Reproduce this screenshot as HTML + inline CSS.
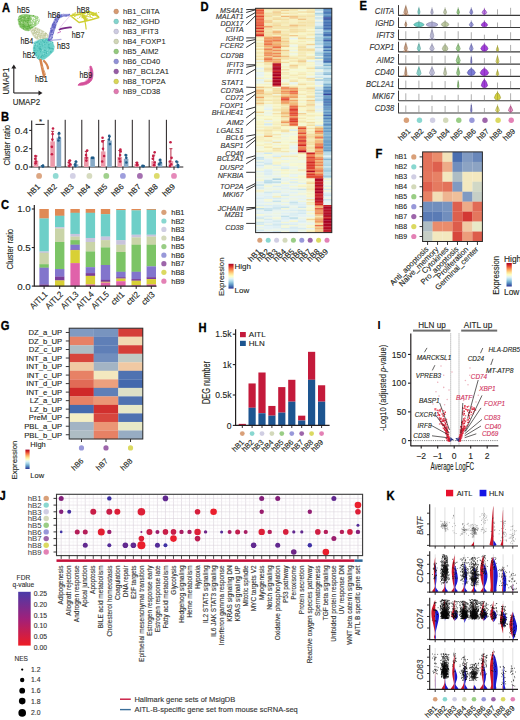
<!DOCTYPE html>
<html><head><meta charset="utf-8"><style>
html,body{margin:0;padding:0;background:#fff;}
body{width:520px;height:720px;overflow:hidden;}
svg{display:block;font-family:"Liberation Sans", sans-serif;}
</style></head><body>
<svg width="520" height="720" viewBox="0 0 520 720">
<rect width="520" height="720" fill="#fff"/>
<defs>
<linearGradient id="gexpr" x1="0" y1="0" x2="0" y2="1"><stop offset="0" stop-color="#a50026"/><stop offset="0.1" stop-color="#d73027"/><stop offset="0.2" stop-color="#f46d43"/><stop offset="0.3" stop-color="#fdae61"/><stop offset="0.4" stop-color="#fee090"/><stop offset="0.5" stop-color="#ffffbf"/><stop offset="0.6" stop-color="#e0f3f8"/><stop offset="0.7" stop-color="#abd9e9"/><stop offset="0.8" stop-color="#74add1"/><stop offset="0.9" stop-color="#4575b4"/><stop offset="1" stop-color="#313695"/></linearGradient>
<linearGradient id="gq" x1="0" y1="0" x2="0" y2="1"><stop offset="0" stop-color="#4a3aa8"/><stop offset="0.5" stop-color="#a0207a"/><stop offset="1" stop-color="#ee1c24"/></linearGradient>
</defs>
<text x="2" y="12" font-size="13" text-anchor="start" fill="#000" font-weight="bold" textLength="8.07" lengthAdjust="spacingAndGlyphs" stroke="#000" stroke-width="0.35">A</text>
<path d="M29.6,28.5 L36.5,27.5 L43.4,31 L48.5,35 L47.5,40 L41,40.5 L36,39 L32.5,35 Z" fill="#c9cfa6" stroke="#c9cfa6" stroke-width="0.6" fill-opacity="0.75" stroke-opacity="0.5" stroke-linejoin="round"/>
<path d="M34.1 34.6h0M36.6 35.4h0M34.5 30.5h0M45.4 33.7h0M41.6 38.8h0M39.5 37.1h0M43.9 35.2h0M35.3 27.9h0M46 33.6h0M43.2 38.9h0M43.1 39.5h0M37.1 37.9h0M32.2 30.3h0M41.4 31.4h0M39.2 32.5h0M36.2 35.1h0M40.6 39.3h0M42.5 39.6h0M45.9 40h0M46.7 34.9h0M45.3 35h0M35 28.3h0M37.4 29.5h0M35.2 37.5h0M43.2 31.8h0M35.5 28.5h0M33.3 32.8h0M38.3 34.3h0M41.8 35.2h0M40.2 35.6h0M37.7 36.9h0M34.1 31.4h0M37.4 35h0M41.5 33.6h0M42.4 32.1h0M43 37.1h0M42.4 40h0M34.3 33.4h0M40.8 31.7h0M36.5 31.6h0M36.6 35.2h0M35.3 32.4h0M40.4 37.1h0M35.5 30.4h0M33.1 33.2h0M35.7 31.8h0M45.4 33.2h0M36 36h0M46.3 33.4h0M33.9 29.1h0M39.6 30h0M44.8 38.4h0M33.1 31.1h0M44.9 35.8h0M32.1 31.3h0M36.1 32.9h0M37.5 32.8h0M43.7 38.4h0M42.1 34.2h0M35.1 31.9h0" stroke="#bcc596" stroke-width="1.2" stroke-linecap="round"/>
<path d="M33.9 28.4h0M40.7 31.2h0M46.7 36.5h0M47.1 39.2h0M46.6 35h0M32.8 31.4h0M42.1 34.3h0M41.2 31.9h0M38.6 37.7h0M36.2 30.1h0M39.7 38.1h0M47 38h0M41.5 38.7h0M34.7 34.4h0M37.6 33.6h0M30.6 29.1h0M32 28.4h0M35.6 31.6h0M36.2 35.9h0M40.7 32.2h0M33.2 31.8h0M43.1 32.4h0M31.1 29.8h0M36.7 35.4h0M44.4 32.4h0" stroke="#ffffff" stroke-width="0.96" stroke-linecap="round"/>
<path d="M18.7,16.5 L21.5,14.8 L26.1,14.2 L33.1,15.4 L37.7,16.5 L39.4,20 L38.3,23.5 L35.4,25.8 L31.9,28.1 L29,31 L25,30.4 L21,28.1 L18.7,24.6 L18.1,20 Z" fill="#7cc05e" stroke="#7cc05e" stroke-width="0.6" fill-opacity="0.95" stroke-opacity="0.5" stroke-linejoin="round"/>
<path d="M35.2 24.7h0M27.3 20.5h0M28.7 26h0M27.1 25.9h0M27.9 18.3h0M29.5 25.9h0M19.6 21.3h0M27.2 29h0M38 20.5h0M23.7 22h0M35 25.4h0M33.7 23.7h0M20.3 24.1h0M20.1 15.9h0M36.9 17.2h0M34.4 22.8h0M33.3 16h0M19.4 19.6h0M30.1 28.1h0M23.3 17.2h0M23.4 24.5h0M34.2 20.8h0M25.9 20.9h0M25.6 21.2h0M19.9 22.6h0M38.8 21.1h0M34 16.9h0M32.8 26.9h0M32.5 22.9h0M28.4 25h0M37.2 16.7h0M20.1 26.8h0M37.6 22.9h0M27.5 26.3h0M22.1 18.7h0M22.3 24h0M24.8 18.1h0M24.4 26h0M26.9 28.5h0M30.6 18.7h0M28.3 20.6h0M21.8 20.3h0M25 27.2h0M28.3 24.3h0M28.1 28.2h0M35.6 23.6h0M28.4 26.3h0M36.3 20.9h0M28.1 18.1h0M23.1 26.3h0M36.3 18.3h0M22.1 18.5h0M22.1 26h0M23.5 28.7h0M24.8 21.3h0M33.6 15.6h0M24.3 20.2h0M30.5 25.5h0M18.2 19.8h0M27.4 22.4h0M22.6 24h0M38.4 20.8h0M29.7 16.2h0M24 25.4h0M38.1 20.5h0M24.4 25.6h0M32 27.7h0M23.8 26.9h0M29.5 16.1h0M28.6 20.1h0M33.4 25.6h0M30.2 17.3h0M31.9 24.8h0M32.1 16.3h0M25.2 26.3h0M30.8 23.5h0M31.9 21.9h0M24.8 17.2h0M34.2 23.3h0M33.9 20.2h0M23.8 20.6h0M28.9 18.4h0M34.5 20.1h0M25.2 21h0M29.6 27.2h0M25.6 28.4h0M20.5 18.7h0M20.2 16.1h0M22 17.4h0M27 26.7h0" stroke="#5fb040" stroke-width="1.2" stroke-linecap="round"/>
<path d="M30.7 16.7h0M26.6 17.5h0M29.3 23.7h0M22.4 18.4h0M38.3 20.6h0M29.9 24h0M32.7 19.2h0M36.4 22.3h0M30.9 26.4h0M32.2 22.5h0M29.3 21.9h0M22.2 23.1h0M18.9 22.6h0M31.9 21.7h0M37.1 16.5h0M35 24.7h0M19.2 20.2h0M23.1 15.5h0M29.6 29.8h0M25 28.8h0M32.9 16.5h0M36.4 24.3h0M33.9 20h0M36.4 21.5h0M34.2 22.3h0M19.8 17.6h0M21.5 22.6h0M33 23.2h0M27.1 25.1h0M24.6 22h0M34.2 20.9h0M33.4 20.4h0M26 23.1h0M30.8 18h0M34.8 16.6h0" stroke="#c8e6b4" stroke-width="0.96" stroke-linecap="round"/>
<path d="M31,17 L37.7,16.5 L39.4,20 L38.3,23.5 L35.4,25.8 L32,27 L30.5,22 Z" fill="#a8d890" stroke="#a8d890" stroke-width="0.6" fill-opacity="0.7" stroke-opacity="0.5" stroke-linejoin="round"/>
<path d="M34.6 18.6h0M32.4 18.3h0M34.1 18.3h0M32 21.6h0M34.5 20.8h0M36.8 17h0M34.1 20.7h0M32.4 17.5h0M34.7 18.2h0M36 20.1h0M31.6 17h0M37 19.4h0M37.5 21.4h0M38.8 19.7h0M32.7 19.3h0M37.8 23.1h0M33.6 17.5h0M31 23.4h0M38.5 18.6h0M33.2 22.9h0M33.1 25.4h0M31.5 20.6h0M33.5 23.6h0M37.1 24.2h0M37.9 22.3h0M38.7 20.3h0M34.2 18.9h0M37.4 21.5h0M32.9 18.3h0M36.9 22.9h0" stroke="#ffffff" stroke-width="1" stroke-linecap="round"/>
<path d="M34.2,41.9 L40,39.6 L48,38.4 L52.7,41.9 L54.4,46.5 L53.8,51.1 L49.2,55.7 L44.6,59.2 L40,60.4 L37.1,58 L33.6,53.4 L33.1,48.8 Z" fill="#62cdc6" stroke="#62cdc6" stroke-width="0.6" fill-opacity="0.95" stroke-opacity="0.5" stroke-linejoin="round"/>
<path d="M48.2 46.9h0M43.5 41.8h0M48.2 38.9h0M43 55.1h0M47.5 40.5h0M38.2 57h0M51.7 48.3h0M40.2 46.5h0M34.6 47.2h0M45.2 40.8h0M34.8 52.7h0M36.4 52.6h0M37.8 50.8h0M42 55.6h0M46 55.8h0M44.5 42.5h0M50.7 40.9h0M37.3 58.1h0M34.9 48.6h0M37.8 56.6h0M46.2 52.5h0M40.5 51.7h0M42.6 40.8h0M50.9 51.5h0M50.5 42.9h0M44.6 48.6h0M48.6 40.1h0M40.5 49.1h0M34.6 50.6h0M48.8 47.7h0M46.9 51.7h0M37.7 46.1h0M42.3 40.3h0M37.7 42h0M44.5 47.6h0M53.3 49.1h0M49.6 47.4h0M39.3 59h0M48.5 44.9h0M44.2 52.5h0M39 47.9h0M40.4 54.7h0M49 44.7h0M35.3 45h0M41.9 40.1h0M36.4 55.2h0M41 41.9h0M39.7 48.6h0M44.3 50.3h0M40.8 57.2h0M39.2 48.6h0M39.4 43.7h0M35.9 50.1h0M44.5 42h0M34.2 42.9h0M49.5 48.6h0M42.3 45.8h0M34.2 50.4h0M35.1 45.3h0M38.4 56h0M42 44.1h0M34 47.9h0M46.5 53.3h0M38.4 41.4h0M43.9 56.7h0M44.9 44.6h0M52.4 48.7h0M50.4 51.7h0M41.9 49.8h0M36.7 42.4h0M44.8 47.4h0M40.6 48.4h0M50.2 48.4h0M39.8 49.9h0M41.9 57.1h0M46.1 39.1h0M45.3 50.5h0M43.5 44.6h0M35.3 53.1h0M41 49.7h0M46.8 42.7h0M52.7 42.4h0M41.3 56.6h0M39.8 44.4h0M39.9 47h0M39.1 41.3h0M34.8 43.5h0M44.3 54.7h0M51 52.3h0M39.1 59.5h0" stroke="#45b8b2" stroke-width="1.2" stroke-linecap="round"/>
<path d="M34.6 44.3h0M43.4 44.3h0M44.7 39.4h0M47.5 52.6h0M49.3 42.3h0M37.1 56.5h0M53.6 50.2h0M41.2 40.8h0M39.1 41.3h0M36.2 41.2h0M40.6 58.5h0M34.7 42.6h0M40.6 59.3h0M43.4 53.9h0M40.5 54.9h0M49.8 50.9h0M43 50.2h0M42.5 50.2h0M50.8 42.8h0M51.2 42.3h0M36.7 44.2h0M53.9 47.4h0M47.7 50h0M49.4 40.4h0M44.6 48.1h0" stroke="#a8e6e2" stroke-width="0.96" stroke-linecap="round"/>
<path d="M40.5,60 C41.5,64 42.5,70 44.2,76.5" fill="none" stroke="#d58650" stroke-width="2.6" stroke-linecap="round"/>
<path d="M44,61 C46,63 48,66 48,68.5" fill="none" stroke="#d58650" stroke-width="2.2" stroke-linecap="round"/>
<path d="M41.8,66 C43.5,69 45,72 45.5,75" fill="none" stroke="#e0a070" stroke-width="1"/>
<path d="M48,41 L49.5,33 L52,25 L55.5,17.5 L58,14.5 L64,14.2 L70,14.2 L70,16 L63,16.5 L59,18.5 L57,23 L55,29 L53,35 L51.5,41 Z" fill="#7070cc" stroke="#7070cc" stroke-width="0.6" fill-opacity="0.85" stroke-opacity="0.5" stroke-linejoin="round"/>
<path d="M51.2 30.3h0M55.1 27.8h0M56.2 22.7h0M49.3 37.1h0M56.1 20h0M54.6 27.7h0M52.8 24.1h0M54 24.6h0M57.6 16.8h0M55.3 25.4h0M52.4 24.7h0M48.6 39.3h0M50.9 28.4h0M52.3 37.6h0M66.3 15.7h0M52.8 26.1h0M51.9 34.3h0M57.7 15.7h0M58.6 19h0M53.5 32.9h0M52.3 25.1h0M60.7 17.1h0M52.4 27.7h0M54.1 22.6h0M57.5 21.2h0M50.2 33.1h0M51.6 32.1h0M53.9 27.8h0M51.7 31.4h0M52.6 34.5h0M51.5 40.5h0M51 30.9h0M63.4 14.3h0M52.9 26.3h0M53.1 25.3h0M55.5 19.5h0M50.2 39h0M57.7 17.6h0M54.7 26.9h0M54.6 22.4h0M50.9 31h0M49.9 40h0M49 40h0M61.9 16.4h0M69.2 14.4h0M61.2 15h0M53.7 26.9h0M53.6 23.8h0M55.5 25.8h0M52.3 30.4h0M50.3 34.7h0M52.4 24.8h0M51 35h0M54.9 26.1h0M48.4 39.6h0M55 24.5h0M49.9 38h0M54.7 20h0M66 16.1h0M51.4 40.2h0" stroke="#5e5ec0" stroke-width="1.1" stroke-linecap="round"/>
<path d="M60.3 17.3h0M57.4 15.7h0M50.3 38.3h0M56.8 23.4h0M60.7 14.9h0M55.4 22h0M58.6 17.4h0M51.7 36.9h0M56.3 23.9h0M50.5 37.4h0M51.9 35.5h0M69.6 15.6h0M56.3 17.1h0M49.8 38.1h0M62.6 15h0M52.6 33.4h0M63.4 14.6h0M52.2 28.6h0M51 33.7h0M54.2 20.5h0" stroke="#c8c8f0" stroke-width="0.88" stroke-linecap="round"/>
<path d="M59.5,29.5 C62,28.5 66,28 71,27.3" fill="none" stroke="#7a2a88" stroke-width="1.8" stroke-linecap="round"/>
<path d="M57.5,33 C59,32.5 60,32 61,31.5" fill="none" stroke="#c050b0" stroke-width="0.9"/>
<path d="M70,16 C66,20 62,25 59,29" fill="none" stroke="#d8a8e0" stroke-width="0.6"/>
<path d="M51,40.5 C54,40 57.5,39.8 61,39.3" fill="none" stroke="#b0aee0" stroke-width="1.3" stroke-linecap="round"/>
<path d="M70.5,15.6 L76,14.8 L83.5,13.5 L88,11.5 L93,13 L98.8,17.5 L92,19.5 L86,21 L79,22.5 Z" fill="none" stroke="#cfd032" stroke-width="1.4" stroke-linejoin="round"/>
<path d="M82.5,14 C84,17 85.5,22 86.2,29.5" fill="none" stroke="#cfd032" stroke-width="1.2"/>
<path d="M81,16 C85,15.5 89,16.5 93,18" fill="none" stroke="#cfd032" stroke-width="0.8"/>
<path d="M82,16.5 C84.5,16 85.5,18.5 86,21" fill="none" stroke="#cfd032" stroke-width="3"/>
<path d="M88,11.5 C92,12 96,14 99,17" fill="none" stroke="#cfd032" stroke-width="1.2"/>
<path d="M77.1 15.1h0M89.8 13.5h0M91.8 12.7h0M91.2 13.7h0M82.6 15.5h0M82.4 17.2h0M87.9 14h0M85.4 13.1h0M80.5 14.4h0M89.9 15.4h0M86 17.2h0M84 13.4h0M93.5 13.8h0M73.7 13.9h0M87.2 15.1h0M80.1 16.3h0M80 13h0M94.3 13.2h0M87.6 18.9h0M75.3 13.2h0M93.4 14.8h0M74.3 15h0M90.4 16.6h0M74.6 16.3h0M83.1 14.8h0M93.1 14.3h0M90.2 14.7h0M89.8 14h0M92.9 13.6h0M78.7 12.5h0M84 18.5h0M95.2 15.1h0M76.9 15h0M91.5 13.1h0M78 14.2h0M80.9 15.2h0M82 13.8h0M85 15.4h0M91.3 13.1h0M93.7 13.1h0M85.4 17.2h0M92.5 12.8h0M96.9 14.2h0M73.4 14.4h0M80.3 12.9h0M79.6 17.5h0M82.1 13h0M92.4 12.7h0M72.4 14.1h0M95.3 13.4h0M82 17.7h0M73.4 15.5h0M94.5 13.5h0M93.6 15.4h0M98.7 12.5h0M92 13h0M77.3 13.9h0M92.7 15.4h0M73.6 14.8h0M77 15.3h0M84.3 13.2h0M80 12.7h0M88.8 14.3h0M87.3 12.8h0M95.5 15h0M95.2 14.2h0M73.8 15.3h0M87.5 19.1h0M96.4 12.9h0M95.7 13.7h0M74.4 13.8h0M75.2 12.6h0M78.8 15h0M84.6 13.4h0M75.6 15.9h0M79.4 14.4h0M91.4 14.4h0M93.8 14.1h0M85.6 17.3h0M86.5 16h0M77.9 18.3h0M88.9 14.1h0M89.1 14.1h0M84.4 15.2h0M92.4 14.6h0M95.4 13h0M82.1 16.1h0M87.6 14.1h0M80.3 14.3h0M94 15.4h0" stroke="#cfd032" stroke-width="1.2" stroke-linecap="round"/>
<path d="M91,66 C93.5,70 93.5,77 91.5,80.5 C88.5,84.5 83,85.8 78,85.2 C79,83.3 80,83 83,82.6 C86.5,82 88.5,79.5 89.5,76.5 C90.3,73 90.3,69.5 89.8,66.5 Z" fill="#d4509a" stroke="#d4509a" stroke-width="0.8"/>
<path d="M88.5,69 C89,73 88.5,78 85,81" fill="none" stroke="#f0a8cc" stroke-width="0.5"/>
<text x="17" y="13.2" font-size="8.2" text-anchor="start" fill="#231f20" stroke="#231f20" stroke-width="0.12" textLength="12.8" lengthAdjust="spacingAndGlyphs">hB5</text>
<text x="47.8" y="17.5" font-size="8.2" text-anchor="start" fill="#231f20" stroke="#231f20" stroke-width="0.12" textLength="12.8" lengthAdjust="spacingAndGlyphs">hB6</text>
<text x="76.8" y="12.5" font-size="8.2" text-anchor="start" fill="#231f20" stroke="#231f20" stroke-width="0.12" textLength="12.8" lengthAdjust="spacingAndGlyphs">hB8</text>
<text x="71.8" y="38" font-size="8.2" text-anchor="start" fill="#231f20" stroke="#231f20" stroke-width="0.12" textLength="12.8" lengthAdjust="spacingAndGlyphs">hB7</text>
<text x="20.4" y="44" font-size="8.2" text-anchor="start" fill="#231f20" stroke="#231f20" stroke-width="0.12" textLength="12.8" lengthAdjust="spacingAndGlyphs">hB4</text>
<text x="56.9" y="49.4" font-size="8.2" text-anchor="start" fill="#231f20" stroke="#231f20" stroke-width="0.12" textLength="12.8" lengthAdjust="spacingAndGlyphs">hB3</text>
<text x="22.7" y="57.9" font-size="8.2" text-anchor="start" fill="#231f20" stroke="#231f20" stroke-width="0.12" textLength="12.8" lengthAdjust="spacingAndGlyphs">hB2</text>
<text x="35" y="82.3" font-size="8.2" text-anchor="start" fill="#231f20" stroke="#231f20" stroke-width="0.12" textLength="12.8" lengthAdjust="spacingAndGlyphs">hB1</text>
<text x="79.4" y="77.5" font-size="8.2" text-anchor="start" fill="#231f20" stroke="#231f20" stroke-width="0.12" textLength="12.8" lengthAdjust="spacingAndGlyphs">hB9</text>
<path d="M13.8,93 L13.8,67" fill="none" stroke="#231f20" stroke-width="1.1"/>
<path d="M11.3,68.5 L13.8,64.5 L16.3,68.5 Z" fill="#231f20" stroke="none" stroke-width="1"/>
<path d="M13.8,93 L39.5,93" fill="none" stroke="#231f20" stroke-width="1.1"/>
<path d="M38.5,90.5 L42.5,93 L38.5,95.5 Z" fill="#231f20" stroke="none" stroke-width="1"/>
<text x="9.2" y="94.6" font-size="8.6" text-anchor="start" fill="#231f20" stroke="#231f20" stroke-width="0.12" transform="rotate(-90 9.2 94.6)" textLength="27" lengthAdjust="spacingAndGlyphs">UMAP1</text>
<text x="12.7" y="104.6" font-size="8.2" text-anchor="start" fill="#231f20" stroke="#231f20" stroke-width="0.12" textLength="27.5" lengthAdjust="spacingAndGlyphs">UMAP2</text>
<circle cx="116.2" cy="11.5" r="2.4" fill="#d08858" fill-opacity="0.85" stroke="#915f3d" stroke-width="0.5" stroke-opacity="0.6"/>
<text x="123" y="14.3" font-size="7.6" text-anchor="start" fill="#231f20" stroke="#231f20" stroke-width="0.06">hB1_CIITA</text>
<circle cx="116.2" cy="21.5" r="2.4" fill="#6ccdc4" fill-opacity="0.85" stroke="#4b8f89" stroke-width="0.5" stroke-opacity="0.6"/>
<text x="123" y="24.3" font-size="7.6" text-anchor="start" fill="#231f20" stroke="#231f20" stroke-width="0.06">hB2_IGHD</text>
<circle cx="116.2" cy="31.5" r="2.4" fill="#c4c2dc" fill-opacity="0.85" stroke="#89879a" stroke-width="0.5" stroke-opacity="0.6"/>
<text x="123" y="34.3" font-size="7.6" text-anchor="start" fill="#231f20" stroke="#231f20" stroke-width="0.06">hB3_IFIT3</text>
<circle cx="116.2" cy="41.5" r="2.4" fill="#c8cfa9" fill-opacity="0.85" stroke="#8c9076" stroke-width="0.5" stroke-opacity="0.6"/>
<text x="123" y="44.3" font-size="7.6" text-anchor="start" fill="#231f20" stroke="#231f20" stroke-width="0.06">hB4_FOXP1</text>
<circle cx="116.2" cy="51.5" r="2.4" fill="#80c066" fill-opacity="0.85" stroke="#598647" stroke-width="0.5" stroke-opacity="0.6"/>
<text x="123" y="54.3" font-size="7.6" text-anchor="start" fill="#231f20" stroke="#231f20" stroke-width="0.06">hB5_AIM2</text>
<circle cx="116.2" cy="61.5" r="2.4" fill="#7e7ed0" fill-opacity="0.85" stroke="#585891" stroke-width="0.5" stroke-opacity="0.6"/>
<text x="123" y="64.3" font-size="7.6" text-anchor="start" fill="#231f20" stroke="#231f20" stroke-width="0.06">hB6_CD40</text>
<circle cx="116.2" cy="71.5" r="2.4" fill="#853f95" fill-opacity="0.85" stroke="#5d2c68" stroke-width="0.5" stroke-opacity="0.6"/>
<text x="123" y="74.3" font-size="7.6" text-anchor="start" fill="#231f20" stroke="#231f20" stroke-width="0.06">hB7_BCL2A1</text>
<circle cx="116.2" cy="81.5" r="2.4" fill="#d2cf3a" fill-opacity="0.85" stroke="#939028" stroke-width="0.5" stroke-opacity="0.6"/>
<text x="123" y="84.3" font-size="7.6" text-anchor="start" fill="#231f20" stroke="#231f20" stroke-width="0.06">hB8_TOP2A</text>
<circle cx="116.2" cy="91.5" r="2.4" fill="#dc62a2" fill-opacity="0.85" stroke="#9a4471" stroke-width="0.5" stroke-opacity="0.6"/>
<text x="123" y="94.3" font-size="7.6" text-anchor="start" fill="#231f20" stroke="#231f20" stroke-width="0.06">hB9_CD38</text>
<text x="1" y="120.5" font-size="13" text-anchor="start" fill="#000" font-weight="bold" textLength="8.07" lengthAdjust="spacingAndGlyphs" stroke="#000" stroke-width="0.35">B</text>
<line x1="31.7" y1="120.5" x2="31.7" y2="167.5" stroke="#231f20" stroke-width="1.1"/>
<line x1="29.2" y1="167" x2="31.7" y2="167" stroke="#231f20" stroke-width="1.1"/>
<text x="28.3" y="170.4" font-size="9.5" text-anchor="end" fill="#231f20" stroke="#231f20" stroke-width="0.12" textLength="13.6" lengthAdjust="spacingAndGlyphs">0.0</text>
<line x1="29.2" y1="148.7" x2="31.7" y2="148.7" stroke="#231f20" stroke-width="1.1"/>
<text x="28.3" y="152.1" font-size="9.5" text-anchor="end" fill="#231f20" stroke="#231f20" stroke-width="0.12" textLength="13.6" lengthAdjust="spacingAndGlyphs">0.2</text>
<line x1="29.2" y1="130.4" x2="31.7" y2="130.4" stroke="#231f20" stroke-width="1.1"/>
<text x="28.3" y="133.8" font-size="9.5" text-anchor="end" fill="#231f20" stroke="#231f20" stroke-width="0.12" textLength="13.6" lengthAdjust="spacingAndGlyphs">0.4</text>
<text x="9.5" y="165.5" font-size="9.5" text-anchor="start" fill="#231f20" stroke="#231f20" stroke-width="0.12" transform="rotate(-90 9.5 165.5)" textLength="40.5" lengthAdjust="spacingAndGlyphs">Cluster ratio</text>
<line x1="31.7" y1="167" x2="183.3" y2="167" stroke="#231f20" stroke-width="1.1"/>
<line x1="48.1" y1="119.8" x2="48.1" y2="167" stroke="#231f20" stroke-width="1"/>
<line x1="65.2" y1="119.8" x2="65.2" y2="167" stroke="#231f20" stroke-width="1"/>
<line x1="81.8" y1="119.8" x2="81.8" y2="167" stroke="#231f20" stroke-width="1"/>
<line x1="98.7" y1="119.8" x2="98.7" y2="167" stroke="#231f20" stroke-width="1"/>
<line x1="115.3" y1="119.8" x2="115.3" y2="167" stroke="#231f20" stroke-width="1"/>
<line x1="132.3" y1="119.8" x2="132.3" y2="167" stroke="#231f20" stroke-width="1"/>
<line x1="149.2" y1="119.8" x2="149.2" y2="167" stroke="#231f20" stroke-width="1"/>
<line x1="166.4" y1="119.8" x2="166.4" y2="167" stroke="#231f20" stroke-width="1"/>
<rect x="33.7" y="160.59" width="4.6" height="6.41" fill="#ec9aaa"/>
<line x1="36" y1="156.02" x2="36" y2="160.59" stroke="#b01838" stroke-width="0.9"/>
<line x1="34.5" y1="156.02" x2="37.5" y2="156.02" stroke="#b01838" stroke-width="0.9"/>
<circle cx="35.52" cy="163.34" r="1.3" fill="#c41e45"/>
<circle cx="35.93" cy="161.51" r="1.3" fill="#c41e45"/>
<circle cx="35.19" cy="158.76" r="1.3" fill="#c41e45"/>
<circle cx="35.46" cy="156.02" r="1.3" fill="#c41e45"/>
<rect x="40" y="166.09" width="4.6" height="0.92" fill="#86a9c6"/>
<line x1="42.3" y1="165.63" x2="42.3" y2="166.09" stroke="#1b4f7a" stroke-width="0.9"/>
<line x1="40.8" y1="165.63" x2="43.8" y2="165.63" stroke="#1b4f7a" stroke-width="0.9"/>
<circle cx="42.98" cy="166.54" r="1.3" fill="#1f5b88"/>
<circle cx="42.72" cy="166.09" r="1.3" fill="#1f5b88"/>
<circle cx="43.03" cy="165.63" r="1.3" fill="#1f5b88"/>
<line x1="39.1" y1="167" x2="39.1" y2="169.8" stroke="#231f20" stroke-width="1"/>
<circle cx="39.1" cy="175.9" r="2.9" fill="#d08858" fill-opacity="0.75"/>
<text x="40.7" y="187" font-size="8" text-anchor="end" fill="#231f20" stroke="#231f20" stroke-width="0.12" transform="rotate(-45 40.7 187)">hB1</text>
<rect x="50.3" y="141.38" width="4.6" height="25.62" fill="#ec9aaa"/>
<line x1="52.6" y1="131.31" x2="52.6" y2="141.38" stroke="#b01838" stroke-width="0.9"/>
<line x1="51.1" y1="131.31" x2="54.1" y2="131.31" stroke="#b01838" stroke-width="0.9"/>
<circle cx="51.92" cy="154.19" r="1.3" fill="#c41e45"/>
<circle cx="51.82" cy="146.87" r="1.3" fill="#c41e45"/>
<circle cx="52.36" cy="139.55" r="1.3" fill="#c41e45"/>
<circle cx="52.59" cy="134.06" r="1.3" fill="#c41e45"/>
<circle cx="53.02" cy="128.57" r="1.3" fill="#c41e45"/>
<rect x="56.6" y="137.72" width="4.6" height="29.28" fill="#86a9c6"/>
<line x1="58.9" y1="134.06" x2="58.9" y2="137.72" stroke="#1b4f7a" stroke-width="0.9"/>
<line x1="57.4" y1="134.06" x2="60.4" y2="134.06" stroke="#1b4f7a" stroke-width="0.9"/>
<circle cx="58.5" cy="140.47" r="1.3" fill="#1f5b88"/>
<circle cx="59.37" cy="137.72" r="1.3" fill="#1f5b88"/>
<circle cx="59.07" cy="133.15" r="1.3" fill="#1f5b88"/>
<line x1="55.7" y1="167" x2="55.7" y2="169.8" stroke="#231f20" stroke-width="1"/>
<circle cx="55.7" cy="175.9" r="2.9" fill="#6ccdc4" fill-opacity="0.75"/>
<text x="57.3" y="187" font-size="8" text-anchor="end" fill="#231f20" stroke="#231f20" stroke-width="0.12" transform="rotate(-45 57.3 187)">hB2</text>
<rect x="67.4" y="164.25" width="4.6" height="2.75" fill="#ec9aaa"/>
<line x1="69.7" y1="160.59" x2="69.7" y2="164.25" stroke="#b01838" stroke-width="0.9"/>
<line x1="68.2" y1="160.59" x2="71.2" y2="160.59" stroke="#b01838" stroke-width="0.9"/>
<circle cx="69.28" cy="166.09" r="1.3" fill="#c41e45"/>
<circle cx="70.28" cy="164.25" r="1.3" fill="#c41e45"/>
<circle cx="68.85" cy="162.43" r="1.3" fill="#c41e45"/>
<circle cx="69.88" cy="160.59" r="1.3" fill="#c41e45"/>
<rect x="73.7" y="164.25" width="4.6" height="2.75" fill="#86a9c6"/>
<line x1="76" y1="161.97" x2="76" y2="164.25" stroke="#1b4f7a" stroke-width="0.9"/>
<line x1="74.5" y1="161.97" x2="77.5" y2="161.97" stroke="#1b4f7a" stroke-width="0.9"/>
<circle cx="75.38" cy="166.09" r="1.3" fill="#1f5b88"/>
<circle cx="75.09" cy="164.25" r="1.3" fill="#1f5b88"/>
<circle cx="75.96" cy="161.51" r="1.3" fill="#1f5b88"/>
<line x1="72.8" y1="167" x2="72.8" y2="169.8" stroke="#231f20" stroke-width="1"/>
<circle cx="72.8" cy="175.9" r="2.9" fill="#c4c2dc" fill-opacity="0.75"/>
<text x="74.4" y="187" font-size="8" text-anchor="end" fill="#231f20" stroke="#231f20" stroke-width="0.12" transform="rotate(-45 74.4 187)">hB3</text>
<rect x="84" y="156.94" width="4.6" height="10.06" fill="#ec9aaa"/>
<line x1="86.3" y1="151.44" x2="86.3" y2="156.94" stroke="#b01838" stroke-width="0.9"/>
<line x1="84.8" y1="151.44" x2="87.8" y2="151.44" stroke="#b01838" stroke-width="0.9"/>
<circle cx="86.34" cy="160.59" r="1.3" fill="#c41e45"/>
<circle cx="86.53" cy="157.85" r="1.3" fill="#c41e45"/>
<circle cx="86.05" cy="155.1" r="1.3" fill="#c41e45"/>
<circle cx="87.16" cy="150.53" r="1.3" fill="#c41e45"/>
<rect x="90.3" y="157.85" width="4.6" height="9.15" fill="#86a9c6"/>
<line x1="92.6" y1="157.39" x2="92.6" y2="157.85" stroke="#1b4f7a" stroke-width="0.9"/>
<line x1="91.1" y1="157.39" x2="94.1" y2="157.39" stroke="#1b4f7a" stroke-width="0.9"/>
<circle cx="93.17" cy="157.85" r="1.3" fill="#1f5b88"/>
<circle cx="91.91" cy="157.85" r="1.3" fill="#1f5b88"/>
<line x1="89.4" y1="167" x2="89.4" y2="169.8" stroke="#231f20" stroke-width="1"/>
<circle cx="89.4" cy="175.9" r="2.9" fill="#c8cfa9" fill-opacity="0.75"/>
<text x="91" y="187" font-size="8" text-anchor="end" fill="#231f20" stroke="#231f20" stroke-width="0.12" transform="rotate(-45 91 187)">hB4</text>
<rect x="100.9" y="151.44" width="4.6" height="15.56" fill="#ec9aaa"/>
<line x1="103.2" y1="140.47" x2="103.2" y2="151.44" stroke="#b01838" stroke-width="0.9"/>
<line x1="101.7" y1="140.47" x2="104.7" y2="140.47" stroke="#b01838" stroke-width="0.9"/>
<circle cx="102.21" cy="161.51" r="1.3" fill="#c41e45"/>
<circle cx="104.12" cy="156.02" r="1.3" fill="#c41e45"/>
<circle cx="103.02" cy="148.7" r="1.3" fill="#c41e45"/>
<circle cx="102.41" cy="141.38" r="1.3" fill="#c41e45"/>
<circle cx="102.56" cy="137.72" r="1.3" fill="#c41e45"/>
<rect x="107.2" y="140.47" width="4.6" height="26.53" fill="#86a9c6"/>
<line x1="109.5" y1="136.81" x2="109.5" y2="140.47" stroke="#1b4f7a" stroke-width="0.9"/>
<line x1="108" y1="136.81" x2="111" y2="136.81" stroke="#1b4f7a" stroke-width="0.9"/>
<circle cx="109.9" cy="144.12" r="1.3" fill="#1f5b88"/>
<circle cx="108.85" cy="139.55" r="1.3" fill="#1f5b88"/>
<circle cx="109.25" cy="135.89" r="1.3" fill="#1f5b88"/>
<line x1="106.3" y1="167" x2="106.3" y2="169.8" stroke="#231f20" stroke-width="1"/>
<circle cx="106.3" cy="175.9" r="2.9" fill="#80c066" fill-opacity="0.75"/>
<text x="107.9" y="187" font-size="8" text-anchor="end" fill="#231f20" stroke="#231f20" stroke-width="0.12" transform="rotate(-45 107.9 187)">hB5</text>
<rect x="117.5" y="156.94" width="4.6" height="10.06" fill="#ec9aaa"/>
<line x1="119.8" y1="150.53" x2="119.8" y2="156.94" stroke="#b01838" stroke-width="0.9"/>
<line x1="118.3" y1="150.53" x2="121.3" y2="150.53" stroke="#b01838" stroke-width="0.9"/>
<circle cx="120.15" cy="161.51" r="1.3" fill="#c41e45"/>
<circle cx="119.5" cy="158.76" r="1.3" fill="#c41e45"/>
<circle cx="120.11" cy="155.1" r="1.3" fill="#c41e45"/>
<circle cx="120.7" cy="151.44" r="1.3" fill="#c41e45"/>
<circle cx="120.39" cy="149.62" r="1.3" fill="#c41e45"/>
<rect x="123.8" y="158.76" width="4.6" height="8.23" fill="#86a9c6"/>
<line x1="126.1" y1="155.1" x2="126.1" y2="158.76" stroke="#1b4f7a" stroke-width="0.9"/>
<line x1="124.6" y1="155.1" x2="127.6" y2="155.1" stroke="#1b4f7a" stroke-width="0.9"/>
<circle cx="126.36" cy="162.43" r="1.3" fill="#1f5b88"/>
<circle cx="126.35" cy="157.85" r="1.3" fill="#1f5b88"/>
<circle cx="125.72" cy="155.1" r="1.3" fill="#1f5b88"/>
<line x1="122.9" y1="167" x2="122.9" y2="169.8" stroke="#231f20" stroke-width="1"/>
<circle cx="122.9" cy="175.9" r="2.9" fill="#7e7ed0" fill-opacity="0.75"/>
<text x="124.5" y="187" font-size="8" text-anchor="end" fill="#231f20" stroke="#231f20" stroke-width="0.12" transform="rotate(-45 124.5 187)">hB6</text>
<rect x="134.5" y="163.8" width="4.6" height="3.2" fill="#ec9aaa"/>
<line x1="136.8" y1="162.43" x2="136.8" y2="163.8" stroke="#b01838" stroke-width="0.9"/>
<line x1="135.3" y1="162.43" x2="138.3" y2="162.43" stroke="#b01838" stroke-width="0.9"/>
<circle cx="137.08" cy="165.17" r="1.3" fill="#c41e45"/>
<circle cx="137.1" cy="164.25" r="1.3" fill="#c41e45"/>
<circle cx="136.97" cy="162.88" r="1.3" fill="#c41e45"/>
<rect x="140.8" y="166.09" width="4.6" height="0.92" fill="#86a9c6"/>
<line x1="143.1" y1="165.9" x2="143.1" y2="166.09" stroke="#1b4f7a" stroke-width="0.9"/>
<line x1="141.6" y1="165.9" x2="144.6" y2="165.9" stroke="#1b4f7a" stroke-width="0.9"/>
<circle cx="143.08" cy="166.27" r="1.3" fill="#1f5b88"/>
<circle cx="143.6" cy="166.09" r="1.3" fill="#1f5b88"/>
<circle cx="142.51" cy="165.9" r="1.3" fill="#1f5b88"/>
<line x1="139.9" y1="167" x2="139.9" y2="169.8" stroke="#231f20" stroke-width="1"/>
<circle cx="139.9" cy="175.9" r="2.9" fill="#853f95" fill-opacity="0.75"/>
<text x="141.5" y="187" font-size="8" text-anchor="end" fill="#231f20" stroke="#231f20" stroke-width="0.12" transform="rotate(-45 141.5 187)">hB7</text>
<rect x="151.4" y="161.05" width="4.6" height="5.95" fill="#ec9aaa"/>
<line x1="153.7" y1="155.1" x2="153.7" y2="161.05" stroke="#b01838" stroke-width="0.9"/>
<line x1="152.2" y1="155.1" x2="155.2" y2="155.1" stroke="#b01838" stroke-width="0.9"/>
<circle cx="154.13" cy="165.17" r="1.3" fill="#c41e45"/>
<circle cx="154.66" cy="162.43" r="1.3" fill="#c41e45"/>
<circle cx="152.77" cy="158.76" r="1.3" fill="#c41e45"/>
<circle cx="153.2" cy="156.02" r="1.3" fill="#c41e45"/>
<circle cx="154.67" cy="152.36" r="1.3" fill="#c41e45"/>
<rect x="157.7" y="162.43" width="4.6" height="4.58" fill="#86a9c6"/>
<line x1="160" y1="160.14" x2="160" y2="162.43" stroke="#1b4f7a" stroke-width="0.9"/>
<line x1="158.5" y1="160.14" x2="161.5" y2="160.14" stroke="#1b4f7a" stroke-width="0.9"/>
<circle cx="159.16" cy="164.25" r="1.3" fill="#1f5b88"/>
<circle cx="160.64" cy="162.43" r="1.3" fill="#1f5b88"/>
<circle cx="160.16" cy="159.68" r="1.3" fill="#1f5b88"/>
<line x1="156.8" y1="167" x2="156.8" y2="169.8" stroke="#231f20" stroke-width="1"/>
<circle cx="156.8" cy="175.9" r="2.9" fill="#d2cf3a" fill-opacity="0.75"/>
<text x="158.4" y="187" font-size="8" text-anchor="end" fill="#231f20" stroke="#231f20" stroke-width="0.12" transform="rotate(-45 158.4 187)">hB8</text>
<rect x="168.6" y="161.05" width="4.6" height="5.95" fill="#ec9aaa"/>
<line x1="170.9" y1="148.7" x2="170.9" y2="161.05" stroke="#b01838" stroke-width="0.9"/>
<line x1="169.4" y1="148.7" x2="172.4" y2="148.7" stroke="#b01838" stroke-width="0.9"/>
<circle cx="170.04" cy="166.09" r="1.3" fill="#c41e45"/>
<circle cx="171.16" cy="164.25" r="1.3" fill="#c41e45"/>
<circle cx="169.92" cy="161.51" r="1.3" fill="#c41e45"/>
<circle cx="171.6" cy="157.85" r="1.3" fill="#c41e45"/>
<circle cx="170.5" cy="142.29" r="1.3" fill="#c41e45"/>
<rect x="174.9" y="165.17" width="4.6" height="1.83" fill="#86a9c6"/>
<line x1="177.2" y1="161.97" x2="177.2" y2="165.17" stroke="#1b4f7a" stroke-width="0.9"/>
<line x1="175.7" y1="161.97" x2="178.7" y2="161.97" stroke="#1b4f7a" stroke-width="0.9"/>
<circle cx="178.05" cy="167" r="1.3" fill="#1f5b88"/>
<circle cx="178" cy="165.17" r="1.3" fill="#1f5b88"/>
<circle cx="176.47" cy="161.51" r="1.3" fill="#1f5b88"/>
<line x1="174" y1="167" x2="174" y2="169.8" stroke="#231f20" stroke-width="1"/>
<circle cx="174" cy="175.9" r="2.9" fill="#dc62a2" fill-opacity="0.75"/>
<text x="175.6" y="187" font-size="8" text-anchor="end" fill="#231f20" stroke="#231f20" stroke-width="0.12" transform="rotate(-45 175.6 187)">hB9</text>
<line x1="35.5" y1="124.4" x2="44.6" y2="124.4" stroke="#231f20" stroke-width="1"/>
<text x="40.5" y="123.5" font-size="8" text-anchor="middle" fill="#231f20" stroke="#231f20" stroke-width="0.12">*</text>
<text x="1" y="209" font-size="13" text-anchor="start" fill="#000" font-weight="bold" textLength="8.07" lengthAdjust="spacingAndGlyphs" stroke="#000" stroke-width="0.35">C</text>
<rect x="39.4" y="209" width="9.4" height="9.62" fill="#e08a55"/>
<rect x="39.4" y="218.47" width="9.4" height="33.15" fill="#6ecfc8"/>
<rect x="39.4" y="251.47" width="9.4" height="1.5" fill="#c8c4dc"/>
<rect x="39.4" y="252.83" width="9.4" height="11.51" fill="#c9d4a8"/>
<rect x="39.4" y="264.19" width="9.4" height="3.67" fill="#7cc466"/>
<rect x="39.4" y="267.7" width="9.4" height="16.92" fill="#8275cc"/>
<rect x="39.4" y="284.48" width="9.4" height="1.77" fill="#7a3c98"/>
<rect x="55" y="209" width="9.4" height="6.91" fill="#e08a55"/>
<rect x="55" y="215.76" width="9.4" height="11.51" fill="#6ecfc8"/>
<rect x="55" y="227.13" width="9.4" height="1.5" fill="#c8c4dc"/>
<rect x="55" y="228.48" width="9.4" height="13.68" fill="#c9d4a8"/>
<rect x="55" y="242" width="9.4" height="27.2" fill="#7cc466"/>
<rect x="55" y="269.06" width="9.4" height="7.72" fill="#8275cc"/>
<rect x="55" y="276.63" width="9.4" height="3.94" fill="#7a3c98"/>
<rect x="55" y="280.42" width="9.4" height="5.83" fill="#d8d035"/>
<rect x="70.4" y="209" width="9.4" height="3.94" fill="#e08a55"/>
<rect x="70.4" y="212.79" width="9.4" height="21.25" fill="#6ecfc8"/>
<rect x="70.4" y="233.89" width="9.4" height="2.86" fill="#c8c4dc"/>
<rect x="70.4" y="236.59" width="9.4" height="3.67" fill="#c9d4a8"/>
<rect x="70.4" y="240.11" width="9.4" height="4.75" fill="#7cc466"/>
<rect x="70.4" y="244.71" width="9.4" height="5.02" fill="#8275cc"/>
<rect x="70.4" y="249.58" width="9.4" height="0.69" fill="#7a3c98"/>
<rect x="70.4" y="250.12" width="9.4" height="13.14" fill="#d8d035"/>
<rect x="70.4" y="263.11" width="9.4" height="23.14" fill="#e062aa"/>
<rect x="85.7" y="209" width="9.4" height="3.94" fill="#e08a55"/>
<rect x="85.7" y="212.79" width="9.4" height="25.31" fill="#6ecfc8"/>
<rect x="85.7" y="237.95" width="9.4" height="4.21" fill="#c8c4dc"/>
<rect x="85.7" y="242" width="9.4" height="9.62" fill="#c9d4a8"/>
<rect x="85.7" y="251.47" width="9.4" height="15.84" fill="#7cc466"/>
<rect x="85.7" y="267.16" width="9.4" height="6.1" fill="#8275cc"/>
<rect x="85.7" y="273.11" width="9.4" height="2.86" fill="#7a3c98"/>
<rect x="85.7" y="275.82" width="9.4" height="8.81" fill="#d8d035"/>
<rect x="85.7" y="284.48" width="9.4" height="1.77" fill="#e062aa"/>
<rect x="100.8" y="209" width="9.4" height="5.29" fill="#e08a55"/>
<rect x="100.8" y="214.14" width="9.4" height="22.6" fill="#6ecfc8"/>
<rect x="100.8" y="236.59" width="9.4" height="3.67" fill="#c8c4dc"/>
<rect x="100.8" y="240.11" width="9.4" height="7.45" fill="#c9d4a8"/>
<rect x="100.8" y="247.41" width="9.4" height="17.73" fill="#7cc466"/>
<rect x="100.8" y="265" width="9.4" height="15.03" fill="#8275cc"/>
<rect x="100.8" y="279.88" width="9.4" height="2.04" fill="#7a3c98"/>
<rect x="100.8" y="281.77" width="9.4" height="0.96" fill="#d8d035"/>
<rect x="100.8" y="282.58" width="9.4" height="3.67" fill="#e062aa"/>
<rect x="116.2" y="209" width="9.4" height="1.23" fill="#e08a55"/>
<rect x="116.2" y="210.08" width="9.4" height="30.18" fill="#6ecfc8"/>
<rect x="116.2" y="240.11" width="9.4" height="4.75" fill="#c8c4dc"/>
<rect x="116.2" y="244.71" width="9.4" height="7.45" fill="#c9d4a8"/>
<rect x="116.2" y="252.01" width="9.4" height="19.9" fill="#7cc466"/>
<rect x="116.2" y="271.76" width="9.4" height="5.56" fill="#8275cc"/>
<rect x="116.2" y="277.17" width="9.4" height="1.5" fill="#7a3c98"/>
<rect x="116.2" y="278.53" width="9.4" height="2.86" fill="#d8d035"/>
<rect x="116.2" y="281.23" width="9.4" height="5.02" fill="#e062aa"/>
<rect x="131.5" y="209" width="9.4" height="1.5" fill="#e08a55"/>
<rect x="131.5" y="210.35" width="9.4" height="24.5" fill="#6ecfc8"/>
<rect x="131.5" y="234.7" width="9.4" height="2.86" fill="#c8c4dc"/>
<rect x="131.5" y="237.41" width="9.4" height="7.45" fill="#c9d4a8"/>
<rect x="131.5" y="244.71" width="9.4" height="27.2" fill="#7cc466"/>
<rect x="131.5" y="271.76" width="9.4" height="7.45" fill="#8275cc"/>
<rect x="131.5" y="279.07" width="9.4" height="1.77" fill="#7a3c98"/>
<rect x="131.5" y="280.69" width="9.4" height="4.75" fill="#d8d035"/>
<rect x="131.5" y="285.29" width="9.4" height="0.96" fill="#e062aa"/>
<rect x="146.6" y="209" width="9.4" height="0.96" fill="#e08a55"/>
<rect x="146.6" y="209.81" width="9.4" height="25.04" fill="#6ecfc8"/>
<rect x="146.6" y="234.7" width="9.4" height="2.04" fill="#c8c4dc"/>
<rect x="146.6" y="236.59" width="9.4" height="8.27" fill="#c9d4a8"/>
<rect x="146.6" y="244.71" width="9.4" height="21.79" fill="#7cc466"/>
<rect x="146.6" y="266.35" width="9.4" height="10.97" fill="#8275cc"/>
<rect x="146.6" y="277.17" width="9.4" height="2.04" fill="#7a3c98"/>
<rect x="146.6" y="279.07" width="9.4" height="5.56" fill="#d8d035"/>
<rect x="146.6" y="284.48" width="9.4" height="1.77" fill="#e062aa"/>
<line x1="34.3" y1="205" x2="34.3" y2="286.6" stroke="#231f20" stroke-width="1.2"/>
<line x1="34.3" y1="286.1" x2="156.5" y2="286.1" stroke="#231f20" stroke-width="1.2"/>
<line x1="31.8" y1="286.1" x2="34.3" y2="286.1" stroke="#231f20" stroke-width="1.1"/>
<text x="30.8" y="289.5" font-size="9.5" text-anchor="end" fill="#231f20" stroke="#231f20" stroke-width="0.12" textLength="13.6" lengthAdjust="spacingAndGlyphs">0.0</text>
<line x1="31.8" y1="247.55" x2="34.3" y2="247.55" stroke="#231f20" stroke-width="1.1"/>
<text x="30.8" y="250.95" font-size="9.5" text-anchor="end" fill="#231f20" stroke="#231f20" stroke-width="0.12" textLength="13.6" lengthAdjust="spacingAndGlyphs">0.5</text>
<line x1="31.8" y1="209" x2="34.3" y2="209" stroke="#231f20" stroke-width="1.1"/>
<text x="30.8" y="212.4" font-size="9.5" text-anchor="end" fill="#231f20" stroke="#231f20" stroke-width="0.12" textLength="13.6" lengthAdjust="spacingAndGlyphs">1.0</text>
<text x="12.8" y="269.5" font-size="9.5" text-anchor="start" fill="#231f20" stroke="#231f20" stroke-width="0.12" transform="rotate(-90 12.8 269.5)" textLength="40.5" lengthAdjust="spacingAndGlyphs">Cluster ratio</text>
<line x1="44.1" y1="286.1" x2="44.1" y2="288.9" stroke="#231f20" stroke-width="1"/>
<text x="48.1" y="295" font-size="8.6" text-anchor="end" fill="#231f20" stroke="#231f20" stroke-width="0.12" transform="rotate(-45 48.1 295)" textLength="21" lengthAdjust="spacingAndGlyphs">AITL1</text>
<line x1="59.7" y1="286.1" x2="59.7" y2="288.9" stroke="#231f20" stroke-width="1"/>
<text x="63.7" y="295" font-size="8.6" text-anchor="end" fill="#231f20" stroke="#231f20" stroke-width="0.12" transform="rotate(-45 63.7 295)" textLength="21" lengthAdjust="spacingAndGlyphs">AITL2</text>
<line x1="75.1" y1="286.1" x2="75.1" y2="288.9" stroke="#231f20" stroke-width="1"/>
<text x="79.1" y="295" font-size="8.6" text-anchor="end" fill="#231f20" stroke="#231f20" stroke-width="0.12" transform="rotate(-45 79.1 295)" textLength="21" lengthAdjust="spacingAndGlyphs">AITL3</text>
<line x1="90.4" y1="286.1" x2="90.4" y2="288.9" stroke="#231f20" stroke-width="1"/>
<text x="94.4" y="295" font-size="8.6" text-anchor="end" fill="#231f20" stroke="#231f20" stroke-width="0.12" transform="rotate(-45 94.4 295)" textLength="21" lengthAdjust="spacingAndGlyphs">AITL4</text>
<line x1="105.5" y1="286.1" x2="105.5" y2="288.9" stroke="#231f20" stroke-width="1"/>
<text x="109.5" y="295" font-size="8.6" text-anchor="end" fill="#231f20" stroke="#231f20" stroke-width="0.12" transform="rotate(-45 109.5 295)" textLength="21" lengthAdjust="spacingAndGlyphs">AITL5</text>
<line x1="120.9" y1="286.1" x2="120.9" y2="288.9" stroke="#231f20" stroke-width="1"/>
<text x="124.9" y="295" font-size="8.6" text-anchor="end" fill="#231f20" stroke="#231f20" stroke-width="0.12" transform="rotate(-45 124.9 295)" textLength="15" lengthAdjust="spacingAndGlyphs">ctrl1</text>
<line x1="136.2" y1="286.1" x2="136.2" y2="288.9" stroke="#231f20" stroke-width="1"/>
<text x="140.2" y="295" font-size="8.6" text-anchor="end" fill="#231f20" stroke="#231f20" stroke-width="0.12" transform="rotate(-45 140.2 295)" textLength="15" lengthAdjust="spacingAndGlyphs">ctrl2</text>
<line x1="151.3" y1="286.1" x2="151.3" y2="288.9" stroke="#231f20" stroke-width="1"/>
<text x="155.3" y="295" font-size="8.6" text-anchor="end" fill="#231f20" stroke="#231f20" stroke-width="0.12" transform="rotate(-45 155.3 295)" textLength="15" lengthAdjust="spacingAndGlyphs">ctrl3</text>
<circle cx="163.9" cy="212.3" r="2.6" fill="#d08858" fill-opacity="0.8"/>
<text x="171.3" y="215" font-size="7.4" text-anchor="start" fill="#231f20" stroke="#231f20" stroke-width="0.12">hB1</text>
<circle cx="163.9" cy="221" r="2.6" fill="#6ccdc4" fill-opacity="0.8"/>
<text x="171.3" y="223.7" font-size="7.4" text-anchor="start" fill="#231f20" stroke="#231f20" stroke-width="0.12">hB2</text>
<circle cx="163.9" cy="229.4" r="2.6" fill="#c4c2dc" fill-opacity="0.8"/>
<text x="171.3" y="232.1" font-size="7.4" text-anchor="start" fill="#231f20" stroke="#231f20" stroke-width="0.12">hB3</text>
<circle cx="163.9" cy="238" r="2.6" fill="#c8cfa9" fill-opacity="0.8"/>
<text x="171.3" y="240.7" font-size="7.4" text-anchor="start" fill="#231f20" stroke="#231f20" stroke-width="0.12">hB4</text>
<circle cx="163.9" cy="246.6" r="2.6" fill="#80c066" fill-opacity="0.8"/>
<text x="171.3" y="249.3" font-size="7.4" text-anchor="start" fill="#231f20" stroke="#231f20" stroke-width="0.12">hB5</text>
<circle cx="163.9" cy="255.2" r="2.6" fill="#7e7ed0" fill-opacity="0.8"/>
<text x="171.3" y="257.9" font-size="7.4" text-anchor="start" fill="#231f20" stroke="#231f20" stroke-width="0.12">hB6</text>
<circle cx="163.9" cy="263.7" r="2.6" fill="#853f95" fill-opacity="0.8"/>
<text x="171.3" y="266.4" font-size="7.4" text-anchor="start" fill="#231f20" stroke="#231f20" stroke-width="0.12">hB7</text>
<circle cx="163.9" cy="272.3" r="2.6" fill="#d2cf3a" fill-opacity="0.8"/>
<text x="171.3" y="275" font-size="7.4" text-anchor="start" fill="#231f20" stroke="#231f20" stroke-width="0.12">hB8</text>
<circle cx="163.9" cy="281.2" r="2.6" fill="#dc62a2" fill-opacity="0.8"/>
<text x="171.3" y="283.9" font-size="7.4" text-anchor="start" fill="#231f20" stroke="#231f20" stroke-width="0.12">hB9</text>
<text x="200.5" y="10.5" font-size="13" text-anchor="start" fill="#000" font-weight="bold" textLength="8.07" lengthAdjust="spacingAndGlyphs" stroke="#000" stroke-width="0.35">D</text>
<rect x="255.6" y="8.3" width="8.67" height="1.68" fill="#ee8856"/>
<rect x="264.07" y="8.3" width="8.67" height="1.68" fill="#f3e0a6"/>
<rect x="272.53" y="8.3" width="8.67" height="1.68" fill="#f4e4ad"/>
<rect x="281" y="8.3" width="8.67" height="1.68" fill="#f5e7b2"/>
<rect x="289.47" y="8.3" width="8.67" height="1.68" fill="#f3dfa4"/>
<rect x="297.93" y="8.3" width="8.67" height="1.68" fill="#f4e5ad"/>
<rect x="306.4" y="8.3" width="8.67" height="1.68" fill="#f4e7b1"/>
<rect x="314.87" y="8.3" width="8.67" height="1.68" fill="#b8dbe7"/>
<rect x="323.33" y="8.3" width="8.67" height="1.68" fill="#497ab6"/>
<rect x="255.6" y="9.78" width="8.67" height="1.68" fill="#e35137"/>
<rect x="264.07" y="9.78" width="8.67" height="1.68" fill="#f6f1c1"/>
<rect x="272.53" y="9.78" width="8.67" height="1.68" fill="#f5e9b4"/>
<rect x="281" y="9.78" width="8.67" height="1.68" fill="#f2d496"/>
<rect x="289.47" y="9.78" width="8.67" height="1.68" fill="#f5e8b3"/>
<rect x="297.93" y="9.78" width="8.67" height="1.68" fill="#f3f7d7"/>
<rect x="306.4" y="9.78" width="8.67" height="1.68" fill="#f5e9b5"/>
<rect x="314.87" y="9.78" width="8.67" height="1.68" fill="#c6e2ec"/>
<rect x="323.33" y="9.78" width="8.67" height="1.68" fill="#6295c3"/>
<rect x="255.6" y="11.27" width="8.67" height="1.68" fill="#e96542"/>
<rect x="264.07" y="11.27" width="8.67" height="1.68" fill="#f6eebc"/>
<rect x="272.53" y="11.27" width="8.67" height="1.68" fill="#f2cc8e"/>
<rect x="281" y="11.27" width="8.67" height="1.68" fill="#f6f1c0"/>
<rect x="289.47" y="11.27" width="8.67" height="1.68" fill="#f5edba"/>
<rect x="297.93" y="11.27" width="8.67" height="1.68" fill="#f3dfa4"/>
<rect x="306.4" y="11.27" width="8.67" height="1.68" fill="#f2d698"/>
<rect x="314.87" y="11.27" width="8.67" height="1.68" fill="#e1f0f5"/>
<rect x="323.33" y="11.27" width="8.67" height="1.68" fill="#4370b1"/>
<rect x="255.6" y="12.75" width="8.67" height="1.68" fill="#eb6945"/>
<rect x="264.07" y="12.75" width="8.67" height="1.68" fill="#f3e1a6"/>
<rect x="272.53" y="12.75" width="8.67" height="1.68" fill="#f3dca0"/>
<rect x="281" y="12.75" width="8.67" height="1.68" fill="#f3dda1"/>
<rect x="289.47" y="12.75" width="8.67" height="1.68" fill="#f5e9b5"/>
<rect x="297.93" y="12.75" width="8.67" height="1.68" fill="#f8f8cc"/>
<rect x="306.4" y="12.75" width="8.67" height="1.68" fill="#f7f3c4"/>
<rect x="314.87" y="12.75" width="8.67" height="1.68" fill="#a9d2e2"/>
<rect x="323.33" y="12.75" width="8.67" height="1.68" fill="#5082ba"/>
<rect x="255.6" y="14.24" width="8.67" height="1.68" fill="#ee8a57"/>
<rect x="264.07" y="14.24" width="8.67" height="1.68" fill="#f3e0a5"/>
<rect x="272.53" y="14.24" width="8.67" height="1.68" fill="#f2d799"/>
<rect x="281" y="14.24" width="8.67" height="1.68" fill="#f7f8cf"/>
<rect x="289.47" y="14.24" width="8.67" height="1.68" fill="#f6edbb"/>
<rect x="297.93" y="14.24" width="8.67" height="1.68" fill="#f5ebb8"/>
<rect x="306.4" y="14.24" width="8.67" height="1.68" fill="#f4e6af"/>
<rect x="314.87" y="14.24" width="8.67" height="1.68" fill="#bddee9"/>
<rect x="323.33" y="14.24" width="8.67" height="1.68" fill="#6397c4"/>
<rect x="255.6" y="15.72" width="8.67" height="1.68" fill="#e04732"/>
<rect x="264.07" y="15.72" width="8.67" height="1.68" fill="#f3dca0"/>
<rect x="272.53" y="15.72" width="8.67" height="1.68" fill="#f7f3c4"/>
<rect x="281" y="15.72" width="8.67" height="1.68" fill="#f1b979"/>
<rect x="289.47" y="15.72" width="8.67" height="1.68" fill="#f1c686"/>
<rect x="297.93" y="15.72" width="8.67" height="1.68" fill="#f4e1a7"/>
<rect x="306.4" y="15.72" width="8.67" height="1.68" fill="#f4e3ab"/>
<rect x="314.87" y="15.72" width="8.67" height="1.68" fill="#e8f3ed"/>
<rect x="323.33" y="15.72" width="8.67" height="1.68" fill="#5183bb"/>
<rect x="255.6" y="17.21" width="8.67" height="1.68" fill="#ed754b"/>
<rect x="264.07" y="17.21" width="8.67" height="1.68" fill="#f5eab5"/>
<rect x="272.53" y="17.21" width="8.67" height="1.68" fill="#f3dda0"/>
<rect x="281" y="17.21" width="8.67" height="1.68" fill="#f5ecb9"/>
<rect x="289.47" y="17.21" width="8.67" height="1.68" fill="#f1c687"/>
<rect x="297.93" y="17.21" width="8.67" height="1.68" fill="#f4e6af"/>
<rect x="306.4" y="17.21" width="8.67" height="1.68" fill="#f5e9b5"/>
<rect x="314.87" y="17.21" width="8.67" height="1.68" fill="#c2e0ea"/>
<rect x="323.33" y="17.21" width="8.67" height="1.68" fill="#384da1"/>
<rect x="255.6" y="18.69" width="8.67" height="1.68" fill="#e75e3f"/>
<rect x="264.07" y="18.69" width="8.67" height="1.68" fill="#f5eab6"/>
<rect x="272.53" y="18.69" width="8.67" height="1.68" fill="#f3db9d"/>
<rect x="281" y="18.69" width="8.67" height="1.68" fill="#f3dfa4"/>
<rect x="289.47" y="18.69" width="8.67" height="1.68" fill="#f7f2c3"/>
<rect x="297.93" y="18.69" width="8.67" height="1.68" fill="#f1c687"/>
<rect x="306.4" y="18.69" width="8.67" height="1.68" fill="#f6edbb"/>
<rect x="314.87" y="18.69" width="8.67" height="1.68" fill="#dceef3"/>
<rect x="323.33" y="18.69" width="8.67" height="1.68" fill="#4065ac"/>
<rect x="255.6" y="20.17" width="8.67" height="1.68" fill="#e86241"/>
<rect x="264.07" y="20.17" width="8.67" height="1.68" fill="#f2cd8e"/>
<rect x="272.53" y="20.17" width="8.67" height="1.68" fill="#f7f1c2"/>
<rect x="281" y="20.17" width="8.67" height="1.68" fill="#f5e9b4"/>
<rect x="289.47" y="20.17" width="8.67" height="1.68" fill="#f6eebd"/>
<rect x="297.93" y="20.17" width="8.67" height="1.68" fill="#f5ecb9"/>
<rect x="306.4" y="20.17" width="8.67" height="1.68" fill="#f4e4ac"/>
<rect x="314.87" y="20.17" width="8.67" height="1.68" fill="#ebf4e7"/>
<rect x="323.33" y="20.17" width="8.67" height="1.68" fill="#4c7eb9"/>
<rect x="255.6" y="21.66" width="8.67" height="1.68" fill="#ea6844"/>
<rect x="264.07" y="21.66" width="8.67" height="1.68" fill="#f2d294"/>
<rect x="272.53" y="21.66" width="8.67" height="1.68" fill="#f4e7b1"/>
<rect x="281" y="21.66" width="8.67" height="1.68" fill="#f4e7b1"/>
<rect x="289.47" y="21.66" width="8.67" height="1.68" fill="#f6efbe"/>
<rect x="297.93" y="21.66" width="8.67" height="1.68" fill="#f4e1a7"/>
<rect x="306.4" y="21.66" width="8.67" height="1.68" fill="#f4e4ac"/>
<rect x="314.87" y="21.66" width="8.67" height="1.68" fill="#cee7ee"/>
<rect x="323.33" y="21.66" width="8.67" height="1.68" fill="#4574b4"/>
<rect x="255.6" y="23.14" width="8.67" height="1.68" fill="#e65a3d"/>
<rect x="264.07" y="23.14" width="8.67" height="1.68" fill="#f5eab6"/>
<rect x="272.53" y="23.14" width="8.67" height="1.68" fill="#f3dea3"/>
<rect x="281" y="23.14" width="8.67" height="1.68" fill="#f4e7b0"/>
<rect x="289.47" y="23.14" width="8.67" height="1.68" fill="#f5ebb7"/>
<rect x="297.93" y="23.14" width="8.67" height="1.68" fill="#f4e5ae"/>
<rect x="306.4" y="23.14" width="8.67" height="1.68" fill="#f4e4ac"/>
<rect x="314.87" y="23.14" width="8.67" height="1.68" fill="#dbeef3"/>
<rect x="323.33" y="23.14" width="8.67" height="1.68" fill="#4471b2"/>
<rect x="255.6" y="24.63" width="8.67" height="1.68" fill="#e35238"/>
<rect x="264.07" y="24.63" width="8.67" height="1.68" fill="#f4e2a9"/>
<rect x="272.53" y="24.63" width="8.67" height="1.68" fill="#f3d99b"/>
<rect x="281" y="24.63" width="8.67" height="1.68" fill="#f6eebc"/>
<rect x="289.47" y="24.63" width="8.67" height="1.68" fill="#f1c283"/>
<rect x="297.93" y="24.63" width="8.67" height="1.68" fill="#f3dc9f"/>
<rect x="306.4" y="24.63" width="8.67" height="1.68" fill="#f4e7b0"/>
<rect x="314.87" y="24.63" width="8.67" height="1.68" fill="#d7ebf1"/>
<rect x="323.33" y="24.63" width="8.67" height="1.68" fill="#426baf"/>
<rect x="255.6" y="26.11" width="8.67" height="1.68" fill="#ed7a4e"/>
<rect x="264.07" y="26.11" width="8.67" height="1.68" fill="#f09f64"/>
<rect x="272.53" y="26.11" width="8.67" height="1.68" fill="#f3dfa4"/>
<rect x="281" y="26.11" width="8.67" height="1.68" fill="#f3dda1"/>
<rect x="289.47" y="26.11" width="8.67" height="1.68" fill="#f2d496"/>
<rect x="297.93" y="26.11" width="8.67" height="1.68" fill="#f4e6af"/>
<rect x="306.4" y="26.11" width="8.67" height="1.68" fill="#f4e7b0"/>
<rect x="314.87" y="26.11" width="8.67" height="1.68" fill="#b7dae7"/>
<rect x="323.33" y="26.11" width="8.67" height="1.68" fill="#4b7cb8"/>
<rect x="255.6" y="27.59" width="8.67" height="1.68" fill="#d93328"/>
<rect x="264.07" y="27.59" width="8.67" height="1.68" fill="#f4e2aa"/>
<rect x="272.53" y="27.59" width="8.67" height="1.68" fill="#f4e3ab"/>
<rect x="281" y="27.59" width="8.67" height="1.68" fill="#f4e5ad"/>
<rect x="289.47" y="27.59" width="8.67" height="1.68" fill="#f5e9b5"/>
<rect x="297.93" y="27.59" width="8.67" height="1.68" fill="#f6eebd"/>
<rect x="306.4" y="27.59" width="8.67" height="1.68" fill="#f6eebd"/>
<rect x="314.87" y="27.59" width="8.67" height="1.68" fill="#9fcade"/>
<rect x="323.33" y="27.59" width="8.67" height="1.68" fill="#4167ad"/>
<rect x="255.6" y="29.08" width="8.67" height="1.68" fill="#ef935d"/>
<rect x="264.07" y="29.08" width="8.67" height="1.68" fill="#f4e2a8"/>
<rect x="272.53" y="29.08" width="8.67" height="1.68" fill="#f7f3c4"/>
<rect x="281" y="29.08" width="8.67" height="1.68" fill="#f6f0bf"/>
<rect x="289.47" y="29.08" width="8.67" height="1.68" fill="#f3dc9e"/>
<rect x="297.93" y="29.08" width="8.67" height="1.68" fill="#f4e4ac"/>
<rect x="306.4" y="29.08" width="8.67" height="1.68" fill="#f8f8cc"/>
<rect x="314.87" y="29.08" width="8.67" height="1.68" fill="#d8ecf2"/>
<rect x="323.33" y="29.08" width="8.67" height="1.68" fill="#4f80ba"/>
<rect x="255.6" y="30.56" width="8.67" height="1.68" fill="#dd3e2e"/>
<rect x="264.07" y="30.56" width="8.67" height="1.68" fill="#f4e6af"/>
<rect x="272.53" y="30.56" width="8.67" height="1.68" fill="#f1bd7d"/>
<rect x="281" y="30.56" width="8.67" height="1.68" fill="#f4e7b1"/>
<rect x="289.47" y="30.56" width="8.67" height="1.68" fill="#f3dda1"/>
<rect x="297.93" y="30.56" width="8.67" height="1.68" fill="#f4e2a8"/>
<rect x="306.4" y="30.56" width="8.67" height="1.68" fill="#f5eab6"/>
<rect x="314.87" y="30.56" width="8.67" height="1.68" fill="#cfe7ef"/>
<rect x="323.33" y="30.56" width="8.67" height="1.68" fill="#84b6d3"/>
<rect x="255.6" y="32.05" width="8.67" height="1.68" fill="#ef9960"/>
<rect x="264.07" y="32.05" width="8.67" height="1.68" fill="#f3dea2"/>
<rect x="272.53" y="32.05" width="8.67" height="1.68" fill="#f1b675"/>
<rect x="281" y="32.05" width="8.67" height="1.68" fill="#f5eab6"/>
<rect x="289.47" y="32.05" width="8.67" height="1.68" fill="#f4e4ac"/>
<rect x="297.93" y="32.05" width="8.67" height="1.68" fill="#f6f1c1"/>
<rect x="306.4" y="32.05" width="8.67" height="1.68" fill="#f7f4c6"/>
<rect x="314.87" y="32.05" width="8.67" height="1.68" fill="#ddeef3"/>
<rect x="323.33" y="32.05" width="8.67" height="1.68" fill="#5385bc"/>
<rect x="255.6" y="33.53" width="8.67" height="1.68" fill="#e35339"/>
<rect x="264.07" y="33.53" width="8.67" height="1.68" fill="#f4e2a9"/>
<rect x="272.53" y="33.53" width="8.67" height="1.68" fill="#f3db9e"/>
<rect x="281" y="33.53" width="8.67" height="1.68" fill="#f4e2a8"/>
<rect x="289.47" y="33.53" width="8.67" height="1.68" fill="#f8f6c9"/>
<rect x="297.93" y="33.53" width="8.67" height="1.68" fill="#f7f5c7"/>
<rect x="306.4" y="33.53" width="8.67" height="1.68" fill="#f5e8b3"/>
<rect x="314.87" y="33.53" width="8.67" height="1.68" fill="#aad2e2"/>
<rect x="323.33" y="33.53" width="8.67" height="1.68" fill="#426caf"/>
<rect x="255.6" y="35.02" width="8.67" height="1.68" fill="#d52e27"/>
<rect x="264.07" y="35.02" width="8.67" height="1.68" fill="#f4e1a7"/>
<rect x="272.53" y="35.02" width="8.67" height="1.68" fill="#f6f0bf"/>
<rect x="281" y="35.02" width="8.67" height="1.68" fill="#f3dfa4"/>
<rect x="289.47" y="35.02" width="8.67" height="1.68" fill="#f1c98a"/>
<rect x="297.93" y="35.02" width="8.67" height="1.68" fill="#f6edbb"/>
<rect x="306.4" y="35.02" width="8.67" height="1.68" fill="#f6efbd"/>
<rect x="314.87" y="35.02" width="8.67" height="1.68" fill="#c9e4ed"/>
<rect x="323.33" y="35.02" width="8.67" height="1.68" fill="#426caf"/>
<rect x="255.6" y="36.5" width="8.67" height="1.69" fill="#f5ebb7"/>
<rect x="264.07" y="36.5" width="8.67" height="1.69" fill="#f1ab6b"/>
<rect x="272.53" y="36.5" width="8.67" height="1.69" fill="#ef935d"/>
<rect x="281" y="36.5" width="8.67" height="1.69" fill="#f5e8b2"/>
<rect x="289.47" y="36.5" width="8.67" height="1.69" fill="#f5f7d3"/>
<rect x="297.93" y="36.5" width="8.67" height="1.69" fill="#f4e6b0"/>
<rect x="306.4" y="36.5" width="8.67" height="1.69" fill="#f2f6da"/>
<rect x="314.87" y="36.5" width="8.67" height="1.69" fill="#b5d9e6"/>
<rect x="323.33" y="36.5" width="8.67" height="1.69" fill="#84b6d3"/>
<rect x="255.6" y="37.99" width="8.67" height="1.69" fill="#f7f5c7"/>
<rect x="264.07" y="37.99" width="8.67" height="1.69" fill="#ef9a61"/>
<rect x="272.53" y="37.99" width="8.67" height="1.69" fill="#f0a165"/>
<rect x="281" y="37.99" width="8.67" height="1.69" fill="#f3da9d"/>
<rect x="289.47" y="37.99" width="8.67" height="1.69" fill="#e6f3f1"/>
<rect x="297.93" y="37.99" width="8.67" height="1.69" fill="#f3db9e"/>
<rect x="306.4" y="37.99" width="8.67" height="1.69" fill="#f4e1a8"/>
<rect x="314.87" y="37.99" width="8.67" height="1.69" fill="#b4d9e6"/>
<rect x="323.33" y="37.99" width="8.67" height="1.69" fill="#6396c3"/>
<rect x="255.6" y="39.48" width="8.67" height="1.69" fill="#f5e8b3"/>
<rect x="264.07" y="39.48" width="8.67" height="1.69" fill="#ef945d"/>
<rect x="272.53" y="39.48" width="8.67" height="1.69" fill="#ed7c4f"/>
<rect x="281" y="39.48" width="8.67" height="1.69" fill="#f4e1a7"/>
<rect x="289.47" y="39.48" width="8.67" height="1.69" fill="#f7f8cf"/>
<rect x="297.93" y="39.48" width="8.67" height="1.69" fill="#f7f5c7"/>
<rect x="306.4" y="39.48" width="8.67" height="1.69" fill="#f7f2c2"/>
<rect x="314.87" y="39.48" width="8.67" height="1.69" fill="#a8d1e1"/>
<rect x="323.33" y="39.48" width="8.67" height="1.69" fill="#3f61aa"/>
<rect x="255.6" y="40.97" width="8.67" height="1.69" fill="#f5f7d4"/>
<rect x="264.07" y="40.97" width="8.67" height="1.69" fill="#ed8052"/>
<rect x="272.53" y="40.97" width="8.67" height="1.69" fill="#f0a467"/>
<rect x="281" y="40.97" width="8.67" height="1.69" fill="#f2ca8c"/>
<rect x="289.47" y="40.97" width="8.67" height="1.69" fill="#f6f8d0"/>
<rect x="297.93" y="40.97" width="8.67" height="1.69" fill="#f5ebb7"/>
<rect x="306.4" y="40.97" width="8.67" height="1.69" fill="#f2f6d9"/>
<rect x="314.87" y="40.97" width="8.67" height="1.69" fill="#bedee9"/>
<rect x="323.33" y="40.97" width="8.67" height="1.69" fill="#6093c2"/>
<rect x="255.6" y="42.46" width="8.67" height="1.69" fill="#f4e7b1"/>
<rect x="264.07" y="42.46" width="8.67" height="1.69" fill="#ee8f5a"/>
<rect x="272.53" y="42.46" width="8.67" height="1.69" fill="#f1ba7a"/>
<rect x="281" y="42.46" width="8.67" height="1.69" fill="#f3db9e"/>
<rect x="289.47" y="42.46" width="8.67" height="1.69" fill="#f6efbd"/>
<rect x="297.93" y="42.46" width="8.67" height="1.69" fill="#f7f4c6"/>
<rect x="306.4" y="42.46" width="8.67" height="1.69" fill="#f7f4c6"/>
<rect x="314.87" y="42.46" width="8.67" height="1.69" fill="#b4d9e6"/>
<rect x="323.33" y="42.46" width="8.67" height="1.69" fill="#699dc7"/>
<rect x="255.6" y="43.94" width="8.67" height="1.69" fill="#f6edba"/>
<rect x="264.07" y="43.94" width="8.67" height="1.69" fill="#ed734a"/>
<rect x="272.53" y="43.94" width="8.67" height="1.69" fill="#f1ac6b"/>
<rect x="281" y="43.94" width="8.67" height="1.69" fill="#f4e2a9"/>
<rect x="289.47" y="43.94" width="8.67" height="1.69" fill="#f2f6d9"/>
<rect x="297.93" y="43.94" width="8.67" height="1.69" fill="#f6edbb"/>
<rect x="306.4" y="43.94" width="8.67" height="1.69" fill="#f2d193"/>
<rect x="314.87" y="43.94" width="8.67" height="1.69" fill="#b9dce7"/>
<rect x="323.33" y="43.94" width="8.67" height="1.69" fill="#71a5cb"/>
<rect x="255.6" y="45.43" width="8.67" height="1.69" fill="#f4e1a8"/>
<rect x="264.07" y="45.43" width="8.67" height="1.69" fill="#f0a96a"/>
<rect x="272.53" y="45.43" width="8.67" height="1.69" fill="#ee905b"/>
<rect x="281" y="45.43" width="8.67" height="1.69" fill="#f1c181"/>
<rect x="289.47" y="45.43" width="8.67" height="1.69" fill="#eaf4e8"/>
<rect x="297.93" y="45.43" width="8.67" height="1.69" fill="#f4e3ab"/>
<rect x="306.4" y="45.43" width="8.67" height="1.69" fill="#f0f6dd"/>
<rect x="314.87" y="45.43" width="8.67" height="1.69" fill="#ddeef3"/>
<rect x="323.33" y="45.43" width="8.67" height="1.69" fill="#5587bd"/>
<rect x="255.6" y="46.92" width="8.67" height="1.69" fill="#f8f8cc"/>
<rect x="264.07" y="46.92" width="8.67" height="1.69" fill="#f1c788"/>
<rect x="272.53" y="46.92" width="8.67" height="1.69" fill="#ed6f48"/>
<rect x="281" y="46.92" width="8.67" height="1.69" fill="#f7f2c3"/>
<rect x="289.47" y="46.92" width="8.67" height="1.69" fill="#f6f8d0"/>
<rect x="297.93" y="46.92" width="8.67" height="1.69" fill="#f3dfa4"/>
<rect x="306.4" y="46.92" width="8.67" height="1.69" fill="#f1f6db"/>
<rect x="314.87" y="46.92" width="8.67" height="1.69" fill="#b7dbe7"/>
<rect x="323.33" y="46.92" width="8.67" height="1.69" fill="#426cb0"/>
<rect x="255.6" y="48.41" width="8.67" height="1.69" fill="#f3dc9e"/>
<rect x="264.07" y="48.41" width="8.67" height="1.69" fill="#ed7d50"/>
<rect x="272.53" y="48.41" width="8.67" height="1.69" fill="#f1c586"/>
<rect x="281" y="48.41" width="8.67" height="1.69" fill="#f7f2c3"/>
<rect x="289.47" y="48.41" width="8.67" height="1.69" fill="#f5f7d2"/>
<rect x="297.93" y="48.41" width="8.67" height="1.69" fill="#f3e0a5"/>
<rect x="306.4" y="48.41" width="8.67" height="1.69" fill="#f3dda0"/>
<rect x="314.87" y="48.41" width="8.67" height="1.69" fill="#e2f1f5"/>
<rect x="323.33" y="48.41" width="8.67" height="1.69" fill="#7db1d0"/>
<rect x="255.6" y="49.9" width="8.67" height="1.69" fill="#f8f7cb"/>
<rect x="264.07" y="49.9" width="8.67" height="1.69" fill="#f1b372"/>
<rect x="272.53" y="49.9" width="8.67" height="1.69" fill="#ee8c59"/>
<rect x="281" y="49.9" width="8.67" height="1.69" fill="#f1c788"/>
<rect x="289.47" y="49.9" width="8.67" height="1.69" fill="#ebf4e8"/>
<rect x="297.93" y="49.9" width="8.67" height="1.69" fill="#f4e3aa"/>
<rect x="306.4" y="49.9" width="8.67" height="1.69" fill="#f3dda1"/>
<rect x="314.87" y="49.9" width="8.67" height="1.69" fill="#dbedf3"/>
<rect x="323.33" y="49.9" width="8.67" height="1.69" fill="#4473b3"/>
<rect x="255.6" y="51.39" width="8.67" height="1.69" fill="#f5eab6"/>
<rect x="264.07" y="51.39" width="8.67" height="1.69" fill="#f0a266"/>
<rect x="272.53" y="51.39" width="8.67" height="1.69" fill="#f1c98a"/>
<rect x="281" y="51.39" width="8.67" height="1.69" fill="#f5e9b4"/>
<rect x="289.47" y="51.39" width="8.67" height="1.69" fill="#f7f5c7"/>
<rect x="297.93" y="51.39" width="8.67" height="1.69" fill="#f5ebb7"/>
<rect x="306.4" y="51.39" width="8.67" height="1.69" fill="#f7f2c3"/>
<rect x="314.87" y="51.39" width="8.67" height="1.69" fill="#bfdee9"/>
<rect x="323.33" y="51.39" width="8.67" height="1.69" fill="#85b7d3"/>
<rect x="255.6" y="52.88" width="8.67" height="1.69" fill="#f5ecb9"/>
<rect x="264.07" y="52.88" width="8.67" height="1.69" fill="#ef945d"/>
<rect x="272.53" y="52.88" width="8.67" height="1.69" fill="#ee8a57"/>
<rect x="281" y="52.88" width="8.67" height="1.69" fill="#f5e9b4"/>
<rect x="289.47" y="52.88" width="8.67" height="1.69" fill="#edf5e4"/>
<rect x="297.93" y="52.88" width="8.67" height="1.69" fill="#f5ebb7"/>
<rect x="306.4" y="52.88" width="8.67" height="1.69" fill="#f7f5c7"/>
<rect x="314.87" y="52.88" width="8.67" height="1.69" fill="#acd4e3"/>
<rect x="323.33" y="52.88" width="8.67" height="1.69" fill="#598cbf"/>
<rect x="255.6" y="54.37" width="8.67" height="1.69" fill="#f6f0c0"/>
<rect x="264.07" y="54.37" width="8.67" height="1.69" fill="#ee8c59"/>
<rect x="272.53" y="54.37" width="8.67" height="1.69" fill="#f1b676"/>
<rect x="281" y="54.37" width="8.67" height="1.69" fill="#f4e7b0"/>
<rect x="289.47" y="54.37" width="8.67" height="1.69" fill="#f3f7d7"/>
<rect x="297.93" y="54.37" width="8.67" height="1.69" fill="#f5e7b2"/>
<rect x="306.4" y="54.37" width="8.67" height="1.69" fill="#f4f7d6"/>
<rect x="314.87" y="54.37" width="8.67" height="1.69" fill="#b0d7e5"/>
<rect x="323.33" y="54.37" width="8.67" height="1.69" fill="#4d7eb9"/>
<rect x="255.6" y="55.86" width="8.67" height="1.69" fill="#f4e5ae"/>
<rect x="264.07" y="55.86" width="8.67" height="1.69" fill="#f2cc8e"/>
<rect x="272.53" y="55.86" width="8.67" height="1.69" fill="#ee8c58"/>
<rect x="281" y="55.86" width="8.67" height="1.69" fill="#f1c080"/>
<rect x="289.47" y="55.86" width="8.67" height="1.69" fill="#f6f0bf"/>
<rect x="297.93" y="55.86" width="8.67" height="1.69" fill="#f5ebb7"/>
<rect x="306.4" y="55.86" width="8.67" height="1.69" fill="#f5e8b3"/>
<rect x="314.87" y="55.86" width="8.67" height="1.69" fill="#eaf4ea"/>
<rect x="323.33" y="55.86" width="8.67" height="1.69" fill="#6598c4"/>
<rect x="255.6" y="57.34" width="8.67" height="1.69" fill="#f7f1c2"/>
<rect x="264.07" y="57.34" width="8.67" height="1.69" fill="#ee915b"/>
<rect x="272.53" y="57.34" width="8.67" height="1.69" fill="#f3dfa4"/>
<rect x="281" y="57.34" width="8.67" height="1.69" fill="#f4e1a7"/>
<rect x="289.47" y="57.34" width="8.67" height="1.69" fill="#f4e2a9"/>
<rect x="297.93" y="57.34" width="8.67" height="1.69" fill="#f6eebc"/>
<rect x="306.4" y="57.34" width="8.67" height="1.69" fill="#f3dda1"/>
<rect x="314.87" y="57.34" width="8.67" height="1.69" fill="#a5cfe0"/>
<rect x="323.33" y="57.34" width="8.67" height="1.69" fill="#578abe"/>
<rect x="255.6" y="58.83" width="8.67" height="1.69" fill="#f4e3aa"/>
<rect x="264.07" y="58.83" width="8.67" height="1.69" fill="#ed784d"/>
<rect x="272.53" y="58.83" width="8.67" height="1.69" fill="#f0a869"/>
<rect x="281" y="58.83" width="8.67" height="1.69" fill="#f5e9b4"/>
<rect x="289.47" y="58.83" width="8.67" height="1.69" fill="#f7f3c4"/>
<rect x="297.93" y="58.83" width="8.67" height="1.69" fill="#f4e6af"/>
<rect x="306.4" y="58.83" width="8.67" height="1.69" fill="#f7f5c8"/>
<rect x="314.87" y="58.83" width="8.67" height="1.69" fill="#f5f7d4"/>
<rect x="323.33" y="58.83" width="8.67" height="1.69" fill="#5789be"/>
<rect x="255.6" y="60.32" width="8.67" height="1.69" fill="#ebf4e7"/>
<rect x="264.07" y="60.32" width="8.67" height="1.69" fill="#ef9f64"/>
<rect x="272.53" y="60.32" width="8.67" height="1.69" fill="#f1b171"/>
<rect x="281" y="60.32" width="8.67" height="1.69" fill="#f8f6ca"/>
<rect x="289.47" y="60.32" width="8.67" height="1.69" fill="#f4e4ac"/>
<rect x="297.93" y="60.32" width="8.67" height="1.69" fill="#f1c98a"/>
<rect x="306.4" y="60.32" width="8.67" height="1.69" fill="#e5f3f2"/>
<rect x="314.87" y="60.32" width="8.67" height="1.69" fill="#d0e7ef"/>
<rect x="323.33" y="60.32" width="8.67" height="1.69" fill="#4066ad"/>
<rect x="255.6" y="61.81" width="8.67" height="1.69" fill="#f6edbc"/>
<rect x="264.07" y="61.81" width="8.67" height="1.69" fill="#f3dea3"/>
<rect x="272.53" y="61.81" width="8.67" height="1.69" fill="#f0a769"/>
<rect x="281" y="61.81" width="8.67" height="1.69" fill="#f3dda1"/>
<rect x="289.47" y="61.81" width="8.67" height="1.69" fill="#f8f8ce"/>
<rect x="297.93" y="61.81" width="8.67" height="1.69" fill="#f4e5af"/>
<rect x="306.4" y="61.81" width="8.67" height="1.69" fill="#f7f5c8"/>
<rect x="314.87" y="61.81" width="8.67" height="1.69" fill="#deeff4"/>
<rect x="323.33" y="61.81" width="8.67" height="1.69" fill="#5688bd"/>
<rect x="255.6" y="63.3" width="8.67" height="1.66" fill="#f3f7d7"/>
<rect x="264.07" y="63.3" width="8.67" height="1.66" fill="#f3e0a6"/>
<rect x="272.53" y="63.3" width="8.67" height="1.66" fill="#b20d26"/>
<rect x="281" y="63.3" width="8.67" height="1.66" fill="#f5f7d4"/>
<rect x="289.47" y="63.3" width="8.67" height="1.66" fill="#f7f2c2"/>
<rect x="297.93" y="63.3" width="8.67" height="1.66" fill="#f5ebb8"/>
<rect x="306.4" y="63.3" width="8.67" height="1.66" fill="#f8f6c9"/>
<rect x="314.87" y="63.3" width="8.67" height="1.66" fill="#d7ebf1"/>
<rect x="323.33" y="63.3" width="8.67" height="1.66" fill="#add4e3"/>
<rect x="255.6" y="64.76" width="8.67" height="1.66" fill="#f8f8ce"/>
<rect x="264.07" y="64.76" width="8.67" height="1.66" fill="#f7f2c2"/>
<rect x="272.53" y="64.76" width="8.67" height="1.66" fill="#c61f27"/>
<rect x="281" y="64.76" width="8.67" height="1.66" fill="#f3f7d8"/>
<rect x="289.47" y="64.76" width="8.67" height="1.66" fill="#f2d092"/>
<rect x="297.93" y="64.76" width="8.67" height="1.66" fill="#f6efbf"/>
<rect x="306.4" y="64.76" width="8.67" height="1.66" fill="#f5f7d3"/>
<rect x="314.87" y="64.76" width="8.67" height="1.66" fill="#eaf4e8"/>
<rect x="323.33" y="64.76" width="8.67" height="1.66" fill="#7fb2d1"/>
<rect x="255.6" y="66.21" width="8.67" height="1.66" fill="#f5f7d3"/>
<rect x="264.07" y="66.21" width="8.67" height="1.66" fill="#f6edbc"/>
<rect x="272.53" y="66.21" width="8.67" height="1.66" fill="#af0a26"/>
<rect x="281" y="66.21" width="8.67" height="1.66" fill="#f6edbb"/>
<rect x="289.47" y="66.21" width="8.67" height="1.66" fill="#f3db9e"/>
<rect x="297.93" y="66.21" width="8.67" height="1.66" fill="#f8f7cb"/>
<rect x="306.4" y="66.21" width="8.67" height="1.66" fill="#f7f2c3"/>
<rect x="314.87" y="66.21" width="8.67" height="1.66" fill="#c5e2eb"/>
<rect x="323.33" y="66.21" width="8.67" height="1.66" fill="#bcdde8"/>
<rect x="255.6" y="67.67" width="8.67" height="1.66" fill="#e2f1f5"/>
<rect x="264.07" y="67.67" width="8.67" height="1.66" fill="#f3dea2"/>
<rect x="272.53" y="67.67" width="8.67" height="1.66" fill="#af0a26"/>
<rect x="281" y="67.67" width="8.67" height="1.66" fill="#f6f7d2"/>
<rect x="289.47" y="67.67" width="8.67" height="1.66" fill="#f5ecba"/>
<rect x="297.93" y="67.67" width="8.67" height="1.66" fill="#f7f8cf"/>
<rect x="306.4" y="67.67" width="8.67" height="1.66" fill="#f3dfa5"/>
<rect x="314.87" y="67.67" width="8.67" height="1.66" fill="#afd6e4"/>
<rect x="323.33" y="67.67" width="8.67" height="1.66" fill="#9dc9dd"/>
<rect x="255.6" y="69.12" width="8.67" height="1.66" fill="#ecf5e5"/>
<rect x="264.07" y="69.12" width="8.67" height="1.66" fill="#f2d598"/>
<rect x="272.53" y="69.12" width="8.67" height="1.66" fill="#ae0926"/>
<rect x="281" y="69.12" width="8.67" height="1.66" fill="#f3dfa4"/>
<rect x="289.47" y="69.12" width="8.67" height="1.66" fill="#f4f7d6"/>
<rect x="297.93" y="69.12" width="8.67" height="1.66" fill="#f3f7d7"/>
<rect x="306.4" y="69.12" width="8.67" height="1.66" fill="#f7f5c7"/>
<rect x="314.87" y="69.12" width="8.67" height="1.66" fill="#e8f3ed"/>
<rect x="323.33" y="69.12" width="8.67" height="1.66" fill="#b9dbe7"/>
<rect x="255.6" y="70.58" width="8.67" height="1.66" fill="#f3f7d8"/>
<rect x="264.07" y="70.58" width="8.67" height="1.66" fill="#f5eab6"/>
<rect x="272.53" y="70.58" width="8.67" height="1.66" fill="#cc2527"/>
<rect x="281" y="70.58" width="8.67" height="1.66" fill="#f5f7d3"/>
<rect x="289.47" y="70.58" width="8.67" height="1.66" fill="#f8f7ca"/>
<rect x="297.93" y="70.58" width="8.67" height="1.66" fill="#f7f8ce"/>
<rect x="306.4" y="70.58" width="8.67" height="1.66" fill="#f7f2c4"/>
<rect x="314.87" y="70.58" width="8.67" height="1.66" fill="#eef5e1"/>
<rect x="323.33" y="70.58" width="8.67" height="1.66" fill="#cee7ee"/>
<rect x="255.6" y="72.04" width="8.67" height="1.66" fill="#e3f2f6"/>
<rect x="264.07" y="72.04" width="8.67" height="1.66" fill="#f6f8d1"/>
<rect x="272.53" y="72.04" width="8.67" height="1.66" fill="#ad0826"/>
<rect x="281" y="72.04" width="8.67" height="1.66" fill="#f5e8b3"/>
<rect x="289.47" y="72.04" width="8.67" height="1.66" fill="#f6f8d1"/>
<rect x="297.93" y="72.04" width="8.67" height="1.66" fill="#f6efbf"/>
<rect x="306.4" y="72.04" width="8.67" height="1.66" fill="#f3f7d8"/>
<rect x="314.87" y="72.04" width="8.67" height="1.66" fill="#d7ebf1"/>
<rect x="323.33" y="72.04" width="8.67" height="1.66" fill="#a3cddf"/>
<rect x="255.6" y="73.49" width="8.67" height="1.66" fill="#eaf4e9"/>
<rect x="264.07" y="73.49" width="8.67" height="1.66" fill="#f4f7d6"/>
<rect x="272.53" y="73.49" width="8.67" height="1.66" fill="#b50f26"/>
<rect x="281" y="73.49" width="8.67" height="1.66" fill="#f5ecb9"/>
<rect x="289.47" y="73.49" width="8.67" height="1.66" fill="#f7f3c5"/>
<rect x="297.93" y="73.49" width="8.67" height="1.66" fill="#f5e8b3"/>
<rect x="306.4" y="73.49" width="8.67" height="1.66" fill="#f7f5c8"/>
<rect x="314.87" y="73.49" width="8.67" height="1.66" fill="#c8e4ec"/>
<rect x="323.33" y="73.49" width="8.67" height="1.66" fill="#87b8d4"/>
<rect x="255.6" y="74.95" width="8.67" height="1.66" fill="#e6f3f1"/>
<rect x="264.07" y="74.95" width="8.67" height="1.66" fill="#f8f8cd"/>
<rect x="272.53" y="74.95" width="8.67" height="1.66" fill="#a50026"/>
<rect x="281" y="74.95" width="8.67" height="1.66" fill="#f6f8d0"/>
<rect x="289.47" y="74.95" width="8.67" height="1.66" fill="#f5eab6"/>
<rect x="297.93" y="74.95" width="8.67" height="1.66" fill="#f8f6ca"/>
<rect x="306.4" y="74.95" width="8.67" height="1.66" fill="#f4f7d6"/>
<rect x="314.87" y="74.95" width="8.67" height="1.66" fill="#e8f3ed"/>
<rect x="323.33" y="74.95" width="8.67" height="1.66" fill="#d8ecf2"/>
<rect x="255.6" y="76.41" width="8.67" height="1.66" fill="#edf5e4"/>
<rect x="264.07" y="76.41" width="8.67" height="1.66" fill="#f7f8cf"/>
<rect x="272.53" y="76.41" width="8.67" height="1.66" fill="#ca2427"/>
<rect x="281" y="76.41" width="8.67" height="1.66" fill="#f5edba"/>
<rect x="289.47" y="76.41" width="8.67" height="1.66" fill="#f6f1c2"/>
<rect x="297.93" y="76.41" width="8.67" height="1.66" fill="#f5ebb8"/>
<rect x="306.4" y="76.41" width="8.67" height="1.66" fill="#e9f4ec"/>
<rect x="314.87" y="76.41" width="8.67" height="1.66" fill="#c9e4ed"/>
<rect x="323.33" y="76.41" width="8.67" height="1.66" fill="#d9ecf2"/>
<rect x="255.6" y="77.86" width="8.67" height="1.66" fill="#f7f4c7"/>
<rect x="264.07" y="77.86" width="8.67" height="1.66" fill="#ecf5e6"/>
<rect x="272.53" y="77.86" width="8.67" height="1.66" fill="#a50026"/>
<rect x="281" y="77.86" width="8.67" height="1.66" fill="#f5ecb9"/>
<rect x="289.47" y="77.86" width="8.67" height="1.66" fill="#f7f8cf"/>
<rect x="297.93" y="77.86" width="8.67" height="1.66" fill="#f5eab5"/>
<rect x="306.4" y="77.86" width="8.67" height="1.66" fill="#f3d99c"/>
<rect x="314.87" y="77.86" width="8.67" height="1.66" fill="#f0f6de"/>
<rect x="323.33" y="77.86" width="8.67" height="1.66" fill="#9dc8dd"/>
<rect x="255.6" y="79.32" width="8.67" height="1.66" fill="#dff0f4"/>
<rect x="264.07" y="79.32" width="8.67" height="1.66" fill="#f7f2c3"/>
<rect x="272.53" y="79.32" width="8.67" height="1.66" fill="#b40f26"/>
<rect x="281" y="79.32" width="8.67" height="1.66" fill="#f0f6dd"/>
<rect x="289.47" y="79.32" width="8.67" height="1.66" fill="#f5ebb7"/>
<rect x="297.93" y="79.32" width="8.67" height="1.66" fill="#f8f8cd"/>
<rect x="306.4" y="79.32" width="8.67" height="1.66" fill="#f4e5ae"/>
<rect x="314.87" y="79.32" width="8.67" height="1.66" fill="#a3cddf"/>
<rect x="323.33" y="79.32" width="8.67" height="1.66" fill="#9fcade"/>
<rect x="255.6" y="80.77" width="8.67" height="1.66" fill="#ecf5e5"/>
<rect x="264.07" y="80.77" width="8.67" height="1.66" fill="#f4e3ab"/>
<rect x="272.53" y="80.77" width="8.67" height="1.66" fill="#a80326"/>
<rect x="281" y="80.77" width="8.67" height="1.66" fill="#eff5e0"/>
<rect x="289.47" y="80.77" width="8.67" height="1.66" fill="#f4e3aa"/>
<rect x="297.93" y="80.77" width="8.67" height="1.66" fill="#f6f7d2"/>
<rect x="306.4" y="80.77" width="8.67" height="1.66" fill="#f1f6dc"/>
<rect x="314.87" y="80.77" width="8.67" height="1.66" fill="#e5f2f3"/>
<rect x="323.33" y="80.77" width="8.67" height="1.66" fill="#bbdde8"/>
<rect x="255.6" y="82.23" width="8.67" height="1.66" fill="#e7f3ef"/>
<rect x="264.07" y="82.23" width="8.67" height="1.66" fill="#eff6df"/>
<rect x="272.53" y="82.23" width="8.67" height="1.66" fill="#b10c26"/>
<rect x="281" y="82.23" width="8.67" height="1.66" fill="#f7f3c4"/>
<rect x="289.47" y="82.23" width="8.67" height="1.66" fill="#e5f2f3"/>
<rect x="297.93" y="82.23" width="8.67" height="1.66" fill="#f6f0c0"/>
<rect x="306.4" y="82.23" width="8.67" height="1.66" fill="#f6f0c0"/>
<rect x="314.87" y="82.23" width="8.67" height="1.66" fill="#dceef3"/>
<rect x="323.33" y="82.23" width="8.67" height="1.66" fill="#b3d9e6"/>
<rect x="255.6" y="83.69" width="8.67" height="1.66" fill="#f8f6ca"/>
<rect x="264.07" y="83.69" width="8.67" height="1.66" fill="#f7f3c5"/>
<rect x="272.53" y="83.69" width="8.67" height="1.66" fill="#a80226"/>
<rect x="281" y="83.69" width="8.67" height="1.66" fill="#f4e2a9"/>
<rect x="289.47" y="83.69" width="8.67" height="1.66" fill="#f0f6dd"/>
<rect x="297.93" y="83.69" width="8.67" height="1.66" fill="#f3dda1"/>
<rect x="306.4" y="83.69" width="8.67" height="1.66" fill="#f6efbe"/>
<rect x="314.87" y="83.69" width="8.67" height="1.66" fill="#e1f1f5"/>
<rect x="323.33" y="83.69" width="8.67" height="1.66" fill="#7cb0d0"/>
<rect x="255.6" y="85.14" width="8.67" height="1.66" fill="#f7f8cf"/>
<rect x="264.07" y="85.14" width="8.67" height="1.66" fill="#f6f8d1"/>
<rect x="272.53" y="85.14" width="8.67" height="1.66" fill="#cc2527"/>
<rect x="281" y="85.14" width="8.67" height="1.66" fill="#f5f7d4"/>
<rect x="289.47" y="85.14" width="8.67" height="1.66" fill="#f8f6c9"/>
<rect x="297.93" y="85.14" width="8.67" height="1.66" fill="#f7f1c2"/>
<rect x="306.4" y="85.14" width="8.67" height="1.66" fill="#f7f8d0"/>
<rect x="314.87" y="85.14" width="8.67" height="1.66" fill="#f4f7d5"/>
<rect x="323.33" y="85.14" width="8.67" height="1.66" fill="#94c2d9"/>
<rect x="255.6" y="86.6" width="8.67" height="1.67" fill="#f1c88a"/>
<rect x="264.07" y="86.6" width="8.67" height="1.67" fill="#f3e0a5"/>
<rect x="272.53" y="86.6" width="8.67" height="1.67" fill="#f7f8d0"/>
<rect x="281" y="86.6" width="8.67" height="1.67" fill="#ef945d"/>
<rect x="289.47" y="86.6" width="8.67" height="1.67" fill="#f2cc8e"/>
<rect x="297.93" y="86.6" width="8.67" height="1.67" fill="#f7f5c7"/>
<rect x="306.4" y="86.6" width="8.67" height="1.67" fill="#f4e5ad"/>
<rect x="314.87" y="86.6" width="8.67" height="1.67" fill="#d6ebf1"/>
<rect x="323.33" y="86.6" width="8.67" height="1.67" fill="#5b8ec0"/>
<rect x="255.6" y="88.07" width="8.67" height="1.67" fill="#f5ebb8"/>
<rect x="264.07" y="88.07" width="8.67" height="1.67" fill="#f6f1c1"/>
<rect x="272.53" y="88.07" width="8.67" height="1.67" fill="#f3dda0"/>
<rect x="281" y="88.07" width="8.67" height="1.67" fill="#ee8756"/>
<rect x="289.47" y="88.07" width="8.67" height="1.67" fill="#ee915b"/>
<rect x="297.93" y="88.07" width="8.67" height="1.67" fill="#f5e8b3"/>
<rect x="306.4" y="88.07" width="8.67" height="1.67" fill="#f2d395"/>
<rect x="314.87" y="88.07" width="8.67" height="1.67" fill="#d6ebf1"/>
<rect x="323.33" y="88.07" width="8.67" height="1.67" fill="#70a5ca"/>
<rect x="255.6" y="89.53" width="8.67" height="1.67" fill="#f1b575"/>
<rect x="264.07" y="89.53" width="8.67" height="1.67" fill="#f5f7d2"/>
<rect x="272.53" y="89.53" width="8.67" height="1.67" fill="#f3da9d"/>
<rect x="281" y="89.53" width="8.67" height="1.67" fill="#f1ba7a"/>
<rect x="289.47" y="89.53" width="8.67" height="1.67" fill="#f0a366"/>
<rect x="297.93" y="89.53" width="8.67" height="1.67" fill="#f5eab7"/>
<rect x="306.4" y="89.53" width="8.67" height="1.67" fill="#f6edbb"/>
<rect x="314.87" y="89.53" width="8.67" height="1.67" fill="#b1d8e5"/>
<rect x="323.33" y="89.53" width="8.67" height="1.67" fill="#4c7db8"/>
<rect x="255.6" y="91" width="8.67" height="1.67" fill="#f1bc7c"/>
<rect x="264.07" y="91" width="8.67" height="1.67" fill="#f6eebc"/>
<rect x="272.53" y="91" width="8.67" height="1.67" fill="#f3e0a5"/>
<rect x="281" y="91" width="8.67" height="1.67" fill="#ee925c"/>
<rect x="289.47" y="91" width="8.67" height="1.67" fill="#ea6744"/>
<rect x="297.93" y="91" width="8.67" height="1.67" fill="#f8f7cb"/>
<rect x="306.4" y="91" width="8.67" height="1.67" fill="#f5e9b4"/>
<rect x="314.87" y="91" width="8.67" height="1.67" fill="#dbedf3"/>
<rect x="323.33" y="91" width="8.67" height="1.67" fill="#4a7bb7"/>
<rect x="255.6" y="92.47" width="8.67" height="1.67" fill="#f1ba7a"/>
<rect x="264.07" y="92.47" width="8.67" height="1.67" fill="#f4e2a8"/>
<rect x="272.53" y="92.47" width="8.67" height="1.67" fill="#f2d092"/>
<rect x="281" y="92.47" width="8.67" height="1.67" fill="#f0a467"/>
<rect x="289.47" y="92.47" width="8.67" height="1.67" fill="#ed754b"/>
<rect x="297.93" y="92.47" width="8.67" height="1.67" fill="#f7f3c5"/>
<rect x="306.4" y="92.47" width="8.67" height="1.67" fill="#f6edbb"/>
<rect x="314.87" y="92.47" width="8.67" height="1.67" fill="#b2d8e5"/>
<rect x="323.33" y="92.47" width="8.67" height="1.67" fill="#4b7cb8"/>
<rect x="255.6" y="93.93" width="8.67" height="1.67" fill="#f3dea2"/>
<rect x="264.07" y="93.93" width="8.67" height="1.67" fill="#f3dda1"/>
<rect x="272.53" y="93.93" width="8.67" height="1.67" fill="#f1f6db"/>
<rect x="281" y="93.93" width="8.67" height="1.67" fill="#f2d597"/>
<rect x="289.47" y="93.93" width="8.67" height="1.67" fill="#f1b271"/>
<rect x="297.93" y="93.93" width="8.67" height="1.67" fill="#f5e8b3"/>
<rect x="306.4" y="93.93" width="8.67" height="1.67" fill="#f8f6c9"/>
<rect x="314.87" y="93.93" width="8.67" height="1.67" fill="#d1e8ef"/>
<rect x="323.33" y="93.93" width="8.67" height="1.67" fill="#35439b"/>
<rect x="255.6" y="95.4" width="8.67" height="1.67" fill="#f3d89b"/>
<rect x="264.07" y="95.4" width="8.67" height="1.67" fill="#f5e9b4"/>
<rect x="272.53" y="95.4" width="8.67" height="1.67" fill="#f3dfa3"/>
<rect x="281" y="95.4" width="8.67" height="1.67" fill="#f1b574"/>
<rect x="289.47" y="95.4" width="8.67" height="1.67" fill="#f1aa6a"/>
<rect x="297.93" y="95.4" width="8.67" height="1.67" fill="#f5f7d3"/>
<rect x="306.4" y="95.4" width="8.67" height="1.67" fill="#f4e1a7"/>
<rect x="314.87" y="95.4" width="8.67" height="1.67" fill="#b6dae7"/>
<rect x="323.33" y="95.4" width="8.67" height="1.67" fill="#6b9fc7"/>
<rect x="255.6" y="96.87" width="8.67" height="1.67" fill="#f0a366"/>
<rect x="264.07" y="96.87" width="8.67" height="1.67" fill="#f6f0bf"/>
<rect x="272.53" y="96.87" width="8.67" height="1.67" fill="#f5ebb7"/>
<rect x="281" y="96.87" width="8.67" height="1.67" fill="#ed7b4f"/>
<rect x="289.47" y="96.87" width="8.67" height="1.67" fill="#f0a064"/>
<rect x="297.93" y="96.87" width="8.67" height="1.67" fill="#f7f1c2"/>
<rect x="306.4" y="96.87" width="8.67" height="1.67" fill="#f4e1a7"/>
<rect x="314.87" y="96.87" width="8.67" height="1.67" fill="#d6ebf1"/>
<rect x="323.33" y="96.87" width="8.67" height="1.67" fill="#699dc7"/>
<rect x="255.6" y="98.33" width="8.67" height="1.67" fill="#f3e0a5"/>
<rect x="264.07" y="98.33" width="8.67" height="1.67" fill="#f7f2c3"/>
<rect x="272.53" y="98.33" width="8.67" height="1.67" fill="#f5ebb7"/>
<rect x="281" y="98.33" width="8.67" height="1.67" fill="#df4532"/>
<rect x="289.47" y="98.33" width="8.67" height="1.67" fill="#f4e3ab"/>
<rect x="297.93" y="98.33" width="8.67" height="1.67" fill="#f7f8d0"/>
<rect x="306.4" y="98.33" width="8.67" height="1.67" fill="#f4f7d5"/>
<rect x="314.87" y="98.33" width="8.67" height="1.67" fill="#c0dfea"/>
<rect x="323.33" y="98.33" width="8.67" height="1.67" fill="#4777b5"/>
<rect x="255.6" y="99.8" width="8.67" height="1.67" fill="#f2d597"/>
<rect x="264.07" y="99.8" width="8.67" height="1.67" fill="#f4e3ab"/>
<rect x="272.53" y="99.8" width="8.67" height="1.67" fill="#f4e6af"/>
<rect x="281" y="99.8" width="8.67" height="1.67" fill="#ed8253"/>
<rect x="289.47" y="99.8" width="8.67" height="1.67" fill="#f0a467"/>
<rect x="297.93" y="99.8" width="8.67" height="1.67" fill="#f6efbe"/>
<rect x="306.4" y="99.8" width="8.67" height="1.67" fill="#f2ca8b"/>
<rect x="314.87" y="99.8" width="8.67" height="1.67" fill="#b7dbe7"/>
<rect x="323.33" y="99.8" width="8.67" height="1.67" fill="#578abe"/>
<rect x="255.6" y="101.27" width="8.67" height="1.67" fill="#f4e7b1"/>
<rect x="264.07" y="101.27" width="8.67" height="1.67" fill="#f6f7d2"/>
<rect x="272.53" y="101.27" width="8.67" height="1.67" fill="#f5e8b3"/>
<rect x="281" y="101.27" width="8.67" height="1.67" fill="#ef975f"/>
<rect x="289.47" y="101.27" width="8.67" height="1.67" fill="#f1c586"/>
<rect x="297.93" y="101.27" width="8.67" height="1.67" fill="#f3f7d7"/>
<rect x="306.4" y="101.27" width="8.67" height="1.67" fill="#f4e6af"/>
<rect x="314.87" y="101.27" width="8.67" height="1.67" fill="#ddeff3"/>
<rect x="323.33" y="101.27" width="8.67" height="1.67" fill="#426baf"/>
<rect x="255.6" y="102.73" width="8.67" height="1.67" fill="#f1c788"/>
<rect x="264.07" y="102.73" width="8.67" height="1.67" fill="#f6edba"/>
<rect x="272.53" y="102.73" width="8.67" height="1.67" fill="#f4e7b1"/>
<rect x="281" y="102.73" width="8.67" height="1.67" fill="#f1ae6d"/>
<rect x="289.47" y="102.73" width="8.67" height="1.67" fill="#f1b978"/>
<rect x="297.93" y="102.73" width="8.67" height="1.67" fill="#f7f5c7"/>
<rect x="306.4" y="102.73" width="8.67" height="1.67" fill="#f4e7b1"/>
<rect x="314.87" y="102.73" width="8.67" height="1.67" fill="#eaf4ea"/>
<rect x="323.33" y="102.73" width="8.67" height="1.67" fill="#6396c3"/>
<rect x="255.6" y="104.2" width="8.67" height="1.67" fill="#f5e9b4"/>
<rect x="264.07" y="104.2" width="8.67" height="1.67" fill="#edf5e3"/>
<rect x="272.53" y="104.2" width="8.67" height="1.67" fill="#f8f6ca"/>
<rect x="281" y="104.2" width="8.67" height="1.67" fill="#f2d698"/>
<rect x="289.47" y="104.2" width="8.67" height="1.67" fill="#f0a96a"/>
<rect x="297.93" y="104.2" width="8.67" height="1.67" fill="#f7f4c6"/>
<rect x="306.4" y="104.2" width="8.67" height="1.67" fill="#f2cc8e"/>
<rect x="314.87" y="104.2" width="8.67" height="1.67" fill="#edf5e3"/>
<rect x="323.33" y="104.2" width="8.67" height="1.67" fill="#436eb1"/>
<rect x="255.6" y="105.67" width="8.67" height="1.67" fill="#f4f7d6"/>
<rect x="264.07" y="105.67" width="8.67" height="1.67" fill="#eef5e1"/>
<rect x="272.53" y="105.67" width="8.67" height="1.67" fill="#f6f1c1"/>
<rect x="281" y="105.67" width="8.67" height="1.67" fill="#f6edba"/>
<rect x="289.47" y="105.67" width="8.67" height="1.67" fill="#ea6743"/>
<rect x="297.93" y="105.67" width="8.67" height="1.67" fill="#f3dea2"/>
<rect x="306.4" y="105.67" width="8.67" height="1.67" fill="#f5ebb7"/>
<rect x="314.87" y="105.67" width="8.67" height="1.67" fill="#dff0f4"/>
<rect x="323.33" y="105.67" width="8.67" height="1.67" fill="#6ea2c9"/>
<rect x="255.6" y="107.15" width="8.67" height="1.67" fill="#f8f8cc"/>
<rect x="264.07" y="107.15" width="8.67" height="1.67" fill="#e9f4eb"/>
<rect x="272.53" y="107.15" width="8.67" height="1.67" fill="#f7f5c8"/>
<rect x="281" y="107.15" width="8.67" height="1.67" fill="#f3e0a5"/>
<rect x="289.47" y="107.15" width="8.67" height="1.67" fill="#ec6e47"/>
<rect x="297.93" y="107.15" width="8.67" height="1.67" fill="#f7f3c4"/>
<rect x="306.4" y="107.15" width="8.67" height="1.67" fill="#f6edbb"/>
<rect x="314.87" y="107.15" width="8.67" height="1.67" fill="#dff0f4"/>
<rect x="323.33" y="107.15" width="8.67" height="1.67" fill="#598bbe"/>
<rect x="255.6" y="108.62" width="8.67" height="1.67" fill="#f7f8ce"/>
<rect x="264.07" y="108.62" width="8.67" height="1.67" fill="#e2f1f5"/>
<rect x="272.53" y="108.62" width="8.67" height="1.67" fill="#f4e7b1"/>
<rect x="281" y="108.62" width="8.67" height="1.67" fill="#f3d99c"/>
<rect x="289.47" y="108.62" width="8.67" height="1.67" fill="#dc3b2c"/>
<rect x="297.93" y="108.62" width="8.67" height="1.67" fill="#f8f7cb"/>
<rect x="306.4" y="108.62" width="8.67" height="1.67" fill="#f5ebb8"/>
<rect x="314.87" y="108.62" width="8.67" height="1.67" fill="#ecf5e4"/>
<rect x="323.33" y="108.62" width="8.67" height="1.67" fill="#699cc6"/>
<rect x="255.6" y="110.09" width="8.67" height="1.67" fill="#f8f8cd"/>
<rect x="264.07" y="110.09" width="8.67" height="1.67" fill="#f3f7d7"/>
<rect x="272.53" y="110.09" width="8.67" height="1.67" fill="#f4e5ae"/>
<rect x="281" y="110.09" width="8.67" height="1.67" fill="#f2d698"/>
<rect x="289.47" y="110.09" width="8.67" height="1.67" fill="#dd402f"/>
<rect x="297.93" y="110.09" width="8.67" height="1.67" fill="#f7f3c5"/>
<rect x="306.4" y="110.09" width="8.67" height="1.67" fill="#f2d698"/>
<rect x="314.87" y="110.09" width="8.67" height="1.67" fill="#dff0f4"/>
<rect x="323.33" y="110.09" width="8.67" height="1.67" fill="#7cb0d0"/>
<rect x="255.6" y="111.57" width="8.67" height="1.67" fill="#f2d395"/>
<rect x="264.07" y="111.57" width="8.67" height="1.67" fill="#ecf5e5"/>
<rect x="272.53" y="111.57" width="8.67" height="1.67" fill="#f5f7d4"/>
<rect x="281" y="111.57" width="8.67" height="1.67" fill="#f1c282"/>
<rect x="289.47" y="111.57" width="8.67" height="1.67" fill="#ea6643"/>
<rect x="297.93" y="111.57" width="8.67" height="1.67" fill="#f0f6dd"/>
<rect x="306.4" y="111.57" width="8.67" height="1.67" fill="#f6eebc"/>
<rect x="314.87" y="111.57" width="8.67" height="1.67" fill="#f0f6dd"/>
<rect x="323.33" y="111.57" width="8.67" height="1.67" fill="#6093c2"/>
<rect x="255.6" y="113.04" width="8.67" height="1.67" fill="#f0f6dc"/>
<rect x="264.07" y="113.04" width="8.67" height="1.67" fill="#ecf5e4"/>
<rect x="272.53" y="113.04" width="8.67" height="1.67" fill="#f4e1a7"/>
<rect x="281" y="113.04" width="8.67" height="1.67" fill="#f1b776"/>
<rect x="289.47" y="113.04" width="8.67" height="1.67" fill="#df4431"/>
<rect x="297.93" y="113.04" width="8.67" height="1.67" fill="#f2d092"/>
<rect x="306.4" y="113.04" width="8.67" height="1.67" fill="#f6f8d1"/>
<rect x="314.87" y="113.04" width="8.67" height="1.67" fill="#f7f8d0"/>
<rect x="323.33" y="113.04" width="8.67" height="1.67" fill="#75aacd"/>
<rect x="255.6" y="114.51" width="8.67" height="1.67" fill="#f6f0bf"/>
<rect x="264.07" y="114.51" width="8.67" height="1.67" fill="#f0f6de"/>
<rect x="272.53" y="114.51" width="8.67" height="1.67" fill="#f8f6c9"/>
<rect x="281" y="114.51" width="8.67" height="1.67" fill="#f3dfa3"/>
<rect x="289.47" y="114.51" width="8.67" height="1.67" fill="#e75e3f"/>
<rect x="297.93" y="114.51" width="8.67" height="1.67" fill="#f6edbb"/>
<rect x="306.4" y="114.51" width="8.67" height="1.67" fill="#f5ecb9"/>
<rect x="314.87" y="114.51" width="8.67" height="1.67" fill="#f6f1c1"/>
<rect x="323.33" y="114.51" width="8.67" height="1.67" fill="#4169ae"/>
<rect x="255.6" y="115.99" width="8.67" height="1.67" fill="#f5f7d3"/>
<rect x="264.07" y="115.99" width="8.67" height="1.67" fill="#f8f7ca"/>
<rect x="272.53" y="115.99" width="8.67" height="1.67" fill="#f6f1c1"/>
<rect x="281" y="115.99" width="8.67" height="1.67" fill="#f1bf7f"/>
<rect x="289.47" y="115.99" width="8.67" height="1.67" fill="#f0a265"/>
<rect x="297.93" y="115.99" width="8.67" height="1.67" fill="#f8f7ca"/>
<rect x="306.4" y="115.99" width="8.67" height="1.67" fill="#f6f1c1"/>
<rect x="314.87" y="115.99" width="8.67" height="1.67" fill="#f1f6db"/>
<rect x="323.33" y="115.99" width="8.67" height="1.67" fill="#74a9cc"/>
<rect x="255.6" y="117.46" width="8.67" height="1.67" fill="#f8f8cc"/>
<rect x="264.07" y="117.46" width="8.67" height="1.67" fill="#f8f7ca"/>
<rect x="272.53" y="117.46" width="8.67" height="1.67" fill="#f8f8cc"/>
<rect x="281" y="117.46" width="8.67" height="1.67" fill="#f5e9b5"/>
<rect x="289.47" y="117.46" width="8.67" height="1.67" fill="#e86140"/>
<rect x="297.93" y="117.46" width="8.67" height="1.67" fill="#f5e8b3"/>
<rect x="306.4" y="117.46" width="8.67" height="1.67" fill="#f6f8d1"/>
<rect x="314.87" y="117.46" width="8.67" height="1.67" fill="#edf5e4"/>
<rect x="323.33" y="117.46" width="8.67" height="1.67" fill="#4d7fb9"/>
<rect x="255.6" y="118.93" width="8.67" height="1.67" fill="#f2f7d8"/>
<rect x="264.07" y="118.93" width="8.67" height="1.67" fill="#f6edbb"/>
<rect x="272.53" y="118.93" width="8.67" height="1.67" fill="#f5f7d3"/>
<rect x="281" y="118.93" width="8.67" height="1.67" fill="#f6edbb"/>
<rect x="289.47" y="118.93" width="8.67" height="1.67" fill="#e04933"/>
<rect x="297.93" y="118.93" width="8.67" height="1.67" fill="#f8f6c9"/>
<rect x="306.4" y="118.93" width="8.67" height="1.67" fill="#f6f1c2"/>
<rect x="314.87" y="118.93" width="8.67" height="1.67" fill="#f1f6db"/>
<rect x="323.33" y="118.93" width="8.67" height="1.67" fill="#71a6cb"/>
<rect x="255.6" y="120.41" width="8.67" height="1.67" fill="#f7f5c8"/>
<rect x="264.07" y="120.41" width="8.67" height="1.67" fill="#e5f2f3"/>
<rect x="272.53" y="120.41" width="8.67" height="1.67" fill="#f7f5c8"/>
<rect x="281" y="120.41" width="8.67" height="1.67" fill="#f1bf80"/>
<rect x="289.47" y="120.41" width="8.67" height="1.67" fill="#d83228"/>
<rect x="297.93" y="120.41" width="8.67" height="1.67" fill="#f5e8b3"/>
<rect x="306.4" y="120.41" width="8.67" height="1.67" fill="#f6f8d1"/>
<rect x="314.87" y="120.41" width="8.67" height="1.67" fill="#f1f6da"/>
<rect x="323.33" y="120.41" width="8.67" height="1.67" fill="#6396c3"/>
<rect x="255.6" y="121.88" width="8.67" height="1.67" fill="#f7f4c7"/>
<rect x="264.07" y="121.88" width="8.67" height="1.67" fill="#f8f6ca"/>
<rect x="272.53" y="121.88" width="8.67" height="1.67" fill="#f7f1c2"/>
<rect x="281" y="121.88" width="8.67" height="1.67" fill="#ef975f"/>
<rect x="289.47" y="121.88" width="8.67" height="1.67" fill="#ed784d"/>
<rect x="297.93" y="121.88" width="8.67" height="1.67" fill="#f6eebc"/>
<rect x="306.4" y="121.88" width="8.67" height="1.67" fill="#f3dda1"/>
<rect x="314.87" y="121.88" width="8.67" height="1.67" fill="#f8f8cc"/>
<rect x="323.33" y="121.88" width="8.67" height="1.67" fill="#88b9d4"/>
<rect x="255.6" y="123.35" width="8.67" height="1.67" fill="#f6f0bf"/>
<rect x="264.07" y="123.35" width="8.67" height="1.67" fill="#d1e8ef"/>
<rect x="272.53" y="123.35" width="8.67" height="1.67" fill="#f5ecb9"/>
<rect x="281" y="123.35" width="8.67" height="1.67" fill="#f4e5ad"/>
<rect x="289.47" y="123.35" width="8.67" height="1.67" fill="#e65a3d"/>
<rect x="297.93" y="123.35" width="8.67" height="1.67" fill="#f6f8d1"/>
<rect x="306.4" y="123.35" width="8.67" height="1.67" fill="#f6eebc"/>
<rect x="314.87" y="123.35" width="8.67" height="1.67" fill="#f5f7d4"/>
<rect x="323.33" y="123.35" width="8.67" height="1.67" fill="#588abe"/>
<rect x="255.6" y="124.83" width="8.67" height="1.67" fill="#f6f8d1"/>
<rect x="264.07" y="124.83" width="8.67" height="1.67" fill="#e9f4ea"/>
<rect x="272.53" y="124.83" width="8.67" height="1.67" fill="#f8f6c9"/>
<rect x="281" y="124.83" width="8.67" height="1.67" fill="#f2d193"/>
<rect x="289.47" y="124.83" width="8.67" height="1.67" fill="#ee8957"/>
<rect x="297.93" y="124.83" width="8.67" height="1.67" fill="#f4f7d4"/>
<rect x="306.4" y="124.83" width="8.67" height="1.67" fill="#f3e0a5"/>
<rect x="314.87" y="124.83" width="8.67" height="1.67" fill="#d4eaf0"/>
<rect x="323.33" y="124.83" width="8.67" height="1.67" fill="#679bc6"/>
<rect x="255.6" y="126.3" width="8.67" height="1.74" fill="#f6efbe"/>
<rect x="264.07" y="126.3" width="8.67" height="1.74" fill="#f6eebc"/>
<rect x="272.53" y="126.3" width="8.67" height="1.74" fill="#f5e9b4"/>
<rect x="281" y="126.3" width="8.67" height="1.74" fill="#f8f8cc"/>
<rect x="289.47" y="126.3" width="8.67" height="1.74" fill="#f6f7d2"/>
<rect x="297.93" y="126.3" width="8.67" height="1.74" fill="#ef935d"/>
<rect x="306.4" y="126.3" width="8.67" height="1.74" fill="#f7f8d0"/>
<rect x="314.87" y="126.3" width="8.67" height="1.74" fill="#f3da9d"/>
<rect x="323.33" y="126.3" width="8.67" height="1.74" fill="#81b4d2"/>
<rect x="255.6" y="127.84" width="8.67" height="1.74" fill="#f4f7d6"/>
<rect x="264.07" y="127.84" width="8.67" height="1.74" fill="#f6f0bf"/>
<rect x="272.53" y="127.84" width="8.67" height="1.74" fill="#f4e6af"/>
<rect x="281" y="127.84" width="8.67" height="1.74" fill="#f8f8cd"/>
<rect x="289.47" y="127.84" width="8.67" height="1.74" fill="#f7f5c8"/>
<rect x="297.93" y="127.84" width="8.67" height="1.74" fill="#e04833"/>
<rect x="306.4" y="127.84" width="8.67" height="1.74" fill="#f4e1a8"/>
<rect x="314.87" y="127.84" width="8.67" height="1.74" fill="#f1ad6c"/>
<rect x="323.33" y="127.84" width="8.67" height="1.74" fill="#669ac5"/>
<rect x="255.6" y="129.38" width="8.67" height="1.74" fill="#f5e9b4"/>
<rect x="264.07" y="129.38" width="8.67" height="1.74" fill="#f4e2a8"/>
<rect x="272.53" y="129.38" width="8.67" height="1.74" fill="#f5ecb9"/>
<rect x="281" y="129.38" width="8.67" height="1.74" fill="#f4e2a8"/>
<rect x="289.47" y="129.38" width="8.67" height="1.74" fill="#d9ecf2"/>
<rect x="297.93" y="129.38" width="8.67" height="1.74" fill="#ef9d63"/>
<rect x="306.4" y="129.38" width="8.67" height="1.74" fill="#f8f6c9"/>
<rect x="314.87" y="129.38" width="8.67" height="1.74" fill="#f1b06f"/>
<rect x="323.33" y="129.38" width="8.67" height="1.74" fill="#77acce"/>
<rect x="255.6" y="130.92" width="8.67" height="1.74" fill="#f6f1c1"/>
<rect x="264.07" y="130.92" width="8.67" height="1.74" fill="#f5eab6"/>
<rect x="272.53" y="130.92" width="8.67" height="1.74" fill="#f8f8cc"/>
<rect x="281" y="130.92" width="8.67" height="1.74" fill="#f4e1a8"/>
<rect x="289.47" y="130.92" width="8.67" height="1.74" fill="#f8f8cc"/>
<rect x="297.93" y="130.92" width="8.67" height="1.74" fill="#ef9a61"/>
<rect x="306.4" y="130.92" width="8.67" height="1.74" fill="#f5ebb8"/>
<rect x="314.87" y="130.92" width="8.67" height="1.74" fill="#ed724a"/>
<rect x="323.33" y="130.92" width="8.67" height="1.74" fill="#6599c5"/>
<rect x="255.6" y="132.46" width="8.67" height="1.74" fill="#f8f6c9"/>
<rect x="264.07" y="132.46" width="8.67" height="1.74" fill="#f5e8b3"/>
<rect x="272.53" y="132.46" width="8.67" height="1.74" fill="#f3f7d7"/>
<rect x="281" y="132.46" width="8.67" height="1.74" fill="#ebf4e7"/>
<rect x="289.47" y="132.46" width="8.67" height="1.74" fill="#f0f6de"/>
<rect x="297.93" y="132.46" width="8.67" height="1.74" fill="#e14d35"/>
<rect x="306.4" y="132.46" width="8.67" height="1.74" fill="#f5ecb9"/>
<rect x="314.87" y="132.46" width="8.67" height="1.74" fill="#f0a96a"/>
<rect x="323.33" y="132.46" width="8.67" height="1.74" fill="#84b6d3"/>
<rect x="255.6" y="134.01" width="8.67" height="1.74" fill="#eef5e1"/>
<rect x="264.07" y="134.01" width="8.67" height="1.74" fill="#f5e9b4"/>
<rect x="272.53" y="134.01" width="8.67" height="1.74" fill="#f5e8b3"/>
<rect x="281" y="134.01" width="8.67" height="1.74" fill="#f3f7d7"/>
<rect x="289.47" y="134.01" width="8.67" height="1.74" fill="#ecf5e5"/>
<rect x="297.93" y="134.01" width="8.67" height="1.74" fill="#f0a668"/>
<rect x="306.4" y="134.01" width="8.67" height="1.74" fill="#f3dea2"/>
<rect x="314.87" y="134.01" width="8.67" height="1.74" fill="#f2d497"/>
<rect x="323.33" y="134.01" width="8.67" height="1.74" fill="#83b5d2"/>
<rect x="255.6" y="135.55" width="8.67" height="1.74" fill="#f6f1c1"/>
<rect x="264.07" y="135.55" width="8.67" height="1.74" fill="#f1b877"/>
<rect x="272.53" y="135.55" width="8.67" height="1.74" fill="#f5f7d3"/>
<rect x="281" y="135.55" width="8.67" height="1.74" fill="#ecf5e4"/>
<rect x="289.47" y="135.55" width="8.67" height="1.74" fill="#f7f8d0"/>
<rect x="297.93" y="135.55" width="8.67" height="1.74" fill="#ea6743"/>
<rect x="306.4" y="135.55" width="8.67" height="1.74" fill="#f3d89b"/>
<rect x="314.87" y="135.55" width="8.67" height="1.74" fill="#f0a869"/>
<rect x="323.33" y="135.55" width="8.67" height="1.74" fill="#80b3d1"/>
<rect x="255.6" y="137.09" width="8.67" height="1.74" fill="#f6edbb"/>
<rect x="264.07" y="137.09" width="8.67" height="1.74" fill="#f7f5c8"/>
<rect x="272.53" y="137.09" width="8.67" height="1.74" fill="#f6efbe"/>
<rect x="281" y="137.09" width="8.67" height="1.74" fill="#f4f7d5"/>
<rect x="289.47" y="137.09" width="8.67" height="1.74" fill="#f8f8cc"/>
<rect x="297.93" y="137.09" width="8.67" height="1.74" fill="#e04933"/>
<rect x="306.4" y="137.09" width="8.67" height="1.74" fill="#f3db9d"/>
<rect x="314.87" y="137.09" width="8.67" height="1.74" fill="#ec6f48"/>
<rect x="323.33" y="137.09" width="8.67" height="1.74" fill="#6ca0c8"/>
<rect x="255.6" y="138.63" width="8.67" height="1.74" fill="#f6f0bf"/>
<rect x="264.07" y="138.63" width="8.67" height="1.74" fill="#f7f4c7"/>
<rect x="272.53" y="138.63" width="8.67" height="1.74" fill="#f7f8d0"/>
<rect x="281" y="138.63" width="8.67" height="1.74" fill="#f1f6db"/>
<rect x="289.47" y="138.63" width="8.67" height="1.74" fill="#f8f8cd"/>
<rect x="297.93" y="138.63" width="8.67" height="1.74" fill="#ed7b4f"/>
<rect x="306.4" y="138.63" width="8.67" height="1.74" fill="#f5ebb8"/>
<rect x="314.87" y="138.63" width="8.67" height="1.74" fill="#f3d99b"/>
<rect x="323.33" y="138.63" width="8.67" height="1.74" fill="#80b3d1"/>
<rect x="255.6" y="140.17" width="8.67" height="1.74" fill="#f6f1c1"/>
<rect x="264.07" y="140.17" width="8.67" height="1.74" fill="#f5eab6"/>
<rect x="272.53" y="140.17" width="8.67" height="1.74" fill="#ebf4e7"/>
<rect x="281" y="140.17" width="8.67" height="1.74" fill="#f5f7d4"/>
<rect x="289.47" y="140.17" width="8.67" height="1.74" fill="#eff6de"/>
<rect x="297.93" y="140.17" width="8.67" height="1.74" fill="#cf2827"/>
<rect x="306.4" y="140.17" width="8.67" height="1.74" fill="#f4e4ac"/>
<rect x="314.87" y="140.17" width="8.67" height="1.74" fill="#f1b372"/>
<rect x="323.33" y="140.17" width="8.67" height="1.74" fill="#6396c3"/>
<rect x="255.6" y="141.71" width="8.67" height="1.74" fill="#f3f7d6"/>
<rect x="264.07" y="141.71" width="8.67" height="1.74" fill="#eef5e2"/>
<rect x="272.53" y="141.71" width="8.67" height="1.74" fill="#f3e0a6"/>
<rect x="281" y="141.71" width="8.67" height="1.74" fill="#f7f8cf"/>
<rect x="289.47" y="141.71" width="8.67" height="1.74" fill="#f6edbb"/>
<rect x="297.93" y="141.71" width="8.67" height="1.74" fill="#ed744b"/>
<rect x="306.4" y="141.71" width="8.67" height="1.74" fill="#f3dda1"/>
<rect x="314.87" y="141.71" width="8.67" height="1.74" fill="#f1be7e"/>
<rect x="323.33" y="141.71" width="8.67" height="1.74" fill="#6fa3c9"/>
<rect x="255.6" y="143.25" width="8.67" height="1.74" fill="#f8f8ce"/>
<rect x="264.07" y="143.25" width="8.67" height="1.74" fill="#f6eebc"/>
<rect x="272.53" y="143.25" width="8.67" height="1.74" fill="#eef5e2"/>
<rect x="281" y="143.25" width="8.67" height="1.74" fill="#f4f7d5"/>
<rect x="289.47" y="143.25" width="8.67" height="1.74" fill="#f0f6dd"/>
<rect x="297.93" y="143.25" width="8.67" height="1.74" fill="#e5583c"/>
<rect x="306.4" y="143.25" width="8.67" height="1.74" fill="#f3dc9e"/>
<rect x="314.87" y="143.25" width="8.67" height="1.74" fill="#ee8353"/>
<rect x="323.33" y="143.25" width="8.67" height="1.74" fill="#6b9fc8"/>
<rect x="255.6" y="144.79" width="8.67" height="1.74" fill="#f6f0c0"/>
<rect x="264.07" y="144.79" width="8.67" height="1.74" fill="#f8f8cd"/>
<rect x="272.53" y="144.79" width="8.67" height="1.74" fill="#f8f6c9"/>
<rect x="281" y="144.79" width="8.67" height="1.74" fill="#f7f2c2"/>
<rect x="289.47" y="144.79" width="8.67" height="1.74" fill="#ebf4e8"/>
<rect x="297.93" y="144.79" width="8.67" height="1.74" fill="#d02927"/>
<rect x="306.4" y="144.79" width="8.67" height="1.74" fill="#f6efbe"/>
<rect x="314.87" y="144.79" width="8.67" height="1.74" fill="#ee905b"/>
<rect x="323.33" y="144.79" width="8.67" height="1.74" fill="#6da1c9"/>
<rect x="255.6" y="146.34" width="8.67" height="1.74" fill="#f2f6da"/>
<rect x="264.07" y="146.34" width="8.67" height="1.74" fill="#f4e5ad"/>
<rect x="272.53" y="146.34" width="8.67" height="1.74" fill="#f1f6db"/>
<rect x="281" y="146.34" width="8.67" height="1.74" fill="#f7f4c7"/>
<rect x="289.47" y="146.34" width="8.67" height="1.74" fill="#e5f3f2"/>
<rect x="297.93" y="146.34" width="8.67" height="1.74" fill="#ee8a57"/>
<rect x="306.4" y="146.34" width="8.67" height="1.74" fill="#f3dfa4"/>
<rect x="314.87" y="146.34" width="8.67" height="1.74" fill="#e24d36"/>
<rect x="323.33" y="146.34" width="8.67" height="1.74" fill="#73a8cc"/>
<rect x="255.6" y="147.88" width="8.67" height="1.74" fill="#f1f6db"/>
<rect x="264.07" y="147.88" width="8.67" height="1.74" fill="#f8f8cd"/>
<rect x="272.53" y="147.88" width="8.67" height="1.74" fill="#f3dfa4"/>
<rect x="281" y="147.88" width="8.67" height="1.74" fill="#f6f0c0"/>
<rect x="289.47" y="147.88" width="8.67" height="1.74" fill="#e7f3ef"/>
<rect x="297.93" y="147.88" width="8.67" height="1.74" fill="#ed8253"/>
<rect x="306.4" y="147.88" width="8.67" height="1.74" fill="#f3e0a6"/>
<rect x="314.87" y="147.88" width="8.67" height="1.74" fill="#ee8354"/>
<rect x="323.33" y="147.88" width="8.67" height="1.74" fill="#73a8cc"/>
<rect x="255.6" y="149.42" width="8.67" height="1.74" fill="#f4f7d6"/>
<rect x="264.07" y="149.42" width="8.67" height="1.74" fill="#f7f4c6"/>
<rect x="272.53" y="149.42" width="8.67" height="1.74" fill="#f4e6b0"/>
<rect x="281" y="149.42" width="8.67" height="1.74" fill="#f5f7d2"/>
<rect x="289.47" y="149.42" width="8.67" height="1.74" fill="#eff5e0"/>
<rect x="297.93" y="149.42" width="8.67" height="1.74" fill="#e04732"/>
<rect x="306.4" y="149.42" width="8.67" height="1.74" fill="#f4e3aa"/>
<rect x="314.87" y="149.42" width="8.67" height="1.74" fill="#f1b06f"/>
<rect x="323.33" y="149.42" width="8.67" height="1.74" fill="#6295c3"/>
<rect x="255.6" y="150.96" width="8.67" height="1.74" fill="#f5ecb9"/>
<rect x="264.07" y="150.96" width="8.67" height="1.74" fill="#f7f2c2"/>
<rect x="272.53" y="150.96" width="8.67" height="1.74" fill="#f6eebd"/>
<rect x="281" y="150.96" width="8.67" height="1.74" fill="#f4e7b1"/>
<rect x="289.47" y="150.96" width="8.67" height="1.74" fill="#f2f6d9"/>
<rect x="297.93" y="150.96" width="8.67" height="1.74" fill="#b00b26"/>
<rect x="306.4" y="150.96" width="8.67" height="1.74" fill="#f5e9b5"/>
<rect x="314.87" y="150.96" width="8.67" height="1.74" fill="#ee915c"/>
<rect x="323.33" y="150.96" width="8.67" height="1.74" fill="#95c3da"/>
<rect x="255.6" y="152.5" width="8.67" height="1.72" fill="#e5f2f3"/>
<rect x="264.07" y="152.5" width="8.67" height="1.72" fill="#d0e8ef"/>
<rect x="272.53" y="152.5" width="8.67" height="1.72" fill="#edf5e3"/>
<rect x="281" y="152.5" width="8.67" height="1.72" fill="#ebf4e7"/>
<rect x="289.47" y="152.5" width="8.67" height="1.72" fill="#e4f2f5"/>
<rect x="297.93" y="152.5" width="8.67" height="1.72" fill="#f3e0a5"/>
<rect x="306.4" y="152.5" width="8.67" height="1.72" fill="#cb2427"/>
<rect x="314.87" y="152.5" width="8.67" height="1.72" fill="#f0a869"/>
<rect x="323.33" y="152.5" width="8.67" height="1.72" fill="#bcdde9"/>
<rect x="255.6" y="154.02" width="8.67" height="1.72" fill="#eaf4e9"/>
<rect x="264.07" y="154.02" width="8.67" height="1.72" fill="#f7f8cf"/>
<rect x="272.53" y="154.02" width="8.67" height="1.72" fill="#eaf4e9"/>
<rect x="281" y="154.02" width="8.67" height="1.72" fill="#eaf4ea"/>
<rect x="289.47" y="154.02" width="8.67" height="1.72" fill="#eef5e0"/>
<rect x="297.93" y="154.02" width="8.67" height="1.72" fill="#f8f8ce"/>
<rect x="306.4" y="154.02" width="8.67" height="1.72" fill="#ec6e48"/>
<rect x="314.87" y="154.02" width="8.67" height="1.72" fill="#f1c283"/>
<rect x="323.33" y="154.02" width="8.67" height="1.72" fill="#b8dbe7"/>
<rect x="255.6" y="155.55" width="8.67" height="1.72" fill="#e9f4ec"/>
<rect x="264.07" y="155.55" width="8.67" height="1.72" fill="#edf5e4"/>
<rect x="272.53" y="155.55" width="8.67" height="1.72" fill="#d9ecf2"/>
<rect x="281" y="155.55" width="8.67" height="1.72" fill="#f5ebb7"/>
<rect x="289.47" y="155.55" width="8.67" height="1.72" fill="#f5eab6"/>
<rect x="297.93" y="155.55" width="8.67" height="1.72" fill="#f4f7d6"/>
<rect x="306.4" y="155.55" width="8.67" height="1.72" fill="#ed784d"/>
<rect x="314.87" y="155.55" width="8.67" height="1.72" fill="#f1c98a"/>
<rect x="323.33" y="155.55" width="8.67" height="1.72" fill="#e1f1f5"/>
<rect x="255.6" y="157.07" width="8.67" height="1.72" fill="#c5e2eb"/>
<rect x="264.07" y="157.07" width="8.67" height="1.72" fill="#f1f6db"/>
<rect x="272.53" y="157.07" width="8.67" height="1.72" fill="#f6eebd"/>
<rect x="281" y="157.07" width="8.67" height="1.72" fill="#eff5e0"/>
<rect x="289.47" y="157.07" width="8.67" height="1.72" fill="#f1f6dc"/>
<rect x="297.93" y="157.07" width="8.67" height="1.72" fill="#f7f5c8"/>
<rect x="306.4" y="157.07" width="8.67" height="1.72" fill="#db382a"/>
<rect x="314.87" y="157.07" width="8.67" height="1.72" fill="#ef965e"/>
<rect x="323.33" y="157.07" width="8.67" height="1.72" fill="#c1e0ea"/>
<rect x="255.6" y="158.59" width="8.67" height="1.72" fill="#d1e8ef"/>
<rect x="264.07" y="158.59" width="8.67" height="1.72" fill="#e2f1f5"/>
<rect x="272.53" y="158.59" width="8.67" height="1.72" fill="#f0f6dd"/>
<rect x="281" y="158.59" width="8.67" height="1.72" fill="#e6f3f0"/>
<rect x="289.47" y="158.59" width="8.67" height="1.72" fill="#eff5e0"/>
<rect x="297.93" y="158.59" width="8.67" height="1.72" fill="#f5f7d3"/>
<rect x="306.4" y="158.59" width="8.67" height="1.72" fill="#e96442"/>
<rect x="314.87" y="158.59" width="8.67" height="1.72" fill="#ed774d"/>
<rect x="323.33" y="158.59" width="8.67" height="1.72" fill="#86b7d4"/>
<rect x="255.6" y="160.12" width="8.67" height="1.72" fill="#eff5e0"/>
<rect x="264.07" y="160.12" width="8.67" height="1.72" fill="#dceef3"/>
<rect x="272.53" y="160.12" width="8.67" height="1.72" fill="#f3f7d7"/>
<rect x="281" y="160.12" width="8.67" height="1.72" fill="#f8f8cc"/>
<rect x="289.47" y="160.12" width="8.67" height="1.72" fill="#f3f7d7"/>
<rect x="297.93" y="160.12" width="8.67" height="1.72" fill="#eff6de"/>
<rect x="306.4" y="160.12" width="8.67" height="1.72" fill="#e45439"/>
<rect x="314.87" y="160.12" width="8.67" height="1.72" fill="#f1b271"/>
<rect x="323.33" y="160.12" width="8.67" height="1.72" fill="#b5dae6"/>
<rect x="255.6" y="161.64" width="8.67" height="1.72" fill="#d1e8ef"/>
<rect x="264.07" y="161.64" width="8.67" height="1.72" fill="#ddeef3"/>
<rect x="272.53" y="161.64" width="8.67" height="1.72" fill="#f7f4c7"/>
<rect x="281" y="161.64" width="8.67" height="1.72" fill="#f1f6da"/>
<rect x="289.47" y="161.64" width="8.67" height="1.72" fill="#eff6df"/>
<rect x="297.93" y="161.64" width="8.67" height="1.72" fill="#eef5e2"/>
<rect x="306.4" y="161.64" width="8.67" height="1.72" fill="#d22b27"/>
<rect x="314.87" y="161.64" width="8.67" height="1.72" fill="#ee8c58"/>
<rect x="323.33" y="161.64" width="8.67" height="1.72" fill="#bbdce8"/>
<rect x="255.6" y="163.16" width="8.67" height="1.72" fill="#e6f3f1"/>
<rect x="264.07" y="163.16" width="8.67" height="1.72" fill="#c9e4ed"/>
<rect x="272.53" y="163.16" width="8.67" height="1.72" fill="#f7f2c3"/>
<rect x="281" y="163.16" width="8.67" height="1.72" fill="#e9f4ec"/>
<rect x="289.47" y="163.16" width="8.67" height="1.72" fill="#f6f8d1"/>
<rect x="297.93" y="163.16" width="8.67" height="1.72" fill="#f8f6c9"/>
<rect x="306.4" y="163.16" width="8.67" height="1.72" fill="#df4531"/>
<rect x="314.87" y="163.16" width="8.67" height="1.72" fill="#f0a568"/>
<rect x="323.33" y="163.16" width="8.67" height="1.72" fill="#afd6e4"/>
<rect x="255.6" y="164.69" width="8.67" height="1.72" fill="#d2e8ef"/>
<rect x="264.07" y="164.69" width="8.67" height="1.72" fill="#eff6df"/>
<rect x="272.53" y="164.69" width="8.67" height="1.72" fill="#dbeef3"/>
<rect x="281" y="164.69" width="8.67" height="1.72" fill="#f0f6de"/>
<rect x="289.47" y="164.69" width="8.67" height="1.72" fill="#f7f8d0"/>
<rect x="297.93" y="164.69" width="8.67" height="1.72" fill="#f1f6db"/>
<rect x="306.4" y="164.69" width="8.67" height="1.72" fill="#d93529"/>
<rect x="314.87" y="164.69" width="8.67" height="1.72" fill="#ed8152"/>
<rect x="323.33" y="164.69" width="8.67" height="1.72" fill="#add5e3"/>
<rect x="255.6" y="166.21" width="8.67" height="1.72" fill="#e5f2f4"/>
<rect x="264.07" y="166.21" width="8.67" height="1.72" fill="#f3f7d6"/>
<rect x="272.53" y="166.21" width="8.67" height="1.72" fill="#f2f6d9"/>
<rect x="281" y="166.21" width="8.67" height="1.72" fill="#ddeff4"/>
<rect x="289.47" y="166.21" width="8.67" height="1.72" fill="#edf5e4"/>
<rect x="297.93" y="166.21" width="8.67" height="1.72" fill="#f7f8ce"/>
<rect x="306.4" y="166.21" width="8.67" height="1.72" fill="#dc3a2c"/>
<rect x="314.87" y="166.21" width="8.67" height="1.72" fill="#f1bf80"/>
<rect x="323.33" y="166.21" width="8.67" height="1.72" fill="#cbe5ed"/>
<rect x="255.6" y="167.74" width="8.67" height="1.72" fill="#edf5e2"/>
<rect x="264.07" y="167.74" width="8.67" height="1.72" fill="#f2f7d9"/>
<rect x="272.53" y="167.74" width="8.67" height="1.72" fill="#eaf4e8"/>
<rect x="281" y="167.74" width="8.67" height="1.72" fill="#d4eaf0"/>
<rect x="289.47" y="167.74" width="8.67" height="1.72" fill="#e9f4eb"/>
<rect x="297.93" y="167.74" width="8.67" height="1.72" fill="#eef5e1"/>
<rect x="306.4" y="167.74" width="8.67" height="1.72" fill="#de412f"/>
<rect x="314.87" y="167.74" width="8.67" height="1.72" fill="#f0a366"/>
<rect x="323.33" y="167.74" width="8.67" height="1.72" fill="#b0d7e5"/>
<rect x="255.6" y="169.26" width="8.67" height="1.72" fill="#f1f6da"/>
<rect x="264.07" y="169.26" width="8.67" height="1.72" fill="#deeff4"/>
<rect x="272.53" y="169.26" width="8.67" height="1.72" fill="#f4f7d5"/>
<rect x="281" y="169.26" width="8.67" height="1.72" fill="#f7f3c4"/>
<rect x="289.47" y="169.26" width="8.67" height="1.72" fill="#f4f7d6"/>
<rect x="297.93" y="169.26" width="8.67" height="1.72" fill="#f5e7b2"/>
<rect x="306.4" y="169.26" width="8.67" height="1.72" fill="#ea6743"/>
<rect x="314.87" y="169.26" width="8.67" height="1.72" fill="#ed7f51"/>
<rect x="323.33" y="169.26" width="8.67" height="1.72" fill="#a1cbde"/>
<rect x="255.6" y="170.78" width="8.67" height="1.72" fill="#e1f1f5"/>
<rect x="264.07" y="170.78" width="8.67" height="1.72" fill="#daedf2"/>
<rect x="272.53" y="170.78" width="8.67" height="1.72" fill="#e9f4ec"/>
<rect x="281" y="170.78" width="8.67" height="1.72" fill="#f3f7d7"/>
<rect x="289.47" y="170.78" width="8.67" height="1.72" fill="#eff6df"/>
<rect x="297.93" y="170.78" width="8.67" height="1.72" fill="#f5f7d4"/>
<rect x="306.4" y="170.78" width="8.67" height="1.72" fill="#b10c26"/>
<rect x="314.87" y="170.78" width="8.67" height="1.72" fill="#ed8051"/>
<rect x="323.33" y="170.78" width="8.67" height="1.72" fill="#a7d0e1"/>
<rect x="255.6" y="172.31" width="8.67" height="1.72" fill="#edf5e2"/>
<rect x="264.07" y="172.31" width="8.67" height="1.72" fill="#dceef3"/>
<rect x="272.53" y="172.31" width="8.67" height="1.72" fill="#edf5e3"/>
<rect x="281" y="172.31" width="8.67" height="1.72" fill="#f8f6c9"/>
<rect x="289.47" y="172.31" width="8.67" height="1.72" fill="#f4f7d5"/>
<rect x="297.93" y="172.31" width="8.67" height="1.72" fill="#eef5e1"/>
<rect x="306.4" y="172.31" width="8.67" height="1.72" fill="#ed7a4e"/>
<rect x="314.87" y="172.31" width="8.67" height="1.72" fill="#f1aa6b"/>
<rect x="323.33" y="172.31" width="8.67" height="1.72" fill="#bbdde8"/>
<rect x="255.6" y="173.83" width="8.67" height="1.72" fill="#ecf5e4"/>
<rect x="264.07" y="173.83" width="8.67" height="1.72" fill="#dbedf3"/>
<rect x="272.53" y="173.83" width="8.67" height="1.72" fill="#edf5e3"/>
<rect x="281" y="173.83" width="8.67" height="1.72" fill="#eef5e1"/>
<rect x="289.47" y="173.83" width="8.67" height="1.72" fill="#e7f3ee"/>
<rect x="297.93" y="173.83" width="8.67" height="1.72" fill="#edf5e4"/>
<rect x="306.4" y="173.83" width="8.67" height="1.72" fill="#da362a"/>
<rect x="314.87" y="173.83" width="8.67" height="1.72" fill="#ed734a"/>
<rect x="323.33" y="173.83" width="8.67" height="1.72" fill="#c4e1eb"/>
<rect x="255.6" y="175.35" width="8.67" height="1.72" fill="#f0f6de"/>
<rect x="264.07" y="175.35" width="8.67" height="1.72" fill="#e9f4ea"/>
<rect x="272.53" y="175.35" width="8.67" height="1.72" fill="#e7f3f0"/>
<rect x="281" y="175.35" width="8.67" height="1.72" fill="#f5f7d3"/>
<rect x="289.47" y="175.35" width="8.67" height="1.72" fill="#e5f3f2"/>
<rect x="297.93" y="175.35" width="8.67" height="1.72" fill="#f8f7cc"/>
<rect x="306.4" y="175.35" width="8.67" height="1.72" fill="#e04933"/>
<rect x="314.87" y="175.35" width="8.67" height="1.72" fill="#e14d35"/>
<rect x="323.33" y="175.35" width="8.67" height="1.72" fill="#9fcade"/>
<rect x="255.6" y="176.88" width="8.67" height="1.72" fill="#e9f4eb"/>
<rect x="264.07" y="176.88" width="8.67" height="1.72" fill="#ecf5e5"/>
<rect x="272.53" y="176.88" width="8.67" height="1.72" fill="#eef5e2"/>
<rect x="281" y="176.88" width="8.67" height="1.72" fill="#e9f4eb"/>
<rect x="289.47" y="176.88" width="8.67" height="1.72" fill="#f7f8ce"/>
<rect x="297.93" y="176.88" width="8.67" height="1.72" fill="#f8f6ca"/>
<rect x="306.4" y="176.88" width="8.67" height="1.72" fill="#e65a3c"/>
<rect x="314.87" y="176.88" width="8.67" height="1.72" fill="#e14a34"/>
<rect x="323.33" y="176.88" width="8.67" height="1.72" fill="#bfdfe9"/>
<rect x="255.6" y="178.4" width="8.67" height="1.68" fill="#f0f6dd"/>
<rect x="264.07" y="178.4" width="8.67" height="1.68" fill="#e7f3f0"/>
<rect x="272.53" y="178.4" width="8.67" height="1.68" fill="#a7d0e1"/>
<rect x="281" y="178.4" width="8.67" height="1.68" fill="#e7f3ef"/>
<rect x="289.47" y="178.4" width="8.67" height="1.68" fill="#e1f0f5"/>
<rect x="297.93" y="178.4" width="8.67" height="1.68" fill="#f2f6da"/>
<rect x="306.4" y="178.4" width="8.67" height="1.68" fill="#f7f5c8"/>
<rect x="314.87" y="178.4" width="8.67" height="1.68" fill="#ad0826"/>
<rect x="323.33" y="178.4" width="8.67" height="1.68" fill="#f6f8d1"/>
<rect x="255.6" y="179.88" width="8.67" height="1.68" fill="#f6f7d2"/>
<rect x="264.07" y="179.88" width="8.67" height="1.68" fill="#c4e1eb"/>
<rect x="272.53" y="179.88" width="8.67" height="1.68" fill="#e5f3f2"/>
<rect x="281" y="179.88" width="8.67" height="1.68" fill="#e7f3ef"/>
<rect x="289.47" y="179.88" width="8.67" height="1.68" fill="#f5f7d4"/>
<rect x="297.93" y="179.88" width="8.67" height="1.68" fill="#f2f6d9"/>
<rect x="306.4" y="179.88" width="8.67" height="1.68" fill="#f8f7cb"/>
<rect x="314.87" y="179.88" width="8.67" height="1.68" fill="#af0a26"/>
<rect x="323.33" y="179.88" width="8.67" height="1.68" fill="#e8f3ed"/>
<rect x="255.6" y="181.36" width="8.67" height="1.68" fill="#deeff4"/>
<rect x="264.07" y="181.36" width="8.67" height="1.68" fill="#b3d9e6"/>
<rect x="272.53" y="181.36" width="8.67" height="1.68" fill="#b8dbe7"/>
<rect x="281" y="181.36" width="8.67" height="1.68" fill="#eef5e1"/>
<rect x="289.47" y="181.36" width="8.67" height="1.68" fill="#d8ecf2"/>
<rect x="297.93" y="181.36" width="8.67" height="1.68" fill="#f2f7d8"/>
<rect x="306.4" y="181.36" width="8.67" height="1.68" fill="#f4e3ab"/>
<rect x="314.87" y="181.36" width="8.67" height="1.68" fill="#c11b27"/>
<rect x="323.33" y="181.36" width="8.67" height="1.68" fill="#eff6de"/>
<rect x="255.6" y="182.83" width="8.67" height="1.68" fill="#e8f3ee"/>
<rect x="264.07" y="182.83" width="8.67" height="1.68" fill="#d5eaf0"/>
<rect x="272.53" y="182.83" width="8.67" height="1.68" fill="#e5f2f3"/>
<rect x="281" y="182.83" width="8.67" height="1.68" fill="#f8f8cc"/>
<rect x="289.47" y="182.83" width="8.67" height="1.68" fill="#edf5e2"/>
<rect x="297.93" y="182.83" width="8.67" height="1.68" fill="#e1f1f5"/>
<rect x="306.4" y="182.83" width="8.67" height="1.68" fill="#f3d99c"/>
<rect x="314.87" y="182.83" width="8.67" height="1.68" fill="#be1827"/>
<rect x="323.33" y="182.83" width="8.67" height="1.68" fill="#eff5e0"/>
<rect x="255.6" y="184.31" width="8.67" height="1.68" fill="#c3e1eb"/>
<rect x="264.07" y="184.31" width="8.67" height="1.68" fill="#eef5e1"/>
<rect x="272.53" y="184.31" width="8.67" height="1.68" fill="#f1f6db"/>
<rect x="281" y="184.31" width="8.67" height="1.68" fill="#e0f0f4"/>
<rect x="289.47" y="184.31" width="8.67" height="1.68" fill="#e7f3ef"/>
<rect x="297.93" y="184.31" width="8.67" height="1.68" fill="#f7f8ce"/>
<rect x="306.4" y="184.31" width="8.67" height="1.68" fill="#f7f4c5"/>
<rect x="314.87" y="184.31" width="8.67" height="1.68" fill="#ad0826"/>
<rect x="323.33" y="184.31" width="8.67" height="1.68" fill="#ecf5e5"/>
<rect x="255.6" y="185.79" width="8.67" height="1.68" fill="#e6f3f1"/>
<rect x="264.07" y="185.79" width="8.67" height="1.68" fill="#f5f7d4"/>
<rect x="272.53" y="185.79" width="8.67" height="1.68" fill="#dbedf3"/>
<rect x="281" y="185.79" width="8.67" height="1.68" fill="#eaf4ea"/>
<rect x="289.47" y="185.79" width="8.67" height="1.68" fill="#f4f7d5"/>
<rect x="297.93" y="185.79" width="8.67" height="1.68" fill="#f7f2c3"/>
<rect x="306.4" y="185.79" width="8.67" height="1.68" fill="#f5edba"/>
<rect x="314.87" y="185.79" width="8.67" height="1.68" fill="#c82227"/>
<rect x="323.33" y="185.79" width="8.67" height="1.68" fill="#dbedf3"/>
<rect x="255.6" y="187.27" width="8.67" height="1.68" fill="#d3e9f0"/>
<rect x="264.07" y="187.27" width="8.67" height="1.68" fill="#eaf4e8"/>
<rect x="272.53" y="187.27" width="8.67" height="1.68" fill="#eaf4e8"/>
<rect x="281" y="187.27" width="8.67" height="1.68" fill="#deeff4"/>
<rect x="289.47" y="187.27" width="8.67" height="1.68" fill="#ebf4e6"/>
<rect x="297.93" y="187.27" width="8.67" height="1.68" fill="#eff5e0"/>
<rect x="306.4" y="187.27" width="8.67" height="1.68" fill="#f5eab6"/>
<rect x="314.87" y="187.27" width="8.67" height="1.68" fill="#be1827"/>
<rect x="323.33" y="187.27" width="8.67" height="1.68" fill="#f5f7d3"/>
<rect x="255.6" y="188.74" width="8.67" height="1.68" fill="#ebf4e7"/>
<rect x="264.07" y="188.74" width="8.67" height="1.68" fill="#edf5e3"/>
<rect x="272.53" y="188.74" width="8.67" height="1.68" fill="#eef5e0"/>
<rect x="281" y="188.74" width="8.67" height="1.68" fill="#eaf4e9"/>
<rect x="289.47" y="188.74" width="8.67" height="1.68" fill="#dbedf3"/>
<rect x="297.93" y="188.74" width="8.67" height="1.68" fill="#c9e4ed"/>
<rect x="306.4" y="188.74" width="8.67" height="1.68" fill="#f4e5ad"/>
<rect x="314.87" y="188.74" width="8.67" height="1.68" fill="#a80326"/>
<rect x="323.33" y="188.74" width="8.67" height="1.68" fill="#d1e8ef"/>
<rect x="255.6" y="190.22" width="8.67" height="1.68" fill="#f6f0c0"/>
<rect x="264.07" y="190.22" width="8.67" height="1.68" fill="#ecf5e5"/>
<rect x="272.53" y="190.22" width="8.67" height="1.68" fill="#dff0f4"/>
<rect x="281" y="190.22" width="8.67" height="1.68" fill="#e7f3ef"/>
<rect x="289.47" y="190.22" width="8.67" height="1.68" fill="#ecf5e5"/>
<rect x="297.93" y="190.22" width="8.67" height="1.68" fill="#ecf5e5"/>
<rect x="306.4" y="190.22" width="8.67" height="1.68" fill="#f6efbf"/>
<rect x="314.87" y="190.22" width="8.67" height="1.68" fill="#b91326"/>
<rect x="323.33" y="190.22" width="8.67" height="1.68" fill="#f4f7d6"/>
<rect x="255.6" y="191.7" width="8.67" height="1.68" fill="#ebf4e7"/>
<rect x="264.07" y="191.7" width="8.67" height="1.68" fill="#d1e8ef"/>
<rect x="272.53" y="191.7" width="8.67" height="1.68" fill="#d8ecf2"/>
<rect x="281" y="191.7" width="8.67" height="1.68" fill="#ebf4e7"/>
<rect x="289.47" y="191.7" width="8.67" height="1.68" fill="#e1f1f5"/>
<rect x="297.93" y="191.7" width="8.67" height="1.68" fill="#ebf4e7"/>
<rect x="306.4" y="191.7" width="8.67" height="1.68" fill="#f5f7d4"/>
<rect x="314.87" y="191.7" width="8.67" height="1.68" fill="#a80326"/>
<rect x="323.33" y="191.7" width="8.67" height="1.68" fill="#e6f3f0"/>
<rect x="255.6" y="193.18" width="8.67" height="1.68" fill="#e4f2f5"/>
<rect x="264.07" y="193.18" width="8.67" height="1.68" fill="#ddeff4"/>
<rect x="272.53" y="193.18" width="8.67" height="1.68" fill="#eef5e1"/>
<rect x="281" y="193.18" width="8.67" height="1.68" fill="#e5f2f3"/>
<rect x="289.47" y="193.18" width="8.67" height="1.68" fill="#eaf4ea"/>
<rect x="297.93" y="193.18" width="8.67" height="1.68" fill="#f6f7d2"/>
<rect x="306.4" y="193.18" width="8.67" height="1.68" fill="#f6f0c0"/>
<rect x="314.87" y="193.18" width="8.67" height="1.68" fill="#c41e27"/>
<rect x="323.33" y="193.18" width="8.67" height="1.68" fill="#d4eaf0"/>
<rect x="255.6" y="194.66" width="8.67" height="1.68" fill="#e8f3ec"/>
<rect x="264.07" y="194.66" width="8.67" height="1.68" fill="#e6f3f1"/>
<rect x="272.53" y="194.66" width="8.67" height="1.68" fill="#ecf5e5"/>
<rect x="281" y="194.66" width="8.67" height="1.68" fill="#d2e9f0"/>
<rect x="289.47" y="194.66" width="8.67" height="1.68" fill="#eff6de"/>
<rect x="297.93" y="194.66" width="8.67" height="1.68" fill="#e9f4ea"/>
<rect x="306.4" y="194.66" width="8.67" height="1.68" fill="#f7f8d0"/>
<rect x="314.87" y="194.66" width="8.67" height="1.68" fill="#c62027"/>
<rect x="323.33" y="194.66" width="8.67" height="1.68" fill="#cfe7ee"/>
<rect x="255.6" y="196.13" width="8.67" height="1.68" fill="#e4f2f5"/>
<rect x="264.07" y="196.13" width="8.67" height="1.68" fill="#dbedf3"/>
<rect x="272.53" y="196.13" width="8.67" height="1.68" fill="#f5edba"/>
<rect x="281" y="196.13" width="8.67" height="1.68" fill="#f0f6dc"/>
<rect x="289.47" y="196.13" width="8.67" height="1.68" fill="#e5f2f3"/>
<rect x="297.93" y="196.13" width="8.67" height="1.68" fill="#e5f2f3"/>
<rect x="306.4" y="196.13" width="8.67" height="1.68" fill="#f7f3c5"/>
<rect x="314.87" y="196.13" width="8.67" height="1.68" fill="#c92327"/>
<rect x="323.33" y="196.13" width="8.67" height="1.68" fill="#e4f2f5"/>
<rect x="255.6" y="197.61" width="8.67" height="1.68" fill="#d9ecf2"/>
<rect x="264.07" y="197.61" width="8.67" height="1.68" fill="#deeff4"/>
<rect x="272.53" y="197.61" width="8.67" height="1.68" fill="#d8ecf2"/>
<rect x="281" y="197.61" width="8.67" height="1.68" fill="#e1f1f5"/>
<rect x="289.47" y="197.61" width="8.67" height="1.68" fill="#edf5e4"/>
<rect x="297.93" y="197.61" width="8.67" height="1.68" fill="#ebf4e7"/>
<rect x="306.4" y="197.61" width="8.67" height="1.68" fill="#eaf4e8"/>
<rect x="314.87" y="197.61" width="8.67" height="1.68" fill="#ba1426"/>
<rect x="323.33" y="197.61" width="8.67" height="1.68" fill="#eef5e1"/>
<rect x="255.6" y="199.09" width="8.67" height="1.68" fill="#e5f3f2"/>
<rect x="264.07" y="199.09" width="8.67" height="1.68" fill="#f6f7d2"/>
<rect x="272.53" y="199.09" width="8.67" height="1.68" fill="#e6f3f1"/>
<rect x="281" y="199.09" width="8.67" height="1.68" fill="#eaf4e8"/>
<rect x="289.47" y="199.09" width="8.67" height="1.68" fill="#edf5e4"/>
<rect x="297.93" y="199.09" width="8.67" height="1.68" fill="#e3f2f6"/>
<rect x="306.4" y="199.09" width="8.67" height="1.68" fill="#f3dfa5"/>
<rect x="314.87" y="199.09" width="8.67" height="1.68" fill="#b00b26"/>
<rect x="323.33" y="199.09" width="8.67" height="1.68" fill="#c7e3ec"/>
<rect x="255.6" y="200.57" width="8.67" height="1.68" fill="#e5f2f3"/>
<rect x="264.07" y="200.57" width="8.67" height="1.68" fill="#eff6df"/>
<rect x="272.53" y="200.57" width="8.67" height="1.68" fill="#c7e3ec"/>
<rect x="281" y="200.57" width="8.67" height="1.68" fill="#f0f6dd"/>
<rect x="289.47" y="200.57" width="8.67" height="1.68" fill="#dceef3"/>
<rect x="297.93" y="200.57" width="8.67" height="1.68" fill="#f0f6dc"/>
<rect x="306.4" y="200.57" width="8.67" height="1.68" fill="#f3f7d8"/>
<rect x="314.87" y="200.57" width="8.67" height="1.68" fill="#be1827"/>
<rect x="323.33" y="200.57" width="8.67" height="1.68" fill="#e4f2f4"/>
<rect x="255.6" y="202.04" width="8.67" height="1.68" fill="#e2f1f5"/>
<rect x="264.07" y="202.04" width="8.67" height="1.68" fill="#e2f1f5"/>
<rect x="272.53" y="202.04" width="8.67" height="1.68" fill="#ebf4e7"/>
<rect x="281" y="202.04" width="8.67" height="1.68" fill="#e4f2f4"/>
<rect x="289.47" y="202.04" width="8.67" height="1.68" fill="#c4e1eb"/>
<rect x="297.93" y="202.04" width="8.67" height="1.68" fill="#e4f2f4"/>
<rect x="306.4" y="202.04" width="8.67" height="1.68" fill="#f4e7b1"/>
<rect x="314.87" y="202.04" width="8.67" height="1.68" fill="#cf2827"/>
<rect x="323.33" y="202.04" width="8.67" height="1.68" fill="#e7f3ef"/>
<rect x="255.6" y="203.52" width="8.67" height="1.68" fill="#e8f3ee"/>
<rect x="264.07" y="203.52" width="8.67" height="1.68" fill="#eef5e1"/>
<rect x="272.53" y="203.52" width="8.67" height="1.68" fill="#e6f3f1"/>
<rect x="281" y="203.52" width="8.67" height="1.68" fill="#f0f6de"/>
<rect x="289.47" y="203.52" width="8.67" height="1.68" fill="#daedf2"/>
<rect x="297.93" y="203.52" width="8.67" height="1.68" fill="#ddeff3"/>
<rect x="306.4" y="203.52" width="8.67" height="1.68" fill="#f6edbb"/>
<rect x="314.87" y="203.52" width="8.67" height="1.68" fill="#ce2727"/>
<rect x="323.33" y="203.52" width="8.67" height="1.68" fill="#e5f2f2"/>
<rect x="255.6" y="205" width="8.67" height="1.73" fill="#d8ecf2"/>
<rect x="264.07" y="205" width="8.67" height="1.73" fill="#dceef3"/>
<rect x="272.53" y="205" width="8.67" height="1.73" fill="#daedf2"/>
<rect x="281" y="205" width="8.67" height="1.73" fill="#e5f2f3"/>
<rect x="289.47" y="205" width="8.67" height="1.73" fill="#e7f3ee"/>
<rect x="297.93" y="205" width="8.67" height="1.73" fill="#e2f1f5"/>
<rect x="306.4" y="205" width="8.67" height="1.73" fill="#edf5e4"/>
<rect x="314.87" y="205" width="8.67" height="1.73" fill="#ee8253"/>
<rect x="323.33" y="205" width="8.67" height="1.73" fill="#c72127"/>
<rect x="255.6" y="206.53" width="8.67" height="1.73" fill="#f4f7d4"/>
<rect x="264.07" y="206.53" width="8.67" height="1.73" fill="#e6f3f1"/>
<rect x="272.53" y="206.53" width="8.67" height="1.73" fill="#d0e7ef"/>
<rect x="281" y="206.53" width="8.67" height="1.73" fill="#c7e3ec"/>
<rect x="289.47" y="206.53" width="8.67" height="1.73" fill="#ebf4e8"/>
<rect x="297.93" y="206.53" width="8.67" height="1.73" fill="#cee6ee"/>
<rect x="306.4" y="206.53" width="8.67" height="1.73" fill="#f4f7d6"/>
<rect x="314.87" y="206.53" width="8.67" height="1.73" fill="#f1bc7c"/>
<rect x="323.33" y="206.53" width="8.67" height="1.73" fill="#ab0626"/>
<rect x="255.6" y="208.07" width="8.67" height="1.73" fill="#bbdce8"/>
<rect x="264.07" y="208.07" width="8.67" height="1.73" fill="#c9e4ed"/>
<rect x="272.53" y="208.07" width="8.67" height="1.73" fill="#cbe5ed"/>
<rect x="281" y="208.07" width="8.67" height="1.73" fill="#f4f7d6"/>
<rect x="289.47" y="208.07" width="8.67" height="1.73" fill="#e5f3f2"/>
<rect x="297.93" y="208.07" width="8.67" height="1.73" fill="#f0f6de"/>
<rect x="306.4" y="208.07" width="8.67" height="1.73" fill="#f7f8d0"/>
<rect x="314.87" y="208.07" width="8.67" height="1.73" fill="#e35238"/>
<rect x="323.33" y="208.07" width="8.67" height="1.73" fill="#b10b26"/>
<rect x="255.6" y="209.6" width="8.67" height="1.73" fill="#e8f3ec"/>
<rect x="264.07" y="209.6" width="8.67" height="1.73" fill="#c0dfea"/>
<rect x="272.53" y="209.6" width="8.67" height="1.73" fill="#e7f3ef"/>
<rect x="281" y="209.6" width="8.67" height="1.73" fill="#e2f1f5"/>
<rect x="289.47" y="209.6" width="8.67" height="1.73" fill="#daedf2"/>
<rect x="297.93" y="209.6" width="8.67" height="1.73" fill="#d2e8ef"/>
<rect x="306.4" y="209.6" width="8.67" height="1.73" fill="#f6f1c1"/>
<rect x="314.87" y="209.6" width="8.67" height="1.73" fill="#ef9c62"/>
<rect x="323.33" y="209.6" width="8.67" height="1.73" fill="#b40e26"/>
<rect x="255.6" y="211.13" width="8.67" height="1.73" fill="#e4f2f5"/>
<rect x="264.07" y="211.13" width="8.67" height="1.73" fill="#e3f2f6"/>
<rect x="272.53" y="211.13" width="8.67" height="1.73" fill="#e9f4ea"/>
<rect x="281" y="211.13" width="8.67" height="1.73" fill="#e9f4eb"/>
<rect x="289.47" y="211.13" width="8.67" height="1.73" fill="#e8f3ec"/>
<rect x="297.93" y="211.13" width="8.67" height="1.73" fill="#dceef3"/>
<rect x="306.4" y="211.13" width="8.67" height="1.73" fill="#eaf4e9"/>
<rect x="314.87" y="211.13" width="8.67" height="1.73" fill="#ef945d"/>
<rect x="323.33" y="211.13" width="8.67" height="1.73" fill="#b61126"/>
<rect x="255.6" y="212.67" width="8.67" height="1.73" fill="#dff0f4"/>
<rect x="264.07" y="212.67" width="8.67" height="1.73" fill="#e7f3ef"/>
<rect x="272.53" y="212.67" width="8.67" height="1.73" fill="#edf5e3"/>
<rect x="281" y="212.67" width="8.67" height="1.73" fill="#e1f1f5"/>
<rect x="289.47" y="212.67" width="8.67" height="1.73" fill="#daedf2"/>
<rect x="297.93" y="212.67" width="8.67" height="1.73" fill="#d3e9f0"/>
<rect x="306.4" y="212.67" width="8.67" height="1.73" fill="#f8f7cb"/>
<rect x="314.87" y="212.67" width="8.67" height="1.73" fill="#ee8957"/>
<rect x="323.33" y="212.67" width="8.67" height="1.73" fill="#b50f26"/>
<rect x="255.6" y="214.2" width="8.67" height="1.73" fill="#f7f8d0"/>
<rect x="264.07" y="214.2" width="8.67" height="1.73" fill="#ecf5e6"/>
<rect x="272.53" y="214.2" width="8.67" height="1.73" fill="#e9f4ea"/>
<rect x="281" y="214.2" width="8.67" height="1.73" fill="#e6f3f0"/>
<rect x="289.47" y="214.2" width="8.67" height="1.73" fill="#d7ebf1"/>
<rect x="297.93" y="214.2" width="8.67" height="1.73" fill="#e3f2f5"/>
<rect x="306.4" y="214.2" width="8.67" height="1.73" fill="#edf5e3"/>
<rect x="314.87" y="214.2" width="8.67" height="1.73" fill="#f1b574"/>
<rect x="323.33" y="214.2" width="8.67" height="1.73" fill="#a90426"/>
<rect x="255.6" y="215.73" width="8.67" height="1.73" fill="#e2f1f5"/>
<rect x="264.07" y="215.73" width="8.67" height="1.73" fill="#dbedf3"/>
<rect x="272.53" y="215.73" width="8.67" height="1.73" fill="#e9f4ec"/>
<rect x="281" y="215.73" width="8.67" height="1.73" fill="#c2e0ea"/>
<rect x="289.47" y="215.73" width="8.67" height="1.73" fill="#e6f3f2"/>
<rect x="297.93" y="215.73" width="8.67" height="1.73" fill="#e5f2f3"/>
<rect x="306.4" y="215.73" width="8.67" height="1.73" fill="#e6f3f1"/>
<rect x="314.87" y="215.73" width="8.67" height="1.73" fill="#f4e4ad"/>
<rect x="323.33" y="215.73" width="8.67" height="1.73" fill="#bc1626"/>
<rect x="255.6" y="217.27" width="8.67" height="1.73" fill="#cde6ee"/>
<rect x="264.07" y="217.27" width="8.67" height="1.73" fill="#ebf4e7"/>
<rect x="272.53" y="217.27" width="8.67" height="1.73" fill="#f4f7d6"/>
<rect x="281" y="217.27" width="8.67" height="1.73" fill="#ddeff4"/>
<rect x="289.47" y="217.27" width="8.67" height="1.73" fill="#bbdde8"/>
<rect x="297.93" y="217.27" width="8.67" height="1.73" fill="#ebf4e7"/>
<rect x="306.4" y="217.27" width="8.67" height="1.73" fill="#f5f7d2"/>
<rect x="314.87" y="217.27" width="8.67" height="1.73" fill="#f1c181"/>
<rect x="323.33" y="217.27" width="8.67" height="1.73" fill="#ca2427"/>
<rect x="255.6" y="218.8" width="8.67" height="1.73" fill="#edf5e2"/>
<rect x="264.07" y="218.8" width="8.67" height="1.73" fill="#d5eaf1"/>
<rect x="272.53" y="218.8" width="8.67" height="1.73" fill="#eaf4e9"/>
<rect x="281" y="218.8" width="8.67" height="1.73" fill="#e0f0f4"/>
<rect x="289.47" y="218.8" width="8.67" height="1.73" fill="#e1f1f5"/>
<rect x="297.93" y="218.8" width="8.67" height="1.73" fill="#e6f3f1"/>
<rect x="306.4" y="218.8" width="8.67" height="1.73" fill="#f2d799"/>
<rect x="314.87" y="218.8" width="8.67" height="1.73" fill="#f0a869"/>
<rect x="323.33" y="218.8" width="8.67" height="1.73" fill="#a50026"/>
<rect x="255.6" y="220.33" width="8.67" height="1.73" fill="#ecf5e5"/>
<rect x="264.07" y="220.33" width="8.67" height="1.73" fill="#e4f2f5"/>
<rect x="272.53" y="220.33" width="8.67" height="1.73" fill="#d0e8ef"/>
<rect x="281" y="220.33" width="8.67" height="1.73" fill="#e5f2f3"/>
<rect x="289.47" y="220.33" width="8.67" height="1.73" fill="#f8f6ca"/>
<rect x="297.93" y="220.33" width="8.67" height="1.73" fill="#daedf2"/>
<rect x="306.4" y="220.33" width="8.67" height="1.73" fill="#f3f7d7"/>
<rect x="314.87" y="220.33" width="8.67" height="1.73" fill="#ef955e"/>
<rect x="323.33" y="220.33" width="8.67" height="1.73" fill="#a50026"/>
<rect x="255.6" y="221.87" width="8.67" height="1.73" fill="#d0e8ef"/>
<rect x="264.07" y="221.87" width="8.67" height="1.73" fill="#dceef3"/>
<rect x="272.53" y="221.87" width="8.67" height="1.73" fill="#e2f1f5"/>
<rect x="281" y="221.87" width="8.67" height="1.73" fill="#f4f7d5"/>
<rect x="289.47" y="221.87" width="8.67" height="1.73" fill="#e4f2f4"/>
<rect x="297.93" y="221.87" width="8.67" height="1.73" fill="#e3f2f6"/>
<rect x="306.4" y="221.87" width="8.67" height="1.73" fill="#ebf4e7"/>
<rect x="314.87" y="221.87" width="8.67" height="1.73" fill="#f1b574"/>
<rect x="323.33" y="221.87" width="8.67" height="1.73" fill="#b00b26"/>
<rect x="255.6" y="223.4" width="8.67" height="1.73" fill="#d3e9f0"/>
<rect x="264.07" y="223.4" width="8.67" height="1.73" fill="#ebf4e7"/>
<rect x="272.53" y="223.4" width="8.67" height="1.73" fill="#d2e8ef"/>
<rect x="281" y="223.4" width="8.67" height="1.73" fill="#d9ecf2"/>
<rect x="289.47" y="223.4" width="8.67" height="1.73" fill="#dbedf3"/>
<rect x="297.93" y="223.4" width="8.67" height="1.73" fill="#eef5e1"/>
<rect x="306.4" y="223.4" width="8.67" height="1.73" fill="#e9f4eb"/>
<rect x="314.87" y="223.4" width="8.67" height="1.73" fill="#f3dfa3"/>
<rect x="323.33" y="223.4" width="8.67" height="1.73" fill="#b00b26"/>
<rect x="255.6" y="224.93" width="8.67" height="1.73" fill="#f3f7d8"/>
<rect x="264.07" y="224.93" width="8.67" height="1.73" fill="#daedf2"/>
<rect x="272.53" y="224.93" width="8.67" height="1.73" fill="#d7ebf1"/>
<rect x="281" y="224.93" width="8.67" height="1.73" fill="#f2f6d9"/>
<rect x="289.47" y="224.93" width="8.67" height="1.73" fill="#f1f6da"/>
<rect x="297.93" y="224.93" width="8.67" height="1.73" fill="#ebf4e7"/>
<rect x="306.4" y="224.93" width="8.67" height="1.73" fill="#f8f8cd"/>
<rect x="314.87" y="224.93" width="8.67" height="1.73" fill="#ec6d47"/>
<rect x="323.33" y="224.93" width="8.67" height="1.73" fill="#ad0726"/>
<rect x="255.6" y="226.47" width="8.67" height="1.73" fill="#e3f1f5"/>
<rect x="264.07" y="226.47" width="8.67" height="1.73" fill="#e4f2f5"/>
<rect x="272.53" y="226.47" width="8.67" height="1.73" fill="#deeff4"/>
<rect x="281" y="226.47" width="8.67" height="1.73" fill="#f1f6db"/>
<rect x="289.47" y="226.47" width="8.67" height="1.73" fill="#d7ebf1"/>
<rect x="297.93" y="226.47" width="8.67" height="1.73" fill="#e9f4eb"/>
<rect x="306.4" y="226.47" width="8.67" height="1.73" fill="#f7f3c4"/>
<rect x="314.87" y="226.47" width="8.67" height="1.73" fill="#f2cc8e"/>
<rect x="323.33" y="226.47" width="8.67" height="1.73" fill="#bb1526"/>
<rect x="255.6" y="228" width="8.67" height="1.73" fill="#ecf5e5"/>
<rect x="264.07" y="228" width="8.67" height="1.73" fill="#e3f2f6"/>
<rect x="272.53" y="228" width="8.67" height="1.73" fill="#e6f3f1"/>
<rect x="281" y="228" width="8.67" height="1.73" fill="#dbedf3"/>
<rect x="289.47" y="228" width="8.67" height="1.73" fill="#d8ecf2"/>
<rect x="297.93" y="228" width="8.67" height="1.73" fill="#d7ebf1"/>
<rect x="306.4" y="228" width="8.67" height="1.73" fill="#e5f2f2"/>
<rect x="314.87" y="228" width="8.67" height="1.73" fill="#f1b373"/>
<rect x="323.33" y="228" width="8.67" height="1.73" fill="#b00a26"/>
<rect x="255.6" y="229.53" width="8.67" height="1.73" fill="#d3e9f0"/>
<rect x="264.07" y="229.53" width="8.67" height="1.73" fill="#ecf5e5"/>
<rect x="272.53" y="229.53" width="8.67" height="1.73" fill="#edf5e3"/>
<rect x="281" y="229.53" width="8.67" height="1.73" fill="#e9f4ec"/>
<rect x="289.47" y="229.53" width="8.67" height="1.73" fill="#dff0f4"/>
<rect x="297.93" y="229.53" width="8.67" height="1.73" fill="#ecf5e4"/>
<rect x="306.4" y="229.53" width="8.67" height="1.73" fill="#f7f4c6"/>
<rect x="314.87" y="229.53" width="8.67" height="1.73" fill="#f2cf90"/>
<rect x="323.33" y="229.53" width="8.67" height="1.73" fill="#be1826"/>
<rect x="255.6" y="231.07" width="8.67" height="1.73" fill="#e4f2f5"/>
<rect x="264.07" y="231.07" width="8.67" height="1.73" fill="#e0f0f5"/>
<rect x="272.53" y="231.07" width="8.67" height="1.73" fill="#cee6ee"/>
<rect x="281" y="231.07" width="8.67" height="1.73" fill="#f0f6dd"/>
<rect x="289.47" y="231.07" width="8.67" height="1.73" fill="#cde6ee"/>
<rect x="297.93" y="231.07" width="8.67" height="1.73" fill="#e9f4eb"/>
<rect x="306.4" y="231.07" width="8.67" height="1.73" fill="#f5e9b4"/>
<rect x="314.87" y="231.07" width="8.67" height="1.73" fill="#f1bf80"/>
<rect x="323.33" y="231.07" width="8.67" height="1.73" fill="#bf1927"/>
<rect x="255.6" y="8.3" width="76.2" height="224.3" fill="none" stroke="#2b2b2b" stroke-width="1"/>
<text x="243.6" y="12.6" font-size="7.84" text-anchor="end" fill="#333" font-style="italic" stroke="#333" stroke-width="0.12" textLength="23.54" lengthAdjust="spacingAndGlyphs">MS4A1</text>
<text x="243.6" y="19.3" font-size="7.84" text-anchor="end" fill="#333" font-style="italic" stroke="#333" stroke-width="0.12" textLength="27.92" lengthAdjust="spacingAndGlyphs">MALAT1</text>
<text x="243.6" y="25.5" font-size="7.84" text-anchor="end" fill="#333" font-style="italic" stroke="#333" stroke-width="0.12" textLength="23.14" lengthAdjust="spacingAndGlyphs">DDX17</text>
<text x="243.6" y="32.1" font-size="7.84" text-anchor="end" fill="#333" font-style="italic" stroke="#333" stroke-width="0.12" textLength="18.34" lengthAdjust="spacingAndGlyphs">CIITA</text>
<text x="243.6" y="40.9" font-size="7.84" text-anchor="end" fill="#333" font-style="italic" stroke="#333" stroke-width="0.12" textLength="17.95" lengthAdjust="spacingAndGlyphs">IGHD</text>
<text x="243.6" y="47.9" font-size="7.84" text-anchor="end" fill="#333" font-style="italic" stroke="#333" stroke-width="0.12" textLength="23.53" lengthAdjust="spacingAndGlyphs">FCER2</text>
<text x="243.6" y="57.6" font-size="7.84" text-anchor="end" fill="#333" font-style="italic" stroke="#333" stroke-width="0.12" textLength="23.14" lengthAdjust="spacingAndGlyphs">CD79B</text>
<text x="243.6" y="67.3" font-size="7.84" text-anchor="end" fill="#333" font-style="italic" stroke="#333" stroke-width="0.12" textLength="16.75" lengthAdjust="spacingAndGlyphs">IFIT3</text>
<text x="243.6" y="74.3" font-size="7.84" text-anchor="end" fill="#333" font-style="italic" stroke="#333" stroke-width="0.12" textLength="16.75" lengthAdjust="spacingAndGlyphs">IFIT1</text>
<text x="243.6" y="85.1" font-size="7.84" text-anchor="end" fill="#333" font-style="italic" stroke="#333" stroke-width="0.12" textLength="22.34" lengthAdjust="spacingAndGlyphs">STAT1</text>
<text x="243.6" y="92.6" font-size="7.84" text-anchor="end" fill="#333" font-style="italic" stroke="#333" stroke-width="0.12" textLength="23.14" lengthAdjust="spacingAndGlyphs">CD79A</text>
<text x="243.6" y="99.6" font-size="7.84" text-anchor="end" fill="#333" font-style="italic" stroke="#333" stroke-width="0.12" textLength="18.35" lengthAdjust="spacingAndGlyphs">CD72</text>
<text x="243.6" y="108.4" font-size="7.84" text-anchor="end" fill="#333" font-style="italic" stroke="#333" stroke-width="0.12" textLength="23.54" lengthAdjust="spacingAndGlyphs">FOXP1</text>
<text x="243.6" y="115.4" font-size="7.84" text-anchor="end" fill="#333" font-style="italic" stroke="#333" stroke-width="0.12" textLength="31.92" lengthAdjust="spacingAndGlyphs">BHLHE41</text>
<text x="243.6" y="124.9" font-size="7.84" text-anchor="end" fill="#333" font-style="italic" stroke="#333" stroke-width="0.12" textLength="16.75" lengthAdjust="spacingAndGlyphs">AIM2</text>
<text x="243.6" y="132.5" font-size="7.84" text-anchor="end" fill="#333" font-style="italic" stroke="#333" stroke-width="0.12" textLength="27.13" lengthAdjust="spacingAndGlyphs">LGALS1</text>
<text x="243.6" y="139.7" font-size="7.84" text-anchor="end" fill="#333" font-style="italic" stroke="#333" stroke-width="0.12" textLength="17.96" lengthAdjust="spacingAndGlyphs">BCL6</text>
<text x="243.6" y="148.3" font-size="7.84" text-anchor="end" fill="#333" font-style="italic" stroke="#333" stroke-width="0.12" textLength="23.14" lengthAdjust="spacingAndGlyphs">BASP1</text>
<text x="243.6" y="155.6" font-size="7.84" text-anchor="end" fill="#333" font-style="italic" stroke="#333" stroke-width="0.12" textLength="18.35" lengthAdjust="spacingAndGlyphs">CD40</text>
<text x="243.6" y="161.3" font-size="7.84" text-anchor="end" fill="#333" font-style="italic" stroke="#333" stroke-width="0.12" textLength="26.74" lengthAdjust="spacingAndGlyphs">BCL2A1</text>
<text x="243.6" y="170" font-size="7.84" text-anchor="end" fill="#333" font-style="italic" stroke="#333" stroke-width="0.12" textLength="23.93" lengthAdjust="spacingAndGlyphs">DUSP2</text>
<text x="243.6" y="177.9" font-size="7.84" text-anchor="end" fill="#333" font-style="italic" stroke="#333" stroke-width="0.12" textLength="25.93" lengthAdjust="spacingAndGlyphs">NFKBIA</text>
<text x="243.6" y="189.3" font-size="7.84" text-anchor="end" fill="#333" font-style="italic" stroke="#333" stroke-width="0.12" textLength="23.54" lengthAdjust="spacingAndGlyphs">TOP2A</text>
<text x="243.6" y="197.1" font-size="7.84" text-anchor="end" fill="#333" font-style="italic" stroke="#333" stroke-width="0.12" textLength="20.75" lengthAdjust="spacingAndGlyphs">MKI67</text>
<text x="243.6" y="210.6" font-size="7.84" text-anchor="end" fill="#333" font-style="italic" stroke="#333" stroke-width="0.12" textLength="25.92" lengthAdjust="spacingAndGlyphs">JCHAIN</text>
<text x="243.6" y="217.3" font-size="7.84" text-anchor="end" fill="#333" font-style="italic" stroke="#333" stroke-width="0.12" textLength="19.14" lengthAdjust="spacingAndGlyphs">MZB1</text>
<text x="243.6" y="229.6" font-size="7.84" text-anchor="end" fill="#333" font-style="italic" stroke="#333" stroke-width="0.12" textLength="18.35" lengthAdjust="spacingAndGlyphs">CD38</text>
<path d="M246.2,9.6 L255.4,9.3" fill="none" stroke="#2b2b2b" stroke-width="0.95"/>
<path d="M246.2,12.5 L255.4,9.8" fill="none" stroke="#2b2b2b" stroke-width="0.95"/>
<path d="M246.2,17.9 L255.4,12.5" fill="none" stroke="#2b2b2b" stroke-width="0.95"/>
<path d="M246.2,25 L255.4,15.8" fill="none" stroke="#2b2b2b" stroke-width="0.95"/>
<path d="M246.2,37.9 L255.4,37.9" fill="none" stroke="#2b2b2b" stroke-width="0.95"/>
<path d="M246.2,41.25 L255.4,39.6" fill="none" stroke="#2b2b2b" stroke-width="0.95"/>
<path d="M246.2,47.5 L255.4,41.7" fill="none" stroke="#2b2b2b" stroke-width="0.95"/>
<path d="M246.2,64.8 L255.4,64.8" fill="none" stroke="#2b2b2b" stroke-width="0.95"/>
<path d="M246.2,67.3 L255.4,65.4" fill="none" stroke="#2b2b2b" stroke-width="0.95"/>
<path d="M246.2,74.6 L255.4,69.2" fill="none" stroke="#2b2b2b" stroke-width="0.95"/>
<path d="M246.2,87.1 L255.4,87.5" fill="none" stroke="#2b2b2b" stroke-width="0.95"/>
<path d="M246.2,95.4 L255.4,91.25" fill="none" stroke="#2b2b2b" stroke-width="0.95"/>
<path d="M246.2,101.7 L255.4,94.2" fill="none" stroke="#2b2b2b" stroke-width="0.95"/>
<path d="M246.2,109.6 L255.4,107.1" fill="none" stroke="#2b2b2b" stroke-width="0.95"/>
<path d="M246.2,117.9 L255.4,111.25" fill="none" stroke="#2b2b2b" stroke-width="0.95"/>
<path d="M246.2,125.4 L255.4,117.5" fill="none" stroke="#2b2b2b" stroke-width="0.95"/>
<path d="M246.2,136.25 L255.4,134.6" fill="none" stroke="#2b2b2b" stroke-width="0.95"/>
<path d="M246.2,142.9 L255.4,137.1" fill="none" stroke="#2b2b2b" stroke-width="0.95"/>
<path d="M246.2,147.9 L255.4,140" fill="none" stroke="#2b2b2b" stroke-width="0.95"/>
<path d="M246.2,158.3 L255.4,155.7" fill="none" stroke="#2b2b2b" stroke-width="0.95"/>
<path d="M246.2,163.75 L255.4,157.9" fill="none" stroke="#2b2b2b" stroke-width="0.95"/>
<path d="M246.2,172.3 L255.4,172.3" fill="none" stroke="#2b2b2b" stroke-width="0.95"/>
<path d="M246.2,187.9 L255.4,183.5" fill="none" stroke="#2b2b2b" stroke-width="0.95"/>
<path d="M246.2,190.5 L255.4,185.4" fill="none" stroke="#2b2b2b" stroke-width="0.95"/>
<path d="M246.2,207.8 L255.4,207.4" fill="none" stroke="#2b2b2b" stroke-width="0.95"/>
<path d="M246.2,210 L255.4,208" fill="none" stroke="#2b2b2b" stroke-width="0.95"/>
<path d="M246.2,223.4 L255.4,223.4" fill="none" stroke="#2b2b2b" stroke-width="0.95"/>
<circle cx="259.8" cy="240.2" r="2.5" fill="#d08858" fill-opacity="0.8"/>
<text x="261.4" y="252.2" font-size="8" text-anchor="end" fill="#231f20" stroke="#231f20" stroke-width="0.12" transform="rotate(-45 261.4 252.2)">hB1</text>
<circle cx="268.2" cy="240.2" r="2.5" fill="#6ccdc4" fill-opacity="0.8"/>
<text x="269.8" y="252.2" font-size="8" text-anchor="end" fill="#231f20" stroke="#231f20" stroke-width="0.12" transform="rotate(-45 269.8 252.2)">hB2</text>
<circle cx="276.6" cy="240.2" r="2.5" fill="#c4c2dc" fill-opacity="0.8"/>
<text x="278.2" y="252.2" font-size="8" text-anchor="end" fill="#231f20" stroke="#231f20" stroke-width="0.12" transform="rotate(-45 278.2 252.2)">hB3</text>
<circle cx="285" cy="240.2" r="2.5" fill="#c8cfa9" fill-opacity="0.8"/>
<text x="286.6" y="252.2" font-size="8" text-anchor="end" fill="#231f20" stroke="#231f20" stroke-width="0.12" transform="rotate(-45 286.6 252.2)">hB4</text>
<circle cx="293.4" cy="240.2" r="2.5" fill="#80c066" fill-opacity="0.8"/>
<text x="295" y="252.2" font-size="8" text-anchor="end" fill="#231f20" stroke="#231f20" stroke-width="0.12" transform="rotate(-45 295 252.2)">hB5</text>
<circle cx="301.8" cy="240.2" r="2.5" fill="#7e7ed0" fill-opacity="0.8"/>
<text x="303.4" y="252.2" font-size="8" text-anchor="end" fill="#231f20" stroke="#231f20" stroke-width="0.12" transform="rotate(-45 303.4 252.2)">hB6</text>
<circle cx="310.2" cy="240.2" r="2.5" fill="#853f95" fill-opacity="0.8"/>
<text x="311.8" y="252.2" font-size="8" text-anchor="end" fill="#231f20" stroke="#231f20" stroke-width="0.12" transform="rotate(-45 311.8 252.2)">hB7</text>
<circle cx="318.6" cy="240.2" r="2.5" fill="#d2cf3a" fill-opacity="0.8"/>
<text x="320.2" y="252.2" font-size="8" text-anchor="end" fill="#231f20" stroke="#231f20" stroke-width="0.12" transform="rotate(-45 320.2 252.2)">hB8</text>
<circle cx="327" cy="240.2" r="2.5" fill="#dc62a2" fill-opacity="0.8"/>
<text x="328.6" y="252.2" font-size="8" text-anchor="end" fill="#231f20" stroke="#231f20" stroke-width="0.12" transform="rotate(-45 328.6 252.2)">hB9</text>
<text x="224.2" y="296" font-size="8" text-anchor="start" fill="#231f20" stroke="#231f20" stroke-width="0.12" transform="rotate(-90 224.2 296)" textLength="38.5" lengthAdjust="spacingAndGlyphs">Expression</text>
<rect x="228.5" y="263.8" width="5.1" height="24.8" fill="url(#gexpr)"/>
<text x="234.5" y="268.6" font-size="8" text-anchor="start" fill="#231f20" stroke="#231f20" stroke-width="0.12">High</text>
<text x="234.5" y="293" font-size="8" text-anchor="start" fill="#231f20" stroke="#231f20" stroke-width="0.12">Low</text>
<text x="359.4" y="9.8" font-size="13" text-anchor="start" fill="#000" font-weight="bold" textLength="7.46" lengthAdjust="spacingAndGlyphs" stroke="#000" stroke-width="0.35">E</text>
<line x1="398.5" y1="5.1" x2="398.5" y2="15.3" stroke="#231f20" stroke-width="0.9"/>
<line x1="398.1" y1="15.3" x2="520" y2="15.3" stroke="#3a3a3a" stroke-width="1.2"/>
<text x="394.2" y="13.7" font-size="8.27" text-anchor="end" fill="#333" font-style="italic" stroke="#333" stroke-width="0.12" textLength="19.34" lengthAdjust="spacingAndGlyphs">CIITA</text>
<ellipse cx="405.8" cy="14.4" rx="3.5" ry="0.9" fill="#c0845c" fill-opacity="0.55"/>
<path d="M405.8,6.3 Q406.85,8.41 407.7,12.32 Q407.04,14.38 405.8,14.6 Q404.56,14.38 403.9,12.32 Q404.75,8.41 405.8,6.3 Z" fill="#c0845c" stroke="#8a5f42" stroke-width="0.55" fill-opacity="0.6" stroke-linejoin="round"/>
<line x1="405.8" y1="4.8" x2="405.8" y2="14.9" stroke="#8a5f42" stroke-width="0.5"/>
<path d="M418.9,8.3 Q419.51,9.57 420,11.93 Q419.62,14.31 418.9,14.6 Q418.19,14.31 417.8,11.93 Q418.3,9.57 418.9,8.3 Z" fill="#5ecbc0" stroke="#43928a" stroke-width="0.55" fill-opacity="0.6" stroke-linejoin="round"/>
<line x1="418.9" y1="6.8" x2="418.9" y2="14.9" stroke="#43928a" stroke-width="0.5"/>
<path d="M432,8.8 Q432.66,9.97 433.2,12.16 Q432.78,14.35 432,14.6 Q431.22,14.35 430.8,12.16 Q431.34,9.97 432,8.8 Z" fill="#a9a8d2" stroke="#797897" stroke-width="0.55" fill-opacity="0.6" stroke-linejoin="round"/>
<line x1="432" y1="7.3" x2="432" y2="14.9" stroke="#797897" stroke-width="0.5"/>
<path d="M445.1,8.8 Q445.93,9.97 446.6,12.16 Q446.08,14.35 445.1,14.6 Q444.12,14.35 443.6,12.16 Q444.28,9.97 445.1,8.8 Z" fill="#b9c59a" stroke="#858d6e" stroke-width="0.55" fill-opacity="0.6" stroke-linejoin="round"/>
<line x1="445.1" y1="7.3" x2="445.1" y2="14.9" stroke="#858d6e" stroke-width="0.5"/>
<path d="M458.2,8.8 Q458.91,9.97 459.5,12.16 Q459.05,14.35 458.2,14.6 Q457.35,14.35 456.9,12.16 Q457.49,9.97 458.2,8.8 Z" fill="#78c060" stroke="#568a45" stroke-width="0.55" fill-opacity="0.6" stroke-linejoin="round"/>
<line x1="458.2" y1="7.3" x2="458.2" y2="14.9" stroke="#568a45" stroke-width="0.5"/>
<path d="M471.3,8.8 Q472.12,9.97 472.8,12.16 Q472.28,14.35 471.3,14.6 Q470.32,14.35 469.8,12.16 Q470.48,9.97 471.3,8.8 Z" fill="#7070d4" stroke="#505098" stroke-width="0.55" fill-opacity="0.6" stroke-linejoin="round"/>
<line x1="471.3" y1="7.3" x2="471.3" y2="14.9" stroke="#505098" stroke-width="0.5"/>
<path d="M484.4,9.3 Q485.66,10.38 486.7,12.38 Q485.89,14.4 484.4,14.6 Q482.9,14.4 482.1,12.38 Q483.13,10.38 484.4,9.3 Z" fill="#9a30d8" stroke="#6e229b" stroke-width="0.55" fill-opacity="0.6" stroke-linejoin="round"/>
<line x1="484.4" y1="7.8" x2="484.4" y2="14.9" stroke="#6e229b" stroke-width="0.5"/>
<line x1="497.5" y1="9.3" x2="497.5" y2="14.9" stroke="#8c8c8c" stroke-width="0.7"/>
<line x1="510.6" y1="7.8" x2="510.6" y2="14.9" stroke="#8c8c8c" stroke-width="0.7"/>
<line x1="398.5" y1="17.31" x2="398.5" y2="27.51" stroke="#231f20" stroke-width="0.9"/>
<line x1="398.1" y1="27.51" x2="520" y2="27.51" stroke="#3a3a3a" stroke-width="1.2"/>
<text x="394.2" y="25.91" font-size="8.27" text-anchor="end" fill="#333" font-style="italic" stroke="#333" stroke-width="0.12" textLength="18.91" lengthAdjust="spacingAndGlyphs">IGHD</text>
<ellipse cx="418.9" cy="26.61" rx="2" ry="0.9" fill="#5ecbc0" fill-opacity="0.55"/>
<path d="M405.8,22.01 Q406.35,22.9 406.8,24.56 Q406.45,26.6 405.8,26.81 Q405.15,26.6 404.8,24.56 Q405.25,22.9 405.8,22.01 Z" fill="#c0845c" stroke="#8a5f42" stroke-width="0.55" fill-opacity="0.6" stroke-linejoin="round"/>
<line x1="405.8" y1="20.51" x2="405.8" y2="27.11" stroke="#8a5f42" stroke-width="0.5"/>
<path d="M418.9,21.91 Q422.84,22.82 424.15,24.51 Q423.63,26.59 418.9,26.81 Q414.18,26.59 413.65,24.51 Q414.96,22.82 418.9,21.91 Z" fill="#5ecbc0" stroke="#43928a" stroke-width="0.55" fill-opacity="0.92" stroke-linejoin="round"/>
<line x1="418.9" y1="20.41" x2="418.9" y2="27.11" stroke="#43928a" stroke-width="0.5"/>
<path d="M432,21.91 Q436.5,22.82 438,24.51 Q437.4,26.59 432,26.81 Q426.6,26.59 426,24.51 Q427.5,22.82 432,21.91 Z" fill="#a9a8d2" stroke="#797897" stroke-width="0.55" fill-opacity="0.92" stroke-linejoin="round"/>
<line x1="432" y1="20.41" x2="432" y2="27.11" stroke="#797897" stroke-width="0.5"/>
<path d="M445.1,21.51 Q447.91,22.49 448.85,24.31 Q448.48,26.55 445.1,26.81 Q441.73,26.55 441.35,24.31 Q442.29,22.49 445.1,21.51 Z" fill="#b9c59a" stroke="#858d6e" stroke-width="0.55" fill-opacity="0.92" stroke-linejoin="round"/>
<line x1="445.1" y1="20.01" x2="445.1" y2="27.11" stroke="#858d6e" stroke-width="0.5"/>
<line x1="458.2" y1="22.51" x2="458.2" y2="27.11" stroke="#8c8c8c" stroke-width="0.7"/>
<path d="M471.3,21.91 Q472.4,22.91 473.3,24.77 Q472.6,26.64 471.3,26.81 Q470,26.64 469.3,24.77 Q470.2,22.91 471.3,21.91 Z" fill="#7070d4" stroke="#505098" stroke-width="0.55" fill-opacity="0.6" stroke-linejoin="round"/>
<line x1="471.3" y1="20.41" x2="471.3" y2="27.11" stroke="#505098" stroke-width="0.5"/>
<path d="M484.4,21.71 Q486.84,22.84 487.65,24.95 Q487.32,26.68 484.4,26.81 Q481.47,26.68 481.15,24.95 Q481.96,22.84 484.4,21.71 Z" fill="#9a30d8" stroke="#6e229b" stroke-width="0.55" fill-opacity="0.92" stroke-linejoin="round"/>
<line x1="484.4" y1="20.21" x2="484.4" y2="27.11" stroke="#6e229b" stroke-width="0.5"/>
<line x1="497.5" y1="22.51" x2="497.5" y2="27.11" stroke="#8c8c8c" stroke-width="0.7"/>
<line x1="510.6" y1="20.01" x2="510.6" y2="27.11" stroke="#8c8c8c" stroke-width="0.7"/>
<line x1="398.5" y1="29.52" x2="398.5" y2="39.72" stroke="#231f20" stroke-width="0.9"/>
<line x1="398.1" y1="39.72" x2="520" y2="39.72" stroke="#3a3a3a" stroke-width="1.2"/>
<text x="394.2" y="38.12" font-size="8.27" text-anchor="end" fill="#333" font-style="italic" stroke="#333" stroke-width="0.12" textLength="17.66" lengthAdjust="spacingAndGlyphs">IFIT3</text>
<ellipse cx="432" cy="38.82" rx="3.5" ry="0.9" fill="#a9a8d2" fill-opacity="0.55"/>
<line x1="405.8" y1="31.22" x2="405.8" y2="39.32" stroke="#8c8c8c" stroke-width="0.7"/>
<line x1="418.9" y1="31.22" x2="418.9" y2="39.32" stroke="#8c8c8c" stroke-width="0.7"/>
<path d="M432,29.72 Q432.99,31.9 433.8,35.96 Q433.17,38.65 432,39.02 Q430.83,38.65 430.2,35.96 Q431.01,31.9 432,29.72 Z" fill="#a9a8d2" stroke="#797897" stroke-width="0.55" fill-opacity="0.6" stroke-linejoin="round"/>
<line x1="432" y1="28.22" x2="432" y2="39.32" stroke="#797897" stroke-width="0.5"/>
<line x1="445.1" y1="31.22" x2="445.1" y2="39.32" stroke="#8c8c8c" stroke-width="0.7"/>
<line x1="458.2" y1="31.22" x2="458.2" y2="39.32" stroke="#8c8c8c" stroke-width="0.7"/>
<line x1="471.3" y1="32.22" x2="471.3" y2="39.32" stroke="#8c8c8c" stroke-width="0.7"/>
<line x1="484.4" y1="34.72" x2="484.4" y2="39.32" stroke="#8c8c8c" stroke-width="0.7"/>
<line x1="497.5" y1="34.72" x2="497.5" y2="39.32" stroke="#8c8c8c" stroke-width="0.7"/>
<line x1="510.6" y1="32.22" x2="510.6" y2="39.32" stroke="#8c8c8c" stroke-width="0.7"/>
<line x1="398.5" y1="41.73" x2="398.5" y2="51.93" stroke="#231f20" stroke-width="0.9"/>
<line x1="398.1" y1="51.93" x2="520" y2="51.93" stroke="#3a3a3a" stroke-width="1.2"/>
<text x="394.2" y="50.33" font-size="8.27" text-anchor="end" fill="#333" font-style="italic" stroke="#333" stroke-width="0.12" textLength="24.81" lengthAdjust="spacingAndGlyphs">FOXP1</text>
<ellipse cx="405.8" cy="51.03" rx="3.25" ry="0.9" fill="#c0845c" fill-opacity="0.55"/>
<path d="M405.8,43.43 Q406.68,45.13 407.4,48.29 Q406.84,50.88 405.8,51.23 Q404.76,50.88 404.2,48.29 Q404.92,45.13 405.8,43.43 Z" fill="#c0845c" stroke="#8a5f42" stroke-width="0.55" fill-opacity="0.6" stroke-linejoin="round"/>
<line x1="405.8" y1="41.93" x2="405.8" y2="51.53" stroke="#8a5f42" stroke-width="0.5"/>
<path d="M418.9,43.93 Q419.78,45.53 420.5,48.49 Q419.94,50.92 418.9,51.23 Q417.86,50.92 417.3,48.49 Q418.02,45.53 418.9,43.93 Z" fill="#5ecbc0" stroke="#43928a" stroke-width="0.55" fill-opacity="0.6" stroke-linejoin="round"/>
<line x1="418.9" y1="42.43" x2="418.9" y2="51.53" stroke="#43928a" stroke-width="0.5"/>
<path d="M432,44.43 Q433.21,45.92 434.2,48.69 Q433.43,50.96 432,51.23 Q430.57,50.96 429.8,48.69 Q430.79,45.92 432,44.43 Z" fill="#a9a8d2" stroke="#797897" stroke-width="0.55" fill-opacity="0.6" stroke-linejoin="round"/>
<line x1="432" y1="42.93" x2="432" y2="51.53" stroke="#797897" stroke-width="0.5"/>
<path d="M445.1,44.43 Q447.2,45.92 447.9,48.69 Q447.62,50.96 445.1,51.23 Q442.58,50.96 442.3,48.69 Q443,45.92 445.1,44.43 Z" fill="#b9c59a" stroke="#858d6e" stroke-width="0.55" fill-opacity="0.92" stroke-linejoin="round"/>
<line x1="445.1" y1="42.93" x2="445.1" y2="51.53" stroke="#858d6e" stroke-width="0.5"/>
<path d="M458.2,44.43 Q459.3,45.92 460.2,48.69 Q459.5,50.96 458.2,51.23 Q456.9,50.96 456.2,48.69 Q457.1,45.92 458.2,44.43 Z" fill="#78c060" stroke="#568a45" stroke-width="0.55" fill-opacity="0.6" stroke-linejoin="round"/>
<line x1="458.2" y1="42.93" x2="458.2" y2="51.53" stroke="#568a45" stroke-width="0.5"/>
<path d="M471.3,44.43 Q472.29,45.92 473.1,48.69 Q472.47,50.96 471.3,51.23 Q470.13,50.96 469.5,48.69 Q470.31,45.92 471.3,44.43 Z" fill="#7070d4" stroke="#505098" stroke-width="0.55" fill-opacity="0.6" stroke-linejoin="round"/>
<line x1="471.3" y1="42.93" x2="471.3" y2="51.53" stroke="#505098" stroke-width="0.5"/>
<path d="M484.4,44.13 Q487.1,45.68 488,48.57 Q487.64,50.94 484.4,51.23 Q481.16,50.94 480.8,48.57 Q481.7,45.68 484.4,44.13 Z" fill="#9a30d8" stroke="#6e229b" stroke-width="0.55" fill-opacity="0.92" stroke-linejoin="round"/>
<line x1="484.4" y1="42.63" x2="484.4" y2="51.53" stroke="#6e229b" stroke-width="0.5"/>
<path d="M497.5,46.43 Q498.19,47.68 498.75,50 Q498.31,51.22 497.5,51.23 Q496.69,51.22 496.25,50 Q496.81,47.68 497.5,46.43 Z" fill="#d0cc30" stroke="#959222" stroke-width="0.55" fill-opacity="0.6" stroke-linejoin="round"/>
<line x1="497.5" y1="44.93" x2="497.5" y2="51.53" stroke="#959222" stroke-width="0.5"/>
<line x1="510.6" y1="44.93" x2="510.6" y2="51.53" stroke="#8c8c8c" stroke-width="0.7"/>
<line x1="398.5" y1="53.94" x2="398.5" y2="64.14" stroke="#231f20" stroke-width="0.9"/>
<line x1="398.1" y1="64.14" x2="520" y2="64.14" stroke="#3a3a3a" stroke-width="1.2"/>
<text x="394.2" y="62.54" font-size="8.27" text-anchor="end" fill="#333" font-style="italic" stroke="#333" stroke-width="0.12" textLength="17.66" lengthAdjust="spacingAndGlyphs">AIM2</text>
<ellipse cx="458.2" cy="63.24" rx="2.5" ry="0.9" fill="#78c060" fill-opacity="0.55"/>
<line x1="405.8" y1="55.14" x2="405.8" y2="63.74" stroke="#8c8c8c" stroke-width="0.7"/>
<line x1="418.9" y1="55.14" x2="418.9" y2="63.74" stroke="#8c8c8c" stroke-width="0.7"/>
<line x1="432" y1="56.14" x2="432" y2="63.74" stroke="#8c8c8c" stroke-width="0.7"/>
<line x1="445.1" y1="55.64" x2="445.1" y2="63.74" stroke="#8c8c8c" stroke-width="0.7"/>
<path d="M458.2,55.64 Q459.3,57.34 460.2,60.5 Q459.5,63.09 458.2,63.44 Q456.9,63.09 456.2,60.5 Q457.1,57.34 458.2,55.64 Z" fill="#78c060" stroke="#568a45" stroke-width="0.55" fill-opacity="0.6" stroke-linejoin="round"/>
<line x1="458.2" y1="54.14" x2="458.2" y2="63.74" stroke="#568a45" stroke-width="0.5"/>
<path d="M471.3,57.14 Q471.63,58.76 471.9,61.76 Q471.69,63.34 471.3,63.44 Q470.91,63.34 470.7,61.76 Q470.97,58.76 471.3,57.14 Z" fill="#7070d4" stroke="#505098" stroke-width="0.55" fill-opacity="0.6" stroke-linejoin="round"/>
<line x1="471.3" y1="55.64" x2="471.3" y2="63.74" stroke="#505098" stroke-width="0.5"/>
<line x1="484.4" y1="58.14" x2="484.4" y2="63.74" stroke="#8c8c8c" stroke-width="0.7"/>
<path d="M497.5,56.14 Q498.32,58 499,61.46 Q498.48,63.28 497.5,63.44 Q496.52,63.28 496,61.46 Q496.68,58 497.5,56.14 Z" fill="#d0cc30" stroke="#959222" stroke-width="0.55" fill-opacity="0.6" stroke-linejoin="round"/>
<line x1="497.5" y1="54.64" x2="497.5" y2="63.74" stroke="#959222" stroke-width="0.5"/>
<line x1="510.6" y1="56.14" x2="510.6" y2="63.74" stroke="#8c8c8c" stroke-width="0.7"/>
<line x1="398.5" y1="66.15" x2="398.5" y2="76.35" stroke="#231f20" stroke-width="0.9"/>
<line x1="398.1" y1="76.35" x2="520" y2="76.35" stroke="#3a3a3a" stroke-width="1.2"/>
<text x="394.2" y="74.75" font-size="8.27" text-anchor="end" fill="#333" font-style="italic" stroke="#333" stroke-width="0.12" textLength="19.34" lengthAdjust="spacingAndGlyphs">CD40</text>
<ellipse cx="405.8" cy="75.45" rx="3.25" ry="0.9" fill="#c0845c" fill-opacity="0.55"/>
<path d="M405.8,67.35 Q406.41,69.46 406.9,73.37 Q406.51,75.43 405.8,75.65 Q405.09,75.43 404.7,73.37 Q405.19,69.46 405.8,67.35 Z" fill="#c0845c" stroke="#8a5f42" stroke-width="0.55" fill-opacity="0.6" stroke-linejoin="round"/>
<line x1="405.8" y1="65.85" x2="405.8" y2="75.95" stroke="#8a5f42" stroke-width="0.5"/>
<path d="M418.9,67.35 Q420.06,69.46 421,73.37 Q420.27,75.43 418.9,75.65 Q417.54,75.43 416.8,73.37 Q417.75,69.46 418.9,67.35 Z" fill="#5ecbc0" stroke="#43928a" stroke-width="0.55" fill-opacity="0.6" stroke-linejoin="round"/>
<line x1="418.9" y1="65.85" x2="418.9" y2="75.95" stroke="#43928a" stroke-width="0.5"/>
<path d="M432,67.35 Q433.38,69.31 434.5,72.94 Q433.62,75.35 432,75.65 Q430.38,75.35 429.5,72.94 Q430.62,69.31 432,67.35 Z" fill="#a9a8d2" stroke="#797897" stroke-width="0.55" fill-opacity="0.6" stroke-linejoin="round"/>
<line x1="432" y1="65.85" x2="432" y2="75.95" stroke="#797897" stroke-width="0.5"/>
<path d="M445.1,67.85 Q445.93,69.83 446.6,73.52 Q446.08,75.46 445.1,75.65 Q444.12,75.46 443.6,73.52 Q444.28,69.83 445.1,67.85 Z" fill="#b9c59a" stroke="#858d6e" stroke-width="0.55" fill-opacity="0.6" stroke-linejoin="round"/>
<line x1="445.1" y1="66.35" x2="445.1" y2="75.95" stroke="#858d6e" stroke-width="0.5"/>
<path d="M458.2,67.85 Q459.08,69.69 459.8,73.12 Q459.24,75.38 458.2,75.65 Q457.16,75.38 456.6,73.12 Q457.32,69.69 458.2,67.85 Z" fill="#78c060" stroke="#568a45" stroke-width="0.55" fill-opacity="0.6" stroke-linejoin="round"/>
<line x1="458.2" y1="66.35" x2="458.2" y2="75.95" stroke="#568a45" stroke-width="0.5"/>
<path d="M471.3,68.35 Q474.3,69.81 475.3,72.53 Q474.9,75.27 471.3,75.65 Q467.7,75.27 467.3,72.53 Q468.3,69.81 471.3,68.35 Z" fill="#7070d4" stroke="#505098" stroke-width="0.55" fill-opacity="0.92" stroke-linejoin="round"/>
<line x1="471.3" y1="66.85" x2="471.3" y2="75.95" stroke="#505098" stroke-width="0.5"/>
<path d="M484.4,68.15 Q487.55,69.73 488.6,72.67 Q488.18,75.29 484.4,75.65 Q480.62,75.29 480.2,72.67 Q481.25,69.73 484.4,68.15 Z" fill="#9a30d8" stroke="#6e229b" stroke-width="0.55" fill-opacity="0.92" stroke-linejoin="round"/>
<line x1="484.4" y1="66.65" x2="484.4" y2="75.95" stroke="#6e229b" stroke-width="0.5"/>
<path d="M497.5,70.35 Q498.21,71.72 498.8,74.27 Q498.35,75.61 497.5,75.65 Q496.65,75.61 496.2,74.27 Q496.79,71.72 497.5,70.35 Z" fill="#d0cc30" stroke="#959222" stroke-width="0.55" fill-opacity="0.6" stroke-linejoin="round"/>
<line x1="497.5" y1="68.85" x2="497.5" y2="75.95" stroke="#959222" stroke-width="0.5"/>
<line x1="510.6" y1="68.85" x2="510.6" y2="75.95" stroke="#8c8c8c" stroke-width="0.7"/>
<line x1="398.5" y1="78.36" x2="398.5" y2="88.56" stroke="#231f20" stroke-width="0.9"/>
<line x1="398.1" y1="88.56" x2="520" y2="88.56" stroke="#3a3a3a" stroke-width="1.2"/>
<text x="394.2" y="86.96" font-size="8.27" text-anchor="end" fill="#333" font-style="italic" stroke="#333" stroke-width="0.12" textLength="28.18" lengthAdjust="spacingAndGlyphs">BCL2A1</text>
<line x1="405.8" y1="80.56" x2="405.8" y2="88.16" stroke="#8c8c8c" stroke-width="0.7"/>
<line x1="418.9" y1="80.56" x2="418.9" y2="88.16" stroke="#8c8c8c" stroke-width="0.7"/>
<line x1="432" y1="81.56" x2="432" y2="88.16" stroke="#8c8c8c" stroke-width="0.7"/>
<line x1="445.1" y1="81.06" x2="445.1" y2="88.16" stroke="#8c8c8c" stroke-width="0.7"/>
<path d="M458.2,81.56 Q458.61,83.18 458.95,86.18 Q458.69,87.76 458.2,87.86 Q457.71,87.76 457.45,86.18 Q457.79,83.18 458.2,81.56 Z" fill="#78c060" stroke="#568a45" stroke-width="0.55" fill-opacity="0.6" stroke-linejoin="round"/>
<line x1="458.2" y1="80.06" x2="458.2" y2="88.16" stroke="#568a45" stroke-width="0.5"/>
<line x1="471.3" y1="81.56" x2="471.3" y2="88.16" stroke="#8c8c8c" stroke-width="0.7"/>
<path d="M484.4,79.26 Q486.72,81.38 487.5,85.31 Q487.19,87.59 484.4,87.86 Q481.61,87.59 481.3,85.31 Q482.07,81.38 484.4,79.26 Z" fill="#9a30d8" stroke="#6e229b" stroke-width="0.55" fill-opacity="0.92" stroke-linejoin="round"/>
<line x1="484.4" y1="77.76" x2="484.4" y2="88.16" stroke="#6e229b" stroke-width="0.5"/>
<line x1="497.5" y1="82.56" x2="497.5" y2="88.16" stroke="#8c8c8c" stroke-width="0.7"/>
<line x1="510.6" y1="81.06" x2="510.6" y2="88.16" stroke="#8c8c8c" stroke-width="0.7"/>
<line x1="398.5" y1="90.57" x2="398.5" y2="100.77" stroke="#231f20" stroke-width="0.9"/>
<line x1="398.1" y1="100.77" x2="520" y2="100.77" stroke="#3a3a3a" stroke-width="1.2"/>
<text x="394.2" y="99.17" font-size="8.27" text-anchor="end" fill="#333" font-style="italic" stroke="#333" stroke-width="0.12" textLength="21.87" lengthAdjust="spacingAndGlyphs">MKI67</text>
<line x1="405.8" y1="93.27" x2="405.8" y2="100.37" stroke="#8c8c8c" stroke-width="0.7"/>
<line x1="418.9" y1="93.77" x2="418.9" y2="100.37" stroke="#8c8c8c" stroke-width="0.7"/>
<line x1="432" y1="95.27" x2="432" y2="100.37" stroke="#8c8c8c" stroke-width="0.7"/>
<line x1="445.1" y1="95.27" x2="445.1" y2="100.37" stroke="#8c8c8c" stroke-width="0.7"/>
<line x1="458.2" y1="94.77" x2="458.2" y2="100.37" stroke="#8c8c8c" stroke-width="0.7"/>
<line x1="471.3" y1="94.27" x2="471.3" y2="100.37" stroke="#8c8c8c" stroke-width="0.7"/>
<line x1="484.4" y1="95.27" x2="484.4" y2="100.37" stroke="#8c8c8c" stroke-width="0.7"/>
<path d="M497.5,92.27 Q499.82,94.2 500.6,97.78 Q500.29,99.85 497.5,100.07 Q494.71,99.85 494.4,97.78 Q495.18,94.2 497.5,92.27 Z" fill="#d0cc30" stroke="#959222" stroke-width="0.55" fill-opacity="0.92" stroke-linejoin="round"/>
<line x1="497.5" y1="90.77" x2="497.5" y2="100.37" stroke="#959222" stroke-width="0.5"/>
<line x1="510.6" y1="93.27" x2="510.6" y2="100.37" stroke="#8c8c8c" stroke-width="0.7"/>
<line x1="398.5" y1="102.78" x2="398.5" y2="112.98" stroke="#231f20" stroke-width="0.9"/>
<line x1="398.1" y1="112.98" x2="520" y2="112.98" stroke="#3a3a3a" stroke-width="1.2"/>
<text x="394.2" y="111.38" font-size="8.27" text-anchor="end" fill="#333" font-style="italic" stroke="#333" stroke-width="0.12" textLength="19.34" lengthAdjust="spacingAndGlyphs">CD38</text>
<line x1="405.8" y1="105.48" x2="405.8" y2="112.58" stroke="#8c8c8c" stroke-width="0.7"/>
<line x1="418.9" y1="105.48" x2="418.9" y2="112.58" stroke="#8c8c8c" stroke-width="0.7"/>
<line x1="432" y1="105.98" x2="432" y2="112.58" stroke="#8c8c8c" stroke-width="0.7"/>
<line x1="445.1" y1="105.98" x2="445.1" y2="112.58" stroke="#8c8c8c" stroke-width="0.7"/>
<line x1="458.2" y1="105.48" x2="458.2" y2="112.58" stroke="#8c8c8c" stroke-width="0.7"/>
<path d="M471.3,104.98 Q471.69,106.84 472,110.3 Q471.75,112.12 471.3,112.28 Q470.85,112.12 470.6,110.3 Q470.92,106.84 471.3,104.98 Z" fill="#7070d4" stroke="#505098" stroke-width="0.55" fill-opacity="0.6" stroke-linejoin="round"/>
<line x1="471.3" y1="103.48" x2="471.3" y2="112.58" stroke="#505098" stroke-width="0.5"/>
<line x1="484.4" y1="107.98" x2="484.4" y2="112.58" stroke="#8c8c8c" stroke-width="0.7"/>
<path d="M497.5,105.98 Q498.49,107.48 499.3,110.27 Q498.67,112.12 497.5,112.28 Q496.33,112.12 495.7,110.27 Q496.51,107.48 497.5,105.98 Z" fill="#d0cc30" stroke="#959222" stroke-width="0.55" fill-opacity="0.6" stroke-linejoin="round"/>
<line x1="497.5" y1="104.48" x2="497.5" y2="112.58" stroke="#959222" stroke-width="0.5"/>
<path d="M510.6,105.98 Q511.75,107.48 512.7,110.27 Q511.97,112.12 510.6,112.28 Q509.24,112.12 508.5,110.27 Q509.45,107.48 510.6,105.98 Z" fill="#d8509c" stroke="#9b3970" stroke-width="0.55" fill-opacity="0.6" stroke-linejoin="round"/>
<line x1="510.6" y1="104.48" x2="510.6" y2="112.58" stroke="#9b3970" stroke-width="0.5"/>
<circle cx="406.4" cy="120.3" r="2.7" fill="#d08858" fill-opacity="0.8"/>
<text x="411" y="131.6" font-size="7.7" text-anchor="end" fill="#231f20" stroke="#231f20" stroke-width="0.12" transform="rotate(-45 411 131.6)">hB1</text>
<circle cx="419.5" cy="120.3" r="2.7" fill="#6ccdc4" fill-opacity="0.8"/>
<text x="424.1" y="131.6" font-size="7.7" text-anchor="end" fill="#231f20" stroke="#231f20" stroke-width="0.12" transform="rotate(-45 424.1 131.6)">hB2</text>
<circle cx="432.6" cy="120.3" r="2.7" fill="#c4c2dc" fill-opacity="0.8"/>
<text x="437.2" y="131.6" font-size="7.7" text-anchor="end" fill="#231f20" stroke="#231f20" stroke-width="0.12" transform="rotate(-45 437.2 131.6)">hB3</text>
<circle cx="445.7" cy="120.3" r="2.7" fill="#c8cfa9" fill-opacity="0.8"/>
<text x="450.3" y="131.6" font-size="7.7" text-anchor="end" fill="#231f20" stroke="#231f20" stroke-width="0.12" transform="rotate(-45 450.3 131.6)">hB4</text>
<circle cx="458.8" cy="120.3" r="2.7" fill="#80c066" fill-opacity="0.8"/>
<text x="463.4" y="131.6" font-size="7.7" text-anchor="end" fill="#231f20" stroke="#231f20" stroke-width="0.12" transform="rotate(-45 463.4 131.6)">hB5</text>
<circle cx="471.9" cy="120.3" r="2.7" fill="#7e7ed0" fill-opacity="0.8"/>
<text x="476.5" y="131.6" font-size="7.7" text-anchor="end" fill="#231f20" stroke="#231f20" stroke-width="0.12" transform="rotate(-45 476.5 131.6)">hB6</text>
<circle cx="485" cy="120.3" r="2.7" fill="#853f95" fill-opacity="0.8"/>
<text x="489.6" y="131.6" font-size="7.7" text-anchor="end" fill="#231f20" stroke="#231f20" stroke-width="0.12" transform="rotate(-45 489.6 131.6)">hB7</text>
<circle cx="498.1" cy="120.3" r="2.7" fill="#d2cf3a" fill-opacity="0.8"/>
<text x="502.7" y="131.6" font-size="7.7" text-anchor="end" fill="#231f20" stroke="#231f20" stroke-width="0.12" transform="rotate(-45 502.7 131.6)">hB8</text>
<circle cx="511.2" cy="120.3" r="2.7" fill="#dc62a2" fill-opacity="0.8"/>
<text x="515.8" y="131.6" font-size="7.7" text-anchor="end" fill="#231f20" stroke="#231f20" stroke-width="0.12" transform="rotate(-45 515.8 131.6)">hB9</text>
<text x="375.5" y="158" font-size="13" text-anchor="start" fill="#000" font-weight="bold" textLength="6.83" lengthAdjust="spacingAndGlyphs" stroke="#000" stroke-width="0.35">F</text>
<rect x="422.6" y="151.9" width="10.12" height="10.11" fill="#e3725a"/>
<rect x="432.57" y="151.9" width="10.12" height="10.11" fill="#ea8c6c"/>
<rect x="442.53" y="151.9" width="10.12" height="10.11" fill="#f2e2b9"/>
<rect x="452.5" y="151.9" width="10.12" height="10.11" fill="#4b6fb0"/>
<rect x="462.47" y="151.9" width="10.12" height="10.11" fill="#809ac2"/>
<rect x="472.43" y="151.9" width="10.12" height="10.11" fill="#6987ba"/>
<text x="407" y="159.18" font-size="8" text-anchor="end" fill="#231f20" stroke="#231f20" stroke-width="0.12" textLength="12.3" lengthAdjust="spacingAndGlyphs">hB1</text>
<circle cx="413.8" cy="156.88" r="2.6" fill="#d08858" fill-opacity="0.8"/>
<line x1="419.6" y1="156.88" x2="422.6" y2="156.88" stroke="#231f20" stroke-width="0.9"/>
<rect x="422.6" y="161.86" width="10.12" height="10.11" fill="#e3725a"/>
<rect x="432.57" y="161.86" width="10.12" height="10.11" fill="#de604e"/>
<rect x="442.53" y="161.86" width="10.12" height="10.11" fill="#edab88"/>
<rect x="452.5" y="161.86" width="10.12" height="10.11" fill="#718ebd"/>
<rect x="462.47" y="161.86" width="10.12" height="10.11" fill="#8ca3c3"/>
<rect x="472.43" y="161.86" width="10.12" height="10.11" fill="#8ca3c3"/>
<text x="407" y="169.13" font-size="8" text-anchor="end" fill="#231f20" stroke="#231f20" stroke-width="0.12" textLength="12.3" lengthAdjust="spacingAndGlyphs">hB2</text>
<circle cx="413.8" cy="166.83" r="2.6" fill="#6ccdc4" fill-opacity="0.8"/>
<line x1="419.6" y1="166.83" x2="422.6" y2="166.83" stroke="#231f20" stroke-width="0.9"/>
<rect x="422.6" y="171.81" width="10.12" height="10.11" fill="#e4765d"/>
<rect x="432.57" y="171.81" width="10.12" height="10.11" fill="#e78165"/>
<rect x="442.53" y="171.81" width="10.12" height="10.11" fill="#f3e8bf"/>
<rect x="452.5" y="171.81" width="10.12" height="10.11" fill="#aebdc4"/>
<rect x="462.47" y="171.81" width="10.12" height="10.11" fill="#f3e8bf"/>
<rect x="472.43" y="171.81" width="10.12" height="10.11" fill="#f3e8bf"/>
<text x="407" y="179.09" font-size="8" text-anchor="end" fill="#231f20" stroke="#231f20" stroke-width="0.12" textLength="12.3" lengthAdjust="spacingAndGlyphs">hB3</text>
<circle cx="413.8" cy="176.79" r="2.6" fill="#c4c2dc" fill-opacity="0.8"/>
<line x1="419.6" y1="176.79" x2="422.6" y2="176.79" stroke="#231f20" stroke-width="0.9"/>
<rect x="422.6" y="181.77" width="10.12" height="10.11" fill="#de604e"/>
<rect x="432.57" y="181.77" width="10.12" height="10.11" fill="#e57a60"/>
<rect x="442.53" y="181.77" width="10.12" height="10.11" fill="#e3725a"/>
<rect x="452.5" y="181.77" width="10.12" height="10.11" fill="#809ac2"/>
<rect x="462.47" y="181.77" width="10.12" height="10.11" fill="#f3e8bf"/>
<rect x="472.43" y="181.77" width="10.12" height="10.11" fill="#d1d8c6"/>
<text x="407" y="189.04" font-size="8" text-anchor="end" fill="#231f20" stroke="#231f20" stroke-width="0.12" textLength="12.3" lengthAdjust="spacingAndGlyphs">hB4</text>
<circle cx="413.8" cy="186.74" r="2.6" fill="#c8cfa9" fill-opacity="0.8"/>
<line x1="419.6" y1="186.74" x2="422.6" y2="186.74" stroke="#231f20" stroke-width="0.9"/>
<rect x="422.6" y="191.72" width="10.12" height="10.11" fill="#e78165"/>
<rect x="432.57" y="191.72" width="10.12" height="10.11" fill="#f2deb6"/>
<rect x="442.53" y="191.72" width="10.12" height="10.11" fill="#eeb591"/>
<rect x="452.5" y="191.72" width="10.12" height="10.11" fill="#efbf9a"/>
<rect x="462.47" y="191.72" width="10.12" height="10.11" fill="#809ac2"/>
<rect x="472.43" y="191.72" width="10.12" height="10.11" fill="#c6cfc6"/>
<text x="407" y="199" font-size="8" text-anchor="end" fill="#231f20" stroke="#231f20" stroke-width="0.12" textLength="12.3" lengthAdjust="spacingAndGlyphs">hB5</text>
<circle cx="413.8" cy="196.7" r="2.6" fill="#80c066" fill-opacity="0.8"/>
<line x1="419.6" y1="196.7" x2="422.6" y2="196.7" stroke="#231f20" stroke-width="0.9"/>
<rect x="422.6" y="201.68" width="10.12" height="10.11" fill="#718ebd"/>
<rect x="432.57" y="201.68" width="10.12" height="10.11" fill="#718ebd"/>
<rect x="442.53" y="201.68" width="10.12" height="10.11" fill="#7894bf"/>
<rect x="452.5" y="201.68" width="10.12" height="10.11" fill="#de604e"/>
<rect x="462.47" y="201.68" width="10.12" height="10.11" fill="#edab88"/>
<rect x="472.43" y="201.68" width="10.12" height="10.11" fill="#e16b56"/>
<text x="407" y="208.96" font-size="8" text-anchor="end" fill="#231f20" stroke="#231f20" stroke-width="0.12" textLength="12.3" lengthAdjust="spacingAndGlyphs">hB6</text>
<circle cx="413.8" cy="206.66" r="2.6" fill="#7e7ed0" fill-opacity="0.8"/>
<line x1="419.6" y1="206.66" x2="422.6" y2="206.66" stroke="#231f20" stroke-width="0.9"/>
<rect x="422.6" y="211.63" width="10.12" height="10.11" fill="#5a7bb5"/>
<rect x="432.57" y="211.63" width="10.12" height="10.11" fill="#5a7bb5"/>
<rect x="442.53" y="211.63" width="10.12" height="10.11" fill="#718ebd"/>
<rect x="452.5" y="211.63" width="10.12" height="10.11" fill="#de604e"/>
<rect x="462.47" y="211.63" width="10.12" height="10.11" fill="#d33834"/>
<rect x="472.43" y="211.63" width="10.12" height="10.11" fill="#e4765d"/>
<text x="407" y="218.91" font-size="8" text-anchor="end" fill="#231f20" stroke="#231f20" stroke-width="0.12" textLength="12.3" lengthAdjust="spacingAndGlyphs">hB7</text>
<circle cx="413.8" cy="216.61" r="2.6" fill="#853f95" fill-opacity="0.8"/>
<line x1="419.6" y1="216.61" x2="422.6" y2="216.61" stroke="#231f20" stroke-width="0.9"/>
<rect x="422.6" y="221.59" width="10.12" height="10.11" fill="#aebdc4"/>
<rect x="432.57" y="221.59" width="10.12" height="10.11" fill="#ea8c6c"/>
<rect x="442.53" y="221.59" width="10.12" height="10.11" fill="#ea8c6c"/>
<rect x="452.5" y="221.59" width="10.12" height="10.11" fill="#dd5c4b"/>
<rect x="462.47" y="221.59" width="10.12" height="10.11" fill="#f0c9a3"/>
<rect x="472.43" y="221.59" width="10.12" height="10.11" fill="#e8e9c7"/>
<text x="407" y="228.87" font-size="8" text-anchor="end" fill="#231f20" stroke="#231f20" stroke-width="0.12" textLength="12.3" lengthAdjust="spacingAndGlyphs">hB8</text>
<circle cx="413.8" cy="226.57" r="2.6" fill="#d2cf3a" fill-opacity="0.8"/>
<line x1="419.6" y1="226.57" x2="422.6" y2="226.57" stroke="#231f20" stroke-width="0.9"/>
<rect x="422.6" y="231.54" width="10.12" height="10.11" fill="#c6cfc6"/>
<rect x="432.57" y="231.54" width="10.12" height="10.11" fill="#f3e8bf"/>
<rect x="442.53" y="231.54" width="10.12" height="10.11" fill="#f3e8bf"/>
<rect x="452.5" y="231.54" width="10.12" height="10.11" fill="#d7463d"/>
<rect x="462.47" y="231.54" width="10.12" height="10.11" fill="#ec9c7b"/>
<rect x="472.43" y="231.54" width="10.12" height="10.11" fill="#dd5c4b"/>
<text x="407" y="238.82" font-size="8" text-anchor="end" fill="#231f20" stroke="#231f20" stroke-width="0.12" textLength="12.3" lengthAdjust="spacingAndGlyphs">hB9</text>
<circle cx="413.8" cy="236.52" r="2.6" fill="#dc62a2" fill-opacity="0.8"/>
<line x1="419.6" y1="236.52" x2="422.6" y2="236.52" stroke="#231f20" stroke-width="0.9"/>
<rect x="422.6" y="151.9" width="59.8" height="89.6" fill="none" stroke="#2b2b2b" stroke-width="1"/>
<line x1="427.58" y1="241.5" x2="427.58" y2="245" stroke="#231f20" stroke-width="0.9"/>
<text x="429.08" y="249.8" font-size="7.8" text-anchor="end" fill="#231f20" stroke="#231f20" stroke-width="0.12" transform="rotate(-45 429.08 249.8)">Anti_apoptosis</text>
<line x1="437.55" y1="241.5" x2="437.55" y2="245" stroke="#231f20" stroke-width="0.9"/>
<text x="439.05" y="249.8" font-size="7.8" text-anchor="end" fill="#231f20" stroke="#231f20" stroke-width="0.12" transform="rotate(-45 439.05 249.8)">Naive_memory</text>
<line x1="447.52" y1="241.5" x2="447.52" y2="245" stroke="#231f20" stroke-width="0.9"/>
<text x="449.02" y="249.8" font-size="7.8" text-anchor="end" fill="#231f20" stroke="#231f20" stroke-width="0.12" transform="rotate(-45 449.02 249.8)">Cytokines</text>
<line x1="457.48" y1="241.5" x2="457.48" y2="245" stroke="#231f20" stroke-width="0.9"/>
<text x="458.98" y="249.8" font-size="7.8" text-anchor="end" fill="#231f20" stroke="#231f20" stroke-width="0.12" transform="rotate(-45 458.98 249.8)">Pro_apoptosis</text>
<line x1="467.45" y1="241.5" x2="467.45" y2="245" stroke="#231f20" stroke-width="0.9"/>
<text x="468.95" y="249.8" font-size="7.8" text-anchor="end" fill="#231f20" stroke="#231f20" stroke-width="0.12" transform="rotate(-45 468.95 249.8)">Proliferation</text>
<line x1="477.42" y1="241.5" x2="477.42" y2="245" stroke="#231f20" stroke-width="0.9"/>
<text x="478.92" y="249.8" font-size="7.8" text-anchor="end" fill="#231f20" stroke="#231f20" stroke-width="0.12" transform="rotate(-45 478.92 249.8)">Germinal_center</text>
<text x="498.6" y="294.8" font-size="8.4" text-anchor="start" fill="#231f20" stroke="#231f20" stroke-width="0.12" transform="rotate(-90 498.6 294.8)" textLength="39" lengthAdjust="spacingAndGlyphs">Expression</text>
<rect x="506.5" y="263" width="5.3" height="23.5" fill="url(#gexpr)"/>
<text x="504" y="261.5" font-size="8.4" text-anchor="start" fill="#231f20" stroke="#231f20" stroke-width="0.12">High</text>
<text x="504" y="295" font-size="8.4" text-anchor="start" fill="#231f20" stroke="#231f20" stroke-width="0.12">Low</text>
<text x="0.8" y="329.8" font-size="13" text-anchor="start" fill="#000" font-weight="bold" textLength="8.7" lengthAdjust="spacingAndGlyphs" stroke="#000" stroke-width="0.35">G</text>
<rect x="69.2" y="328.2" width="24.68" height="8.67" fill="#809ac2"/>
<rect x="93.73" y="328.2" width="24.68" height="8.67" fill="#7894bf"/>
<rect x="118.27" y="328.2" width="24.68" height="8.67" fill="#d53f38"/>
<text x="62.2" y="335.26" font-size="7.7" text-anchor="end" fill="#231f20" stroke="#231f20" stroke-width="0.12">DZ_a_UP</text>
<line x1="65.8" y1="332.46" x2="69.2" y2="332.46" stroke="#231f20" stroke-width="0.9"/>
<rect x="69.2" y="336.72" width="24.68" height="8.67" fill="#e78165"/>
<rect x="93.73" y="336.72" width="24.68" height="8.67" fill="#5f7fb7"/>
<rect x="118.27" y="336.72" width="24.68" height="8.67" fill="#f2dab2"/>
<text x="62.2" y="343.78" font-size="7.7" text-anchor="end" fill="#231f20" stroke="#231f20" stroke-width="0.12">DZ_b_UP</text>
<line x1="65.8" y1="340.98" x2="69.2" y2="340.98" stroke="#231f20" stroke-width="0.9"/>
<rect x="69.2" y="345.25" width="24.68" height="8.67" fill="#aebdc4"/>
<rect x="93.73" y="345.25" width="24.68" height="8.67" fill="#5f7fb7"/>
<rect x="118.27" y="345.25" width="24.68" height="8.67" fill="#d53f38"/>
<text x="62.2" y="352.31" font-size="7.7" text-anchor="end" fill="#231f20" stroke="#231f20" stroke-width="0.12">DZ_c_UP</text>
<line x1="65.8" y1="349.51" x2="69.2" y2="349.51" stroke="#231f20" stroke-width="0.9"/>
<rect x="69.2" y="353.77" width="24.68" height="8.67" fill="#d7463d"/>
<rect x="93.73" y="353.77" width="24.68" height="8.67" fill="#718ebd"/>
<rect x="118.27" y="353.77" width="24.68" height="8.67" fill="#c1cbc5"/>
<text x="62.2" y="360.83" font-size="7.7" text-anchor="end" fill="#231f20" stroke="#231f20" stroke-width="0.12">INT_a_UP</text>
<line x1="65.8" y1="358.03" x2="69.2" y2="358.03" stroke="#231f20" stroke-width="0.9"/>
<rect x="69.2" y="362.29" width="24.68" height="8.67" fill="#f0c9a3"/>
<rect x="93.73" y="362.29" width="24.68" height="8.67" fill="#a3b4c4"/>
<rect x="118.27" y="362.29" width="24.68" height="8.67" fill="#f0c9a3"/>
<text x="62.2" y="369.35" font-size="7.7" text-anchor="end" fill="#231f20" stroke="#231f20" stroke-width="0.12">INT_b_UP</text>
<line x1="65.8" y1="366.55" x2="69.2" y2="366.55" stroke="#231f20" stroke-width="0.9"/>
<rect x="69.2" y="370.82" width="24.68" height="8.67" fill="#e78165"/>
<rect x="93.73" y="370.82" width="24.68" height="8.67" fill="#f3e8bf"/>
<rect x="118.27" y="370.82" width="24.68" height="8.67" fill="#4f72b1"/>
<text x="62.2" y="377.88" font-size="7.7" text-anchor="end" fill="#231f20" stroke="#231f20" stroke-width="0.12">INT_c_UP</text>
<line x1="65.8" y1="375.08" x2="69.2" y2="375.08" stroke="#231f20" stroke-width="0.9"/>
<rect x="69.2" y="379.34" width="24.68" height="8.67" fill="#e16b56"/>
<rect x="93.73" y="379.34" width="24.68" height="8.67" fill="#eca07e"/>
<rect x="118.27" y="379.34" width="24.68" height="8.67" fill="#4368ad"/>
<text x="62.2" y="386.4" font-size="7.7" text-anchor="end" fill="#231f20" stroke="#231f20" stroke-width="0.12">INT_d_UP</text>
<line x1="65.8" y1="383.6" x2="69.2" y2="383.6" stroke="#231f20" stroke-width="0.9"/>
<rect x="69.2" y="387.86" width="24.68" height="8.67" fill="#cf2929"/>
<rect x="93.73" y="387.86" width="24.68" height="8.67" fill="#5f7fb7"/>
<rect x="118.27" y="387.86" width="24.68" height="8.67" fill="#dde0c7"/>
<text x="62.2" y="394.92" font-size="7.7" text-anchor="end" fill="#231f20" stroke="#231f20" stroke-width="0.12">INT_e_UP</text>
<line x1="65.8" y1="392.12" x2="69.2" y2="392.12" stroke="#231f20" stroke-width="0.9"/>
<rect x="69.2" y="396.38" width="24.68" height="8.67" fill="#e78165"/>
<rect x="93.73" y="396.38" width="24.68" height="8.67" fill="#eb9675"/>
<rect x="118.27" y="396.38" width="24.68" height="8.67" fill="#4f72b1"/>
<text x="62.2" y="403.45" font-size="7.7" text-anchor="end" fill="#231f20" stroke="#231f20" stroke-width="0.12">LZ_a_UP</text>
<line x1="65.8" y1="400.65" x2="69.2" y2="400.65" stroke="#231f20" stroke-width="0.9"/>
<rect x="69.2" y="404.91" width="24.68" height="8.67" fill="#466bae"/>
<rect x="93.73" y="404.91" width="24.68" height="8.67" fill="#d1302e"/>
<rect x="118.27" y="404.91" width="24.68" height="8.67" fill="#e8e9c7"/>
<text x="62.2" y="411.97" font-size="7.7" text-anchor="end" fill="#231f20" stroke="#231f20" stroke-width="0.12">LZ_b_UP</text>
<line x1="65.8" y1="409.17" x2="69.2" y2="409.17" stroke="#231f20" stroke-width="0.9"/>
<rect x="69.2" y="413.43" width="24.68" height="8.67" fill="#f4eec4"/>
<rect x="93.73" y="413.43" width="24.68" height="8.67" fill="#d7463d"/>
<rect x="118.27" y="413.43" width="24.68" height="8.67" fill="#4f72b1"/>
<text x="62.2" y="420.49" font-size="7.7" text-anchor="end" fill="#231f20" stroke="#231f20" stroke-width="0.12">PreM_UP</text>
<line x1="65.8" y1="417.69" x2="69.2" y2="417.69" stroke="#231f20" stroke-width="0.9"/>
<rect x="69.2" y="421.95" width="24.68" height="8.67" fill="#a3b4c4"/>
<rect x="93.73" y="421.95" width="24.68" height="8.67" fill="#eb9675"/>
<rect x="118.27" y="421.95" width="24.68" height="8.67" fill="#e8e9c7"/>
<text x="62.2" y="429.02" font-size="7.7" text-anchor="end" fill="#231f20" stroke="#231f20" stroke-width="0.12">PBL_a_UP</text>
<line x1="65.8" y1="426.22" x2="69.2" y2="426.22" stroke="#231f20" stroke-width="0.9"/>
<rect x="69.2" y="430.48" width="24.68" height="8.67" fill="#aebdc4"/>
<rect x="93.73" y="430.48" width="24.68" height="8.67" fill="#e78165"/>
<rect x="118.27" y="430.48" width="24.68" height="8.67" fill="#97acc3"/>
<text x="62.2" y="437.54" font-size="7.7" text-anchor="end" fill="#231f20" stroke="#231f20" stroke-width="0.12">PBL_b_UP</text>
<line x1="65.8" y1="434.74" x2="69.2" y2="434.74" stroke="#231f20" stroke-width="0.9"/>
<rect x="69.2" y="328.2" width="73.6" height="110.8" fill="none" stroke="#2b2b2b" stroke-width="1"/>
<line x1="81.47" y1="439" x2="81.47" y2="442" stroke="#231f20" stroke-width="0.9"/>
<circle cx="81.47" cy="447.9" r="2.6" fill="#7e7ed0" fill-opacity="0.8"/>
<text x="83.97" y="461.5" font-size="7.5" text-anchor="end" fill="#231f20" stroke="#231f20" stroke-width="0.12" transform="rotate(-45 83.97 461.5)">hB6</text>
<line x1="106" y1="439" x2="106" y2="442" stroke="#231f20" stroke-width="0.9"/>
<circle cx="106" cy="447.9" r="2.6" fill="#853f95" fill-opacity="0.8"/>
<text x="108.5" y="461.5" font-size="7.5" text-anchor="end" fill="#231f20" stroke="#231f20" stroke-width="0.12" transform="rotate(-45 108.5 461.5)">hB7</text>
<line x1="130.53" y1="439" x2="130.53" y2="442" stroke="#231f20" stroke-width="0.9"/>
<circle cx="130.53" cy="447.9" r="2.6" fill="#d2cf3a" fill-opacity="0.8"/>
<text x="133.03" y="461.5" font-size="7.5" text-anchor="end" fill="#231f20" stroke="#231f20" stroke-width="0.12" transform="rotate(-45 133.03 461.5)">hB8</text>
<text x="17" y="479.5" font-size="7.5" text-anchor="start" fill="#231f20" stroke="#231f20" stroke-width="0.12" transform="rotate(-90 17 479.5)" textLength="39" lengthAdjust="spacingAndGlyphs">Expression</text>
<rect x="25.4" y="449.6" width="4.2" height="19.4" fill="url(#gexpr)"/>
<text x="30.3" y="446.5" font-size="7.5" text-anchor="start" fill="#231f20" stroke="#231f20" stroke-width="0.12">High</text>
<text x="30.3" y="477.5" font-size="7.5" text-anchor="start" fill="#231f20" stroke="#231f20" stroke-width="0.12">Low</text>
<text x="198.5" y="331.5" font-size="13" text-anchor="start" fill="#000" font-weight="bold" textLength="8.07" lengthAdjust="spacingAndGlyphs" stroke="#000" stroke-width="0.35">H</text>
<rect x="238.7" y="423.88" width="7.2" height="1.52" fill="#c41a3b"/>
<rect x="248.5" y="383.45" width="7.2" height="24.32" fill="#c41a3b"/>
<rect x="248.5" y="407.77" width="7.2" height="17.63" fill="#1d5590"/>
<rect x="258.4" y="372.5" width="7.2" height="40.74" fill="#c41a3b"/>
<rect x="258.4" y="413.24" width="7.2" height="12.16" fill="#1d5590"/>
<rect x="268.3" y="405.94" width="7.2" height="9.73" fill="#c41a3b"/>
<rect x="268.3" y="415.67" width="7.2" height="9.73" fill="#1d5590"/>
<rect x="278.2" y="387.1" width="7.2" height="25.54" fill="#c41a3b"/>
<rect x="278.2" y="412.63" width="7.2" height="12.77" fill="#1d5590"/>
<rect x="288.2" y="379.8" width="7.2" height="21.89" fill="#c41a3b"/>
<rect x="288.2" y="401.69" width="7.2" height="23.71" fill="#1d5590"/>
<rect x="298.1" y="415.67" width="7.2" height="4.86" fill="#c41a3b"/>
<rect x="298.1" y="420.54" width="7.2" height="4.86" fill="#1d5590"/>
<rect x="308" y="351.83" width="7.2" height="27.97" fill="#c41a3b"/>
<rect x="308" y="379.8" width="7.2" height="45.6" fill="#1d5590"/>
<rect x="318" y="385.27" width="7.2" height="16.42" fill="#c41a3b"/>
<rect x="318" y="401.69" width="7.2" height="23.71" fill="#1d5590"/>
<line x1="235.6" y1="329.2" x2="235.6" y2="425.9" stroke="#231f20" stroke-width="1.2"/>
<line x1="235.1" y1="425.4" x2="329.6" y2="425.4" stroke="#231f20" stroke-width="1.2"/>
<line x1="232.8" y1="425.4" x2="235.6" y2="425.4" stroke="#231f20" stroke-width="1.1"/>
<text x="231.6" y="428.6" font-size="8.6" text-anchor="end" fill="#231f20" stroke="#231f20" stroke-width="0.12">0</text>
<line x1="232.8" y1="395" x2="235.6" y2="395" stroke="#231f20" stroke-width="1.1"/>
<text x="231.6" y="398.2" font-size="8.6" text-anchor="end" fill="#231f20" stroke="#231f20" stroke-width="0.12">0.5k</text>
<line x1="232.8" y1="364.6" x2="235.6" y2="364.6" stroke="#231f20" stroke-width="1.1"/>
<text x="231.6" y="367.8" font-size="8.6" text-anchor="end" fill="#231f20" stroke="#231f20" stroke-width="0.12">1k</text>
<line x1="232.8" y1="334.2" x2="235.6" y2="334.2" stroke="#231f20" stroke-width="1.1"/>
<text x="231.6" y="337.4" font-size="8.6" text-anchor="end" fill="#231f20" stroke="#231f20" stroke-width="0.12">1.5k</text>
<text x="210" y="404" font-size="10" text-anchor="start" fill="#231f20" stroke="#231f20" stroke-width="0.12" transform="rotate(-90 210 404)" textLength="43" lengthAdjust="spacingAndGlyphs">DEG number</text>
<rect x="240" y="332" width="5.8" height="5.2" fill="#c41a3b"/>
<rect x="240" y="340.8" width="5.8" height="5.2" fill="#1d5590"/>
<text x="248.8" y="337.3" font-size="8" text-anchor="start" fill="#231f20" stroke="#231f20" stroke-width="0.12">AITL</text>
<text x="248.8" y="346.3" font-size="8" text-anchor="start" fill="#231f20" stroke="#231f20" stroke-width="0.12">HLN</text>
<line x1="242.3" y1="425.4" x2="242.3" y2="428" stroke="#231f20" stroke-width="0.9"/>
<circle cx="242.3" cy="433.6" r="2.4" fill="#d08858" fill-opacity="0.8"/>
<text x="244.5" y="442.8" font-size="7.6" text-anchor="end" fill="#231f20" stroke="#231f20" stroke-width="0.12" transform="rotate(-45 244.5 442.8)">hB1</text>
<line x1="252.1" y1="425.4" x2="252.1" y2="428" stroke="#231f20" stroke-width="0.9"/>
<circle cx="252.1" cy="433.6" r="2.4" fill="#6ccdc4" fill-opacity="0.8"/>
<text x="254.3" y="442.8" font-size="7.6" text-anchor="end" fill="#231f20" stroke="#231f20" stroke-width="0.12" transform="rotate(-45 254.3 442.8)">hB2</text>
<line x1="262" y1="425.4" x2="262" y2="428" stroke="#231f20" stroke-width="0.9"/>
<circle cx="262" cy="433.6" r="2.4" fill="#c4c2dc" fill-opacity="0.8"/>
<text x="264.2" y="442.8" font-size="7.6" text-anchor="end" fill="#231f20" stroke="#231f20" stroke-width="0.12" transform="rotate(-45 264.2 442.8)">hB3</text>
<line x1="271.9" y1="425.4" x2="271.9" y2="428" stroke="#231f20" stroke-width="0.9"/>
<circle cx="271.9" cy="433.6" r="2.4" fill="#c8cfa9" fill-opacity="0.8"/>
<text x="274.1" y="442.8" font-size="7.6" text-anchor="end" fill="#231f20" stroke="#231f20" stroke-width="0.12" transform="rotate(-45 274.1 442.8)">hB4</text>
<line x1="281.8" y1="425.4" x2="281.8" y2="428" stroke="#231f20" stroke-width="0.9"/>
<circle cx="281.8" cy="433.6" r="2.4" fill="#80c066" fill-opacity="0.8"/>
<text x="284" y="442.8" font-size="7.6" text-anchor="end" fill="#231f20" stroke="#231f20" stroke-width="0.12" transform="rotate(-45 284 442.8)">hB5</text>
<line x1="291.8" y1="425.4" x2="291.8" y2="428" stroke="#231f20" stroke-width="0.9"/>
<circle cx="291.8" cy="433.6" r="2.4" fill="#7e7ed0" fill-opacity="0.8"/>
<text x="294" y="442.8" font-size="7.6" text-anchor="end" fill="#231f20" stroke="#231f20" stroke-width="0.12" transform="rotate(-45 294 442.8)">hB6</text>
<line x1="301.7" y1="425.4" x2="301.7" y2="428" stroke="#231f20" stroke-width="0.9"/>
<circle cx="301.7" cy="433.6" r="2.4" fill="#853f95" fill-opacity="0.8"/>
<text x="303.9" y="442.8" font-size="7.6" text-anchor="end" fill="#231f20" stroke="#231f20" stroke-width="0.12" transform="rotate(-45 303.9 442.8)">hB7</text>
<line x1="311.6" y1="425.4" x2="311.6" y2="428" stroke="#231f20" stroke-width="0.9"/>
<circle cx="311.6" cy="433.6" r="2.4" fill="#d2cf3a" fill-opacity="0.8"/>
<text x="313.8" y="442.8" font-size="7.6" text-anchor="end" fill="#231f20" stroke="#231f20" stroke-width="0.12" transform="rotate(-45 313.8 442.8)">hB8</text>
<line x1="321.6" y1="425.4" x2="321.6" y2="428" stroke="#231f20" stroke-width="0.9"/>
<circle cx="321.6" cy="433.6" r="2.4" fill="#dc62a2" fill-opacity="0.8"/>
<text x="323.8" y="442.8" font-size="7.6" text-anchor="end" fill="#231f20" stroke="#231f20" stroke-width="0.12" transform="rotate(-45 323.8 442.8)">hB9</text>
<text x="377.5" y="329" font-size="11" font-weight="bold" fill="#000">I</text>
<text x="432" y="328" font-size="8.5" text-anchor="middle" fill="#231f20" stroke="#231f20" stroke-width="0.12" textLength="27.5" lengthAdjust="spacingAndGlyphs">HLN up</text>
<rect x="413" y="329.6" width="37.4" height="2" fill="#6d6d6d"/>
<text x="478" y="328" font-size="8.5" text-anchor="middle" fill="#231f20" stroke="#231f20" stroke-width="0.12" textLength="28.5" lengthAdjust="spacingAndGlyphs">AITL up</text>
<rect x="461.2" y="329.6" width="36" height="2" fill="#6d6d6d"/>
<line x1="450.7" y1="333.5" x2="450.7" y2="445.8" stroke="#8a8a8a" stroke-width="1" stroke-dasharray="0.9,1.1"/>
<line x1="459" y1="333.5" x2="459" y2="445.8" stroke="#8a8a8a" stroke-width="1" stroke-dasharray="0.9,1.1"/>
<line x1="410.8" y1="440.6" x2="498" y2="440.6" stroke="#6a6a6a" stroke-width="0.8" stroke-dasharray="1.2,1"/>
<path d="M443.7 375.3h0M437.7 382.2h0M436 391.7h0M443.7 387.4h0M447.2 399.5h0M444.6 404.7h0M465.4 380.5h0M469.7 375.3h0M468 384.8h0M473.1 396.9h0M478.3 395.2h0M463.6 400.4h0M441 366h0M446 360h0M452 372h0M439 396h0M470 368h0M476 402h0M449 390h0M433 404h0" stroke="#eeb4bf" stroke-width="1.6" stroke-linecap="round"/>
<path d="M447 434.7h0M449 440.1h0M448.4 439.6h0M435 409.8h0M435 408.9h0M449.1 437.6h0M443.8 418.5h0M449 440.4h0M449.2 440.1h0M449.4 439.8h0M447.7 437.2h0M449.4 440.2h0M448.2 440.1h0M448.6 434.1h0M447.4 437h0M439.6 424h0M440.4 421.4h0M446.7 435.6h0M435.8 408.7h0M448.8 440.2h0M440.3 419.2h0M441.1 408.9h0M449.6 440.2h0M449.6 440h0M444.8 427.9h0M446.8 424.8h0M439.2 415.6h0M442.9 424.7h0M447 439.8h0M448.2 437.4h0M446.5 419.5h0M448.2 437.7h0M441.5 418.3h0M445 428.1h0M439.3 410.1h0M447.1 431.9h0M447.8 435.9h0M446.9 426.5h0M445.2 412.5h0M445.3 427.6h0M442 423.2h0M447.9 437.2h0M449.3 441.3h0M443.7 410.8h0M439.3 417.6h0M447.3 431.8h0M443.1 425.2h0M448.7 438.8h0M439.3 415.1h0M445 430.1h0M448.9 438.6h0M437.5 415.5h0M449.4 440.8h0M448.7 439.2h0M446.9 432.2h0M443.8 425.7h0M449.1 436.5h0M438.6 410.8h0M447.4 429.3h0M448.6 436.8h0M448.1 434.7h0M445.9 432.8h0M447.1 429.4h0M448.4 434.3h0M442 421.2h0M449.6 440.5h0M448.5 437.1h0M447.9 428h0M449.1 439.9h0M449.3 440h0M447.6 435.1h0M443.2 428.1h0M448.8 440.1h0M443.1 424.9h0M445.8 430.9h0M446 432.7h0M447.1 433.6h0M442.3 414.4h0M439.3 418.9h0M447.5 439.7h0M448.3 437.8h0M448.3 439.4h0M448 437.7h0M448.7 441.1h0M440 411.1h0M444.3 420.6h0M445.6 424.9h0M449.6 440.3h0M448.2 435.8h0M440.3 411.8h0M446.3 419.4h0M449.2 439.9h0M442.2 413.8h0M447.6 436.3h0M449.6 440.8h0M441.9 419.2h0M446.4 432.5h0M448.7 437.7h0M435.5 409.7h0M447.8 435.6h0M448.9 439h0M447.4 432.2h0M447.9 428.1h0M447.6 434.3h0M469.3 421.3h0M460.4 435.8h0M467.7 422.6h0M473.6 411.9h0M461.3 435.4h0M460.4 437.6h0M460.4 434h0M464.6 423h0M460.9 438.6h0M461.9 433.5h0M463.2 430.2h0M463.3 432.1h0M464.8 408.1h0M461.8 434.7h0M464.4 429.1h0M459.3 440.6h0M459.7 440.3h0M459.1 439.8h0M462.3 432.1h0M462 433.2h0M460 437.9h0M464.1 414.3h0M467.3 409.9h0M460.8 436.5h0M460.2 434.8h0M459.6 436.9h0M459.4 441.1h0M467.6 425h0M472.9 409.4h0M460.4 434.9h0M460.9 435.8h0M463.3 429.8h0M460.9 437h0M461.8 432.7h0M458.9 440.2h0M464.8 418.1h0M463.7 423.5h0M462.9 430h0M469.4 416h0M459.4 440.3h0M464.8 407h0M459 439.6h0M460.4 437.1h0M465.4 427.5h0M459.5 436.9h0M473.1 413.8h0M463.8 408.5h0M468.5 419.2h0M465.1 405.9h0M462.5 423.1h0M460 436.2h0M460.6 436h0M459.2 439.9h0M461.7 434h0M460.4 438h0M459.4 439.4h0M461.5 427.1h0M463.5 424.1h0M460.5 435.1h0M463.2 427.4h0M466.7 409.6h0M459.5 440.4h0M472.1 409.5h0M461.8 433.3h0M460.5 438.1h0M459.9 439.2h0M459.1 441.1h0M460 440.8h0M460.7 436.6h0M463.5 428.2h0M459.1 440.3h0M460.7 436.3h0M461.9 435.4h0M460.2 438h0M468.5 409.9h0M460 437.5h0M469.4 417.2h0M462.9 426h0M464.2 426h0M468.7 406.3h0M464 427.9h0M473.8 409.1h0M459 439.8h0M459.9 438.5h0M463.6 415.3h0M460.6 440.2h0M466.5 426.1h0M463 431.9h0M460.3 436.1h0M458.7 439.8h0M465 418.4h0M461.7 437.8h0M461.2 437.6h0M459.8 441.2h0M460.8 427.1h0M460.2 430h0M464 410.8h0M461.4 435.2h0M465.6 415.7h0M461.5 436.8h0M471.8 408.1h0M459.4 438.8h0M467.1 420.1h0M462.7 422h0M459.4 437.7h0M471.1 414.7h0M465.6 421.6h0M460.1 438.9h0M459 439.6h0M460.7 429.5h0M471.9 406.7h0M460.6 431.3h0M460.4 432.2h0M460.9 432.9h0M475.6 410.1h0M459.2 440.9h0M463.5 428.6h0M458.8 441.3h0M459.3 440.7h0M459.5 437.8h0M461.9 435.8h0M460.1 436.2h0M460.7 437.3h0" stroke="#ec6a78" stroke-width="1.6" stroke-linecap="round"/>
<path d="M449.4 439.5h0M449.7 441.1h0M445.8 432.1h0M448.3 440h0M446.7 431.3h0M448.4 439.9h0M437.2 410.2h0M440.3 418.3h0M449.4 438.7h0M449 440.6h0M449.3 439.6h0M439.7 415.2h0M449.6 441.1h0M446.1 430.1h0M444.1 413.4h0M444.9 426.4h0M442.7 425.6h0M445.8 433.7h0M445.8 428.8h0M442.9 424.1h0M449.2 440.1h0M444 424.7h0M447.6 437.5h0M439.1 414.7h0M443 416h0M448.7 438.3h0M446.1 429.1h0M444.7 425.5h0M446.6 433.8h0M444.6 429.5h0M444.7 414.4h0M444 428.7h0M448.4 439.7h0M445.4 412.1h0M448.1 438.4h0M449 438.4h0M440 419.8h0M449.3 439.8h0M449 440.3h0M448.6 438.7h0M448.1 432.4h0M446.3 438.4h0M443.9 419h0M449.6 438.9h0M446.6 430.9h0M448.3 440.5h0M445 422.2h0M449.3 438.3h0M445.7 420.6h0M448.8 439.9h0M448.9 437.6h0M449.4 440.6h0M445.4 423.7h0M449.2 439.7h0M445.5 423.6h0M438.2 413.7h0M448.6 440.4h0M447.5 435.8h0M446.7 422h0M449.5 439.9h0M447.1 436.3h0M444.3 420.1h0M437.8 412.5h0M447.8 436.1h0M443.1 421h0M443.6 416h0M446 430.9h0M441.5 424h0M446.5 428h0M446.5 431.8h0M441 422.9h0M448.9 439.1h0M448.2 439.9h0M448.7 440h0M447.4 430.2h0M448 434.4h0M443.7 421.2h0M446.9 427.2h0M447.9 436h0M443.9 428.6h0M449.6 440.4h0M446.9 432.2h0M448.5 438.2h0M448.1 436.7h0M446.3 434.1h0M448 436.2h0M449.5 439.7h0M441.8 421.4h0M444.6 427.4h0M447.5 437.3h0M440.2 410h0M446 428.1h0M445.2 430.4h0M447.9 440.8h0M442.7 420.1h0M447.4 431h0M463.2 430.6h0M463.6 420.9h0M461.1 432.5h0M460.9 430.7h0M460.1 440.4h0M462.7 407.9h0M471.4 412.2h0M462 429h0M474 409.3h0M459.7 438.7h0M462.3 422.4h0M459.6 439.9h0M469.3 412.8h0M470.1 411h0M461.5 428.1h0M464.4 420.9h0M459.3 440h0M460.9 435.3h0M459.4 438.1h0M459.8 439.5h0M459.7 439.1h0M462.4 429.4h0M460.7 438h0M460 434.9h0M458.8 440.2h0M462.2 431.1h0M460.8 436.2h0M460.9 426.5h0M468.4 414.9h0M461.2 435.7h0M459.3 439.5h0M459.2 437.9h0M461.1 435h0M462.8 412.2h0M462.6 423h0M460.8 438h0M464.3 413.5h0M467.5 407.1h0M461.5 426.8h0M460.1 436.6h0M460.8 434.7h0M460.8 437h0M464.3 423.5h0M458.9 440.5h0M462.4 428.8h0M468.6 412.9h0M460.5 439.7h0M464.2 411.4h0M459.9 437.2h0M462.1 424.8h0M474 407.8h0M459.5 438.4h0M460.4 432.1h0M459.2 439.8h0M474.6 410.1h0M460.2 435.9h0M464.2 423.4h0M465.8 409.2h0M459.3 438.6h0M459.2 440h0M462.9 433.4h0M461.1 432.9h0M464.7 426.6h0M459.2 439.9h0M460.7 436h0M465.1 420.9h0M460.2 436.7h0M461.9 435.9h0M460.4 438.1h0M468.9 415.4h0M468.4 422.4h0M464.7 405.9h0M463.4 429.8h0M459.8 440.7h0M469.7 412.8h0M459.5 437.8h0M460.6 436.9h0M460.2 434.7h0M460.1 434.8h0M459.4 440.7h0M459.4 440.3h0M459.7 440.7h0M459.6 439h0M462.4 421.8h0M460.3 440.8h0M458.9 440.3h0M463.4 418.9h0M461.9 434.4h0M459.3 440.6h0M464.9 426.4h0M460.1 440.4h0M460.3 436h0M461.9 434.6h0M461.9 429.9h0M465.1 428.4h0M463.8 428h0M462.6 431.4h0M464.7 420.8h0M461.7 422.5h0M463.9 426.1h0M463.8 429.9h0M464 430.2h0M462.8 432.9h0M459.9 439.5h0M459.7 439.9h0M467.2 406.8h0M461.7 430h0M467.7 411h0M462.4 421.3h0M463.7 429.2h0M472.3 409.1h0M459.4 437.9h0M460.3 441h0M462.4 430.5h0M462.7 414h0M458.9 440.4h0M468.2 420h0M469.7 418.4h0M459.4 440.7h0M461.4 432h0M459.6 439.6h0M464 419.3h0M460.8 438.2h0M459.9 440h0M462.3 433.1h0M459.7 436.5h0M474.3 408.6h0" stroke="#d41e34" stroke-width="1.44" stroke-linecap="round"/>
<path d="M450.3 440.1h0M459 438.6h0M450.2 440h0M458.8 440.2h0M452.8 439.4h0M457.2 438.4h0M450.7 440.8h0M456.2 438.6h0M450.9 438.1h0M457 438.5h0M450.2 439.6h0M457.7 439.7h0M452.2 439.6h0M459 438.2h0M450.5 438.2h0M457 440.3h0M452.8 439.5h0M456.5 439h0M451.6 438.9h0M458.5 440.9h0M451.3 439.8h0M458.7 439.4h0M450.4 440.8h0M459.1 438.1h0" stroke="#2a3484" stroke-width="1.2" stroke-linecap="round"/>
<line x1="410.8" y1="333.5" x2="410.8" y2="446.3" stroke="#231f20" stroke-width="1.2"/>
<line x1="410.8" y1="445.8" x2="498.4" y2="445.8" stroke="#231f20" stroke-width="1.2"/>
<line x1="408" y1="440.6" x2="410.8" y2="440.6" stroke="#231f20" stroke-width="1.1"/>
<text x="406.2" y="443.7" font-size="8.6" text-anchor="end" fill="#231f20" stroke="#231f20" stroke-width="0.12">0</text>
<line x1="408" y1="411.88" x2="410.8" y2="411.88" stroke="#231f20" stroke-width="1.1"/>
<text x="406.2" y="414.98" font-size="8.6" text-anchor="end" fill="#231f20" stroke="#231f20" stroke-width="0.12">50</text>
<line x1="408" y1="383.16" x2="410.8" y2="383.16" stroke="#231f20" stroke-width="1.1"/>
<text x="406.2" y="386.26" font-size="8.6" text-anchor="end" fill="#231f20" stroke="#231f20" stroke-width="0.12">100</text>
<line x1="408" y1="354.44" x2="410.8" y2="354.44" stroke="#231f20" stroke-width="1.1"/>
<text x="406.2" y="357.54" font-size="8.6" text-anchor="end" fill="#231f20" stroke="#231f20" stroke-width="0.12">150</text>
<line x1="421.2" y1="445.8" x2="421.2" y2="448.6" stroke="#231f20" stroke-width="1.1"/>
<text x="421.2" y="459.3" font-size="8.6" text-anchor="middle" fill="#231f20" stroke="#231f20" stroke-width="0.12">−2</text>
<line x1="437.7" y1="445.8" x2="437.7" y2="448.6" stroke="#231f20" stroke-width="1.1"/>
<text x="437.7" y="459.3" font-size="8.6" text-anchor="middle" fill="#231f20" stroke="#231f20" stroke-width="0.12">−1</text>
<line x1="454.2" y1="445.8" x2="454.2" y2="448.6" stroke="#231f20" stroke-width="1.1"/>
<text x="454.2" y="459.3" font-size="8.6" text-anchor="middle" fill="#231f20" stroke="#231f20" stroke-width="0.12">0</text>
<line x1="470.7" y1="445.8" x2="470.7" y2="448.6" stroke="#231f20" stroke-width="1.1"/>
<text x="470.7" y="459.3" font-size="8.6" text-anchor="middle" fill="#231f20" stroke="#231f20" stroke-width="0.12">1</text>
<line x1="487.2" y1="445.8" x2="487.2" y2="448.6" stroke="#231f20" stroke-width="1.1"/>
<text x="487.2" y="459.3" font-size="8.6" text-anchor="middle" fill="#231f20" stroke="#231f20" stroke-width="0.12">2</text>
<text x="452.2" y="469.6" font-size="10.5" text-anchor="middle" fill="#231f20" stroke="#231f20" stroke-width="0.12" textLength="43.5" lengthAdjust="spacingAndGlyphs">Average LogFC</text>
<text transform="translate(386.2 430.8) rotate(-90)" font-size="8.3" fill="#231f20" stroke="#231f20" stroke-width="0.1" textLength="86" lengthAdjust="spacingAndGlyphs">-Log10 (adjusted <tspan font-style="italic">p</tspan>-value)</text>
<text x="416.7" y="359.5" font-size="7" text-anchor="start" fill="#231f20" font-style="italic" stroke="#231f20" stroke-width="0.12" textLength="34.51" lengthAdjust="spacingAndGlyphs">MARCKSL1</text>
<text x="415.8" y="377.6" font-size="7" text-anchor="start" fill="#231f20" font-style="italic" stroke="#231f20" stroke-width="0.12" textLength="25.26" lengthAdjust="spacingAndGlyphs">VPREB3</text>
<text x="419" y="403" font-size="7" text-anchor="start" fill="#231f20" font-style="italic" stroke="#231f20" stroke-width="0.12" textLength="20.64" lengthAdjust="spacingAndGlyphs">BASP1</text>
<text x="414.7" y="416.8" font-size="7" text-anchor="start" fill="#231f20" font-style="italic" stroke="#231f20" stroke-width="0.12" textLength="21.7" lengthAdjust="spacingAndGlyphs">CXCR4</text>
<text x="417.6" y="427.5" font-size="7" text-anchor="start" fill="#231f20" font-style="italic" stroke="#231f20" stroke-width="0.12" textLength="13.87" lengthAdjust="spacingAndGlyphs">IRF8</text>
<text x="413.3" y="437.6" font-size="7" text-anchor="start" fill="#231f20" font-style="italic" stroke="#231f20" stroke-width="0.12" textLength="16.37" lengthAdjust="spacingAndGlyphs">CD38</text>
<text x="488.5" y="351.9" font-size="7" text-anchor="start" fill="#231f20" font-style="italic" stroke="#231f20" stroke-width="0.12" textLength="31.66" lengthAdjust="spacingAndGlyphs">HLA-DRB5</text>
<text x="467.7" y="360.9" font-size="7" text-anchor="start" fill="#231f20" font-style="italic" stroke="#231f20" stroke-width="0.12" textLength="16.37" lengthAdjust="spacingAndGlyphs">CD24</text>
<text x="486" y="372.6" font-size="7" text-anchor="start" fill="#231f20" font-style="italic" stroke="#231f20" stroke-width="0.12" textLength="27.39" lengthAdjust="spacingAndGlyphs">MT-ATP8</text>
<text x="470.8" y="379.2" font-size="7" text-anchor="start" fill="#d0305a" font-style="italic" stroke="#d0305a" stroke-width="0.12" textLength="16.37" lengthAdjust="spacingAndGlyphs">CD74</text>
<text x="479.2" y="391.4" font-size="7" text-anchor="start" fill="#d0305a" font-style="italic" stroke="#d0305a" stroke-width="0.12" textLength="16.37" lengthAdjust="spacingAndGlyphs">XBP1</text>
<text x="456" y="399.9" font-size="7" text-anchor="start" fill="#d0305a" font-style="italic" stroke="#d0305a" stroke-width="0.12" textLength="16.36" lengthAdjust="spacingAndGlyphs">BATF</text>
<text x="484" y="406.4" font-size="7" text-anchor="start" fill="#d0305a" font-style="italic" stroke="#d0305a" stroke-width="0.12" textLength="20.99" lengthAdjust="spacingAndGlyphs">FOXP1</text>
<text x="484" y="420.3" font-size="7" text-anchor="start" fill="#d0305a" font-style="italic" stroke="#d0305a" stroke-width="0.12" textLength="16.37" lengthAdjust="spacingAndGlyphs">CD83</text>
<text x="484.8" y="428.9" font-size="7" text-anchor="start" fill="#d0305a" font-style="italic" stroke="#d0305a" stroke-width="0.12" textLength="16.37" lengthAdjust="spacingAndGlyphs">CD40</text>
<text x="482" y="436.1" font-size="7" text-anchor="start" fill="#d0305a" font-style="italic" stroke="#d0305a" stroke-width="0.12" textLength="16.37" lengthAdjust="spacingAndGlyphs">CD69</text>
<line x1="424.5" y1="352.2" x2="427" y2="347.9" stroke="#231f20" stroke-width="0.7"/>
<line x1="432.3" y1="370.4" x2="434.9" y2="365.2" stroke="#231f20" stroke-width="0.7"/>
<line x1="480.5" y1="353.2" x2="482.8" y2="348" stroke="#231f20" stroke-width="0.7"/>
<line x1="490.8" y1="365" x2="493" y2="358.8" stroke="#231f20" stroke-width="0.7"/>
<line x1="439.7" y1="403" x2="449.5" y2="430" stroke="#231f20" stroke-width="0.7"/>
<line x1="435.9" y1="415.6" x2="449.3" y2="432.9" stroke="#231f20" stroke-width="0.7"/>
<line x1="431" y1="425.2" x2="448.4" y2="434.8" stroke="#231f20" stroke-width="0.7"/>
<line x1="432" y1="435.8" x2="447.4" y2="437.7" stroke="#231f20" stroke-width="0.7"/>
<line x1="462.8" y1="403" x2="460.9" y2="433.8" stroke="#231f20" stroke-width="0.7"/>
<line x1="482" y1="395.4" x2="464.7" y2="432" stroke="#231f20" stroke-width="0.7"/>
<line x1="478.2" y1="380" x2="467.6" y2="418.5" stroke="#231f20" stroke-width="0.7"/>
<line x1="481" y1="407.9" x2="465.7" y2="431" stroke="#231f20" stroke-width="0.7"/>
<line x1="482" y1="419.4" x2="464.7" y2="433.8" stroke="#231f20" stroke-width="0.7"/>
<line x1="481" y1="426" x2="464.7" y2="435.8" stroke="#231f20" stroke-width="0.7"/>
<line x1="476.3" y1="433.8" x2="464.7" y2="437.7" stroke="#231f20" stroke-width="0.7"/>
<text x="-0.6" y="499.8" font-size="13" text-anchor="start" fill="#000" font-weight="bold" textLength="6.22" lengthAdjust="spacingAndGlyphs" stroke="#000" stroke-width="0.35">J</text>
<line x1="61.2" y1="494.3" x2="61.2" y2="555.6" stroke="#d9d0da" stroke-width="0.6"/>
<line x1="65.21" y1="494.3" x2="65.21" y2="555.6" stroke="#f0ecf0" stroke-width="0.5"/>
<line x1="69.22" y1="494.3" x2="69.22" y2="555.6" stroke="#d9d0da" stroke-width="0.6"/>
<line x1="73.23" y1="494.3" x2="73.23" y2="555.6" stroke="#f0ecf0" stroke-width="0.5"/>
<line x1="77.24" y1="494.3" x2="77.24" y2="555.6" stroke="#d9d0da" stroke-width="0.6"/>
<line x1="81.25" y1="494.3" x2="81.25" y2="555.6" stroke="#f0ecf0" stroke-width="0.5"/>
<line x1="85.26" y1="494.3" x2="85.26" y2="555.6" stroke="#d9d0da" stroke-width="0.6"/>
<line x1="89.27" y1="494.3" x2="89.27" y2="555.6" stroke="#f0ecf0" stroke-width="0.5"/>
<line x1="93.28" y1="494.3" x2="93.28" y2="555.6" stroke="#d9d0da" stroke-width="0.6"/>
<line x1="97.29" y1="494.3" x2="97.29" y2="555.6" stroke="#f0ecf0" stroke-width="0.5"/>
<line x1="101.3" y1="494.3" x2="101.3" y2="555.6" stroke="#d9d0da" stroke-width="0.6"/>
<line x1="105.31" y1="494.3" x2="105.31" y2="555.6" stroke="#f0ecf0" stroke-width="0.5"/>
<line x1="109.32" y1="494.3" x2="109.32" y2="555.6" stroke="#d9d0da" stroke-width="0.6"/>
<line x1="113.33" y1="494.3" x2="113.33" y2="555.6" stroke="#f0ecf0" stroke-width="0.5"/>
<line x1="117.34" y1="494.3" x2="117.34" y2="555.6" stroke="#d9d0da" stroke-width="0.6"/>
<line x1="121.35" y1="494.3" x2="121.35" y2="555.6" stroke="#f0ecf0" stroke-width="0.5"/>
<line x1="125.36" y1="494.3" x2="125.36" y2="555.6" stroke="#d9d0da" stroke-width="0.6"/>
<line x1="129.37" y1="494.3" x2="129.37" y2="555.6" stroke="#f0ecf0" stroke-width="0.5"/>
<line x1="133.38" y1="494.3" x2="133.38" y2="555.6" stroke="#d9d0da" stroke-width="0.6"/>
<line x1="137.39" y1="494.3" x2="137.39" y2="555.6" stroke="#f0ecf0" stroke-width="0.5"/>
<line x1="141.4" y1="494.3" x2="141.4" y2="555.6" stroke="#d9d0da" stroke-width="0.6"/>
<line x1="145.41" y1="494.3" x2="145.41" y2="555.6" stroke="#f0ecf0" stroke-width="0.5"/>
<line x1="149.42" y1="494.3" x2="149.42" y2="555.6" stroke="#d9d0da" stroke-width="0.6"/>
<line x1="153.43" y1="494.3" x2="153.43" y2="555.6" stroke="#f0ecf0" stroke-width="0.5"/>
<line x1="157.44" y1="494.3" x2="157.44" y2="555.6" stroke="#d9d0da" stroke-width="0.6"/>
<line x1="161.45" y1="494.3" x2="161.45" y2="555.6" stroke="#f0ecf0" stroke-width="0.5"/>
<line x1="165.46" y1="494.3" x2="165.46" y2="555.6" stroke="#d9d0da" stroke-width="0.6"/>
<line x1="169.47" y1="494.3" x2="169.47" y2="555.6" stroke="#f0ecf0" stroke-width="0.5"/>
<line x1="173.48" y1="494.3" x2="173.48" y2="555.6" stroke="#d9d0da" stroke-width="0.6"/>
<line x1="177.49" y1="494.3" x2="177.49" y2="555.6" stroke="#f0ecf0" stroke-width="0.5"/>
<line x1="181.5" y1="494.3" x2="181.5" y2="555.6" stroke="#d9d0da" stroke-width="0.6"/>
<line x1="185.51" y1="494.3" x2="185.51" y2="555.6" stroke="#f0ecf0" stroke-width="0.5"/>
<line x1="189.52" y1="494.3" x2="189.52" y2="555.6" stroke="#d9d0da" stroke-width="0.6"/>
<line x1="193.53" y1="494.3" x2="193.53" y2="555.6" stroke="#f0ecf0" stroke-width="0.5"/>
<line x1="197.54" y1="494.3" x2="197.54" y2="555.6" stroke="#d9d0da" stroke-width="0.6"/>
<line x1="201.55" y1="494.3" x2="201.55" y2="555.6" stroke="#f0ecf0" stroke-width="0.5"/>
<line x1="205.56" y1="494.3" x2="205.56" y2="555.6" stroke="#d9d0da" stroke-width="0.6"/>
<line x1="209.57" y1="494.3" x2="209.57" y2="555.6" stroke="#f0ecf0" stroke-width="0.5"/>
<line x1="213.58" y1="494.3" x2="213.58" y2="555.6" stroke="#d9d0da" stroke-width="0.6"/>
<line x1="217.59" y1="494.3" x2="217.59" y2="555.6" stroke="#f0ecf0" stroke-width="0.5"/>
<line x1="221.6" y1="494.3" x2="221.6" y2="555.6" stroke="#d9d0da" stroke-width="0.6"/>
<line x1="225.61" y1="494.3" x2="225.61" y2="555.6" stroke="#f0ecf0" stroke-width="0.5"/>
<line x1="229.62" y1="494.3" x2="229.62" y2="555.6" stroke="#d9d0da" stroke-width="0.6"/>
<line x1="233.63" y1="494.3" x2="233.63" y2="555.6" stroke="#f0ecf0" stroke-width="0.5"/>
<line x1="237.64" y1="494.3" x2="237.64" y2="555.6" stroke="#d9d0da" stroke-width="0.6"/>
<line x1="241.65" y1="494.3" x2="241.65" y2="555.6" stroke="#f0ecf0" stroke-width="0.5"/>
<line x1="245.66" y1="494.3" x2="245.66" y2="555.6" stroke="#d9d0da" stroke-width="0.6"/>
<line x1="249.67" y1="494.3" x2="249.67" y2="555.6" stroke="#f0ecf0" stroke-width="0.5"/>
<line x1="253.68" y1="494.3" x2="253.68" y2="555.6" stroke="#d9d0da" stroke-width="0.6"/>
<line x1="257.69" y1="494.3" x2="257.69" y2="555.6" stroke="#f0ecf0" stroke-width="0.5"/>
<line x1="261.7" y1="494.3" x2="261.7" y2="555.6" stroke="#d9d0da" stroke-width="0.6"/>
<line x1="265.71" y1="494.3" x2="265.71" y2="555.6" stroke="#f0ecf0" stroke-width="0.5"/>
<line x1="269.72" y1="494.3" x2="269.72" y2="555.6" stroke="#d9d0da" stroke-width="0.6"/>
<line x1="273.73" y1="494.3" x2="273.73" y2="555.6" stroke="#f0ecf0" stroke-width="0.5"/>
<line x1="277.74" y1="494.3" x2="277.74" y2="555.6" stroke="#d9d0da" stroke-width="0.6"/>
<line x1="281.75" y1="494.3" x2="281.75" y2="555.6" stroke="#f0ecf0" stroke-width="0.5"/>
<line x1="285.76" y1="494.3" x2="285.76" y2="555.6" stroke="#d9d0da" stroke-width="0.6"/>
<line x1="289.77" y1="494.3" x2="289.77" y2="555.6" stroke="#f0ecf0" stroke-width="0.5"/>
<line x1="293.78" y1="494.3" x2="293.78" y2="555.6" stroke="#d9d0da" stroke-width="0.6"/>
<line x1="297.79" y1="494.3" x2="297.79" y2="555.6" stroke="#f0ecf0" stroke-width="0.5"/>
<line x1="301.8" y1="494.3" x2="301.8" y2="555.6" stroke="#d9d0da" stroke-width="0.6"/>
<line x1="305.81" y1="494.3" x2="305.81" y2="555.6" stroke="#f0ecf0" stroke-width="0.5"/>
<line x1="309.82" y1="494.3" x2="309.82" y2="555.6" stroke="#d9d0da" stroke-width="0.6"/>
<line x1="313.83" y1="494.3" x2="313.83" y2="555.6" stroke="#f0ecf0" stroke-width="0.5"/>
<line x1="317.84" y1="494.3" x2="317.84" y2="555.6" stroke="#d9d0da" stroke-width="0.6"/>
<line x1="321.85" y1="494.3" x2="321.85" y2="555.6" stroke="#f0ecf0" stroke-width="0.5"/>
<line x1="325.86" y1="494.3" x2="325.86" y2="555.6" stroke="#d9d0da" stroke-width="0.6"/>
<line x1="329.87" y1="494.3" x2="329.87" y2="555.6" stroke="#f0ecf0" stroke-width="0.5"/>
<line x1="333.88" y1="494.3" x2="333.88" y2="555.6" stroke="#d9d0da" stroke-width="0.6"/>
<line x1="337.89" y1="494.3" x2="337.89" y2="555.6" stroke="#f0ecf0" stroke-width="0.5"/>
<line x1="341.9" y1="494.3" x2="341.9" y2="555.6" stroke="#d9d0da" stroke-width="0.6"/>
<line x1="345.91" y1="494.3" x2="345.91" y2="555.6" stroke="#f0ecf0" stroke-width="0.5"/>
<line x1="349.92" y1="494.3" x2="349.92" y2="555.6" stroke="#d9d0da" stroke-width="0.6"/>
<line x1="353.93" y1="494.3" x2="353.93" y2="555.6" stroke="#f0ecf0" stroke-width="0.5"/>
<line x1="357.94" y1="494.3" x2="357.94" y2="555.6" stroke="#d9d0da" stroke-width="0.6"/>
<line x1="361.95" y1="494.3" x2="361.95" y2="555.6" stroke="#f0ecf0" stroke-width="0.5"/>
<line x1="56.5" y1="498.4" x2="362.6" y2="498.4" stroke="#ddd5de" stroke-width="0.6"/>
<line x1="56.5" y1="501.75" x2="362.6" y2="501.75" stroke="#f0ecf0" stroke-width="0.5"/>
<line x1="56.5" y1="505.1" x2="362.6" y2="505.1" stroke="#ddd5de" stroke-width="0.6"/>
<line x1="56.5" y1="508.45" x2="362.6" y2="508.45" stroke="#f0ecf0" stroke-width="0.5"/>
<line x1="56.5" y1="511.8" x2="362.6" y2="511.8" stroke="#ddd5de" stroke-width="0.6"/>
<line x1="56.5" y1="515.15" x2="362.6" y2="515.15" stroke="#f0ecf0" stroke-width="0.5"/>
<line x1="56.5" y1="518.5" x2="362.6" y2="518.5" stroke="#ddd5de" stroke-width="0.6"/>
<line x1="56.5" y1="521.85" x2="362.6" y2="521.85" stroke="#f0ecf0" stroke-width="0.5"/>
<line x1="56.5" y1="525.2" x2="362.6" y2="525.2" stroke="#ddd5de" stroke-width="0.6"/>
<line x1="56.5" y1="528.55" x2="362.6" y2="528.55" stroke="#f0ecf0" stroke-width="0.5"/>
<line x1="56.5" y1="531.9" x2="362.6" y2="531.9" stroke="#ddd5de" stroke-width="0.6"/>
<line x1="56.5" y1="535.25" x2="362.6" y2="535.25" stroke="#f0ecf0" stroke-width="0.5"/>
<line x1="56.5" y1="538.6" x2="362.6" y2="538.6" stroke="#ddd5de" stroke-width="0.6"/>
<line x1="56.5" y1="541.95" x2="362.6" y2="541.95" stroke="#f0ecf0" stroke-width="0.5"/>
<line x1="56.5" y1="545.3" x2="362.6" y2="545.3" stroke="#ddd5de" stroke-width="0.6"/>
<line x1="56.5" y1="548.65" x2="362.6" y2="548.65" stroke="#f0ecf0" stroke-width="0.5"/>
<line x1="56.5" y1="552" x2="362.6" y2="552" stroke="#ddd5de" stroke-width="0.6"/>
<line x1="56.5" y1="555.35" x2="362.6" y2="555.35" stroke="#f0ecf0" stroke-width="0.5"/>
<rect x="56.5" y="494.3" width="306.1" height="61.3" fill="none" stroke="#3a3a3a" stroke-width="1.1"/>
<circle cx="61.2" cy="498.4" r="2.5" fill="#84207a"/>
<circle cx="109.32" cy="498.4" r="2.2" fill="#3e30a4"/>
<circle cx="165.46" cy="498.4" r="2.8" fill="#61288f"/>
<circle cx="261.7" cy="498.4" r="2.5" fill="#84207a"/>
<circle cx="277.74" cy="498.4" r="2.5" fill="#84207a"/>
<circle cx="333.88" cy="498.4" r="2.5" fill="#61288f"/>
<circle cx="357.94" cy="505.1" r="3.3" fill="#ea1e2c"/>
<circle cx="61.2" cy="511.8" r="2.2" fill="#84207a"/>
<circle cx="69.22" cy="511.8" r="2" fill="#452ea0"/>
<circle cx="93.28" cy="511.8" r="3" fill="#c81d47"/>
<circle cx="109.32" cy="511.8" r="3" fill="#c81d47"/>
<circle cx="117.34" cy="511.8" r="3" fill="#dd1e37"/>
<circle cx="141.4" cy="511.8" r="3.8" fill="#dd1e37"/>
<circle cx="197.54" cy="511.8" r="2.8" fill="#d61e3c"/>
<circle cx="213.58" cy="511.8" r="3.3" fill="#ea1e2c"/>
<circle cx="261.7" cy="511.8" r="2.2" fill="#991c6d"/>
<circle cx="309.82" cy="511.8" r="2.2" fill="#921d72"/>
<circle cx="357.94" cy="511.8" r="2.8" fill="#dd1e37"/>
<circle cx="357.94" cy="525.2" r="1.5" fill="#532b98"/>
<circle cx="61.2" cy="531.9" r="1.3" fill="#3e30a4"/>
<circle cx="77.24" cy="531.9" r="2.5" fill="#b41d58"/>
<circle cx="85.26" cy="531.9" r="2.5" fill="#b41d58"/>
<circle cx="101.3" cy="531.9" r="3.5" fill="#e31e31"/>
<circle cx="109.32" cy="531.9" r="2.2" fill="#991c6d"/>
<circle cx="141.4" cy="531.9" r="1" fill="#84207a"/>
<circle cx="149.42" cy="531.9" r="3" fill="#c81d47"/>
<circle cx="157.44" cy="531.9" r="2" fill="#991c6d"/>
<circle cx="165.46" cy="531.9" r="2.8" fill="#c81d47"/>
<circle cx="173.48" cy="531.9" r="2.8" fill="#c81d47"/>
<circle cx="181.5" cy="531.9" r="2.2" fill="#a71c62"/>
<circle cx="189.52" cy="531.9" r="2.2" fill="#a71c62"/>
<circle cx="197.54" cy="531.9" r="3.2" fill="#dd1e37"/>
<circle cx="205.56" cy="531.9" r="1.7" fill="#6f2587"/>
<circle cx="221.6" cy="531.9" r="1.5" fill="#532b98"/>
<circle cx="229.62" cy="531.9" r="2" fill="#a71c62"/>
<circle cx="237.64" cy="531.9" r="2.5" fill="#c21d4d"/>
<circle cx="245.66" cy="531.9" r="2" fill="#a71c62"/>
<circle cx="261.7" cy="531.9" r="3.2" fill="#dd1e37"/>
<circle cx="269.72" cy="531.9" r="2.2" fill="#b41d58"/>
<circle cx="285.76" cy="531.9" r="2.8" fill="#d61e3c"/>
<circle cx="293.78" cy="531.9" r="1.6" fill="#61288f"/>
<circle cx="301.8" cy="531.9" r="1.6" fill="#61288f"/>
<circle cx="317.84" cy="531.9" r="2.8" fill="#cf1d42"/>
<circle cx="325.86" cy="531.9" r="2.2" fill="#b41d58"/>
<circle cx="341.9" cy="531.9" r="2.2" fill="#b41d58"/>
<circle cx="349.92" cy="531.9" r="2.8" fill="#cf1d42"/>
<circle cx="357.94" cy="531.9" r="2.2" fill="#84207a"/>
<circle cx="141.4" cy="538.6" r="2.8" fill="#dd1e37"/>
<circle cx="173.48" cy="538.6" r="3.3" fill="#ea1e2c"/>
<circle cx="197.54" cy="538.6" r="2.8" fill="#bb1d52"/>
<circle cx="333.88" cy="538.6" r="2.5" fill="#991c6d"/>
<circle cx="85.26" cy="545.3" r="2.5" fill="#61288f"/>
<circle cx="109.32" cy="545.3" r="2" fill="#532b98"/>
<circle cx="125.36" cy="545.3" r="2.8" fill="#61288f"/>
<circle cx="133.38" cy="545.3" r="2.8" fill="#61288f"/>
<circle cx="141.4" cy="545.3" r="4" fill="#ea1e2c"/>
<circle cx="157.44" cy="545.3" r="2.5" fill="#532b98"/>
<circle cx="165.46" cy="545.3" r="2" fill="#3e30a4"/>
<circle cx="253.68" cy="545.3" r="2.8" fill="#61288f"/>
<circle cx="277.74" cy="545.3" r="2.5" fill="#61288f"/>
<circle cx="309.82" cy="545.3" r="2.2" fill="#3e30a4"/>
<circle cx="293.78" cy="552" r="2.8" fill="#6f2587"/>
<circle cx="325.86" cy="552" r="3.3" fill="#ea1e2c"/>
<text x="41.5" y="501.2" font-size="7.8" text-anchor="end" fill="#444" stroke="#444" stroke-width="0.05">hB1</text>
<circle cx="46.2" cy="498.4" r="2.7" fill="#d08858" fill-opacity="0.8"/>
<line x1="53.5" y1="498.4" x2="56.5" y2="498.4" stroke="#231f20" stroke-width="0.9"/>
<text x="41.5" y="507.9" font-size="7.8" text-anchor="end" fill="#444" stroke="#444" stroke-width="0.05">hB2</text>
<circle cx="46.2" cy="505.1" r="2.7" fill="#6ccdc4" fill-opacity="0.8"/>
<line x1="53.5" y1="505.1" x2="56.5" y2="505.1" stroke="#231f20" stroke-width="0.9"/>
<text x="41.5" y="514.6" font-size="7.8" text-anchor="end" fill="#444" stroke="#444" stroke-width="0.05">hB3</text>
<circle cx="46.2" cy="511.8" r="2.7" fill="#c4c2dc" fill-opacity="0.8"/>
<line x1="53.5" y1="511.8" x2="56.5" y2="511.8" stroke="#231f20" stroke-width="0.9"/>
<text x="41.5" y="521.3" font-size="7.8" text-anchor="end" fill="#444" stroke="#444" stroke-width="0.05">hB4</text>
<circle cx="46.2" cy="518.5" r="2.7" fill="#c8cfa9" fill-opacity="0.8"/>
<line x1="53.5" y1="518.5" x2="56.5" y2="518.5" stroke="#231f20" stroke-width="0.9"/>
<text x="41.5" y="528" font-size="7.8" text-anchor="end" fill="#444" stroke="#444" stroke-width="0.05">hB5</text>
<circle cx="46.2" cy="525.2" r="2.7" fill="#80c066" fill-opacity="0.8"/>
<line x1="53.5" y1="525.2" x2="56.5" y2="525.2" stroke="#231f20" stroke-width="0.9"/>
<text x="41.5" y="534.7" font-size="7.8" text-anchor="end" fill="#444" stroke="#444" stroke-width="0.05">hB6</text>
<circle cx="46.2" cy="531.9" r="2.7" fill="#7e7ed0" fill-opacity="0.8"/>
<line x1="53.5" y1="531.9" x2="56.5" y2="531.9" stroke="#231f20" stroke-width="0.9"/>
<text x="41.5" y="541.4" font-size="7.8" text-anchor="end" fill="#444" stroke="#444" stroke-width="0.05">hB7</text>
<circle cx="46.2" cy="538.6" r="2.7" fill="#853f95" fill-opacity="0.8"/>
<line x1="53.5" y1="538.6" x2="56.5" y2="538.6" stroke="#231f20" stroke-width="0.9"/>
<text x="41.5" y="548.1" font-size="7.8" text-anchor="end" fill="#444" stroke="#444" stroke-width="0.05">hB8</text>
<circle cx="46.2" cy="545.3" r="2.7" fill="#d2cf3a" fill-opacity="0.8"/>
<line x1="53.5" y1="545.3" x2="56.5" y2="545.3" stroke="#231f20" stroke-width="0.9"/>
<text x="41.5" y="554.8" font-size="7.8" text-anchor="end" fill="#444" stroke="#444" stroke-width="0.05">hB9</text>
<circle cx="46.2" cy="552" r="2.7" fill="#dc62a2" fill-opacity="0.8"/>
<line x1="53.5" y1="552" x2="56.5" y2="552" stroke="#231f20" stroke-width="0.9"/>
<line x1="61.2" y1="555.6" x2="61.2" y2="558.9" stroke="#231f20" stroke-width="0.8"/>
<line x1="69.22" y1="555.6" x2="69.22" y2="558.9" stroke="#231f20" stroke-width="0.8"/>
<line x1="77.24" y1="555.6" x2="77.24" y2="558.9" stroke="#231f20" stroke-width="0.8"/>
<line x1="85.26" y1="555.6" x2="85.26" y2="558.9" stroke="#231f20" stroke-width="0.8"/>
<line x1="93.28" y1="555.6" x2="93.28" y2="558.9" stroke="#231f20" stroke-width="0.8"/>
<line x1="101.3" y1="555.6" x2="101.3" y2="558.9" stroke="#231f20" stroke-width="0.8"/>
<line x1="109.32" y1="555.6" x2="109.32" y2="558.9" stroke="#231f20" stroke-width="0.8"/>
<line x1="117.34" y1="555.6" x2="117.34" y2="558.9" stroke="#231f20" stroke-width="0.8"/>
<line x1="125.36" y1="555.6" x2="125.36" y2="558.9" stroke="#231f20" stroke-width="0.8"/>
<line x1="133.38" y1="555.6" x2="133.38" y2="558.9" stroke="#231f20" stroke-width="0.8"/>
<line x1="141.4" y1="555.6" x2="141.4" y2="558.9" stroke="#231f20" stroke-width="0.8"/>
<line x1="149.42" y1="555.6" x2="149.42" y2="558.9" stroke="#231f20" stroke-width="0.8"/>
<line x1="157.44" y1="555.6" x2="157.44" y2="558.9" stroke="#231f20" stroke-width="0.8"/>
<line x1="165.46" y1="555.6" x2="165.46" y2="558.9" stroke="#231f20" stroke-width="0.8"/>
<line x1="173.48" y1="555.6" x2="173.48" y2="558.9" stroke="#231f20" stroke-width="0.8"/>
<line x1="181.5" y1="555.6" x2="181.5" y2="558.9" stroke="#231f20" stroke-width="0.8"/>
<line x1="189.52" y1="555.6" x2="189.52" y2="558.9" stroke="#231f20" stroke-width="0.8"/>
<line x1="197.54" y1="555.6" x2="197.54" y2="558.9" stroke="#231f20" stroke-width="0.8"/>
<line x1="205.56" y1="555.6" x2="205.56" y2="558.9" stroke="#231f20" stroke-width="0.8"/>
<line x1="213.58" y1="555.6" x2="213.58" y2="558.9" stroke="#231f20" stroke-width="0.8"/>
<line x1="221.6" y1="555.6" x2="221.6" y2="558.9" stroke="#231f20" stroke-width="0.8"/>
<line x1="229.62" y1="555.6" x2="229.62" y2="558.9" stroke="#231f20" stroke-width="0.8"/>
<line x1="237.64" y1="555.6" x2="237.64" y2="558.9" stroke="#231f20" stroke-width="0.8"/>
<line x1="245.66" y1="555.6" x2="245.66" y2="558.9" stroke="#231f20" stroke-width="0.8"/>
<line x1="253.68" y1="555.6" x2="253.68" y2="558.9" stroke="#231f20" stroke-width="0.8"/>
<line x1="261.7" y1="555.6" x2="261.7" y2="558.9" stroke="#231f20" stroke-width="0.8"/>
<line x1="269.72" y1="555.6" x2="269.72" y2="558.9" stroke="#231f20" stroke-width="0.8"/>
<line x1="277.74" y1="555.6" x2="277.74" y2="558.9" stroke="#231f20" stroke-width="0.8"/>
<line x1="285.76" y1="555.6" x2="285.76" y2="558.9" stroke="#231f20" stroke-width="0.8"/>
<line x1="293.78" y1="555.6" x2="293.78" y2="558.9" stroke="#231f20" stroke-width="0.8"/>
<line x1="301.8" y1="555.6" x2="301.8" y2="558.9" stroke="#231f20" stroke-width="0.8"/>
<line x1="309.82" y1="555.6" x2="309.82" y2="558.9" stroke="#231f20" stroke-width="0.8"/>
<line x1="317.84" y1="555.6" x2="317.84" y2="558.9" stroke="#231f20" stroke-width="0.8"/>
<line x1="325.86" y1="555.6" x2="325.86" y2="558.9" stroke="#231f20" stroke-width="0.8"/>
<line x1="333.88" y1="555.6" x2="333.88" y2="558.9" stroke="#231f20" stroke-width="0.8"/>
<line x1="341.9" y1="555.6" x2="341.9" y2="558.9" stroke="#231f20" stroke-width="0.8"/>
<line x1="349.92" y1="555.6" x2="349.92" y2="558.9" stroke="#231f20" stroke-width="0.8"/>
<line x1="357.94" y1="555.6" x2="357.94" y2="558.9" stroke="#231f20" stroke-width="0.8"/>
<rect x="56.5" y="559.4" width="298.1" height="2.5" fill="#c4103a"/>
<rect x="354.6" y="559.4" width="8" height="2.5" fill="#2f6898"/>
<text x="63.4" y="565.4" font-size="6.5" text-anchor="end" fill="#333" stroke="#333" stroke-width="0.12" transform="rotate(-90 63.4 565.4)">Adipogenesis</text>
<text x="71.42" y="565.4" font-size="6.5" text-anchor="end" fill="#333" stroke="#333" stroke-width="0.12" transform="rotate(-90 71.42 565.4)">Allograft rejection</text>
<text x="79.44" y="565.4" font-size="6.5" text-anchor="end" fill="#333" stroke="#333" stroke-width="0.12" transform="rotate(-90 79.44 565.4)">Androgen response</text>
<text x="87.46" y="565.4" font-size="6.5" text-anchor="end" fill="#333" stroke="#333" stroke-width="0.12" transform="rotate(-90 87.46 565.4)">Apical junction</text>
<text x="95.48" y="565.4" font-size="6.5" text-anchor="end" fill="#333" stroke="#333" stroke-width="0.12" transform="rotate(-90 95.48 565.4)">Apoptosis</text>
<text x="103.5" y="565.4" font-size="6.5" text-anchor="end" fill="#333" stroke="#333" stroke-width="0.12" transform="rotate(-90 103.5 565.4)">BILE acid metabolism</text>
<text x="111.52" y="565.4" font-size="6.5" text-anchor="end" fill="#333" stroke="#333" stroke-width="0.12" transform="rotate(-90 111.52 565.4)">Cholesterol homeostasis</text>
<text x="119.54" y="565.4" font-size="6.5" text-anchor="end" fill="#333" stroke="#333" stroke-width="0.12" transform="rotate(-90 119.54 565.4)">Coagulation</text>
<text x="127.56" y="565.4" font-size="6.5" text-anchor="end" fill="#333" stroke="#333" stroke-width="0.12" transform="rotate(-90 127.56 565.4)">DNA repair</text>
<text x="135.58" y="565.4" font-size="6.5" text-anchor="end" fill="#333" stroke="#333" stroke-width="0.12" transform="rotate(-90 135.58 565.4)">E2F targets</text>
<text x="143.6" y="565.4" font-size="6.5" text-anchor="end" fill="#333" stroke="#333" stroke-width="0.12" transform="rotate(-90 143.6 565.4)">Epithelial mesenchymal transition</text>
<text x="151.62" y="565.4" font-size="6.5" text-anchor="end" fill="#333" stroke="#333" stroke-width="0.12" transform="rotate(-90 151.62 565.4)">Estrogen response early</text>
<text x="159.64" y="565.4" font-size="6.5" text-anchor="end" fill="#333" stroke="#333" stroke-width="0.12" transform="rotate(-90 159.64 565.4)">Estrogen response late</text>
<text x="167.66" y="565.4" font-size="6.5" text-anchor="end" fill="#333" stroke="#333" stroke-width="0.12" transform="rotate(-90 167.66 565.4)">Fatty acid metabolism</text>
<text x="175.68" y="565.4" font-size="6.5" text-anchor="end" fill="#333" stroke="#333" stroke-width="0.12" transform="rotate(-90 175.68 565.4)">Glycolysis</text>
<text x="183.7" y="565.4" font-size="6.5" text-anchor="end" fill="#333" stroke="#333" stroke-width="0.12" transform="rotate(-90 183.7 565.4)">Hedgehog signaling</text>
<text x="191.72" y="565.4" font-size="6.5" text-anchor="end" fill="#333" stroke="#333" stroke-width="0.12" transform="rotate(-90 191.72 565.4)">Heme metabolism</text>
<text x="199.74" y="565.4" font-size="6.5" text-anchor="end" fill="#333" stroke="#333" stroke-width="0.12" transform="rotate(-90 199.74 565.4)">Hypoxia</text>
<text x="207.76" y="565.4" font-size="6.5" text-anchor="end" fill="#333" stroke="#333" stroke-width="0.12" transform="rotate(-90 207.76 565.4)">IL2 STAT5 signaling</text>
<text x="215.78" y="565.4" font-size="6.5" text-anchor="end" fill="#333" stroke="#333" stroke-width="0.12" transform="rotate(-90 215.78 565.4)">IL6 JAK STAT3 signaling</text>
<text x="223.8" y="565.4" font-size="6.5" text-anchor="end" fill="#333" stroke="#333" stroke-width="0.12" transform="rotate(-90 223.8 565.4)">Interferon gamma response</text>
<text x="231.82" y="565.4" font-size="6.5" text-anchor="end" fill="#333" stroke="#333" stroke-width="0.12" transform="rotate(-90 231.82 565.4)">KRAS signaling DN</text>
<text x="239.84" y="565.4" font-size="6.5" text-anchor="end" fill="#333" stroke="#333" stroke-width="0.12" transform="rotate(-90 239.84 565.4)">KRAS signaling UP</text>
<text x="247.86" y="565.4" font-size="6.5" text-anchor="end" fill="#333" stroke="#333" stroke-width="0.12" transform="rotate(-90 247.86 565.4)">Mitotic spindle</text>
<text x="255.88" y="565.4" font-size="6.5" text-anchor="end" fill="#333" stroke="#333" stroke-width="0.12" transform="rotate(-90 255.88 565.4)">MYC targets V2</text>
<text x="263.9" y="565.4" font-size="6.5" text-anchor="end" fill="#333" stroke="#333" stroke-width="0.12" transform="rotate(-90 263.9 565.4)">Myogenesis</text>
<text x="271.92" y="565.4" font-size="6.5" text-anchor="end" fill="#333" stroke="#333" stroke-width="0.12" transform="rotate(-90 271.92 565.4)">Notch signaling</text>
<text x="279.94" y="565.4" font-size="6.5" text-anchor="end" fill="#333" stroke="#333" stroke-width="0.12" transform="rotate(-90 279.94 565.4)">Oxidative phosphorylation</text>
<text x="287.96" y="565.4" font-size="6.5" text-anchor="end" fill="#333" stroke="#333" stroke-width="0.12" transform="rotate(-90 287.96 565.4)">P53 pathway</text>
<text x="295.98" y="565.4" font-size="6.5" text-anchor="end" fill="#333" stroke="#333" stroke-width="0.12" transform="rotate(-90 295.98 565.4)">Peroxisome</text>
<text x="304" y="565.4" font-size="6.5" text-anchor="end" fill="#333" stroke="#333" stroke-width="0.12" transform="rotate(-90 304 565.4)">Protein secretion</text>
<text x="312.02" y="565.4" font-size="6.5" text-anchor="end" fill="#333" stroke="#333" stroke-width="0.12" transform="rotate(-90 312.02 565.4)">Reactive oxygen species pathway</text>
<text x="320.04" y="565.4" font-size="6.5" text-anchor="end" fill="#333" stroke="#333" stroke-width="0.12" transform="rotate(-90 320.04 565.4)">Spermatogenesis</text>
<text x="328.06" y="565.4" font-size="6.5" text-anchor="end" fill="#333" stroke="#333" stroke-width="0.12" transform="rotate(-90 328.06 565.4)">TGF beta signaling</text>
<text x="336.08" y="565.4" font-size="6.5" text-anchor="end" fill="#333" stroke="#333" stroke-width="0.12" transform="rotate(-90 336.08 565.4)">Unfolded protein response</text>
<text x="344.1" y="565.4" font-size="6.5" text-anchor="end" fill="#333" stroke="#333" stroke-width="0.12" transform="rotate(-90 344.1 565.4)">UV response DN</text>
<text x="352.12" y="565.4" font-size="6.5" text-anchor="end" fill="#333" stroke="#333" stroke-width="0.12" transform="rotate(-90 352.12 565.4)">WNT beta catenin signaling</text>
<text x="360.14" y="565.4" font-size="6.5" text-anchor="end" fill="#333" stroke="#333" stroke-width="0.12" transform="rotate(-90 360.14 565.4)">AITL B specific gene set</text>
<text x="23.4" y="579.6" font-size="6.6" text-anchor="middle" fill="#333" stroke="#333" stroke-width="0.12">FDR</text>
<text x="23.3" y="586.6" font-size="6.6" text-anchor="middle" fill="#333" stroke="#333" stroke-width="0.12">q-value</text>
<rect x="18.2" y="591.8" width="12.5" height="53.8" fill="url(#gq)"/>
<text x="33.8" y="596.2" font-size="6.8" text-anchor="start" fill="#333" stroke="#333" stroke-width="0.12">0.25</text>
<text x="33.8" y="606.95" font-size="6.8" text-anchor="start" fill="#333" stroke="#333" stroke-width="0.12">0.20</text>
<text x="33.8" y="617.7" font-size="6.8" text-anchor="start" fill="#333" stroke="#333" stroke-width="0.12">0.15</text>
<text x="33.8" y="628.45" font-size="6.8" text-anchor="start" fill="#333" stroke="#333" stroke-width="0.12">0.10</text>
<text x="33.8" y="639.2" font-size="6.8" text-anchor="start" fill="#333" stroke="#333" stroke-width="0.12">0.05</text>
<text x="33.8" y="649.95" font-size="6.8" text-anchor="start" fill="#333" stroke="#333" stroke-width="0.12">0.00</text>
<text x="14.4" y="661" font-size="6.6" text-anchor="start" fill="#333" stroke="#333" stroke-width="0.12">NES</text>
<circle cx="22.2" cy="669.6" r="1.1" fill="#000"/>
<text x="31" y="672" font-size="6.8" text-anchor="start" fill="#333" stroke="#333" stroke-width="0.12">1.2</text>
<circle cx="22.2" cy="680" r="2.2" fill="#000"/>
<text x="31" y="682.4" font-size="6.8" text-anchor="start" fill="#333" stroke="#333" stroke-width="0.12">1.4</text>
<circle cx="22.2" cy="690.7" r="2.9" fill="#000"/>
<text x="31" y="693.1" font-size="6.8" text-anchor="start" fill="#333" stroke="#333" stroke-width="0.12">1.6</text>
<circle cx="22.2" cy="701.1" r="3.3" fill="#000"/>
<text x="31" y="703.5" font-size="6.8" text-anchor="start" fill="#333" stroke="#333" stroke-width="0.12">1.8</text>
<circle cx="22.2" cy="712.9" r="3.8" fill="#000"/>
<text x="31" y="715.3" font-size="6.8" text-anchor="start" fill="#333" stroke="#333" stroke-width="0.12">2.0</text>
<line x1="120" y1="699.2" x2="130.8" y2="699.2" stroke="#c8143c" stroke-width="1.4"/>
<line x1="120" y1="709.6" x2="130.8" y2="709.6" stroke="#3a6e9a" stroke-width="1.4"/>
<text x="134.4" y="701.8" font-size="7.5" text-anchor="start" fill="#333" stroke="#333" stroke-width="0.12">Hallmark gene sets of MsigDB</text>
<text x="134.4" y="712.2" font-size="7.5" text-anchor="start" fill="#333" stroke="#333" stroke-width="0.12">AITL-B-specific gene set from mouse scRNA-seq</text>
<text x="386.5" y="499.8" font-size="13" text-anchor="start" fill="#000" font-weight="bold" textLength="8.07" lengthAdjust="spacingAndGlyphs" stroke="#000" stroke-width="0.35">K</text>
<rect x="446" y="489.8" width="7.2" height="6.5" fill="#e8112d"/>
<text x="456.7" y="496" font-size="7.4" text-anchor="start" fill="#231f20" stroke="#231f20" stroke-width="0.12">AITL</text>
<rect x="479.6" y="489.8" width="6.8" height="6.5" fill="#1515e6"/>
<text x="489" y="496" font-size="7.4" text-anchor="start" fill="#231f20" stroke="#231f20" stroke-width="0.12">HLN</text>
<line x1="435.2" y1="507.3" x2="435.2" y2="546" stroke="#d2d2d2" stroke-width="0.7"/>
<line x1="444.9" y1="507.3" x2="444.9" y2="546" stroke="#d2d2d2" stroke-width="0.7"/>
<line x1="454.6" y1="507.3" x2="454.6" y2="546" stroke="#d2d2d2" stroke-width="0.7"/>
<line x1="464.3" y1="507.3" x2="464.3" y2="546" stroke="#d2d2d2" stroke-width="0.7"/>
<line x1="474" y1="507.3" x2="474" y2="546" stroke="#d2d2d2" stroke-width="0.7"/>
<line x1="483.7" y1="507.3" x2="483.7" y2="546" stroke="#d2d2d2" stroke-width="0.7"/>
<line x1="493.4" y1="507.3" x2="493.4" y2="546" stroke="#d2d2d2" stroke-width="0.7"/>
<line x1="503.1" y1="507.3" x2="503.1" y2="546" stroke="#d2d2d2" stroke-width="0.7"/>
<line x1="512.8" y1="507.3" x2="512.8" y2="546" stroke="#d2d2d2" stroke-width="0.7"/>
<path d="M474,546Q470.4,545.8 471.4,544.9Q472.5,543.9 473.1,542.9Q473.8,541.8 473.9,541.8L474,541.8Z" fill="#cc1428" stroke="none" stroke-width="1"/>
<path d="M493.4,546Q489.2,545.8 489.6,544.2Q490,542.7 490.6,540.2Q491.2,537.7 491.4,532.4Q491.5,527.2 491.8,522Q492.1,516.8 492.5,513.1Q492.9,509.3 493.1,507.6Q493.3,506 493.3,506L493.4,506Z" fill="#cc1428" stroke="none" stroke-width="1"/>
<path d="M493.4,546Q497,545.8 496.4,544.6Q495.8,543.5 494.7,541.8Q493.6,540.2 493.5,540.2L493.4,540.2Z" fill="#1a1ad0" stroke="none" stroke-width="1"/>
<path d="M503.1,546Q500.1,545.8 500.6,544.6Q501.1,543.5 501.7,541.8Q502.3,540.2 502.2,534.7Q502.2,529.3 502.3,523.1Q502.5,516.8 502.7,513.5Q503,510.1 503,510.1L503.1,510.1Z" fill="#cc1428" stroke="none" stroke-width="1"/>
<path d="" stroke="#3a3a3a" stroke-width="0.84" stroke-linecap="round" stroke-opacity="0.5"/>
<path d="M446.6 523.7h0M445.8 530.1h0M447 522h0M442.7 524.7h0M445.2 526.6h0M446.9 523.4h0M444 525.7h0M446 525.9h0M444.2 525.8h0M443.4 524.2h0M444.2 522.1h0M445.3 524.4h0M444.8 525.5h0M444.8 527.9h0M443.1 525.2h0M445.2 528.7h0M444.8 525.6h0M449.3 522.6h0M444.7 525.6h0M446.7 526.1h0M445 522.1h0M444.4 529h0M441.8 526h0M445.9 531h0M441.9 526.2h0M446.8 528.5h0M444.5 527h0M446.5 525h0M448 529.7h0M444.7 523.8h0M447.2 525.8h0M444.2 526.7h0M445.3 531.1h0M444.1 525.5h0M441.9 521.5h0M444 528.2h0M445.5 528.3h0M444.9 522.6h0M440.9 526.7h0M444.5 525.8h0M441.2 524.3h0M445.5 526.4h0M441.5 525.3h0M442 525.3h0M445 524.5h0M442.5 528.5h0M442.3 525.7h0M444.1 523.6h0M445.1 523.8h0M443.2 526.9h0M445.6 524.7h0M442.7 523.7h0M447.7 527.8h0M440.7 521.2h0M443.4 526h0M444.6 521.6h0M442.3 527h0M445.5 529.6h0M441.7 527h0M442.3 523.3h0M445.9 528.1h0M447.2 529.1h0M447.6 524.8h0M445.8 525.5h0M445.4 525.7h0M443.2 524.9h0M445.4 525.3h0M444.9 525.9h0M446.6 526.3h0M443.4 525.2h0" stroke="#3a3a3a" stroke-width="0.84" stroke-linecap="round" stroke-opacity="0.5"/>
<path d="M454.1 532.8h0M454.2 523.3h0M452.8 518.1h0M455.4 525.6h0M452.6 526.6h0M453 530.8h0M453.5 515.5h0M453.5 515.3h0M453.7 516.7h0M456.1 533.5h0" stroke="#3a3a3a" stroke-width="0.84" stroke-linecap="round" stroke-opacity="0.5"/>
<path d="M466.3 533.8h0M462.4 524.4h0M463.1 527.8h0M468 523.9h0M464 530.4h0M463 523.5h0M465.4 529.4h0M464.4 530.4h0M463.1 530h0M468.5 535.4h0M468.3 530h0M464.1 532.5h0M465.7 531.9h0M462.2 529.6h0M461.6 534.1h0M462.1 531.8h0M462.4 529.7h0M464.2 529.8h0M464.3 532.1h0M467.1 524.5h0M464.6 525.7h0M463.1 532.2h0M466.4 529.5h0M465 530.4h0M464.6 530.4h0M463.5 526.9h0M467.2 530.1h0M461.2 533.8h0M463.8 529h0M464.5 528.3h0M465.6 530h0M460.3 535.3h0M468.2 523.3h0M465 529.4h0M462.8 523.7h0M462.8 533.9h0M462.9 524.8h0M463.9 530.7h0M463.8 529.8h0M461.8 528.8h0M462.4 533.9h0M466.5 530.4h0M463.7 527.4h0M463.4 529.7h0M467 529.2h0" stroke="#3a3a3a" stroke-width="0.84" stroke-linecap="round" stroke-opacity="0.5"/>
<path d="M472.1 533.8h0M477.2 530.7h0M475 529.4h0M472.8 530.7h0M477.5 528.1h0M475.8 528.7h0M475.6 528.3h0M474.1 532.5h0M473.3 536.9h0M473.1 527.1h0M477.4 525.7h0M476.5 525.7h0M474.2 527.9h0M476.5 532.6h0M476.7 527.6h0M469 525.9h0M471.9 528.6h0M472 531.9h0M474.3 529h0M472.6 528.4h0M475.1 531.4h0M474.7 529.4h0M475.3 532.3h0M473.9 535.4h0M473.7 528.6h0M478.3 528.8h0M476.7 529.5h0M472.4 530.8h0M472.9 535.9h0M472 527h0M474.4 530.4h0M474.9 528.4h0M472.8 532.3h0M473.7 528h0M474.2 534.4h0M478.1 528.2h0M474 530.3h0M472.1 530.1h0M472.3 537.6h0M474.7 531.2h0M472.7 528.3h0M474 536.9h0M475.4 529.8h0M473.8 529.9h0M475.2 529.8h0M472.1 530.8h0M473.6 528.8h0M476.3 529.5h0M472.2 534.5h0M473.5 533.3h0M475.9 533h0M472.9 524.3h0M476.8 534.4h0M474.8 531h0M473.4 525.7h0M474 529.4h0M472.7 529.6h0M473.8 531.4h0M473.6 531.3h0M472.5 528.3h0M475.2 529.5h0M474.2 528.1h0M475.1 533.7h0M470.3 527h0M475 533.8h0M475.1 532.8h0M473.3 530h0M474.2 532.4h0M475 533.7h0M477 530.2h0M475.3 532h0M472.2 534.5h0M472.3 536.3h0M473.7 531.1h0M475.8 526.1h0M475.6 530.9h0M475.2 534.4h0M477.7 529.9h0M474.8 531.2h0M474.5 532.9h0M470.1 530.7h0M474.3 530h0M472.3 528.7h0M473 534.1h0M471.9 525.3h0M475.1 532.2h0M474.4 533h0M475.1 524.5h0M472.4 529.9h0M470.4 525.1h0M476.3 533.6h0M474.8 530.4h0M475.6 528.4h0M471 530.2h0M477.5 530h0M473.4 527.5h0M474.8 529.8h0M473 532.8h0M474.7 533.2h0M471.2 530.1h0M471.7 533.2h0M473.8 533.7h0M473 527.9h0M472 524.6h0M469.1 528.7h0M473.6 535.7h0M473.6 527.6h0M474 528.2h0M470.6 533.6h0M473 528.7h0" stroke="#3a3a3a" stroke-width="0.84" stroke-linecap="round" stroke-opacity="0.5"/>
<path d="M484.3 519.1h0M483.3 522h0M481.8 515h0M483.2 529.1h0M485.2 520.5h0M485.1 514.8h0M486.2 517.5h0M486.1 528.8h0M484.7 516.2h0M483.4 515.2h0M481.6 524.6h0M485.1 522.5h0M482.7 527.6h0M485 520.9h0M483.4 532.9h0M481.2 531.1h0M482.7 529.7h0M481.3 529.5h0M482.1 519.1h0M485.8 518.3h0M484.6 516.1h0M482.1 513.5h0M487.2 520h0M484.1 514.2h0M486.8 516h0M484.8 523.6h0M484.5 530.2h0M485.3 531.6h0M486 531.3h0M483.4 517.7h0M480 516.7h0M481.4 520.5h0M484.4 513.4h0M484.3 532.1h0M482.1 529.2h0" stroke="#3a3a3a" stroke-width="0.84" stroke-linecap="round" stroke-opacity="0.5"/>
<path d="M494.6 523.5h0M494.7 522.2h0M494.2 526.3h0M494.9 529.8h0M494.8 529.9h0M493.5 518h0M493.5 536.2h0M491 531.5h0M492 535.2h0M493.6 522.3h0M492.5 518.5h0M494.2 527.3h0M493.9 523.1h0M491.5 531.5h0M494.4 530.6h0" stroke="#3a3a3a" stroke-width="0.84" stroke-linecap="round" stroke-opacity="0.5"/>
<path d="M501.1 540.8h0M503.3 533.1h0M506.1 540.3h0M505 536.2h0M504.4 521.3h0M499.6 530.5h0M506.2 539.9h0M503.2 534.4h0M502.9 525.9h0M504.6 534.3h0M503.3 532.3h0M502.4 533.8h0M503 537.3h0M501 521.5h0M503.9 540.1h0M506 536h0M502.2 531.2h0M500.4 540.7h0M505.3 532.8h0M505.5 529.5h0M501.4 528.6h0M506.5 541.1h0M503.6 533.2h0M505.1 523.6h0M499.1 533.9h0M503.3 521h0M505.6 521.1h0M501.7 537.3h0M503.9 532h0M502.6 535.9h0M502.2 538.3h0M504.9 532.3h0M504 523.1h0M503.2 523.4h0M503.5 524.6h0M502.2 521.8h0M502.5 536.9h0M503.6 522.6h0M502.9 538h0M502.7 532.9h0M506.4 534.1h0M504.5 525.7h0M505.1 521.5h0M503.9 527.2h0M503.6 528.4h0" stroke="#3a3a3a" stroke-width="0.84" stroke-linecap="round" stroke-opacity="0.5"/>
<path d="M511.3 536.9h0M514.5 533h0M512.9 525.8h0M515.4 539h0M512.7 533.7h0M511.7 534.9h0M516.2 530.7h0M513 536.1h0M510.1 534.5h0M510.5 542.9h0M514.7 534.5h0M513.3 537.4h0M512.2 543.5h0M514.9 531.6h0M511.1 526.6h0M514.6 530.5h0M510.9 538.3h0M513.5 540.8h0M512.5 535.5h0M510.8 530.1h0M512.4 526.6h0M509.2 538.3h0M511.6 541.3h0M510.2 537.3h0M512.9 540h0M513.6 535.4h0M513.1 537.5h0M514.3 541.2h0M512.5 538.7h0M512.7 529.2h0" stroke="#3a3a3a" stroke-width="0.84" stroke-linecap="round" stroke-opacity="0.5"/>
<line x1="429.7" y1="504.3" x2="429.7" y2="546.5" stroke="#231f20" stroke-width="1.1"/>
<line x1="429.2" y1="546" x2="518" y2="546" stroke="#231f20" stroke-width="1.2"/>
<line x1="427" y1="513.2" x2="429.7" y2="513.2" stroke="#231f20" stroke-width="0.9"/>
<line x1="427" y1="523.9" x2="429.7" y2="523.9" stroke="#231f20" stroke-width="0.9"/>
<line x1="427" y1="534.7" x2="429.7" y2="534.7" stroke="#231f20" stroke-width="0.9"/>
<line x1="427" y1="545.4" x2="429.7" y2="545.4" stroke="#231f20" stroke-width="0.9"/>
<line x1="435.2" y1="546" x2="435.2" y2="548.6" stroke="#231f20" stroke-width="0.9"/>
<line x1="444.9" y1="546" x2="444.9" y2="548.6" stroke="#231f20" stroke-width="0.9"/>
<line x1="454.6" y1="546" x2="454.6" y2="548.6" stroke="#231f20" stroke-width="0.9"/>
<line x1="464.3" y1="546" x2="464.3" y2="548.6" stroke="#231f20" stroke-width="0.9"/>
<line x1="474" y1="546" x2="474" y2="548.6" stroke="#231f20" stroke-width="0.9"/>
<line x1="483.7" y1="546" x2="483.7" y2="548.6" stroke="#231f20" stroke-width="0.9"/>
<line x1="493.4" y1="546" x2="493.4" y2="548.6" stroke="#231f20" stroke-width="0.9"/>
<line x1="503.1" y1="546" x2="503.1" y2="548.6" stroke="#231f20" stroke-width="0.9"/>
<line x1="512.8" y1="546" x2="512.8" y2="548.6" stroke="#231f20" stroke-width="0.9"/>
<text x="423.4" y="534.85" font-size="8.6" text-anchor="start" fill="#333" font-style="italic" stroke="#333" stroke-width="0.12" transform="rotate(-90 423.4 534.85)" textLength="18.5" lengthAdjust="spacingAndGlyphs">BATF</text>
<line x1="435.2" y1="554.3" x2="435.2" y2="592.2" stroke="#d2d2d2" stroke-width="0.7"/>
<line x1="444.9" y1="554.3" x2="444.9" y2="592.2" stroke="#d2d2d2" stroke-width="0.7"/>
<line x1="454.6" y1="554.3" x2="454.6" y2="592.2" stroke="#d2d2d2" stroke-width="0.7"/>
<line x1="464.3" y1="554.3" x2="464.3" y2="592.2" stroke="#d2d2d2" stroke-width="0.7"/>
<line x1="474" y1="554.3" x2="474" y2="592.2" stroke="#d2d2d2" stroke-width="0.7"/>
<line x1="483.7" y1="554.3" x2="483.7" y2="592.2" stroke="#d2d2d2" stroke-width="0.7"/>
<line x1="493.4" y1="554.3" x2="493.4" y2="592.2" stroke="#d2d2d2" stroke-width="0.7"/>
<line x1="503.1" y1="554.3" x2="503.1" y2="592.2" stroke="#d2d2d2" stroke-width="0.7"/>
<line x1="512.8" y1="554.3" x2="512.8" y2="592.2" stroke="#d2d2d2" stroke-width="0.7"/>
<path d="M435.2,592.2Q431.3,592.1 432.1,591.1Q433,590.2 433.9,588.7Q434.9,587.3 434.8,585.7Q434.6,584 434.2,581Q433.9,577.9 433.9,572.8Q433.8,567.7 434.1,564.6Q434.5,561.5 434.8,559.5Q435.1,557.4 435.1,557.4L435.2,557.4Z" fill="#cc1428" stroke="none" stroke-width="1"/>
<path d="M435.2,592.2Q439.1,592.1 438.3,591.1Q437.4,590.2 436.5,588.7Q435.5,587.3 435.8,585.7Q436,584 436.4,581Q436.7,577.9 436.5,573.8Q436.3,569.7 435.9,566.6Q435.4,563.6 435.3,563.6L435.2,563.6Z" fill="#1a1ad0" stroke="none" stroke-width="1"/>
<path d="M444.9,592.2Q441.1,592.1 441.9,591.1Q442.8,590.2 443.7,588.7Q444.6,587.3 444.5,583.6Q444.4,579.9 444.5,571.8Q444.6,563.6 444.7,561.5Q444.8,559.5 444.9,559.5L444.9,559.5Z" fill="#cc1428" stroke="none" stroke-width="1"/>
<path d="M444.9,592.2Q448.7,592.1 447.9,591.1Q447,590.2 446.1,588.7Q445.2,587.3 445.3,583.6Q445.4,579.9 445.3,573.8Q445.2,567.7 445.1,565.6Q444.9,563.6 444.9,563.6L444.9,563.6Z" fill="#1a1ad0" stroke="none" stroke-width="1"/>
<path d="M454.6,592.2Q450.6,592.1 451.4,591.1Q452.3,590.2 453.3,588.7Q454.3,587.3 453.6,585.7Q453,584 452.6,581Q452.2,577.9 451.9,574.8Q451.6,571.8 451.9,568.1Q452.2,564.4 452.9,561.5Q453.7,558.7 454.1,557Q454.5,555.4 454.5,555.4L454.6,555.4Z" fill="#cc1428" stroke="none" stroke-width="1"/>
<path d="M454.6,592.2Q458.6,592.1 457.7,591.1Q456.9,590.2 455.9,588.7Q454.9,587.3 455.9,585.7Q457,584 457.5,581.6Q458,579.1 457.7,576.5Q457.4,573.8 456.6,570.7Q455.8,567.7 455.2,566Q454.7,564.4 454.6,564.4L454.6,564.4Z" fill="#1a1ad0" stroke="none" stroke-width="1"/>
<path d="M464.3,592.2Q460.5,592.1 461.3,591.1Q462.2,590.2 463.1,588.7Q464,587.3 464,581.6Q463.9,575.8 464.1,569.7Q464.2,563.6 464.2,563.6L464.3,563.6Z" fill="#cc1428" stroke="none" stroke-width="1"/>
<path d="M464.3,592.2Q468.1,592.1 467.3,591.1Q466.4,590.2 465.5,588.7Q464.6,587.3 465.4,585.7Q466.1,584 466.7,581Q467.3,577.9 467,574.8Q466.7,571.8 465.9,568.7Q465.2,565.6 464.8,563.8Q464.4,561.9 464.4,561.9L464.3,561.9Z" fill="#1a1ad0" stroke="none" stroke-width="1"/>
<path d="M474,592.2Q470.6,592.1 471.3,591.1Q472.1,590.2 472.9,588.7Q473.7,587.3 473.6,581.6Q473.6,575.8 473.8,569.7Q473.9,563.6 473.9,563.6L474,563.6Z" fill="#cc1428" stroke="none" stroke-width="1"/>
<path d="M474,592.2Q477.4,592.1 476.7,591.1Q475.9,590.2 475.1,588.7Q474.3,587.3 474.9,585.7Q475.5,584 476.1,581Q476.8,577.9 476.4,574.8Q476,571.8 475.1,569.3Q474.3,566.8 474.1,566.8L474,566.8Z" fill="#1a1ad0" stroke="none" stroke-width="1"/>
<path d="M483.7,592.2Q479.7,592.1 480.6,591.1Q481.4,590.2 482.4,588.7Q483.4,587.3 482.8,585.7Q482.1,584 481.4,581Q480.7,577.9 480.4,574.8Q480.1,571.8 480.4,568.1Q480.7,564.4 481.4,561.5Q482.1,558.7 482.8,557Q483.5,555.4 483.6,555.4L483.7,555.4Z" fill="#cc1428" stroke="none" stroke-width="1"/>
<path d="M483.7,592.2Q487.7,592.1 486.8,591.1Q486,590.2 485,588.7Q484,587.3 485,585.7Q486.1,584 486.9,580.3Q487.7,576.7 487.4,574.2Q487.1,571.8 486.3,569.3Q485.5,566.8 484.7,565.2Q483.9,563.6 483.8,563.6L483.7,563.6Z" fill="#1a1ad0" stroke="none" stroke-width="1"/>
<path d="M493.4,592.2Q489.8,592 490.2,590.7Q490.6,589.3 490.7,587.1Q490.8,584.8 490.4,580.3Q490,575.8 489.9,571.8Q489.9,567.7 490.5,564Q491.2,560.3 492.1,558.7Q493.1,557 493.2,557L493.4,557Z" fill="#cc1428" stroke="none" stroke-width="1"/>
<path d="M493.4,592.2Q497,592 496.6,590.7Q496.2,589.3 496.5,586.7Q496.8,584 497.4,579.9Q498,575.8 497.5,571.8Q497,567.7 495.9,564Q494.8,560.3 494.1,558.9Q493.5,557.4 493.4,557.4L493.4,557.4Z" fill="#1a1ad0" stroke="none" stroke-width="1"/>
<path d="M503.1,592.2Q501.7,592 502.1,590.1Q502.5,588.1 502.6,579.9Q502.7,571.8 502.8,569.7Q503,567.7 503,567.7L503.1,567.7Z" fill="#cc1428" stroke="none" stroke-width="1"/>
<path d="M503.1,592.2Q506.1,592 505.9,590.5Q505.7,588.9 506,586.1Q506.3,583.2 506.3,580.5Q506.4,577.9 505.5,575.2Q504.7,572.6 503.9,570.9Q503.2,569.3 503.1,569.3L503.1,569.3Z" fill="#1a1ad0" stroke="none" stroke-width="1"/>
<path d="M512.8,592.2Q512.2,592 512.4,588Q512.6,584 512.7,584L512.8,584Z" fill="#cc1428" stroke="none" stroke-width="1"/>
<path d="M512.8,592.2Q513.4,592 513.2,588Q513,584 512.9,584L512.8,584Z" fill="#1a1ad0" stroke="none" stroke-width="1"/>
<path d="M434 564.7h0M433.6 568.4h0M436.6 575.4h0M436.4 575.1h0M434.1 563.4h0M435.5 576.7h0M435.6 566.3h0M435.6 569.6h0M435.2 564.8h0M435.5 570.8h0M434.9 569.1h0M434.8 577.8h0M433.2 568.7h0M435.9 575.9h0M435 578.8h0M435.7 567.3h0M435.5 571.5h0M437.1 568h0M433.7 578.7h0M435.6 568.1h0M434.6 566h0M435.2 575.2h0M435.3 566h0M436.6 570.4h0M434.2 577.1h0M434.9 575.9h0M434.8 578.3h0M435.7 572.1h0M434.7 568.5h0M434.4 577.4h0M434.6 570.9h0M433.7 569.4h0M435.9 563.1h0M436.1 570.8h0M436.7 570.1h0M434.1 567.7h0M435.8 572.2h0M432.4 574.5h0M435.1 577.9h0M436.6 563.6h0" stroke="#111" stroke-width="1" stroke-linecap="round" stroke-opacity="0.7"/>
<path d="M443.1 576.6h0M445.2 580.6h0M442.6 576.2h0M449.3 578.7h0M443.1 567.7h0M443.6 577.7h0M447.4 569.4h0M445.3 568.7h0M446.7 573h0M446 567.7h0M445.3 565.5h0M446.2 567.2h0M443.8 556.2h0M445.1 580.6h0M447.5 559.2h0M445.4 575.4h0M444.6 566.6h0M444.5 582.7h0M442 579.1h0M442.9 569.5h0M446.3 560.8h0M446.3 582h0M444.9 575.8h0M440.8 576.5h0M445.7 580.1h0M442.3 574.4h0M444.9 569.1h0M445.9 567.2h0M446.9 558.8h0M443.7 565.3h0M447.5 573.6h0M445 569.2h0M443.6 576.2h0M442.7 556.9h0M448 576.8h0M445.8 576.2h0M442.5 580.2h0M441.4 584h0M447.1 574.8h0M446.3 577.5h0M444.7 578h0M442 565.9h0M444.8 579.3h0M444.9 561.3h0M442.1 582.7h0M446.3 573h0M442.2 564.8h0M444.9 567.1h0M445.3 566.9h0M442.9 569.2h0M445.8 573h0M443 571.5h0M444.6 582.2h0M445.2 562.4h0M445 580.9h0M446.1 579.9h0M444.8 572.8h0M441.5 561.4h0M441.6 562.9h0M445.6 578.1h0M445.6 573h0M445.5 568.8h0M445.5 575.5h0M448 572.6h0M446 576.1h0M445.2 566.4h0M447.3 563.6h0M442 558.4h0M441.7 560.7h0M446.7 558h0M445.7 571h0M443.7 567.7h0M441.7 579.4h0M446.9 573.7h0M445.8 568h0M446 568.6h0M447.1 567.6h0M445 559.5h0M444.6 570h0M444.9 570h0M440.4 561.7h0M447 570.5h0M445.8 575h0M445.5 567.2h0M445.2 574.9h0M445.4 573.5h0M447.2 564.6h0M443.4 567.3h0M449.3 574.9h0M443.9 580.4h0M444.8 557h0M442.1 582.8h0M445.7 572.2h0M447.2 568.5h0M444.7 568.6h0M446.2 569.7h0M442.5 573.5h0M444.2 562h0M446.3 570.4h0M443.7 568.9h0M445.5 570.7h0M444.6 573h0M446.8 569.2h0M444.8 581.2h0M445.7 578.6h0M443.7 572.1h0M446 570.6h0M443.1 574.6h0M442.2 575.7h0M447.2 569.1h0M447.5 582h0M443.9 574.6h0M443.5 583h0M444.2 571h0M442.1 559.2h0M446.1 559.1h0M444.3 566.8h0M444 573.1h0M447.2 556.3h0M444 554.7h0M442.1 571.9h0M446 572.3h0M444.2 567.2h0M443.6 575.6h0M444.7 570.6h0M445.6 564.6h0M444.9 578.2h0M443.1 564.8h0M446.9 575.3h0M444.7 570.4h0M447 572.6h0M444.3 577.5h0M446.7 571.4h0M444.9 558.5h0M447.7 569.9h0M444.8 559.4h0M445.9 576.5h0M446.1 568.3h0M446.4 564.8h0M445 559h0M447.6 562.5h0M443.6 575h0M444.8 573.5h0M446 566.3h0M446.8 570h0M444.1 562.1h0M446.5 573.9h0M442.4 578.2h0M445.1 575.3h0M444.9 571.2h0M445.1 571.2h0M446.6 566.8h0M443.7 572.2h0M441.6 580.5h0M442.8 569.7h0M444.5 565.5h0M442.8 573.6h0M444.8 570.4h0M441.6 576.3h0M442.7 573h0M443.6 574.8h0M445.3 578.3h0M441.9 580.1h0M448.1 569.7h0M443.5 565h0M444.8 571.7h0M445.5 568.9h0M444.1 572.8h0M445.1 578.2h0M446.9 571h0M445.1 577.4h0M442.5 575.7h0M444.2 579.9h0M447.8 566h0M445.7 574.3h0M442.3 573.2h0M442.6 556.8h0M444.4 563.1h0M443.2 565.7h0M443.7 571.7h0M444.5 579.5h0M447.4 570.2h0M446.4 573.7h0M444.8 555.9h0M442.4 570.5h0M441.6 569.4h0M445.1 578.5h0M446.4 555.8h0M441.5 580.5h0M447.4 561.8h0M442.8 571h0M447.5 565.2h0M441.9 569.5h0M443 575.2h0M444.5 567.6h0M445.2 568.7h0M443.5 575.9h0M443.8 563.2h0M442.1 570h0M446.5 572h0M445.6 569.7h0M440.8 570.4h0M446.3 571.7h0M447.2 569.9h0M446.8 567.7h0M442.2 565h0M446 568.6h0M443.3 582.7h0M446.8 571.5h0M444.9 562.9h0M447 560.1h0M448.1 571.6h0M447.1 577.5h0M446.5 572.2h0M443.5 569.2h0M445.5 570h0M443.6 571.1h0M445.7 568.9h0M441.2 565.7h0M444.3 568.7h0M445.2 571h0M445 572.3h0M445.1 574.1h0M445.8 567.5h0M445.6 562.5h0M445.3 567h0M444.4 572.1h0M444.5 556.4h0M446.1 573.1h0M445 577.4h0M445.7 570h0M447.4 557.5h0M444 571.2h0M446.4 570.6h0M444.6 559.4h0M446.7 562.6h0M445.8 557.3h0M443.6 582.9h0M445.2 568.1h0M444.7 565.9h0M447.5 566.4h0M445.8 569.8h0M448.8 565.9h0M443.1 572.7h0M445.7 571.3h0M443.6 560.3h0M445.6 575.1h0M447.4 569.5h0M447.3 570.5h0M446.3 573h0M441.1 569.2h0M446.7 571.2h0M444 556.6h0M445.9 566.7h0M444 579.3h0M444.3 570.3h0M445.3 575.8h0M445 573.5h0M441.5 576.6h0M446.5 577.6h0M444 572h0M443.3 566.1h0M445.9 579.9h0M443.1 562.3h0M446.4 572.2h0M441.7 564.7h0M445.5 576.3h0M446.3 566.7h0M444.6 565h0M442.3 555h0M442.9 571.6h0M448 565.8h0M444.9 563.2h0M444.1 577.9h0M444.7 572.9h0M446 576.3h0M441.1 572.6h0M443.7 571.5h0M444.9 563.5h0M445.5 571.4h0M441.7 577.3h0M443 571.2h0M442.6 573.8h0M443.9 566.2h0M442.9 575.8h0M447.5 572.5h0M445.1 568.8h0M442.6 574.5h0M443.5 570h0M442.3 571.7h0M444.6 570.9h0M442.1 565.4h0M442.9 569.6h0M443.1 574.4h0M441.8 574h0M446.8 566.5h0M444.1 570.1h0M444.3 566.3h0M445 573.8h0M447.3 578.4h0M444.1 558h0M443.1 557.4h0M447.2 570.5h0M445.9 566.6h0M446.3 582.6h0M445.8 574.4h0M445.9 566.1h0M442.2 574.7h0M443.4 567.1h0M445.4 567.4h0M447.1 573.7h0M446.8 578.7h0M442.8 563.4h0M446.8 565.4h0M444.6 570.2h0M447.3 570.4h0M444.5 558.2h0M447.5 569.1h0M445.3 579.1h0M444.2 574.5h0M444.4 576.7h0M446.6 579.8h0M446.1 573.7h0M446.2 573.4h0M444.4 555.3h0M445.6 574.7h0M446.2 568.5h0M444.6 565.4h0M446.3 568.1h0M443.6 568.3h0M444.6 576.2h0M446.5 556.2h0M444.1 570.1h0M443 570.4h0M444.4 573.2h0M444.3 563.2h0M443.5 571.2h0M446.8 569.4h0M445 556h0M444.1 566h0M447.3 574.3h0M445.8 556h0M445.9 571.2h0M446 577.3h0M446.7 569.5h0M446.1 565.4h0M446.2 565.8h0M441.8 562.6h0M442.7 576.1h0M446.5 569.5h0M443.5 565.4h0M447.1 570.2h0M444.9 577.2h0M441.4 567h0M447.6 575.8h0M444.9 574.7h0M445.9 565.2h0M442.9 557.6h0M443.9 574.5h0M443.8 572.8h0M446.2 571.7h0M445.1 577.8h0M444.3 564.8h0M442.4 566.5h0M442.7 579h0M444.1 576.8h0M444.4 569.3h0M442.2 576.4h0M446.8 571.5h0M446.7 560.7h0M445.9 565.5h0M449 577.9h0M448.3 572.3h0M444.9 564.5h0M445.9 578.9h0M447.7 558.9h0M448.5 564.9h0M446.4 561h0M441 571.1h0M445.8 580h0M445.5 563.1h0M447.9 579.7h0M443.7 567.2h0M445.3 561h0M442.4 571.4h0M444 571.5h0M447.4 560.4h0M442.1 576.1h0M442.3 562.8h0M443.7 575.1h0M443.9 581h0M444.9 557.9h0M446.2 563h0M445.5 563.7h0M442.6 561.5h0M440.5 573.4h0M443.5 576.2h0M442.4 565.9h0M445.2 566.4h0M442.5 575.3h0M445.7 573h0M443.3 554.7h0M445.8 559h0M446.8 573.7h0M446.6 570.5h0M446.8 567.6h0M442.7 561h0M445 575.9h0M442.6 571.5h0M443.7 561.9h0M445.9 579.6h0M446.9 582.9h0M446.6 573.7h0M445.3 579h0M444.6 571.2h0M442.2 568.9h0M445.2 572.9h0M446.3 562.4h0M445.9 569.1h0M447.7 561.9h0M446.8 564.5h0M448.1 575.1h0M443.5 572.2h0M444.9 569.2h0M446.8 557.9h0M443.9 571.8h0M445.5 567.2h0M445.4 571.6h0M446 562.2h0M445.3 568.3h0M447.1 568.5h0M440.6 581.6h0M441.5 569.5h0M445.9 569.6h0M445.7 557.9h0M441 578.2h0M446.1 572.1h0M446.8 577.2h0M446 580.3h0M445.1 563.1h0M444.3 574.1h0M445.6 561h0M446.3 577.9h0M445.5 571.7h0M445.3 563.9h0M441.7 575.4h0M449.1 579.5h0M442.8 565.1h0M444.8 565.5h0M448.4 578h0M446.8 561.6h0M444.1 572.2h0M446.5 574.9h0M445.7 567h0M446.3 569.8h0M445.5 558.6h0M443.8 567.7h0M445.8 577h0M444.8 572.3h0M441.7 574h0M447.2 581.7h0M445.8 569h0M441.9 573.9h0M446.7 574.3h0M443.8 555.3h0M442.1 569.1h0M443.7 573.6h0M446.2 576.1h0M448.3 579.8h0M446.3 575.4h0M442.2 569.2h0M444.2 568.1h0M442.5 573.8h0M442 578.2h0M446.2 571.2h0M446.9 560.1h0M446.5 560.3h0M446.9 572.4h0M444.5 565.1h0M446.1 577.9h0M443.4 578.1h0M443.9 577h0M444.6 580.5h0M444.5 558.7h0M447.3 570.5h0M444.8 570.6h0M442.5 572.8h0M443.5 568h0M448 568.8h0M441.6 572.2h0M443.9 576.5h0M441.2 568.4h0M445.3 566.3h0M445.5 575.9h0M442.6 570.7h0M442.4 578.3h0M447.3 571.4h0M446.4 576.5h0M447.5 564.8h0M441.6 579.5h0M444.7 572.3h0M443.5 572.2h0M447.5 571.8h0M442.5 556.4h0M443.4 579.9h0M444.8 567.3h0M445.2 570.9h0M446.9 571.9h0M444.4 580.2h0M446.2 568.1h0M442.9 571.1h0M445.8 580.8h0M444.1 568.4h0M448.4 575.3h0M446.9 567.2h0M446.2 567.4h0M445.3 573.1h0M443.4 569.6h0M447.3 567.9h0M446.9 578.1h0" stroke="#111" stroke-width="1" stroke-linecap="round" stroke-opacity="0.7"/>
<path d="M456.5 573.3h0M455.6 563.3h0M452.8 578.7h0M457.2 568.5h0M455.4 570.8h0M455.5 566.7h0M452.5 559.3h0M453.8 578.4h0M455.8 578.6h0M457.3 578.1h0M452.9 576.9h0M455.5 578.1h0M454.5 573.1h0M454.7 574.9h0M455 569.5h0M456.2 562.5h0M455.4 577h0M457.1 562.2h0M452.9 567.9h0M454.5 576.7h0M454 562.5h0M455.6 573.2h0M453.8 563.3h0M454.7 568.8h0M456.3 570.2h0M452.8 576.4h0M454.1 564.2h0M453.9 572.3h0M453.9 568.2h0M454.8 574.5h0" stroke="#111" stroke-width="1" stroke-linecap="round" stroke-opacity="0.7"/>
<path d="M465.6 574.6h0M464.4 570.2h0M465.6 575.8h0M466.3 578.6h0M462.1 560h0M466.7 572.9h0M465.7 559.7h0M465 566.8h0M466.4 575.2h0M466.5 562.9h0M460.6 567.4h0M463.9 578.1h0M463.7 566.1h0M465 576.5h0M467 569.9h0M462 569h0M460.6 575.2h0M462.7 564.7h0M461.5 575.8h0M462.5 572.9h0M467.4 583h0M462.2 572.1h0M463.2 570.3h0M460.8 571.6h0M463.7 576.8h0M463.1 569.8h0M468.2 573.1h0M464.6 562.7h0M465.3 571.1h0M464.5 577.3h0M464.6 578.3h0M466.1 571.7h0M466.7 573.2h0M465.1 569.9h0M466.7 574.9h0M466.4 569.6h0M462.4 562.8h0M464.6 576.1h0M463.6 568.6h0M464.1 576.4h0M464.4 574.5h0M466 575.7h0M466.8 582.7h0M463 581.2h0M464 562.4h0M464.7 569.9h0M462.6 579.2h0M467.3 563h0M466.9 572.2h0M465.1 564.1h0M462.9 559.5h0M468.6 562.6h0M462.1 564.7h0M466.1 567.6h0M466.2 574.7h0M461.8 576.8h0M466.4 575.8h0M464.5 572.9h0M465.2 583.8h0M461.3 579.7h0M466.8 578.8h0M461.6 565.4h0M465.3 567.9h0M466.1 567h0M467.3 573.1h0M461.2 565.7h0M467.1 568.6h0M462.4 569.3h0M463.8 581.2h0M463.9 572.7h0M462.4 578.9h0M463.4 571h0M465.3 573.7h0M464.6 572.2h0M468.6 569.8h0M465.4 574.7h0M464.9 576.8h0M463.5 566.1h0M466.4 577.7h0M462.1 566.7h0M463.6 576.2h0M462.9 583.9h0M463.3 578.1h0M464.3 576.6h0M468.1 568.8h0M466.1 577.4h0M462.7 564.4h0M464.4 572.9h0M466.6 578.7h0M460.8 571.8h0M465.2 561.1h0M463.2 577h0M465.5 574h0M465.3 575.3h0M462.3 574.6h0M461.8 580.3h0M463.3 574.7h0M464.1 573h0M463.4 558.2h0M467.9 574.9h0M466.6 582.7h0M466 583.2h0M462.9 566.5h0M463.1 571.4h0M464.3 564.4h0M462.7 576.1h0M464.9 557.9h0M465.9 572.7h0M465.4 565.7h0M461.3 558.9h0M462.1 564.6h0M465.4 575.8h0M464.6 573h0M462.9 569.3h0M465.2 562.6h0M462.7 571.6h0M464.9 569.3h0M461.3 570.1h0M463.2 575.5h0M465.9 572.2h0M465.2 560.5h0M465.2 572.2h0M460 568h0M465.2 577.6h0M463.7 574.4h0M467.2 568.6h0M461.9 579h0M463.6 567.8h0M464.9 576.7h0M464.4 579.5h0M464 567.5h0M465 568.9h0M464.9 569.8h0M462.9 576h0M465.1 570.9h0M465.4 560h0M462.5 571.5h0M468.5 571.9h0M463.5 564.3h0M467.9 581.4h0M462.6 572.3h0M463.2 557.9h0M460.5 580.3h0M466.5 573h0M463.5 576.4h0M467.9 557.5h0M462.3 568.7h0M465.1 571.6h0M464.7 573.8h0M465.1 572.8h0M462.8 575.8h0M462 560.7h0M463.3 574.8h0M466.1 576.9h0M464.2 571.8h0M466.8 577.5h0M461 565.3h0M463.3 572.3h0M464.5 568h0M463.7 573.6h0M462.5 575.9h0M467.6 570.4h0M460.3 559.2h0M466.3 581.5h0M463.4 577.1h0M467.9 573.2h0M462.8 569.9h0M462.7 564.4h0M463.4 573.7h0M466.9 579.8h0" stroke="#111" stroke-width="1" stroke-linecap="round" stroke-opacity="0.7"/>
<path d="M475.3 578.1h0M473.8 578.6h0M470.1 572.4h0M473 566.8h0M472.7 576.7h0M472.6 585.3h0M472.4 569.7h0M472.9 572.6h0M472.1 578.6h0M477 574.2h0M472.1 579.6h0M473.7 570.5h0M474.2 572.5h0M475.1 573.9h0M472.8 569.5h0M473.4 578.6h0M473.5 565h0M477 574.6h0M471.8 573.3h0M472.7 573.2h0M473.1 567.9h0M474.8 573.3h0M475.7 580h0M474.9 571.3h0M471.2 567.7h0M475 578.6h0M472.6 578.5h0M473.7 575.8h0M474.2 566.5h0M470.3 578h0M476.1 578.8h0M476.5 578.5h0M475.3 572.3h0M473.3 580.3h0M471.3 571.4h0M474.8 573.9h0M471.7 580h0M470.9 568.2h0M474.8 572.9h0M470.9 584.2h0M474.9 580.4h0M476 572.2h0M476.4 581.9h0M472.9 574.6h0M471.7 564.3h0M476.5 584.3h0M473.1 576.3h0M475.5 577.2h0M472.5 558.3h0M471.5 559.3h0M474.4 580.7h0M471.6 579.7h0M471.9 584h0M477.4 566.3h0M478.5 580.2h0M475.2 578.1h0M474 567.7h0M473.6 576.2h0M474.9 572.1h0M475.1 570.7h0M472.4 557.8h0M474.6 582.8h0M473.2 573.6h0M473.3 576.3h0M469.5 564.7h0M475.4 577.8h0M474.8 579.9h0M473.8 579.9h0M474.4 576.3h0M473.1 570.2h0M474.4 581.5h0M471.3 566.8h0M471.8 585.3h0M471.4 580.3h0M473.1 557.9h0M471.2 579.3h0M474.3 575.9h0M473.7 578h0M472.5 572.6h0M469.3 566.5h0M472.7 581.3h0M475.7 579h0M474.8 571.6h0M477.3 560.5h0M473.6 585.2h0M471.8 562.1h0M475.9 569.6h0M474.7 577h0M476.9 576.7h0M477.3 561.8h0M474.4 585.4h0M475.8 575.3h0M475.6 579.9h0M473.3 573.5h0M472.4 580.3h0M471.2 570.7h0M478.4 574.5h0M474 569h0M472.1 582h0M474.5 564.3h0M474.4 571.7h0M473 563.3h0M474.4 582.8h0M474.6 576.9h0M472.7 557.8h0M475.9 584h0M472.9 557.9h0M476.5 579.9h0M473.4 580h0M474.4 578.5h0M473.3 573.4h0M469.7 559.9h0M474.7 578.9h0M478.2 582.7h0M477.2 574.1h0M473.3 583.4h0M475.6 575.3h0M474.3 580.4h0M475 578.3h0M472.5 573.2h0M473.3 579.2h0M474.6 580.8h0M475 579.7h0M476.3 578.7h0M473.4 570.7h0M473.8 579.3h0M470.4 578.7h0M476.1 585.9h0M472.7 567.1h0M472.3 567.4h0M476 581.9h0M472.8 579.4h0M475.1 578.2h0M472.1 576.7h0M473.5 578.1h0M473.1 567h0M476.1 574.8h0M475 575.7h0M478.1 573.8h0M472.6 579.8h0M473.9 582.1h0M476.9 572.2h0M471 573.4h0M474.2 565.7h0M471.6 578.7h0M473.3 561.7h0M475.7 583.9h0M476.7 577.6h0M472.6 576.4h0M472.9 575.5h0M471.1 576.6h0M472 585.2h0M475.6 571.8h0M475.8 572.2h0M474.4 568.4h0M475.7 558.6h0M472.4 580.8h0M475.9 563.6h0M475.3 581.7h0M472.3 560.1h0M472.4 585.9h0M473.1 560h0M471.6 580h0M470.1 563.2h0M471.4 564h0M477.7 564.3h0M475.3 579h0M476.1 565h0M476.3 580.6h0M472.4 580h0M477.5 569.4h0M478.5 577h0M474 579.8h0M473.7 583.5h0M473.1 573h0M477.2 575.3h0M476.4 571.8h0M475.8 576.2h0M476.1 567.9h0M473 581.4h0M477.1 584h0M471 579h0M476.4 570.6h0M474 573.9h0M473 580h0M477 578h0M473.8 574.1h0M474.3 575h0M476.6 564.9h0M474.7 578.5h0M474.1 564.9h0M475.4 578.4h0M476.1 570.2h0M475.4 562.2h0M478.9 557.5h0M473.8 571.8h0M471.3 558.6h0M477.4 566.6h0M476.8 570.1h0M471 564.9h0M472.7 579.5h0M470.3 569h0M476.4 567.9h0M471.8 578.1h0M475.1 575.4h0M476.1 568.8h0M476.3 570.2h0M473.7 585.1h0M470.9 559.8h0M475.8 563.3h0M478.2 564.6h0M475.9 574.6h0M471.5 578.8h0M473.1 563.5h0M477.7 568h0M475.6 575.9h0M472.3 576.9h0M473.2 569.1h0M474.8 573.7h0M474.7 585.3h0M472.9 579h0M476.2 578.5h0M475 577.5h0M472.3 570.2h0M475.3 562.7h0M474.1 572h0M472.9 572.6h0M471.1 572.7h0M477.8 575.7h0M476.7 574.7h0M472 578.3h0M478.1 575.2h0M473.2 574.9h0M470.6 571.3h0M474.2 572.3h0M474.5 583.2h0M472.9 573.4h0M474.6 585.7h0M477 571.4h0M472.9 573.7h0M476.1 578.9h0M473.4 581.8h0M476.7 575.4h0M476.1 574.5h0M474.1 577.4h0M473.7 579.8h0M475.6 579.8h0M471.8 573.8h0M473.8 574.9h0M474.3 561.2h0M473.8 567.3h0M476.8 577.6h0M475.4 572h0M477.6 582.1h0M471.5 562.1h0M473.9 584.3h0M473 580.2h0M474.2 567.9h0M471.3 574h0M477.9 571.4h0M472.7 570.6h0M471.4 577.4h0M473.4 580.1h0M474.2 580.7h0M472.9 563.6h0M475.4 571.6h0M474.2 558.3h0M477.3 558.2h0M475.1 578.5h0M472.9 569.1h0M475.8 583.7h0M470.8 577.1h0M472.7 577.9h0M474.7 573.8h0M475.5 563.8h0M475 579.1h0M477.3 571.6h0M474.9 571.3h0M475.9 579.3h0M474.9 571.5h0M475.6 574.2h0M473.8 584.3h0M474 560.4h0M473.2 564.1h0M474.2 573.1h0M473.1 581.1h0M472.3 572.5h0M473.2 578.2h0M477.3 573h0M475 574.8h0M472.6 566.7h0M476.4 573.8h0M471.6 577.8h0M475.1 581.9h0M469.4 576h0M473.8 570.3h0M471.9 582.6h0M474.4 573.7h0M475.6 559.5h0M473.9 570.7h0M471.1 572.7h0M472.5 574.1h0M473.7 568h0M471.8 571.7h0M473.8 565h0M472.1 564.8h0M474.8 564.8h0M477.7 578.5h0M475.4 566.1h0M475.7 571.9h0M476.6 574.8h0M472.1 580.2h0M474 579.8h0M477 568h0M473.4 574.5h0M475.6 576.7h0M477.3 578h0M473.9 581.7h0M474.4 578.6h0M477.7 581.9h0M475.4 576.1h0M472.2 575h0M477.2 567.4h0M472.1 575.4h0M475.2 574h0M470.7 568.8h0M475.4 577.6h0M471.1 575.8h0M472.8 580.8h0M473.4 578h0M473.4 574.2h0M476 582.6h0M473.4 580.7h0M475.3 573.3h0M474.6 557.7h0M475 557.5h0M473.4 568.8h0M476.6 573.8h0M475.1 569.9h0M478.3 571.4h0M473.8 569h0M476.6 579.4h0M472.8 559.8h0M472.2 577.1h0M475.9 577.8h0M478.3 574.5h0M471.2 578.2h0M472.3 581.3h0M473.6 578.5h0M476 577.4h0M474.6 574.6h0M478.4 575.8h0M474.5 581.7h0M474.5 571.8h0M477.8 581.1h0M471.6 579.8h0M475.3 564.4h0M474.8 573.3h0M474.6 565.2h0M476.3 582.5h0M474.8 579.2h0M469.5 578.9h0M473.8 582.5h0M475.3 572.4h0M475.4 577.9h0M475.8 572.1h0M473.9 580.6h0M477.2 578.4h0M475.4 581.4h0M470.1 573.1h0M474 580.4h0M473 577h0M476.1 574.9h0M478.4 578.5h0M477.2 577h0M476.3 569.7h0M471.9 581.7h0M472.4 577.2h0M477.3 575.5h0M471.7 570.6h0M473.9 584.9h0M477.2 578.1h0M473.7 569.3h0M472.1 573.1h0M471.9 585.3h0M475.7 568.6h0M474.2 561.4h0M471.8 583h0M472 567.8h0M472.5 574.8h0M473.1 579h0M471.7 580h0M472.2 582.1h0M475.7 572.6h0M474 573.5h0M471 566.7h0M471.1 562.1h0M473.3 568.6h0M478 584.7h0M475.7 572.6h0M473.1 577h0M473 578.4h0M473 578.6h0M473.3 577.4h0M471.3 558.2h0M474 582.1h0M478.2 565h0M473.9 564.7h0M474.7 579.9h0M475.2 570.3h0M472.6 581.1h0M475.7 564.2h0M473.7 571.9h0M473.4 570.2h0M474.7 581.3h0M472.9 583h0M472.1 578.3h0M472.3 579.6h0M473.2 571.4h0M474.2 578.9h0" stroke="#111" stroke-width="1" stroke-linecap="round" stroke-opacity="0.7"/>
<path d="M482.9 562.5h0M481.9 565.7h0M484.8 572.3h0M483.4 573.2h0M482 570.7h0M481.6 571.7h0M481.4 563.4h0M481.8 575.3h0M484.4 572.2h0M480.5 560.6h0M485.9 565.7h0M484.2 570.9h0M483.2 568.7h0M485.9 568.4h0M485.5 569.7h0M484.2 556.6h0M483.4 571.8h0M483.3 562.2h0M482.3 569h0M485.4 555.7h0M482.9 561.5h0M482.5 556h0M482 556.7h0M481.7 563.9h0M479.8 574.7h0M485.2 573.6h0M484.3 556h0M481.9 561.2h0M485.8 566.8h0M481.1 565.9h0M487.4 560.6h0M480.1 574.6h0M480.7 568h0M486.1 573.2h0M484.5 568.2h0M482.8 564.6h0M481.7 563.4h0M481.5 563.6h0M482.7 571.5h0M481.6 570.3h0M485.1 557.8h0M483.1 571.3h0M483.2 559.4h0M485.5 574.4h0M483 569.5h0M485.1 568.8h0M484.9 571.5h0M480 575.2h0M484.4 560.3h0M485.3 564.7h0M485.2 570.6h0M484.7 566.4h0M482.8 564.9h0M483 566.3h0M484 557.1h0M484.5 557.6h0M487.6 566.5h0M483.5 558.3h0M484.3 555.6h0M485.1 568.5h0M484.1 569h0M485.3 558.8h0M483.4 573.3h0M486 573.4h0M483.5 573.2h0M480.9 569.5h0M483.5 564.9h0M480.1 560h0M485 561.8h0M485.1 563.4h0" stroke="#111" stroke-width="1" stroke-linecap="round" stroke-opacity="0.7"/>
<path d="M494.2 567.2h0M495 557.5h0M491.7 560.6h0M494 569.5h0M493.5 564.4h0M494.1 567h0M493.4 561.6h0M494.5 566.7h0M495.9 558.3h0M492.7 563.9h0M493.5 561.9h0M495.5 559.5h0M491.6 558.6h0M494 568.6h0M493.1 567.9h0M492.9 562.8h0M491.3 561.7h0M493 560.1h0M493.7 567.1h0M493.1 562.3h0M491.9 562.7h0M492.1 557.8h0M492.3 565.1h0M490.6 570.1h0M496.3 563.4h0" stroke="#111" stroke-width="1" stroke-linecap="round" stroke-opacity="0.7"/>
<path d="M502.2 576.6h0M501.7 577h0M500.5 581.1h0M502.7 569.8h0M498.7 570.5h0M503.3 578.1h0M503.4 578.8h0M502.9 573.5h0M504.3 576.4h0M503.6 583.4h0M505.7 571.3h0M502.3 579.1h0M501.3 583.2h0M501.1 569.8h0M500.5 570.8h0M504.3 575.6h0M503.6 575h0M506.7 572.6h0M503.9 567.4h0M505 573.7h0M501.4 570.7h0M499.4 585.5h0M502.3 569.9h0M502.5 567.2h0M503.5 570.8h0M507.3 565.9h0M501.5 585.6h0M504.8 572.1h0M502.2 573.4h0M499.4 573.9h0M506.5 584.2h0M503 582.5h0M499.3 576.2h0M503.7 568.3h0M504.7 585.2h0M502.1 568.9h0M506 576.2h0M502.9 575h0M504.2 569.7h0M501.5 577h0M505.4 585.1h0M502 570.8h0M504.8 580.6h0M502.7 585.2h0M499.8 569.6h0M504.6 576.4h0M501.3 575.1h0M502.2 569.4h0M505.5 578.8h0M507.4 584.9h0" stroke="#111" stroke-width="1" stroke-linecap="round" stroke-opacity="0.7"/>
<path d="M511.9 575.8h0M513.8 589.9h0M512.1 573.4h0M516.6 583.3h0M513.2 589.7h0M515.6 575h0M515.9 589.3h0M511.6 587.9h0M510 576.9h0M508.8 587.8h0M511.1 575.2h0M511.4 574.5h0M508.9 580.8h0M509.5 581.4h0M510.3 586.7h0M513.6 585.1h0M511.4 587.9h0M514 575.5h0M512.7 589.4h0M509.9 580.8h0M511.4 578.9h0M514.5 581.2h0M514.1 581.4h0M509.5 572h0M512.9 578.1h0M512.3 578.8h0M511.8 586h0M511.1 586.4h0M513.6 573.7h0M516.3 588.4h0M514.2 589h0M512.7 589.2h0M515 580.9h0M512.8 579.3h0M511.7 581.8h0" stroke="#111" stroke-width="1" stroke-linecap="round" stroke-opacity="0.7"/>
<line x1="429.7" y1="551.3" x2="429.7" y2="592.7" stroke="#231f20" stroke-width="1.1"/>
<line x1="429.2" y1="592.2" x2="518" y2="592.2" stroke="#231f20" stroke-width="1.2"/>
<line x1="427" y1="555.3" x2="429.7" y2="555.3" stroke="#231f20" stroke-width="0.9"/>
<line x1="427" y1="564.3" x2="429.7" y2="564.3" stroke="#231f20" stroke-width="0.9"/>
<line x1="427" y1="573.6" x2="429.7" y2="573.6" stroke="#231f20" stroke-width="0.9"/>
<line x1="427" y1="582.9" x2="429.7" y2="582.9" stroke="#231f20" stroke-width="0.9"/>
<line x1="427" y1="592.1" x2="429.7" y2="592.1" stroke="#231f20" stroke-width="0.9"/>
<line x1="435.2" y1="592.2" x2="435.2" y2="594.8" stroke="#231f20" stroke-width="0.9"/>
<line x1="444.9" y1="592.2" x2="444.9" y2="594.8" stroke="#231f20" stroke-width="0.9"/>
<line x1="454.6" y1="592.2" x2="454.6" y2="594.8" stroke="#231f20" stroke-width="0.9"/>
<line x1="464.3" y1="592.2" x2="464.3" y2="594.8" stroke="#231f20" stroke-width="0.9"/>
<line x1="474" y1="592.2" x2="474" y2="594.8" stroke="#231f20" stroke-width="0.9"/>
<line x1="483.7" y1="592.2" x2="483.7" y2="594.8" stroke="#231f20" stroke-width="0.9"/>
<line x1="493.4" y1="592.2" x2="493.4" y2="594.8" stroke="#231f20" stroke-width="0.9"/>
<line x1="503.1" y1="592.2" x2="503.1" y2="594.8" stroke="#231f20" stroke-width="0.9"/>
<line x1="512.8" y1="592.2" x2="512.8" y2="594.8" stroke="#231f20" stroke-width="0.9"/>
<text x="423.4" y="582.65" font-size="8.6" text-anchor="start" fill="#333" font-style="italic" stroke="#333" stroke-width="0.12" transform="rotate(-90 423.4 582.65)" textLength="24.3" lengthAdjust="spacingAndGlyphs">CD40</text>
<line x1="435.2" y1="600.8" x2="435.2" y2="639.6" stroke="#d2d2d2" stroke-width="0.7"/>
<line x1="444.9" y1="600.8" x2="444.9" y2="639.6" stroke="#d2d2d2" stroke-width="0.7"/>
<line x1="454.6" y1="600.8" x2="454.6" y2="639.6" stroke="#d2d2d2" stroke-width="0.7"/>
<line x1="464.3" y1="600.8" x2="464.3" y2="639.6" stroke="#d2d2d2" stroke-width="0.7"/>
<line x1="474" y1="600.8" x2="474" y2="639.6" stroke="#d2d2d2" stroke-width="0.7"/>
<line x1="483.7" y1="600.8" x2="483.7" y2="639.6" stroke="#d2d2d2" stroke-width="0.7"/>
<line x1="493.4" y1="600.8" x2="493.4" y2="639.6" stroke="#d2d2d2" stroke-width="0.7"/>
<line x1="503.1" y1="600.8" x2="503.1" y2="639.6" stroke="#d2d2d2" stroke-width="0.7"/>
<line x1="512.8" y1="600.8" x2="512.8" y2="639.6" stroke="#d2d2d2" stroke-width="0.7"/>
<path d="M435.2,639.6Q434.9,639.4 434.3,638.2Q433.7,637.1 434.3,635.8Q434.9,634.6 434.8,632.9Q434.7,631.2 434,628.1Q433.4,625 432.4,620.8Q431.4,616.6 431.4,613.5Q431.4,610.3 432,608.2Q432.7,606.2 433.9,603.2Q435,600.3 435.1,600.3L435.2,600.3Z" fill="#cc1428" stroke="none" stroke-width="1"/>
<path d="M435.2,639.6Q435.5,639.4 435.9,638.2Q436.2,637.1 435.8,635.8Q435.4,634.6 435.6,632.9Q435.8,631.2 436.9,627.1Q438,622.9 438.7,619.3Q439.4,615.8 438.8,613.5Q438.2,611.2 436.9,610.3Q435.5,609.5 435.4,609.5L435.2,609.5Z" fill="#1a1ad0" stroke="none" stroke-width="1"/>
<path d="M444.9,618.7Q444.6,618.7 444.5,614.5Q444.4,610.3 443.9,608.2Q443.4,606.2 443.8,604.1Q444.1,602 444.4,600.9Q444.8,599.9 444.8,599.9L444.9,599.9Z" fill="#cc1428" stroke="none" stroke-width="1"/>
<path d="M444.9,620.8Q445.2,620.8 445.5,618.7Q445.9,616.6 445.8,614.5Q445.7,612.4 445.4,611Q445,609.5 444.9,609.5L444.9,609.5Z" fill="#1a1ad0" stroke="none" stroke-width="1"/>
<path d="M454.6,620.8Q454.4,620.8 453.5,619.3Q452.6,617.9 451.7,616.6Q450.8,615.4 451.9,612.8Q453.1,610.3 453.2,608.2Q453.4,606.2 453.6,603.7Q453.8,601.1 454.1,600.5Q454.5,599.9 454.5,599.9L454.6,599.9Z" fill="#cc1428" stroke="none" stroke-width="1"/>
<path d="M454.6,620.8Q454.8,620.8 455.7,619.7Q456.6,618.7 457.5,617.4Q458.4,616.2 457.5,614.5Q456.6,612.8 455.6,611.6Q454.7,610.3 454.6,610.3L454.6,610.3Z" fill="#1a1ad0" stroke="none" stroke-width="1"/>
<path d="M464.3,620.8Q464.1,620.8 463.5,619.3Q462.8,617.9 462.3,616.2Q461.8,614.5 462.5,612Q463.1,609.5 463.3,606.8Q463.5,604.1 463.9,602.6Q464.2,601.1 464.2,601.1L464.3,601.1Z" fill="#cc1428" stroke="none" stroke-width="1"/>
<path d="M464.3,622.9Q464.5,622.9 465.4,620.8Q466.3,618.7 466.7,617Q467.1,615.4 466.2,613.7Q465.3,612 464.9,611.2Q464.4,610.3 464.4,610.3L464.3,610.3Z" fill="#1a1ad0" stroke="none" stroke-width="1"/>
<path d="M474,618.7Q473.8,618.7 473.5,616.6Q473.2,614.5 473.4,611.4Q473.5,608.2 473.7,605.1Q473.9,602 473.9,602L474,602Z" fill="#cc1428" stroke="none" stroke-width="1"/>
<path d="M474,620.8Q474.2,620.8 474.6,618.1Q475,615.4 474.6,613.7Q474.1,612 474.1,612L474,612Z" fill="#1a1ad0" stroke="none" stroke-width="1"/>
<path d="M483.7,620.8Q483.5,620.8 482.6,619.3Q481.7,617.9 480.9,616.2Q480.2,614.5 480.9,612Q481.5,609.5 482.1,606.8Q482.7,604.1 483.1,602.4Q483.6,600.7 483.6,600.7L483.7,600.7Z" fill="#cc1428" stroke="none" stroke-width="1"/>
<path d="M483.7,620.8Q483.9,620.8 485,619.7Q486.2,618.7 486.9,617Q487.5,615.4 486.6,613.7Q485.7,612 484.8,610.8Q483.8,609.5 483.8,609.5L483.7,609.5Z" fill="#1a1ad0" stroke="none" stroke-width="1"/>
<path d="M493.4,622Q493.2,622 492.3,620.4Q491.4,618.7 490.6,617Q489.8,615.4 490.4,612.8Q491,610.3 491.8,607.8Q492.6,605.3 492.9,603.2Q493.3,601.1 493.3,601.1L493.4,601.1Z" fill="#cc1428" stroke="none" stroke-width="1"/>
<path d="M493.4,622Q493.6,622 494.8,620.4Q495.9,618.7 496.5,617Q497.2,615.4 496.3,613.7Q495.4,612 494.4,610.8Q493.5,609.5 493.4,609.5L493.4,609.5Z" fill="#1a1ad0" stroke="none" stroke-width="1"/>
<path d="M503.1,633.3Q502.9,633.3 502.2,630.2Q501.6,627.1 500.6,623.9Q499.6,620.8 500.1,617.7Q500.6,614.5 501.3,611.4Q502.1,608.2 502.5,606Q503,603.7 503,603.7L503.1,603.7Z" fill="#cc1428" stroke="none" stroke-width="1"/>
<path d="M503.1,627.1Q503.3,627.1 504.4,625Q505.6,622.9 506.3,620.4Q507.1,617.9 505.8,615.8Q504.6,613.7 503.9,612.4Q503.2,611.2 503.1,611.2L503.1,611.2Z" fill="#1a1ad0" stroke="none" stroke-width="1"/>
<path d="M512.8,637.5Q512.5,637.5 511.8,635.4Q511,633.3 510.1,630.2Q509.3,627.1 509.5,623.9Q509.8,620.8 510.7,617.7Q511.6,614.5 512.1,613.3Q512.7,612 512.8,612L512.8,612Z" fill="#cc1428" stroke="none" stroke-width="1"/>
<path d="M512.8,639.6Q513.3,639.4 513.8,638.5Q514.3,637.5 515.5,634.4Q516.8,631.2 517,628.7Q517.3,626.2 516.5,623.5Q515.8,620.8 514.7,617.7Q513.6,614.5 513.2,612.8Q512.9,611.2 512.8,611.2L512.8,611.2Z" fill="#1a1ad0" stroke="none" stroke-width="1"/>
<path d="M435.8 611.2h0M435.4 605.1h0M436.1 621.1h0M437.3 614.5h0M435.2 620.5h0M435.6 602.6h0M436.8 610.4h0M436.2 602.6h0M434.2 602.8h0M435.7 610.5h0M434 609.7h0M438.1 607.7h0M435.1 610.3h0M435.1 621.2h0M434.4 603.4h0M435.7 603h0M434.7 610.3h0M435.8 609.6h0M432.3 620.2h0M435.3 612.8h0M435.9 610.4h0M434.5 616.1h0M433.8 609.3h0M437.3 614.4h0M433.8 610.7h0" stroke="#0a0a0a" stroke-width="1" stroke-linecap="round" stroke-opacity="0.75"/>
<path d="M444.1 602.9h0M444.1 618.6h0M446.5 612.7h0M442.9 612.4h0M445 615.4h0M442.3 613.9h0M442.4 609.5h0M443.9 604.2h0M444.4 612.3h0M443.5 614h0M446.7 609.6h0M443 618.5h0M443.4 616.7h0M441.5 600.8h0M443.5 616.5h0M447 616.7h0M440.6 607.4h0M443.3 616.6h0M444.4 604.7h0M441.1 616.7h0M444.5 600.4h0M447.6 613.5h0M445.1 615.5h0M446.1 606.6h0M444.1 613.4h0M444.7 611.1h0M445.6 613.9h0M443.5 610.5h0M444.6 615.7h0M443.9 617.1h0M443.7 615.9h0M446 615h0M446.8 601.8h0M442.2 614.4h0M447.8 612.2h0M448.8 616.8h0M449 604.3h0M442.5 616.5h0M444.3 615.7h0M444.1 616.6h0M443.8 614.6h0M446.5 617.1h0M445.1 606.2h0M440.4 608.9h0M446 611.9h0M447 618.3h0M445.5 613.9h0M444.9 614.6h0M442.6 611.3h0M446 610.7h0M444.3 608h0M446.1 613.3h0M443 615.4h0M447.2 605.7h0M445.4 616.2h0M444.6 611.4h0M446.3 618.2h0M445.6 609.8h0M441.9 607.6h0M444.8 604h0M443.8 603.9h0M444.7 607.4h0M446.8 601.8h0M443.9 613h0M443.4 614.8h0M445 611.2h0M445 611.3h0M447.9 617.3h0M446.3 600.9h0M441.4 608.4h0M444.5 615.8h0M446.7 603.4h0M446.1 618.3h0M447.1 618h0M443 611.8h0M442.9 616.5h0M444.8 600.1h0M445 600.3h0M443.1 605.7h0M448 601.1h0M448.2 618.6h0M444.8 618h0M446.2 611.3h0M448.4 603.6h0M447.5 614.1h0M444.9 618.2h0M446.5 613.7h0M444.1 609.7h0M445.3 614.6h0M443.8 612.7h0M443 611h0M442.6 612.6h0M442.8 612h0M445.6 615h0M443.1 616.4h0M441.4 615.4h0M444.5 611h0M448.5 613.7h0M445.1 615h0M444.1 615h0M446.1 603.6h0M441.1 607h0M440.2 605.8h0M442 618.6h0M446.2 616.1h0M446.5 609.7h0M444.5 607.5h0M447.7 601.3h0M442.2 611.3h0M443.9 617.8h0M446.7 614.4h0M445 612.5h0M444.4 617.1h0M444.2 618.6h0M442.5 614.4h0M448.2 614.9h0M449.5 603.9h0M442.9 608.5h0M446.3 603.2h0M444.3 615.7h0M443.2 613.5h0M441.2 612.9h0M446.3 615.7h0M445.4 609.2h0M445.4 600.2h0M443.7 607.6h0M440.6 606.5h0M444.9 609.6h0M442.6 609.1h0M445.4 616.1h0M443.9 605.2h0M443.4 600.5h0M448.2 609.9h0M443.2 612.1h0M446.1 604.3h0M444.6 615.4h0M447.5 618h0M446.2 604.5h0M448.1 613.4h0M448.1 611.2h0M445 617h0M444.7 613.8h0M443.4 615.9h0M442.2 611.9h0M444.7 613.1h0M442 618.2h0M441 618.4h0M443.7 608.4h0M443.3 616.3h0M446.3 612.9h0M445.4 611.8h0M445.6 616h0M446.6 616.4h0M442.9 617.5h0M446 617.9h0M444.5 616h0M442.6 612.8h0M444.2 607.6h0M443.7 613.7h0M440.9 606.4h0M445.9 610.5h0M448 618.3h0M441.8 614.4h0M444.5 610.9h0M447.3 612.8h0M443 615.5h0M442.2 616.4h0M447.4 618.4h0M443.6 600.2h0M443.6 615.8h0M448.9 616.2h0M444.3 611.2h0M447.9 607h0M444.5 617.1h0M442.1 610.7h0M441 609h0M443.2 605.2h0M442.3 611.4h0M446.7 616.3h0M444.9 616.4h0M444.2 614.5h0M447.8 616.2h0M441.6 615.9h0M445.1 613.6h0M447.4 600.9h0M449.6 615.8h0M441.2 616.4h0M443.8 616.9h0M447.9 610.1h0M449.2 611.7h0M446.2 616.2h0M448 607.4h0M443.5 612.2h0M445.8 614.2h0M444.4 612.8h0M443.8 612.9h0M442.3 609.2h0M442.6 616.4h0M447.6 606h0M445.2 610.8h0M441.5 615.7h0M444.1 614.6h0M445.9 612.8h0M445.1 612.1h0M445.7 612.8h0M447.9 608.9h0M442.3 616.5h0M444.8 616.6h0M448.7 609h0M444 613.6h0M442.1 617.5h0M444.5 611.9h0M442.9 616.9h0M445.3 613.2h0M445.4 609.2h0M444.8 607.9h0M446.4 610h0M445.5 618.4h0M444.8 608.6h0M446 603.1h0M447.2 614.5h0M442.9 618.1h0M441.6 613.2h0M444.9 610.4h0M444.7 614.1h0M445.8 615h0M447.6 613.6h0M442.9 612.3h0M442.2 614h0M445.5 611.1h0M445.7 612.5h0M441.5 613.1h0M447.6 612.5h0M448 609.6h0M443.6 613.5h0M446.9 614.7h0M442.5 606.6h0M444.8 612.1h0M445.7 614.9h0M442.9 615.9h0M444.7 610.9h0M440.4 605.5h0M446.1 611.3h0M442.3 607.9h0M445.8 608.1h0M442.4 605.2h0M445.8 617.8h0M443.6 604.7h0M447.6 611.3h0M445.6 602.5h0M441.8 612.7h0M446.6 614.8h0M447.3 612.3h0M446 612.4h0M442.1 614.2h0M447.8 602.4h0M446.9 599.8h0M444.9 615.7h0M446.1 608.8h0M444.6 606.9h0M443.9 612.9h0M445.3 614.2h0M441.2 603.4h0M442.1 617.8h0M447.7 606.7h0M446 605.3h0M441.9 614h0M446.8 611.9h0M445.3 608.3h0M445 600.2h0M445.1 606.4h0M447.9 617.5h0M444.8 615.2h0M446.3 611.2h0M445 604.4h0M447 615.6h0M446.2 614.5h0M448.8 612.1h0M444 616.9h0M445.7 617.1h0M444.9 616.8h0M447.3 608.7h0M444.8 603.2h0M448.2 605.6h0M442.2 609.3h0M447.9 606h0M445.6 612.7h0M445.4 615.3h0M446.4 610.1h0M444.4 609.2h0M443.7 614.1h0M443.5 614.1h0M447.9 600.8h0M442.1 614h0M444.3 616.9h0M445.5 617.1h0M445.1 615.6h0M446.5 610.2h0M445.4 615.7h0M443.1 611.1h0M446.4 603.9h0M448.9 614.3h0M446.9 614.8h0M447.3 617.7h0M447.7 607.1h0M448.9 618.2h0M445.6 601.3h0M443.8 616.3h0M444.7 614.2h0M446.4 604.8h0M443.7 615.3h0M445 606h0M442.7 614h0M444.3 610h0M442.6 599.6h0M444.1 607.6h0M444.8 612.9h0M443.8 608.1h0M447 608h0M445 612.4h0M443.4 617.6h0M445.9 602.8h0M444.2 606.7h0M445.4 612.2h0M443.1 609.5h0M442.3 615.6h0M441.2 604.1h0M448 614.4h0M444.7 610.3h0M441.8 600.8h0M446.3 613.4h0M445.5 617.1h0M445.5 614.1h0M443 617.8h0M441.9 606h0M441.7 611.7h0M444.4 614.8h0M445.9 615.1h0M445.3 613.5h0M445.3 611.6h0M446.5 615.3h0M440.3 610.7h0M446.6 617h0M443.9 616.5h0M447.2 609h0M440.7 606.7h0M449.6 603.8h0M442.6 616.5h0M440.9 616.6h0M444.4 613.8h0M442.7 613.2h0M445.5 617.3h0M444.1 606.5h0M443.1 603.1h0M445.1 616.8h0M445.4 607.8h0M445 605.4h0M440.2 601.3h0M448 615.5h0M445.3 613.4h0M447.6 618.1h0M443.6 611.5h0M445.7 616.5h0M443.6 611.9h0M445.1 618.3h0M447.9 613.9h0M445.5 609.7h0M447 618.2h0M443.9 617h0M446.5 615h0M441.9 611.1h0M444.2 617h0M446.6 612.3h0M447.7 616h0M442.8 605h0M445.3 615.9h0M444.3 614.3h0M446.5 608.9h0M444.5 616h0M447.9 612.3h0M447.1 617.6h0M446.5 604.9h0M447.2 613.6h0M443.4 607.8h0M444.7 610h0M443.1 618.1h0M446.1 617.4h0M447 603.7h0M445 612.8h0M445.8 616.7h0M442.3 615.3h0M445.6 618.2h0M443.7 616.5h0M445.1 613.8h0M443 607h0M443.6 616.4h0M446.5 615.8h0M446.4 607.1h0M445.2 615.7h0M444.7 611.1h0M444.3 616.8h0M445.3 616.8h0M443.8 616.8h0M440.4 601.3h0M444 602.7h0M443.9 600.7h0M446.3 613.8h0M445.7 614.6h0M442.9 613h0M443.5 602h0M446.5 616.4h0M448.3 617.7h0M444.8 616.6h0M446.4 618.5h0M444.7 612.5h0M446.2 614.4h0M446.3 608.1h0M441.9 604.4h0M442.2 613.9h0M446.1 607.3h0M444.5 611.6h0M443.4 611.3h0M446.5 615.3h0M448.3 617.9h0M443.4 611.1h0M445.4 612.1h0M448.3 614.5h0M446.4 614.7h0M445.8 617.4h0M446.9 603.4h0M446.2 616.8h0M447.1 615.8h0M444.2 614.4h0M442 609.1h0M445.3 614.7h0M446.7 613.5h0M446.7 618.1h0M447.9 612.4h0M448.2 614.9h0M444.7 613.5h0M444.8 616.5h0M444.9 611.7h0M447 603.8h0M449.5 615.3h0M442.9 610.7h0M444.5 611.6h0M443.3 605.1h0M445.6 603.4h0M446.5 612.5h0M441.7 601.6h0M445.2 616.3h0M446.3 618.1h0M445.8 607h0M443.2 600.4h0M447.8 608.6h0M446.6 616.3h0M445 611.1h0M442.9 618.1h0M443.6 617.5h0M445.8 615.6h0M447.9 611.6h0M449.1 617.1h0M446.5 610.8h0M445.7 617.1h0M444.2 613.6h0M441.3 613.5h0M443.5 616.1h0M442.4 613.7h0M448.6 607.4h0M446 611.7h0M445.6 615.7h0M447.8 604.3h0M449.3 606.9h0M445.1 617.9h0M446.1 614.1h0M444.3 611.2h0M443.7 615.2h0M449.4 600.7h0M443.1 600.5h0M447.7 614.1h0M445.6 616.1h0M446.9 613.5h0M445 610.8h0M444.3 616.5h0M444.9 613.7h0M444.4 601.6h0M442.4 616.7h0M448 611h0M449.2 612.3h0M446.9 614.9h0M449.5 612.2h0M445.6 617h0M445.8 613.9h0M442.7 615.1h0M445.7 616.2h0M443.2 614.6h0M441.7 608.5h0M444.5 605h0M443 614.8h0M442.4 618.2h0M443.2 610h0M444.8 610h0M444 616.9h0M449.1 602.7h0M442.6 609.4h0M445.7 617.9h0M446.1 616.3h0M444.8 610.2h0M442 604.8h0M448.8 607.5h0M445.8 612.2h0M443.8 613.7h0M441.4 615.9h0M445.3 610.7h0M444.9 608.6h0M441 602.3h0M441.8 617.8h0M443.4 613.3h0M446 613.2h0M447 618.5h0M445.6 613h0M444.6 613.5h0M446.8 607h0M446.9 615.9h0M444.5 610.6h0M444 614h0M445.2 616h0M444 609.3h0M441.8 615.9h0M444.6 615.5h0M445 611.3h0M446.2 613.6h0M446.3 611.5h0M444.9 605.8h0M448.6 615.3h0M444.4 616h0M445.6 612.2h0M442.5 612.5h0M442.9 613.9h0M447.7 615.4h0M445.5 613.2h0M446.4 610.8h0M440.1 609.2h0M444.4 617.3h0M443.7 616.2h0M442.5 606.9h0M445.4 616.1h0M441.3 614.8h0M444.5 610.5h0M441.1 613.3h0M448.5 613.4h0M441.5 612.6h0M445.1 615h0M443.8 612.2h0M443.5 609.1h0M445.2 611h0M448.1 611.1h0M446.3 614h0M448.5 609.3h0M441.7 612.3h0M445.7 617.2h0M444.4 613h0M445.3 615.6h0M447.3 617.6h0M448.7 614.3h0M445.3 613.5h0M446.9 612.1h0M445.9 617.8h0M445.1 614.2h0M444.1 617.6h0M444.7 604.1h0M448.7 614.2h0M444.9 615.9h0M443.6 612h0M447.2 615.9h0M445.4 612.2h0M447.2 604.6h0M441.2 612.5h0M445.5 605h0M447.7 615.8h0M442.6 609.7h0M445.6 611.6h0M449.5 613.1h0M446.5 613.3h0M444 610.4h0M442.4 603.3h0M442.7 614h0M444.1 608.9h0M445.9 615.2h0M444.7 616.5h0M443.5 617.8h0M445.4 613.4h0M444.3 613.5h0M445.2 613.6h0M440.4 613.8h0M444.5 612.7h0M444.2 614.8h0M444.9 613h0M446.9 610.4h0M449.5 608.4h0M444.9 614.4h0M443.5 615.4h0M445.7 615.8h0M442.1 614.6h0M447.2 614.1h0M445.5 612.7h0M442 600.3h0M443.1 609.1h0M446.2 607.9h0M440.4 612.7h0M445.1 613.6h0M444.2 610.9h0M441.1 616.1h0M445.8 613.4h0M443.1 614h0M444.4 608.1h0M444.4 613.8h0M444.4 616.2h0M446.1 618h0M444.9 616h0M443 617.2h0M444.4 614.6h0M445.1 614.7h0M444.1 609.4h0M446.3 602.6h0M447.5 610.5h0M443 610.6h0M446.6 614.2h0M446.1 612.4h0M442.7 614.9h0M444.5 614.3h0M443.4 604.7h0M448.7 600.4h0M447.1 609.6h0M445.7 614.1h0M443.2 604.4h0M441.9 617.8h0M447 608.8h0M444.1 609.8h0M445.8 617.6h0M443.7 602.7h0M445.5 614.7h0M447.6 605.6h0M445.8 612.2h0M447.4 614.4h0M443.5 616.1h0M445.2 609.4h0M442.1 599.5h0M444.9 617.5h0M442.3 600.7h0" stroke="#0a0a0a" stroke-width="1" stroke-linecap="round" stroke-opacity="0.75"/>
<path d="M453.7 617.4h0M456.2 607h0M452.4 616.7h0M457.2 611.7h0M457.1 612.7h0M451.3 616.7h0M454.7 616.6h0M453.1 604.7h0M457 610.9h0M454.9 601.2h0M455.3 610.5h0M456.8 612.3h0M454.7 608.9h0M454.5 616.8h0M456.6 617.3h0M456.5 611.7h0M456.2 606.1h0M455.6 611.5h0M454.8 615.4h0M454 618h0M455.7 613.7h0M453.4 613.9h0M453.9 613.9h0M452.7 609.8h0M455.6 615.9h0M450.9 603.1h0M455.4 616.1h0M457 609h0M454.3 609.1h0M452.2 613.7h0M456.7 615.9h0M457.3 613.5h0M456.4 613.6h0M453.9 617.4h0M454.4 613.8h0M454.3 611.8h0M454.6 606.8h0M455.4 613.7h0M456.2 615.6h0M453.2 613.5h0M453.9 617.9h0M454.4 613.2h0M453.2 603.8h0M456.3 614.7h0M452 606.3h0M454.5 618.1h0M451.9 614.4h0M453.4 608.7h0M457.2 616.8h0M453.1 615.3h0M454.5 616.6h0M453.5 617.8h0M453.3 609.4h0M456.3 613.3h0M454.5 616.5h0M452.7 608.5h0M456.5 611h0M453.7 616.7h0M455.4 614.5h0M455.5 615h0M453.9 614.8h0M454.4 616.3h0M457.9 612.1h0M457.2 611.6h0M455.8 617h0M453.9 611.5h0M456.7 618.6h0M451.4 616.3h0M451.6 603.1h0M455.5 617.3h0M453.1 606.9h0M452.8 601.9h0M452.7 614.6h0M456.6 610.5h0M454.5 613h0M453.6 615.1h0M456.2 615.2h0M458.6 601.5h0M453.5 613h0M454.3 616.3h0M454.6 616.5h0M453.8 614.3h0M454.3 610.7h0M456.2 610.7h0M454.2 605.9h0M457.7 614.4h0M455 601.2h0M453.1 604.2h0M455.5 608.9h0M454.5 610.9h0M457.1 602h0M453.4 605.1h0M455.8 615.2h0M457.1 603.8h0M457 617.8h0M455.4 611h0M452.1 613.6h0M457.1 601.7h0M451 611.8h0M457.7 607.8h0M455.2 612.3h0M454.7 616.1h0M455.1 602h0M453.6 618.6h0M452.7 603.8h0M455.5 614.3h0M455.9 615.1h0M455.2 617h0M456.6 616.3h0M453.7 615.6h0M451.6 612.2h0M454.1 616.3h0M455.2 612.9h0M455.6 617.3h0M452.8 614h0M455.8 604.7h0M456.3 601.6h0M453.5 615h0M457.1 612.1h0M453.5 615.3h0" stroke="#0a0a0a" stroke-width="1" stroke-linecap="round" stroke-opacity="0.75"/>
<path d="M466.5 610.4h0M466.6 612.9h0M464 618.7h0M464.1 615.2h0M465.9 617.1h0M464.4 608.2h0M464.5 616.6h0M464 617.9h0M466.3 606.7h0M466.4 603h0M464.2 612.4h0M461.3 607.2h0M465.3 606h0M464.2 612.8h0M463.4 610.7h0M462.8 604.2h0M463.2 601.5h0M464.3 618h0M464.7 606.7h0M461.9 618.2h0M464.1 614.7h0M464.2 615.5h0M462.7 618.6h0M462 613.5h0M467 610.3h0M461.5 616.4h0M460.8 616.7h0M461 616.5h0M465.8 614.2h0M467.4 617.4h0M462.6 601.7h0M461 608.3h0M462.4 614.5h0M462.4 613.9h0M463.3 607.9h0M465 609h0M465.9 612.7h0M462.6 613.2h0M462.4 611.1h0M465.6 613.9h0M465.3 612.3h0M465 615.6h0M463.9 618h0M464.2 610.7h0M461.7 602.2h0M465.7 614.3h0M460 604.7h0M466.3 614.1h0M464.3 612h0M462.4 616.4h0M465.1 610.5h0M465.4 615.8h0M462.7 614.7h0M466 607.6h0M466.1 612h0M466.6 609.7h0M467.1 617h0M467.8 614.4h0M467.8 611.8h0M463.1 605.4h0M464.4 611.6h0M466.5 616.6h0M464.1 610.4h0M462.7 616.2h0M468.6 617.5h0M464.9 616.9h0M463.3 615.5h0M462.7 616.8h0M467.7 616.2h0M464.6 617.3h0M464.9 613.2h0M462.3 601.9h0M464.6 614h0M462.2 618h0M464 605.2h0M466.1 607.8h0M464 614.7h0M462.8 611h0M465.8 606.4h0M464.4 612.7h0M464.1 613.3h0M463.2 615.5h0M463.2 605.3h0M464.8 611.8h0M463.7 610.1h0M467.4 610.8h0M462.8 613.6h0M464.7 612.8h0M462.6 613.7h0M463.4 609.3h0M460.8 612.3h0M465.8 617.4h0M466.5 615.4h0M463 615h0M465.5 611h0M464 609.5h0M465.3 612.9h0M463.3 613.4h0M461.9 602.4h0M466 613.9h0M462.8 614.6h0M463.7 613.4h0M465.5 615.2h0M463.3 610.6h0M464.4 611.8h0M467.4 616.7h0M463.8 611.5h0M464.3 615h0M463.4 609.9h0M463.1 609.3h0M465.4 613.2h0M464.7 612.6h0M462.4 609.9h0M463.9 610.5h0M465 615h0M465.5 608.5h0M463 614.3h0M463.3 612.7h0M464.7 615.4h0M462.7 617.3h0M464.3 613.9h0M466.2 613.8h0M466.1 612h0M459.9 611.9h0M467.4 617.1h0M466.3 616.7h0M464.1 612.2h0M466.5 613.1h0M463.6 616.2h0M461.3 613.3h0M465.3 613.5h0M465.4 616h0M465.8 616.4h0M467.2 613.9h0M464.4 608.2h0M465.1 611.4h0M464.7 610.3h0M461.3 612.2h0M466.2 613h0M464.4 614.7h0M462.6 615.4h0M462.6 615.3h0M467.9 614.4h0M464 617.8h0M466.3 613.1h0M466.6 614h0M463.5 613.4h0M464.9 614.2h0M461.7 618.6h0M462.5 614.8h0M465 612.9h0M461.8 610.2h0M465.3 616.3h0M464.1 601.3h0M463.9 613h0M464.9 604.4h0M462.4 609.1h0M465.9 615.3h0M465.4 615.7h0M464.2 605.3h0M466.2 618.5h0M464.1 616.4h0M463.5 612.3h0M462.7 604h0M467.6 603.8h0M464.4 617.5h0M469 609.1h0M463.7 606.9h0M466.5 616.1h0M462.6 610.3h0M462.8 611.4h0M464.3 617.9h0M465.4 616h0M466.3 604.9h0M462.7 612.5h0M460.5 608.8h0M465.2 602.7h0M462.6 613.5h0M464.2 611.3h0M463.6 610.9h0M463 615.3h0M463.1 613.3h0M461.9 616.5h0M465.8 607.4h0M462 604.2h0M462.1 612.9h0M460.5 605.8h0M464.8 617.4h0M467 612.7h0M465.8 611.6h0M464.8 613.6h0M464.3 615.6h0M464 618.7h0M462 611.5h0M465.9 615.4h0M461.5 613.9h0M462.6 608.3h0M462.7 609.2h0M463.8 615.9h0M466.3 611.7h0M463.5 615.6h0M462.9 612h0M460.1 603.1h0M463.9 604.1h0M465.1 606.2h0M462.9 613.8h0M464.4 613.4h0M463.5 617.2h0M464.9 616.3h0M463.1 615.5h0M463.6 612h0M463.6 610.1h0M461.7 615.7h0M464.4 615.8h0M464.8 616.5h0M465.5 616.3h0M462.8 614.3h0M464 616.6h0M463.1 615.6h0M464.6 609.8h0M466.7 614.7h0M459.6 615h0M464.3 615.9h0M465.4 612.5h0M463.9 609.4h0M461.8 616.7h0M462.7 618.1h0M464.5 613.5h0M465 604.8h0M467.1 611.6h0M461.2 609.6h0M465.5 609.9h0M466.6 611.7h0M465.9 613.8h0M465.1 603.4h0M465.2 613.5h0M464.1 614.2h0M460.6 611.5h0M467.8 616.4h0M462.9 613.5h0M461.5 610.2h0M466.1 612.2h0M462.6 611.3h0M460.8 618.5h0M467.7 610.8h0M467.9 607.3h0M461.4 609.8h0M466.6 615.2h0M465.9 606.4h0M465.1 613.5h0M468.1 615.9h0M463.8 613.2h0M463.8 618.7h0M468 609.1h0M464.7 613.7h0M467.4 610.5h0M465.1 601.8h0M461.8 611.9h0M462.7 610.8h0M463.1 612.8h0M464.8 613.2h0M465.3 613.4h0M466.6 613.8h0M466.5 611.6h0M462.6 616h0M468.1 610.8h0M467.6 616.1h0M466 614h0M463.7 612.8h0M464.2 607.3h0M464.2 617.8h0M465.7 618h0M465.4 614.5h0M463.4 611.8h0M465.5 606.1h0M463.7 610.9h0M465.1 607.3h0M462.3 611.8h0M466.7 611.7h0M466.8 613.6h0M462.9 606h0M462.2 601.2h0M464.7 612.4h0M466.2 618.3h0M463.8 618.6h0M464.2 618.7h0M463.6 615.7h0M463.7 612.8h0M463.3 616.5h0M465.3 615.5h0M466.8 615.7h0M462.8 615.1h0M463.6 616.2h0M462.6 614.3h0M460.7 611.3h0M464.6 618.4h0M466.3 615.9h0M467.3 611.9h0M468.2 604.8h0M463.7 610.4h0M460.3 609.8h0M463.6 614.4h0M461.4 613.5h0M464.4 606.6h0M462.9 610.1h0M464 613.2h0M463.5 613h0M459.5 602.2h0M463.5 604.6h0M465.2 613h0M463.7 602.9h0M466.1 615.2h0M466.5 614.2h0M461.9 614.1h0M462.8 616.4h0M463.3 601.2h0M460.6 616.1h0M463.5 609.9h0M465.7 603h0M463.4 615.5h0M466.9 613.8h0M462.3 618.1h0M465.6 618.1h0M462 601.9h0M464.8 617h0M460.5 610.9h0M462.6 617.1h0M465.4 613.7h0M464.6 610.3h0M464.2 615.5h0M464.6 606.9h0M467.3 615.8h0M466.1 617.1h0M463 614.8h0M459.5 615.1h0M466.6 613.8h0M464.6 616.9h0M466.7 615.4h0M460.1 611.9h0M467.3 615.1h0M460.2 607.6h0M465 602.3h0M464.9 613.1h0M465.4 615.4h0M461.4 615.7h0M464.5 618.1h0M461.7 617.4h0M462.1 607.3h0M465.2 608.7h0M463.6 603.1h0M464.6 614.7h0M464.9 611.1h0M463.8 610.1h0M465.2 613.4h0M464.8 606.1h0M465.5 611.9h0M464.7 605.1h0M464.2 611h0M466.9 602.5h0M465.7 608.7h0M463.1 612.4h0M462.8 618.5h0M464 611.7h0M464.6 615.5h0M462.4 618.4h0M461.7 608.2h0M467.8 616.3h0M460.2 613.9h0M465.3 604.8h0M464.5 615.2h0M461.1 614.1h0M464.9 601.9h0M465.2 610.8h0M463.8 614.2h0M469 611.8h0M463.3 617.2h0M463.3 612.3h0M462.5 615.5h0M463.4 615h0M463.3 614.5h0M460.4 614.6h0M466.9 612.7h0M462.3 618.7h0M463.9 615.1h0M463.9 618.4h0M464 614.3h0M464.9 614.9h0M463.9 617.7h0M462.8 603.3h0M461.5 610.8h0M459.8 605.6h0M467.8 615.5h0M465.9 612.4h0M466.6 615.4h0M462.4 612.2h0M462.8 604.5h0M462.8 613.4h0M462.1 612h0M463.6 616.6h0M465.1 609.6h0M460.6 611.4h0M465 616.4h0M462.6 618.5h0M466.4 608.9h0M464 614.6h0M466 614.3h0M466.4 613.8h0M466.1 615.8h0M465.9 610.6h0M460.4 608.7h0M463.1 612.4h0M463.8 615.3h0M464 608.6h0M462.3 616.7h0M462.1 611.5h0M463 611.9h0M464.5 612.4h0M461.8 615.7h0M465.1 611.2h0M460.1 611.9h0M463.8 612.2h0M464.9 618.5h0M465.4 612.7h0M463.9 614.3h0M464.8 615.9h0M467 606.7h0M463.9 613.4h0M464.5 613.6h0M466 616h0M464.9 611.8h0M466.9 603.3h0M465.8 617.3h0M466.4 617.5h0M465 612h0M463 609.5h0M467 609h0M464.5 608.2h0M465.1 617.5h0M463.6 608.6h0M466.5 615.8h0M460.6 601.4h0M464.8 615.4h0M468.5 611.9h0M463.7 618.5h0M461.7 618.5h0M467.6 604.2h0M463.4 605h0M467 612.9h0M468.2 603.6h0M464.9 614.1h0" stroke="#0a0a0a" stroke-width="1" stroke-linecap="round" stroke-opacity="0.75"/>
<path d="M475.4 611.6h0M475.1 611.4h0M473.1 618.5h0M473.8 608.4h0M474.2 615.6h0M470.8 615.2h0M472.2 611.7h0M477 614.9h0M477.9 615.8h0M471.9 609.1h0M472 603.4h0M473.1 616.8h0M472.8 613.9h0M474.6 617.9h0M476.8 618.9h0M475.2 599.7h0M472.6 617h0M474.9 613.7h0M475.2 611h0M472.2 618.7h0M475.1 613.8h0M473 609.7h0M474.2 612.9h0M474 614.5h0M470 606h0M476 615.6h0M474.2 611.2h0M475.4 614.4h0M477.5 615.7h0M472.2 613.2h0M475.3 609.3h0M476.9 613.4h0M474 618.3h0M473.6 616.4h0M470.6 611h0M471.6 603.8h0M470 617h0M474.6 618.6h0M473.6 615.7h0M472.9 611.4h0M474.5 611.9h0M478.3 611.6h0M470.6 615.2h0M475.7 609.4h0M473 612.3h0M474 614.2h0M475.9 602.7h0M473.6 612.4h0M472.6 615.2h0M475.9 613h0M470.4 604h0M475.8 610.8h0M476 604.4h0M476.9 617.9h0M473.8 616.4h0M470.6 610.3h0M473 614.2h0M475.7 613.7h0M475.3 616.2h0M474.3 614.9h0M470.4 615.1h0M471 616.5h0M474.8 599.7h0M472.7 615.6h0M473.1 610.4h0M475.9 613.7h0M472.9 613.5h0M475.2 607.4h0M473.3 607.9h0M473.1 614.4h0M476.2 617.7h0M475.1 613.4h0M477 611.5h0M473.4 613.7h0M474.4 615.7h0M473.7 604.4h0M473.4 610.9h0M475.1 617.8h0M473.1 617h0M473.4 614.7h0M475.6 614.1h0M473 610.1h0M475.7 618.1h0M478.2 616.3h0M474.7 600.8h0M474.3 606.7h0M472.1 613.8h0M474.8 618.4h0M474.7 618.8h0M474.2 607.5h0M473.3 603.5h0M475.6 615.6h0M471.2 614.3h0M471.4 612.9h0M475.4 616.5h0M474.8 611.8h0M470.2 604.6h0M473.6 617.9h0M472.4 614.3h0M476.2 614.2h0M476.6 607.4h0M473.7 616.1h0M476 617.8h0M474.2 609.9h0M471.9 616.8h0M477.4 611.2h0M474.3 611.2h0M474.2 604.7h0M476.5 604.5h0M470.1 600.6h0M472.1 613.7h0M473 614.2h0M473 618.5h0M475.5 602.7h0M476.9 612.2h0M474.1 617h0M473.9 608.6h0M472.6 615.7h0M474.1 618.2h0M476.9 614.2h0M475.8 601.9h0M472.5 615.9h0M472.2 606.9h0M474.1 612.5h0M474.9 610.3h0M477.4 613.7h0M473.7 613.5h0M473.6 614.3h0M472.3 600.2h0M476.7 618.3h0M475.3 604.3h0M472.5 603.8h0M472.5 612.5h0M474.6 613.4h0M472.4 615.5h0M470.5 602.4h0M474.2 610.7h0M476.3 616.9h0M470.4 613.4h0M473.6 615.3h0M471.5 614.9h0M470.5 612.1h0M472 616.6h0M472.4 616.1h0M475.2 615.9h0M473.3 609.3h0M470.6 613.3h0M476.8 614.9h0M471.8 614.4h0M474 610.7h0M474.9 616.3h0M475.9 614.2h0M469.2 615.3h0M472.7 611.7h0M474.3 616.4h0M477.7 607.8h0M478 617.8h0M475.9 615.9h0M476.1 616.5h0M473.8 601.1h0M474.8 611.1h0M474.7 600.4h0M471.1 616.3h0M475.1 616.6h0M473 604.6h0M471.9 616.6h0M476.1 602.1h0M471.4 602.4h0M477.5 611.7h0M475.1 617.3h0M472.5 616.3h0M473.5 612.5h0M473.5 617.2h0M474.4 618h0M474.4 616.3h0M477.8 611.4h0M473.8 614.8h0M472.7 610.9h0M470.3 606.1h0M472.7 614.3h0M475.4 612.4h0M473.9 614.1h0M477.2 612.1h0M475.8 605.9h0M474.9 615.2h0M470.9 615.4h0M473.5 617.5h0M471.2 601.9h0M473.1 606.5h0M476.6 603.4h0M473.8 613.7h0M475.5 605.4h0M471.4 599.5h0M470.6 615.1h0M474.3 612.4h0M473.6 605.9h0M472.6 616.1h0M474.2 603.3h0M471.6 612.9h0M475.7 614.3h0M474.4 614.8h0M472.6 611.7h0M474.6 618.7h0M473.3 612.9h0M473.7 612.8h0M473 617.3h0M473.2 616.4h0M472 610h0M473.1 608.8h0M474.6 615.2h0M474.4 605.8h0M472.7 605.8h0M472.6 608.4h0M475.6 618.5h0M473.3 616.1h0M472.2 617.5h0M476.2 617.4h0M477.1 613.8h0M472.5 611.7h0M478 610.6h0M473.7 606.2h0M471.3 602.3h0M470.4 600.3h0M470.7 611.8h0M476.4 603.1h0M472.7 618.5h0M472.9 616.6h0M475.9 615.2h0M474.2 616.5h0M472.7 619h0M469.2 609.5h0M473 616.7h0M474.7 613.9h0M476.1 616.9h0M477.5 604.7h0M472.1 607.3h0M473 614.1h0M473.6 615h0M473.3 611.6h0M474.9 612.6h0M476.5 608.6h0M470.9 611.5h0M472.5 609.1h0M473.1 613h0M475.3 618.8h0M475 618.4h0M469.8 616.7h0M471 617h0M478 615.7h0M474 615.6h0M478.1 610.4h0M475.4 618.1h0M472.9 612.8h0M472.5 618.6h0M473.6 611.6h0M473.3 612.9h0M476.1 615.4h0M474.7 619h0M474.3 613.8h0M476.4 608.9h0M472.4 616.4h0M476.1 600.6h0M472.9 609.5h0M476.2 603.5h0M477.3 615.4h0M476.6 615.7h0M472.6 615.5h0M475.2 614.6h0M473.6 613.1h0M476.7 606.6h0M472.6 607.7h0M473 606.6h0M475.2 612.2h0M475.4 614.9h0M473.9 617h0M472.3 615.3h0M476.5 611.5h0M472.4 614.4h0M473.8 609.1h0M475.7 616.3h0M476 612.7h0M475.8 606.1h0M473.5 610.1h0M473.1 617.2h0M473.2 616.8h0M475.1 617.9h0M474.7 611.2h0M475.5 616.8h0M470.4 616.1h0M472.3 613.8h0M472.8 604.3h0M469 608.6h0M473 615.4h0M472 611.7h0M474.5 610.5h0M473.7 614.9h0M472.5 618h0M474.1 615.9h0M472.1 611.5h0M475.9 616.7h0M476.5 609.9h0M473.5 613.2h0M472.1 605.8h0M473.7 608.7h0M474.6 613.6h0M474.3 609.7h0M471.3 617.1h0M472.4 616.6h0M474.2 609.2h0M476.9 612.6h0M476.4 612.5h0M470.5 615.1h0M476.8 614.3h0M472.4 615.9h0M476.4 608.8h0M477.3 615.7h0M470.5 612.4h0M470.9 617.3h0M470.7 610.9h0M470.1 613.2h0M473.6 613.4h0M478.9 616.8h0M472.5 613h0M475.2 615.6h0M473.7 612h0M477.8 606.5h0M477.1 616.5h0M475.4 616.2h0M473.4 615.4h0M471.5 611.2h0M476.6 609.4h0M472.1 615.9h0M474.7 611h0M473.3 611.1h0M473.8 612.2h0M475.4 611.3h0M477.3 604.5h0M473.8 610.8h0M472.1 614.3h0M473.7 612.6h0M471.4 611.6h0M472.2 614.8h0M475.9 615h0M470 612.2h0M471.2 609.3h0M472.7 616.4h0M470.6 608.1h0M470.1 602.3h0M473.5 600.1h0M471.9 616.2h0M473 612.1h0M474.9 615.1h0M478.7 609.2h0M476.4 614.9h0M476.2 615.2h0M474.6 600.2h0M478.8 606.1h0M472 615.5h0M472 610.3h0M475.9 615.8h0M474.2 610.6h0M471.8 603.5h0M473 602.5h0M474.6 614.4h0M474 612.8h0M472.4 599.5h0M474.7 613.2h0M475.7 616.5h0M476.7 611.8h0M478.9 608.2h0M476.2 617.7h0M474.5 618h0M471.5 606.6h0M476 616.4h0M470.8 615.3h0M472 606.2h0M473.1 618.4h0M473.8 613.9h0M475.6 608.1h0M474.3 616.6h0M477.3 612.9h0M469.7 617.8h0M478.1 603.6h0M473.4 611.5h0M473.8 615.6h0M475.3 607.4h0M472.9 617.9h0M472.2 616.1h0M469.2 610.9h0M475.4 618.7h0M477.6 609.9h0M474.2 614.5h0M475 618.1h0M472.2 605.7h0M474.7 603.5h0M473.8 610.2h0M475.3 606.6h0M477.3 600.4h0M471.7 615.4h0M475.8 611h0M472 612.1h0M474.8 612.3h0M473.8 611.1h0M474.1 614.6h0M473.1 615.7h0M473.6 615h0M473.4 614.3h0M470.9 613h0M473.1 607.7h0M472.7 614.1h0M472.3 613.3h0M476.6 612.7h0M477.4 616.3h0M472.8 613.7h0M472.8 615.2h0M471.1 602.5h0M470.9 615.7h0M474.2 614.2h0M477.8 616.8h0M472.8 601.8h0M470.3 610.5h0M473.3 614.5h0M476.4 613.8h0M472.6 604.2h0M477.4 615.3h0M472.8 614.3h0M475.6 617.1h0M476.6 615.9h0M473.6 612.3h0M475.7 610.3h0M474.4 613.7h0M478.5 609.5h0M472.5 615.2h0M473.7 615.6h0M473.2 607h0M475.6 613.3h0M469.3 599.8h0M473.1 619h0M476.1 601h0M473.8 618.2h0M477.1 600.8h0M469.2 607.8h0M473.6 615h0M475.8 609.5h0M471 608.9h0M473.9 610.1h0M476 609.4h0M474.3 618.4h0M471.2 613.5h0M472.6 617.6h0M474 615.9h0M472.6 614.7h0M471.1 607.1h0M474.5 613.3h0M471.5 605.3h0M476.4 613.1h0M474.5 613.3h0M476.9 603.2h0M474.7 610.7h0M478.6 602h0M478.4 610.8h0M475.3 609.3h0M470.4 613.4h0M471.4 612.8h0M474.2 610.7h0M472.9 612.1h0M473 616.9h0M475.1 618.3h0M476.8 615.1h0M471.3 614.8h0M475.3 616h0M476.8 614.7h0M474.5 610h0M474.8 613.8h0M471.4 607.9h0M473.6 609.7h0M474 610h0M474.6 613.6h0M470.4 607.5h0M471.1 615.6h0M474.8 610.3h0M475.8 616.9h0M471.1 616h0M473.1 613.7h0M474.8 609.6h0M473.6 614.8h0M478.1 606.8h0M475.9 613.8h0M475.7 617.3h0M471.7 612.9h0M472.8 617.8h0M474.7 611.9h0M469 619h0M471.9 602.1h0M470.5 612.9h0M476.2 600.2h0M475.1 614.8h0M472.8 615.2h0M474.6 612.9h0M474 614.7h0M473.6 614.4h0M473.4 614.5h0M478.6 609.8h0M473.7 613.1h0M476 618.3h0M474.2 615.3h0M475.3 611.7h0M473.2 611.3h0M473.5 614.9h0M471.7 615.2h0M476.4 613.3h0M470.4 600.7h0M472 618.2h0M473.7 600.7h0M474.8 608.2h0M472.3 610.7h0M475.2 615.2h0M474 613.6h0M473.4 610.4h0M473.5 613.2h0M475 615.5h0M474.2 616.5h0M472.2 618.4h0M469.9 611.5h0M475.2 612.2h0M478.2 609.9h0M470.7 618.4h0M470.6 605h0M473.3 602h0M473.6 615.1h0M471.3 617.4h0M472.1 616.4h0M473.7 611.5h0M474.9 609.3h0M475.3 616.6h0M472.8 610.4h0M476.1 610.1h0M473.6 611h0M477.9 615.9h0M473.6 615.1h0M477 617h0M475.2 600.8h0M478.1 616.9h0M473.2 615.3h0M472.7 616.8h0M475.6 612.9h0M471.2 615.9h0M471.3 603.7h0M475.1 615.1h0M473.3 607.8h0M477.7 602.9h0M476 615.4h0M472.9 615.1h0M476.8 608.1h0M473.1 616h0M472.4 615.5h0M475.8 611.2h0M475 608.8h0M472.5 602.2h0M472.4 618.6h0M476 613.7h0M473.4 605.3h0M472.4 606h0M472.3 610.5h0M472.3 614h0M476.3 617.4h0M474.2 611.7h0M477.5 601.7h0M474 614.5h0M473.2 612h0M472.2 608h0M475.8 600.4h0M475.5 613.4h0M471.1 613h0M473.1 607h0M475.6 611.1h0M472.6 615.3h0M475 616.2h0M472.4 612.8h0M471.8 617.5h0M471.4 618.9h0M474.3 616.7h0M477 608.4h0M469.3 608.8h0M473.5 617.1h0M474.5 614.2h0M478.2 619.1h0M473 614h0M477.2 617.2h0M473.9 611.9h0M475.8 613.8h0M476 601.9h0M474.8 618.3h0M472.8 617.7h0M473.3 614.7h0M474.2 608.8h0M477.2 610.6h0M471 614.5h0M469.4 605.9h0M477.1 610.4h0" stroke="#0a0a0a" stroke-width="1" stroke-linecap="round" stroke-opacity="0.75"/>
<path d="M483.2 603.5h0M480.8 615h0M483.6 615.3h0M483.5 614.5h0M482.7 616.3h0M484.7 608.5h0M483.3 614.5h0M485.2 609.1h0M483.7 612.3h0M484.4 617.2h0M484.1 615.7h0M484.2 614h0M480.8 615.7h0M483 601.5h0M485.3 605.3h0M483.1 609.9h0M480 617.1h0M486.4 614.7h0M480.6 616.9h0M481.9 610.8h0M480.3 605.7h0M481 614.1h0M485.8 614.2h0M482.3 615.4h0M481.3 618.1h0M480.8 615.1h0M481.6 616.7h0M487.3 617h0M483.9 615.8h0M484.3 615.4h0M480.7 613.9h0M484.2 610h0M484.8 612.4h0M481.7 611.7h0M486.4 611.7h0M480.6 603.1h0M482.6 615.9h0M482.4 613.4h0M482 604h0M483.2 615.5h0M483.5 610h0M485.7 615h0M482.6 608.6h0M483.4 612.8h0M484.3 614h0M486.8 614.1h0M484.3 610.7h0M483.5 611.5h0M488.3 616.3h0M482.9 617.2h0M482.4 613.6h0M482.5 617h0M487.3 616h0M487 613.7h0M484.6 612.6h0M483.7 612h0M479.1 618.6h0M483.3 614.1h0M486.6 605.6h0M483.3 614.9h0M484 613.1h0M486.2 612.7h0M480.8 608.2h0M483.8 617.7h0M479.9 614.7h0M481.4 612.5h0M485.5 618.3h0M483.7 617h0M483.6 616.9h0M485.3 610h0M485.3 610.5h0M482.7 615.7h0M485.9 614.7h0M482 614.5h0M482.1 615.5h0M486.6 608.6h0M485.7 616.2h0M483.4 616.1h0M483.9 602.7h0M486.3 603.6h0M486.1 615.2h0M481.2 615.7h0M481.9 610h0M480.8 613.8h0M483.6 611.3h0M480.1 614.4h0M480.4 602.1h0M481.8 605.6h0M482.5 608.9h0M482.5 616.3h0M481.2 615.3h0M485.4 606.7h0M483.9 613.6h0M482 603.4h0M484.6 614h0M481.1 613.4h0M482.2 615.8h0M484.4 617.8h0M482.5 601.8h0M484.3 616h0M482.7 615h0M486.1 616.1h0M484 613.7h0M482.9 612.9h0M484.6 614.4h0M484.3 614.4h0M483.8 607.3h0M483.9 614.9h0M488 604.7h0M485.7 614.4h0M481.5 616.7h0M482.6 609.7h0M482.5 609.8h0M481.1 611.4h0M486.2 607.4h0M484.7 612.8h0M488.2 609.5h0M485.6 612h0M485.5 613.3h0M484.8 614h0M483.7 613h0M482.6 613.2h0M484.4 617.6h0M481.6 614.3h0M483.3 614.6h0M487.3 608.4h0M485.3 613.6h0M483.4 615h0M485.3 614.7h0M481.8 601.6h0M482.1 615.8h0M483.4 610.1h0M481.9 617.4h0M486.2 612.2h0M483.7 611.7h0M484.3 612.3h0M481.3 611.1h0M481.3 617.5h0M484.1 618.2h0M483.6 610.2h0M483.1 611.1h0M484 614.5h0M483.3 612.2h0M483.3 609h0M487.7 610.7h0M486.2 603.1h0M483.2 614.8h0M486.5 613.7h0M484.1 617.6h0M483.2 615.3h0M484.6 601.6h0M484.5 610.7h0M482.8 616.9h0M484.8 616h0M486.7 617.1h0M480.4 607.6h0M485.2 612.4h0M483.9 609.8h0M485.3 612.9h0M482.3 618.2h0M487.6 613.4h0M481 602.9h0M484.7 609.9h0M484.4 606.1h0M479.4 618h0M481.6 605.4h0M481.5 618.6h0M480.2 613.5h0M483.1 606.2h0M482.3 614.3h0M482.8 612.5h0M483.9 616.4h0M483.3 616.1h0M481.9 604.4h0M483 616.2h0M481.1 616.3h0M484.4 610h0M486.2 604.5h0M480.6 604.3h0M483.7 606.5h0M479.2 617.8h0M484.6 613.5h0M486.5 615.2h0M479 603.4h0M479.3 602h0M481.5 612.5h0M481.2 612.3h0M483.9 615.4h0M479.7 603.5h0M483.5 609.7h0M485.1 614.9h0M483.4 614.8h0M483.7 614.9h0M480.6 614.6h0M482.7 618.2h0M480.9 612.1h0M482.9 616.8h0M480.8 611.6h0M478.9 614.7h0M483 603.1h0" stroke="#0a0a0a" stroke-width="1" stroke-linecap="round" stroke-opacity="0.75"/>
<path d="M495.1 617.8h0M496.8 603.5h0M493.3 613.3h0M492.8 618h0M493.8 613.7h0M493.2 616.8h0M494.7 614.2h0M493.7 618.4h0M491.8 613.7h0M491.8 619.2h0M495.3 617.8h0M493.8 612.6h0M495.1 605.3h0M492.8 618.4h0M493.3 618.1h0M494 618.7h0M497.2 614.3h0M491.5 618.9h0M496.3 611h0M494 617.5h0M496.2 608.7h0M493.4 614.4h0M496.3 603.6h0M491.2 607.6h0M493.7 612.3h0M493.8 612h0M497.1 612h0M491 614.1h0M493.2 616.5h0M492.5 606.9h0M495.8 615.1h0M493.2 614.5h0M494.7 613.1h0M490.6 610.9h0M494.3 608.8h0M490.6 605.7h0M495 613h0M496.5 607.9h0M492.2 607.6h0M494.5 615.7h0M496.1 607.6h0M493.1 618.2h0M492.6 615.3h0M496.8 610.9h0M490.7 617h0M494.8 608.2h0M489.9 614.2h0M495.1 616.8h0M494.7 614h0M495.5 616.7h0M493.3 607.4h0M496.1 615.6h0M492.9 615.7h0M492.5 612.8h0M494.2 616.1h0M493.7 612h0M494 618.4h0M493 608.1h0M493.2 608.2h0M494.7 615.1h0M494.9 613.1h0M493.9 615.9h0M492.6 612.1h0M496.6 617.8h0M492.5 610h0M495.6 617.6h0M493.1 614.6h0M491.5 605h0M491.6 616.6h0M493.1 608.5h0" stroke="#0a0a0a" stroke-width="1" stroke-linecap="round" stroke-opacity="0.75"/>
<path d="M503.8 620.2h0M504.7 609.6h0M502.1 606.8h0M503.3 622.8h0M501.3 612.5h0M504 609.5h0M503.6 623.2h0M504.2 620.9h0M503.8 624.2h0M500.6 621.1h0M500.4 623.6h0M504.6 611.4h0M504.8 616.5h0M503.3 621.4h0M501.3 619.4h0M502.5 622.2h0M501.6 613.5h0M504.3 610.4h0M504.8 618.7h0M503 623.7h0M504.4 622.7h0M503.3 618.2h0M505.6 625.5h0M504.7 618h0M502.5 616.7h0M501.9 606.4h0M503.2 622.3h0M505.3 622.4h0M505.7 621.2h0M503.4 606.4h0M500.9 615.4h0M502.9 616.6h0M502.4 624.7h0M506.3 617.4h0M503.5 619.4h0M501.3 615.3h0M502.8 625.8h0M504.1 616.9h0M502.6 624.9h0M501.6 612.4h0M501.9 619.1h0M504.5 620.5h0M501.5 620.9h0M504 625.1h0M501.4 622.9h0M504.7 618.9h0M501.9 615.2h0M502.2 621.6h0M503.8 619.2h0M504.3 624.9h0M501.4 615.5h0M505.6 625.3h0M502.9 621h0M501.6 623.4h0M503.6 616.7h0M501.9 608.5h0M502.7 609.7h0M501 611.4h0M499.2 615h0M503.1 623.6h0M500.6 619.5h0M503.6 621.2h0M505.2 606.9h0M503.5 626.1h0M502.8 621.5h0M503 608.3h0M502.5 619.5h0M501.1 618.2h0M506.8 613.8h0M501.5 619.6h0M503.8 621.9h0M506.8 617.4h0M507.6 624.2h0M505.5 614.7h0M504.6 625.8h0M503.7 613h0M504.7 623h0M502.5 622.3h0M503.8 617.9h0M503.9 620.7h0M499 623.8h0M506.4 619.6h0M504.1 619.1h0M503.5 619.3h0M501.6 614.2h0M502.5 612.8h0M502.4 622.1h0M503.7 619.4h0M502.3 607.1h0M507.4 624.2h0M503.3 623.7h0M502.7 621.2h0M504.4 619.4h0M502.8 622.1h0M501.1 623h0M500.9 621.5h0M500.7 619.3h0M502.9 623.3h0M505.6 626.3h0M503.8 623.1h0M503 621.1h0M501.9 624.1h0M504.9 620.4h0M502.9 621.4h0M501.9 617.1h0M503.5 622.3h0M503.9 620.9h0M504.5 626.9h0M503.5 622.7h0M503.1 621h0M503.4 617h0M502.5 620.1h0M502.6 618.3h0M502.5 615.1h0M506.2 619.7h0M501.5 606.5h0M503.6 620.9h0M505.3 613.2h0M504.6 625.5h0M504 624.6h0M503.2 621.2h0M503.6 614.5h0M504.6 608.2h0M505.6 610.4h0M501.3 622.4h0M505.3 614.3h0M501.9 626.3h0M505 619.9h0M501.2 614.6h0M505.3 622.2h0M502.7 627h0M501.8 614.6h0M501.9 609.1h0M503.1 620.9h0M500.3 621.8h0M502.2 613.7h0M505.4 619.1h0M503 623h0M506.5 623.9h0M506 613.9h0M501.9 614.4h0M505.1 606.6h0M500.7 622.4h0M503.5 618.4h0M503.1 622.5h0M505.5 623.4h0M503.6 622.7h0M504.4 625.9h0M504.3 622h0M501.2 617.9h0" stroke="#0a0a0a" stroke-width="1" stroke-linecap="round" stroke-opacity="0.75"/>
<path d="M509.9 624.2h0M511 617.5h0M513.1 620.8h0M511.4 630.6h0M513 624.2h0M510.6 615.3h0M514.7 635.5h0M510.7 633.6h0M511.2 621.5h0M511.5 628.2h0M513.3 633.8h0M511.4 623.3h0M513 616.1h0M509.7 632.8h0M514.7 636.3h0M514.1 630.2h0M510.4 631.5h0M513.1 623.7h0M511.3 625.7h0M513.3 631.7h0M513.5 634.3h0M512.1 628.2h0M511.1 619.3h0M511 625.3h0M509.7 637h0M513.3 628h0M512.6 629.7h0M513.7 619.2h0M511.3 619.8h0M511.9 618.1h0M512.9 632.3h0M513.1 631.2h0M511.2 617.9h0M514.6 630.5h0M511.2 624.4h0M510.1 621.7h0M516.4 626h0M514.1 616.3h0M513.5 632.2h0M511.1 629.4h0M512 616h0M514.9 634.5h0M513.3 634.9h0M514.8 636.8h0M514.3 634.5h0M512 621.6h0M514.4 627.1h0M514.5 635.3h0M512.9 617.1h0M513.6 620.9h0" stroke="#0a0a0a" stroke-width="1" stroke-linecap="round" stroke-opacity="0.75"/>
<line x1="429.7" y1="597.8" x2="429.7" y2="640.1" stroke="#231f20" stroke-width="1.1"/>
<line x1="429.2" y1="639.6" x2="518" y2="639.6" stroke="#231f20" stroke-width="1.2"/>
<line x1="427" y1="605" x2="429.7" y2="605" stroke="#231f20" stroke-width="0.9"/>
<line x1="427" y1="616.5" x2="429.7" y2="616.5" stroke="#231f20" stroke-width="0.9"/>
<line x1="427" y1="628" x2="429.7" y2="628" stroke="#231f20" stroke-width="0.9"/>
<line x1="427" y1="639.4" x2="429.7" y2="639.4" stroke="#231f20" stroke-width="0.9"/>
<line x1="435.2" y1="639.6" x2="435.2" y2="642.2" stroke="#231f20" stroke-width="0.9"/>
<line x1="444.9" y1="639.6" x2="444.9" y2="642.2" stroke="#231f20" stroke-width="0.9"/>
<line x1="454.6" y1="639.6" x2="454.6" y2="642.2" stroke="#231f20" stroke-width="0.9"/>
<line x1="464.3" y1="639.6" x2="464.3" y2="642.2" stroke="#231f20" stroke-width="0.9"/>
<line x1="474" y1="639.6" x2="474" y2="642.2" stroke="#231f20" stroke-width="0.9"/>
<line x1="483.7" y1="639.6" x2="483.7" y2="642.2" stroke="#231f20" stroke-width="0.9"/>
<line x1="493.4" y1="639.6" x2="493.4" y2="642.2" stroke="#231f20" stroke-width="0.9"/>
<line x1="503.1" y1="639.6" x2="503.1" y2="642.2" stroke="#231f20" stroke-width="0.9"/>
<line x1="512.8" y1="639.6" x2="512.8" y2="642.2" stroke="#231f20" stroke-width="0.9"/>
<text x="423.4" y="629" font-size="8.6" text-anchor="start" fill="#333" font-style="italic" stroke="#333" stroke-width="0.12" transform="rotate(-90 423.4 629)" textLength="20" lengthAdjust="spacingAndGlyphs">CD74</text>
<line x1="435.2" y1="648" x2="435.2" y2="689.4" stroke="#d2d2d2" stroke-width="0.7"/>
<line x1="444.9" y1="648" x2="444.9" y2="689.4" stroke="#d2d2d2" stroke-width="0.7"/>
<line x1="454.6" y1="648" x2="454.6" y2="689.4" stroke="#d2d2d2" stroke-width="0.7"/>
<line x1="464.3" y1="648" x2="464.3" y2="689.4" stroke="#d2d2d2" stroke-width="0.7"/>
<line x1="474" y1="648" x2="474" y2="689.4" stroke="#d2d2d2" stroke-width="0.7"/>
<line x1="483.7" y1="648" x2="483.7" y2="689.4" stroke="#d2d2d2" stroke-width="0.7"/>
<line x1="493.4" y1="648" x2="493.4" y2="689.4" stroke="#d2d2d2" stroke-width="0.7"/>
<line x1="503.1" y1="648" x2="503.1" y2="689.4" stroke="#d2d2d2" stroke-width="0.7"/>
<line x1="512.8" y1="648" x2="512.8" y2="689.4" stroke="#d2d2d2" stroke-width="0.7"/>
<path d="M435.2,689.4Q434.9,688.5 434.9,680.1Q435,671.6 435.1,671.6L435.2,671.6Z" fill="#cc1428" stroke="none" stroke-width="1"/>
<path d="M435.2,689.4Q435.5,688.5 435.4,682.3Q435.4,676.1 435.3,676.1L435.2,676.1Z" fill="#1a1ad0" stroke="none" stroke-width="1"/>
<path d="M444.9,689.4Q440.9,689.3 441.8,688.2Q442.6,687.2 443.6,685.6Q444.6,684.1 444.6,680.1Q444.6,676.1 444.6,669.4Q444.7,662.8 444.8,662.8L444.9,662.8Z" fill="#cc1428" stroke="none" stroke-width="1"/>
<path d="M444.9,689.4Q448.9,689.3 448,688.2Q447.2,687.2 446.2,685.6Q445.2,684.1 445.2,680.1Q445.2,676.1 445.1,669.4Q445.1,662.8 445,662.8L444.9,662.8Z" fill="#1a1ad0" stroke="none" stroke-width="1"/>
<path d="M454.6,689.4Q450,689.3 451,688.2Q452,687.2 453.1,685.6Q454.3,684.1 453.7,681.9Q453.1,679.6 452.6,676.7Q452.1,673.9 452.3,670.5Q452.6,667.2 453.2,662.8Q453.8,658.3 454.1,656.1Q454.5,653.9 454.5,653.9L454.6,653.9Z" fill="#cc1428" stroke="none" stroke-width="1"/>
<path d="M454.6,689.4Q459.2,689.3 458.2,688.2Q457.2,687.2 456,685.6Q454.9,684.1 456,681.9Q457.1,679.6 457.2,677.9Q457.4,676.1 456.8,673.9Q456.2,671.6 455.4,669.4Q454.7,667.2 454.6,667.2L454.6,667.2Z" fill="#1a1ad0" stroke="none" stroke-width="1"/>
<path d="M464.3,689.4Q460.3,689.3 461.2,688.2Q462,687.2 463,685.6Q464,684.1 464,680.1Q463.9,676.1 464,669.4Q464.1,662.8 464.2,662.8L464.3,662.8Z" fill="#cc1428" stroke="none" stroke-width="1"/>
<path d="M464.3,689.4Q468.3,689.3 467.4,688.2Q466.6,687.2 465.6,685.6Q464.6,684.1 465.6,681.9Q466.6,679.6 466.5,676.7Q466.3,673.9 465.7,671.6Q465.1,669.4 464.8,667.2Q464.4,665 464.4,665L464.3,665Z" fill="#1a1ad0" stroke="none" stroke-width="1"/>
<path d="M474,689.4Q473,689.2 473.3,688Q473.6,686.7 473.8,685.8Q473.9,685 473.9,685L474,685Z" fill="#cc1428" stroke="none" stroke-width="1"/>
<path d="M474,689.4Q477,689.2 476.2,688Q475.5,686.7 474.8,685.8Q474.1,685 474.1,685L474,685Z" fill="#1a1ad0" stroke="none" stroke-width="1"/>
<path d="M483.7,689.4Q479.1,689.3 480.1,688.2Q481.1,687.2 482.2,685.6Q483.4,684.1 482.9,681.9Q482.4,679.6 481.8,675.6Q481.2,671.6 481.4,667.2Q481.7,662.8 482.4,659.4Q483.1,656.1 483.3,654.5Q483.6,653 483.6,653L483.7,653Z" fill="#cc1428" stroke="none" stroke-width="1"/>
<path d="M483.7,689.4Q488.3,689.3 487.3,688.2Q486.3,687.2 485.1,685.6Q484,684.1 484.9,682.3Q485.7,680.5 485.9,677.6Q486.2,674.7 485.5,672.1Q484.9,669.4 484.4,667.2Q483.8,665 483.8,665L483.7,665Z" fill="#1a1ad0" stroke="none" stroke-width="1"/>
<path d="M493.4,689.4Q489.8,689.2 490.5,687.7Q491.2,686.3 491.2,684.5Q491.2,682.7 490.6,678.3Q490,673.9 489.9,669.4Q489.9,665 490.6,660.5Q491.4,656.1 492.3,653.2Q493.2,650.3 493.3,650.3L493.4,650.3Z" fill="#cc1428" stroke="none" stroke-width="1"/>
<path d="M493.4,689.4Q497,689.2 496.3,687.7Q495.6,686.3 496.1,683.4Q496.6,680.5 497.2,677.2Q497.8,673.9 497.7,670.5Q497.6,667.2 496.7,662.8Q495.8,658.3 494.8,656.1Q493.7,653.9 493.5,653.9L493.4,653.9Z" fill="#1a1ad0" stroke="none" stroke-width="1"/>
<path d="M503.1,689.4Q502.3,689.2 502.5,687.1Q502.8,685 502.9,685L503.1,685Z" fill="#cc1428" stroke="none" stroke-width="1"/>
<path d="M503.1,689.4Q506.1,689.2 505.4,688Q504.7,686.7 504.6,684.7Q504.6,682.7 504.4,680.5Q504.3,678.3 503.9,673.9Q503.6,669.4 503.4,667.2Q503.2,665 503.1,665L503.1,665Z" fill="#1a1ad0" stroke="none" stroke-width="1"/>
<path d="M512.8,689.4Q512.5,689.2 512.6,687.1Q512.7,685 512.8,685L512.8,685Z" fill="#cc1428" stroke="none" stroke-width="1"/>
<path d="M512.8,689.4Q513.1,689.2 513,687.1Q512.9,685 512.8,685L512.8,685Z" fill="#1a1ad0" stroke="none" stroke-width="1"/>
<path d="M435 658.7h0M434.5 663.4h0M434.9 654.4h0M437.6 670.3h0M435.4 670.2h0M434 656.3h0M433.9 672.5h0M434.8 659.3h0M434.8 659.2h0M434.8 672.5h0M435.5 663.8h0M436.1 671.6h0M436.4 673.4h0M434.5 660.2h0M434.7 669.5h0M435.1 669.3h0M433.9 670.9h0M436.3 663.7h0M437.7 654.4h0M436.1 657.3h0M436.6 669.9h0M435.1 662.9h0M438.2 667.6h0M435.7 670.2h0M435.8 657.7h0M435.1 657.3h0M433.4 673.1h0M434.3 658.1h0M436.9 666.8h0M432.4 654h0M432.5 658.1h0M434.9 666.5h0M435.5 670.1h0M432.9 671.3h0M437.3 673.9h0" stroke="#0a0a0a" stroke-width="1" stroke-linecap="round" stroke-opacity="0.72"/>
<path d="M445.9 673.7h0M444.3 676.5h0M445.6 676.1h0M441.8 663.6h0M441.7 674.3h0M446 677.8h0M445.3 671.1h0M446 671.8h0M444.1 672.6h0M448.9 672.8h0M445.7 659.9h0M446.7 676.9h0M447.3 673.4h0M448.1 669.2h0M445.4 666h0M441.4 674.3h0M445.1 667.5h0M442.9 676.3h0M443.8 671.3h0M445.3 669.2h0M444.9 669.8h0M443.1 672.6h0M444.8 668h0M445.8 675.8h0M447.7 670.3h0M446.2 670.8h0M445.4 656.7h0M443.4 674.6h0M446.8 668.7h0M445.8 668.8h0M443.3 667.2h0M445.2 662.5h0M447.5 672.7h0M445.1 674.7h0M444 669h0M441.4 664.7h0M443.3 669.6h0M445.1 675.2h0M446.8 673.5h0M444.3 672.6h0M445.3 670.6h0M445.3 671h0M444.4 663h0M445.7 674.6h0M442.9 656.7h0M440.8 668.2h0M445 670.3h0M443.8 668.9h0M444.9 672.4h0M444 670.4h0M446.6 676.9h0M446.2 671.6h0M448.7 674.9h0M444.3 667.5h0M440.7 668.3h0M446.3 674h0M443.4 671h0M443.2 675.2h0M444.2 666h0M446.4 666.5h0M441.6 672.1h0M447 672.2h0M445.2 668.8h0M444.2 667.1h0M444 676.8h0M444.1 670.5h0M446.8 671.2h0M445.6 664.7h0M445.9 666.9h0M445.6 670.3h0M442.4 659h0M447.2 673.3h0M443.4 675.3h0M443.3 654.1h0M447 657.1h0M446.4 665.7h0M448.7 666.8h0M444.6 665.4h0M442.2 672.3h0M444.5 666.8h0M447.2 667h0M442.7 674.7h0M443.2 667.2h0M442 672.6h0M443.1 668h0M443.3 670.4h0M445.8 661.2h0M447.8 669.4h0M447.5 667h0M444 670.2h0M446.8 671h0M448.6 676.4h0M443.7 672.5h0M443.7 668.5h0M441.7 676.3h0M445.6 671.9h0M443.5 672.8h0M446.6 670.5h0M447.5 674.9h0M447.2 665.7h0M447.7 671.6h0M443.6 656h0M446.1 676.4h0M441.6 676.5h0M443.8 658.1h0M445.4 670.1h0M443.6 656.9h0M445.5 669.5h0M446.4 673.9h0M446.2 674.6h0M446.8 674.1h0M445.9 671.7h0M444.9 674.6h0M442.4 667h0M446.5 664.9h0M445.2 674.3h0M445.2 672.1h0M444 676.3h0M445.4 672.1h0M446.5 675.3h0M442.9 672.7h0M443.2 666.2h0M447.4 668.4h0M448.2 663.4h0M446.6 661h0M445.3 671.4h0M447.1 657.3h0M444.4 667.5h0M443.4 665.7h0M444.9 664.5h0M443.3 675.1h0M442.5 661.6h0M445.5 674.3h0M443.7 665.7h0M445.5 670.3h0M446.6 675.4h0M446.9 671.7h0M446.2 674.5h0M446.9 669.6h0M442.5 670.3h0M444.4 667.1h0M446.9 671.1h0M447 654.5h0M445 675.1h0M443.9 673.7h0M442.3 666.4h0M445 676.2h0M445.1 669.3h0M442.9 669.8h0M445 665.2h0M443.6 671.4h0M445.4 673.6h0M446.3 672.4h0M443.4 669.8h0M444.1 670.9h0M444.5 673h0M443.8 672.9h0M443.8 665.3h0M446.6 676.3h0M444.5 672.4h0M443.9 668.3h0M445.4 669.1h0M445.5 668.9h0M448.1 668.3h0M445 654.4h0M442.8 664h0M443.7 678.3h0M444.1 668h0M444 674h0M444.3 667.3h0M446.5 674.7h0M446 671.8h0M444.1 670h0M444.8 673.5h0M442.8 670.7h0M445.5 669.1h0M443.7 673.9h0M448 669h0M441.7 669.5h0M443.9 667.6h0M445 663.7h0M444.5 671.1h0M446.3 669h0M444 665.1h0M443.7 668.2h0M447.2 662.1h0M441.6 654.1h0M445.3 665.3h0M448.6 668.4h0M445.1 668.6h0M443.6 674h0M444.1 673h0M444.6 670.2h0M442.8 671.8h0M445.9 671.5h0M441.6 665.6h0M443.3 668.7h0M442.3 664.1h0M444.6 673.3h0M444.1 671.2h0M443.6 667.7h0M445.7 672.6h0M446.7 675h0M446.6 669.4h0M448.6 677h0M444.4 667.8h0M446 671.6h0M445.3 666.3h0M448.8 657.4h0M446 669.3h0M444.7 676.9h0M443.6 669.4h0M443.8 677.5h0M443.7 666.5h0M444.8 658.3h0M445 668.8h0M443.7 671.9h0M445.2 668.6h0M443.7 668.9h0M446.9 676.8h0M446 673.4h0M444 672.2h0M446.1 672.6h0M448.9 654.5h0M446.5 669.9h0M446.9 658.2h0M441.4 656.1h0M446.6 664.5h0M446.1 673.4h0M442.8 670.9h0M443.2 653.9h0M445.8 677.2h0M446.7 669.6h0M446.9 678.3h0M445.6 668.3h0M447.8 673.5h0M443.7 667.8h0M445.3 665.1h0M441.7 671.8h0M442.9 674.1h0M447.7 666.2h0M444.9 670.4h0M444.4 675.7h0M444.7 666.8h0M446.4 665.2h0M448.5 660.7h0M446.2 670.7h0M444.3 664.2h0M443.2 674.4h0M444.8 668.5h0M445.3 665.7h0M446.8 671.8h0M446.3 663.7h0M445.5 676.6h0M447.1 671h0M441.7 673.1h0M441.4 673.2h0M444.9 671.3h0M442.5 671.8h0M442.9 672.7h0M444.6 669.7h0M446.5 674.7h0M446.7 669.3h0M442.3 663.2h0M442.6 666.2h0M443.7 669.6h0M444.1 666.9h0M448.4 669.6h0M444.6 667h0M442.6 669.6h0M444.7 668.8h0M448.6 668.7h0M444.9 673.6h0M444.9 656.9h0M443.1 673.5h0M444.5 667.5h0M444.1 671.1h0M443.7 667.4h0M443.5 671h0M443.7 673.5h0M445 666.7h0M443.3 664.7h0M441.9 677.2h0M445.8 654.3h0M443.4 667.5h0M448.3 673.1h0M444.9 669.2h0M442.6 668.2h0M443.7 653.9h0M444.7 676.4h0M443.5 661.4h0M447.1 674.1h0M442.3 664.4h0M445 672.5h0M444.3 668.9h0M446 673.4h0M446.6 674.4h0M443.3 672.2h0M445.7 676h0M444.5 655.7h0M447.2 667.9h0M444.3 663.5h0M444.7 672.9h0M445.9 671.9h0M443.2 672.9h0M445.2 662.5h0M446.2 672.9h0M447.2 674.1h0M446.4 656.7h0M444.8 664.1h0M445.5 667.2h0M444 664.8h0M444.2 667.8h0M443.9 672.9h0M444.8 671h0M444.1 672.2h0M443.2 672.3h0M448 669.9h0M444.1 658.3h0M443.5 676.1h0M445.3 668.9h0M446.2 674.2h0M444.5 665.8h0M443.8 673.1h0M446.1 669.4h0M445.1 672.5h0M444 677.5h0M441.9 675.9h0M448.1 659.2h0M442.9 664.8h0M446.5 655.2h0M447.2 668.6h0M447 656.5h0M442 675.3h0M443.2 671.6h0M442.1 665.1h0M441.5 673.4h0M448.6 659.9h0M446.9 667.3h0M446.9 670.9h0M442.3 671.2h0M446.1 673.1h0M441.7 672.3h0M443.2 670.1h0M444.4 671.8h0M448.8 659h0M444.8 660.7h0M445.4 674.2h0M442.2 666.1h0M442.3 671.7h0M448 671.4h0M444.3 667.2h0M445.9 666.1h0M446.1 668.1h0M447.7 656.3h0M445.2 670.6h0M444.3 671.3h0M443.9 673.4h0M445 666.1h0M443 664.7h0M444.5 667.8h0M443.4 671h0M441.3 669.3h0M440.7 663.1h0M445.4 672h0M446.8 667h0M444.6 663.2h0M441 670h0M447.5 665.9h0M441.9 673.9h0M446.1 660.5h0M443.5 667.4h0M445.9 653.9h0M444.9 678.2h0M444.2 674.3h0M443.2 672.1h0M447.4 660h0M445.3 663h0M446.4 665.9h0M446.5 664.9h0M445.2 670.9h0M443.9 670.9h0M446.3 667.2h0M444.8 676.2h0M442.7 673.9h0M445.9 658.6h0M445.3 663.5h0M448.3 655h0M445.1 675.3h0M447.6 665.9h0M446.9 670.2h0M445.8 669.3h0M444.5 672.5h0M445.3 668.6h0M444.6 671.1h0M446 671.1h0M445.9 673.8h0M445 676.1h0M444.7 672.7h0M444.8 674.3h0M445.2 666.5h0M446.7 671.5h0M447.6 664.4h0M442.4 664.9h0M446 671.4h0M443.5 663.4h0M442.7 670.6h0M447.4 666.9h0M447.5 676.5h0M444.6 664.5h0M443.7 673.2h0M441.1 674.4h0M445.2 663.2h0M447.5 670h0M444.2 657.7h0M444.2 669.6h0M445.1 665.8h0M445 660.2h0M445.9 671.9h0M448.3 665.3h0M444 669.3h0M443.8 673h0M444.6 664.7h0M446.4 670.7h0M444.7 678.2h0M445.6 656.6h0M446 674.8h0M443.2 669.8h0M445.7 654.4h0M444.3 666h0M442.4 671.7h0M446.3 663.7h0M441 654.2h0M445.8 675.1h0M443.9 661.1h0M446.5 671.4h0M445.7 671.7h0M443.4 667.3h0M445.5 671.3h0M445.2 672.6h0M440.7 660.5h0M448.2 676.9h0M443.1 667.3h0M441.9 665h0M445.5 672.2h0M445.9 677.1h0M446.2 674.1h0M448.7 671.2h0M443.4 676.1h0M444.4 672.3h0M444 672.2h0M443.9 666.8h0M443.8 678.2h0M443.6 667.4h0M443.6 669.4h0M443.8 674.6h0M443.9 661.4h0M444.5 662.9h0M446.8 667.7h0M447.1 673.7h0M442.1 673.3h0M444.2 672.5h0M443.4 670.2h0M445.9 669.3h0M447.6 676.6h0M442.6 657h0M445.3 666.6h0M442.5 671h0M443.2 664h0M444 668.5h0M443.3 659.8h0M444.5 662.7h0M443.8 658.2h0M443.6 672.2h0M444.8 677.2h0M444.8 668.8h0M443.5 669.3h0M445.7 672.7h0M448.2 663.8h0M445.3 670h0M444.1 667.8h0M444.2 676h0M444.4 674.5h0M444.2 667.8h0M444.3 666.3h0M444.5 665.3h0M445 662.5h0M447.4 677.4h0M447.7 668h0M447.4 658h0M444.1 663.4h0M447.1 670.6h0M445.7 668.1h0M447.5 673.9h0M443.2 673.5h0M442.6 666h0M445.4 674.8h0M449 670h0M445.1 675.7h0M443.8 672.4h0M446.9 666.2h0M442.3 664h0M443.1 656.5h0M445.3 672.2h0M446.4 673.4h0M445.3 673h0M448.2 674.7h0M443.9 670.5h0M442 670.3h0M444.5 671.2h0M443.5 673.7h0M446.4 670.6h0M445.7 670.4h0M442.2 666.2h0M443.4 670.3h0M444.8 677.5h0M444.5 675.1h0M441.7 677.2h0M443.3 672.4h0M447.7 659.3h0M444.1 666.2h0M442.7 669.6h0M442.7 662.3h0M444.6 669.8h0M442.2 671.4h0M444.5 677.2h0M444.6 674.2h0M445.9 668.9h0M447.2 658.7h0M443.7 668.8h0M444.9 673h0M445.2 670.7h0M443.3 667.2h0M441.4 671.6h0M443.7 677.4h0M445.2 665.3h0M444.2 670.6h0M440.8 669.5h0M443 660.7h0M444.8 678.3h0M444.8 672.6h0M442.5 669.6h0M444.4 671.8h0M441.6 663.9h0M445.7 676.1h0M443 672.4h0M442.5 658h0M442.7 669.3h0M447.7 666.9h0M445.1 677.1h0M444.8 669.5h0M443.9 677h0M444.5 674.9h0M445.4 677.9h0M448 668.1h0M444.8 659.8h0M445.7 665.5h0M444.4 661.5h0M445.4 673.7h0M445.2 673.7h0M443.2 657.1h0M445.9 669.2h0M442.2 672.6h0M444.1 667.8h0M445.1 662.9h0M445.5 665.6h0M445.5 675.3h0M444.7 665.4h0M444.1 667h0M448 662.5h0M444.4 670.4h0M447.7 664.5h0M443.2 666.8h0M444.7 671.2h0M444.1 672h0M443.7 662.7h0M446.5 662.7h0M444.3 671.3h0M441.7 667.2h0M445.3 676.1h0M443.8 668h0M444.6 671.1h0M442.9 672.6h0M441.4 660.1h0M446.4 662.4h0M444.6 674.2h0M446 664.3h0M446 673.3h0M441.6 670h0M445.5 666.7h0M443.8 669.3h0M443.4 669.3h0M445.6 671.4h0M446.8 674.2h0M444.9 677.8h0M442.6 668.7h0M443.9 674.9h0M443.9 662.1h0M447.3 674.2h0M443.7 654.3h0" stroke="#0a0a0a" stroke-width="1" stroke-linecap="round" stroke-opacity="0.72"/>
<path d="M456.4 661.4h0M453.7 654.9h0M455.9 658.3h0M455.1 660h0M453.8 672.1h0M455.8 658.2h0M455 671.4h0M453.9 662.5h0M455.2 655.3h0M454.4 671.1h0M452.5 664.8h0M452.5 666.2h0M455.3 661.7h0M454.5 663.1h0M455.4 660.1h0M454.5 662.4h0M453.8 660.9h0M453.9 656h0M453.1 661.2h0M453.8 653.2h0M455.6 658.4h0M454.1 654.2h0M455 656.6h0M455.5 653.7h0M455.2 660.6h0" stroke="#0a0a0a" stroke-width="1" stroke-linecap="round" stroke-opacity="0.72"/>
<path d="M466 666.4h0M466.9 677.1h0M464.2 670h0M465.2 672.6h0M462.9 674.7h0M465.6 663.6h0M463.5 673h0M465.9 667.7h0M463.9 668.6h0M464.4 671.2h0M466.5 668.2h0M465.3 664.6h0M463.1 675.2h0M461.4 659.1h0M463.1 679.6h0M463.5 665.5h0M465.2 669.6h0M463.8 657.3h0M463.7 668.3h0M464.8 674h0M465.1 669h0M463.5 674.4h0M463.5 675.6h0M466.4 671.5h0M467.3 676.4h0M465 676.7h0M464.2 664.9h0M465.8 673.7h0M466.8 667.8h0M466.4 675.5h0M466.5 678.9h0M465.7 667.4h0M464.3 670.6h0M463.6 674.7h0M465 666.6h0M463.9 663.1h0M464.8 668.9h0M467.6 673.7h0M461.2 670.2h0M466.7 668.1h0M463.2 669.3h0M465.4 667.8h0M464.2 657.3h0M464.8 669.1h0M466.5 679.3h0M464.8 666.4h0M463.6 672.3h0M462.1 672.8h0M467.8 673.4h0M463.5 674.7h0M464.5 666.5h0M459.8 672.1h0M466.1 671.7h0M464.2 668.6h0M466.4 677.9h0M463.6 671.3h0M463.3 674.7h0M465.9 674.6h0M463.4 657.3h0M464.1 671h0M465.9 679.2h0M463.7 663h0M463 672.6h0M463.9 678.9h0M464.8 669.7h0M464 672.2h0M460.7 673.5h0M461.5 671h0M465.1 677.4h0M463.5 661.9h0M466.4 668.2h0M464 672.2h0M462.8 674.6h0M466.1 668.5h0M465.2 667.1h0M462.9 673.3h0M464.8 656.2h0M462.2 671.4h0M467.3 671.4h0M463.6 674.7h0M466.5 663.1h0M463.8 672.3h0M463 670.8h0M465.3 661.1h0M464.5 663.8h0M462.4 663.3h0M464.6 669h0M463.9 678.3h0M463.7 659.9h0M464.2 667.4h0M465.8 666.6h0M467.5 659.5h0M463.7 674.1h0M463.3 680.3h0M465.8 671.3h0M466.8 671.4h0M468 674.8h0M462 677.1h0M465.9 668.7h0M465.7 659.9h0M467 662.6h0M465.6 671.3h0M462.7 680.4h0M461.9 675.2h0M463.9 676.2h0M465.1 671.2h0M466.6 664.3h0M464.1 658.3h0M463.7 677.4h0M464.3 675.6h0M463.3 665.5h0M464.4 659.8h0M465.5 679.7h0M467.2 672.8h0M465.6 673.7h0M466.5 676.8h0M462.7 670.1h0M460.1 665h0M463.2 670.5h0M460 666.6h0M463.6 668.4h0M462.4 672.8h0M462.6 677.5h0M462.7 657.7h0M463.6 674.1h0M464.2 667h0M464.6 675.8h0M462.4 673.1h0M466.6 674.3h0M463.4 671.7h0M466.9 676.5h0M463.7 675.9h0M462.6 664.9h0M461.8 678.1h0M465.7 666.4h0M467.3 676.9h0M465.7 679.8h0M466.6 665.6h0M463.4 672.2h0M467 669.1h0M465.5 679.5h0M464.2 671.7h0M465.1 675.3h0M465.5 677.8h0M462 671.2h0M461.5 678.2h0M466.8 671.5h0M463.4 676.6h0M463.8 678h0M465.1 659.2h0" stroke="#0a0a0a" stroke-width="1" stroke-linecap="round" stroke-opacity="0.72"/>
<path d="M475.5 671.8h0M474.7 664.7h0M473 677.6h0M475.5 671.8h0M473 677.7h0M474.1 665.3h0M476.7 680.3h0M475.2 672.7h0M472.5 671h0M474.5 674h0M475 676.6h0M473.4 678.4h0M473 680.4h0M473.5 673.1h0M475.3 671.4h0M473.2 670.4h0M476.3 667h0M471.8 675.7h0M478.6 669.1h0M473.4 678.9h0M473.1 673.8h0M473.4 668.2h0M476.3 667.3h0M474.6 675.6h0M475.4 674.4h0M478.1 665.2h0M473.2 673.1h0M471.1 667.5h0M478.5 668.5h0M475.7 667.9h0M474.4 665.4h0M478.9 670.6h0M475.2 675.7h0M474.2 674.2h0M475.2 673.6h0M474.2 675.9h0M474.6 677.5h0M474.1 673.7h0M474 673h0M470.9 680.4h0M475.1 674.1h0M474.2 673.1h0M472.5 666.6h0M471.5 673.2h0M474 672.6h0M470.3 665h0M475 674.6h0M473.6 676h0M473.2 670.6h0M472.5 669.5h0M473.9 675.1h0M471.3 676.3h0M474 675.1h0M474.2 672.7h0M475.4 670h0M475.1 668.9h0M474.3 668.4h0M475.6 673.6h0M474.2 674.5h0M472.7 673.9h0M472 674.5h0M476.5 672.5h0M474.1 673.4h0M469.8 676.9h0M471.6 677h0M473 664.4h0M476.4 666.8h0M474.1 672h0M473.5 674.8h0M471.6 677.9h0M472 671.8h0M473.8 673.8h0M476.1 673.2h0M473.6 667.4h0M476.2 672.3h0M476.7 677.5h0M476.2 667.9h0M472.9 671.4h0M472.2 666.6h0M477.9 677.5h0M476.1 678.3h0M470.9 676.4h0M475.3 679.4h0M474.9 676.3h0M473.8 676.5h0M473.4 679.7h0M475 673.3h0M470.8 667.4h0M470.9 672.5h0M474.5 673.7h0M472.9 674.1h0M478.7 663h0M475.4 677.1h0M472.2 667.5h0M471.2 667h0M475 678.2h0M476.2 673h0M475.5 678h0M473 677h0M477.9 671.5h0M473.4 671.1h0M474.1 677h0M471.4 672.3h0M474.8 668.8h0M472.5 669.3h0M470.8 667.5h0M471.7 676.8h0M472.3 676.8h0M476.9 668.9h0M473.5 676.4h0M477.4 670.4h0M473.3 676.3h0M474.9 674.7h0M475.1 672.9h0M476.5 675.4h0M473.9 674.7h0M474.4 671.6h0M471.8 680.2h0M474.8 676.6h0M474.5 669.1h0M471.6 672.2h0M473.5 675.4h0M476.5 674.5h0M471.9 672.5h0M477.5 668.4h0M476.9 669.9h0M472.4 677.9h0M472.9 674.6h0M477 677.6h0M472.1 675.9h0M474.1 671.3h0M474.4 670.3h0M475.2 677.3h0M472.4 674.8h0M472.9 665.3h0M476 669.6h0M474 672.5h0M475.1 675.4h0M476.6 673.7h0M470.3 677.6h0M473.4 680.1h0M473.7 673.2h0M469.7 668.6h0M470.6 673.9h0M471.7 674.2h0M474.3 671.9h0M475.5 663.5h0M471.8 668.7h0M474.8 678.8h0M474.9 673.7h0M470.4 672.5h0M472 670.9h0M472.5 673.5h0M471.9 677.6h0M475.1 672.5h0M472 676.5h0M475.5 667.2h0M469.5 673h0M475 674.4h0M475.3 663.4h0M477 674h0M471.8 664.4h0M477.8 672.5h0M476 676.7h0M476.5 671h0M469.7 680.2h0M474.8 664.7h0M475.5 673.2h0M473.3 669.7h0M477.3 673.4h0M470.9 673.7h0M473.9 677h0M475.2 677.2h0M473.1 671.5h0M476.6 665.5h0M472.4 674.7h0M471 673.4h0M472.8 667.2h0M474.5 675h0M476.9 664h0M469.7 675.3h0M470.7 669.2h0M477 677.4h0M469.7 667.6h0M471.7 671.5h0M474.2 678.4h0M477.2 668.1h0M472.9 676.2h0M473.4 677.3h0M472 671.7h0M472.2 678.7h0M472.8 673.8h0M473.9 669.8h0M478.6 663.6h0M472.7 679.1h0M472.9 672.8h0M472.4 672.5h0M475 676.2h0M475.8 663.9h0M472.6 673.8h0M476.4 671.1h0M469.2 674.2h0M472.7 677h0M473 673h0M477.1 673.7h0M472.3 672.1h0M474.4 675.9h0M469.4 678.5h0M472.2 679.8h0M469.8 680.5h0M472.5 669.2h0M476.3 672.9h0M474.4 675.4h0M473.4 671.5h0M474.9 677.9h0M473.7 676.7h0M474.5 678.5h0M474.6 667h0M473 678.3h0M473.9 674.5h0M474.4 677.4h0M472.9 676.6h0M473.3 671.4h0M475.5 675h0M471.2 674h0M475.2 680h0M473 664.8h0M475.5 674.6h0M471.5 675.5h0M473.9 677h0" stroke="#0a0a0a" stroke-width="1" stroke-linecap="round" stroke-opacity="0.72"/>
<path d="M482.3 656.1h0M481.5 663.9h0M482.9 662h0M483.2 661.8h0M483.3 656.6h0M482.8 666.9h0M485.9 662.9h0M486.2 666.1h0M485.9 660.9h0M482.8 659.7h0M481.5 658.2h0M481.9 666.4h0M486.1 664.7h0M483.8 660.8h0M486.8 657.6h0M483.2 661.4h0M482 655.1h0M486.5 657.4h0M480.6 674.2h0M486.3 666.9h0M483.1 674.9h0M483.5 654.6h0M481.3 659h0M485.6 656.4h0M482.2 669.7h0M483 654.3h0M485.9 664.1h0M484.8 667.4h0M481.3 663.5h0M482.9 656.1h0M481.8 671.1h0M483.7 668.1h0M483.1 664.2h0M482.8 672.7h0M484.6 656.6h0M483.1 670.5h0M484.7 661.2h0M480.9 674.9h0M485.3 657.7h0M486.5 673.8h0M482.2 663.4h0M483.4 670.4h0M481.8 655.7h0M484 669.4h0M484.5 654h0M482.6 667.1h0M485.9 674.7h0M482.8 670.1h0M480.9 673.2h0M480.1 667.8h0M486.5 658.1h0M482.7 661.2h0M486.5 660.9h0M484.6 670.7h0M482.4 658.9h0M484.7 662.7h0M481.2 660.5h0M484 665.2h0M482.4 662.7h0M487.1 655.3h0M486.7 655.8h0M483.1 660.3h0M485.1 659.3h0M486.5 655.8h0M486.6 665.7h0M480.6 673h0M483.6 667.2h0M483.6 659.2h0M483.2 654h0M479.8 659.2h0" stroke="#0a0a0a" stroke-width="1" stroke-linecap="round" stroke-opacity="0.72"/>
<path d="M492.5 655.4h0M494.8 657.2h0M492.9 659.2h0M493.1 671.3h0M493.2 655.1h0M493.3 667.9h0M494 662.2h0M491.5 670.5h0M492.6 652.5h0M492.6 658.3h0M495.5 671.6h0M494.5 669.7h0M495.3 666.3h0M494.6 651.9h0M491.9 659.6h0M494 664.9h0M490.9 654.9h0M492.1 665.8h0M492.6 670.8h0M493.5 663.4h0" stroke="#0a0a0a" stroke-width="1" stroke-linecap="round" stroke-opacity="0.72"/>
<path d="M504.3 677.3h0M503.2 679.7h0M502.6 674.3h0M500.1 666.9h0M500.5 667.1h0M503.6 666.9h0M502.7 675h0M504.1 682.2h0M505.1 677.6h0M505.6 671.5h0M504.4 670.2h0M504.8 673.8h0M502.2 682.3h0M504.2 668.1h0M503.2 666.5h0M503.2 672.5h0M503.2 683.5h0M501.5 684.5h0M505.7 683.9h0M503.2 671.9h0M502.9 683.9h0M501.9 676.7h0M501.5 673.3h0M503.8 678.6h0M504 675.8h0M504.4 667.6h0M505.4 681.5h0M502.2 670.1h0M506 671.4h0M503.7 673.4h0" stroke="#0a0a0a" stroke-width="1" stroke-linecap="round" stroke-opacity="0.72"/>
<path d="M511.3 665.9h0M514.8 677.7h0M513.7 680.9h0M512.8 670.9h0M513.3 685.5h0M513.1 673.9h0M512.8 685.7h0M513.7 679.9h0M511.9 668.9h0M511.9 674.5h0M511.1 671.4h0M515.4 672h0M511.2 670.3h0M513.5 680.3h0M510.6 672.3h0M511.5 681.8h0M514.4 676.4h0M512.4 673.4h0M511.7 667h0M511.2 668.7h0M512.5 668.5h0M514.8 686.1h0M514.6 668.2h0M511.8 671.6h0M512.2 684.6h0" stroke="#0a0a0a" stroke-width="1" stroke-linecap="round" stroke-opacity="0.72"/>
<line x1="429.7" y1="645" x2="429.7" y2="689.9" stroke="#231f20" stroke-width="1.1"/>
<line x1="429.2" y1="689.4" x2="518" y2="689.4" stroke="#231f20" stroke-width="1.2"/>
<line x1="427" y1="649.4" x2="429.7" y2="649.4" stroke="#231f20" stroke-width="0.9"/>
<line x1="427" y1="657.2" x2="429.7" y2="657.2" stroke="#231f20" stroke-width="0.9"/>
<line x1="427" y1="665.6" x2="429.7" y2="665.6" stroke="#231f20" stroke-width="0.9"/>
<line x1="427" y1="673.5" x2="429.7" y2="673.5" stroke="#231f20" stroke-width="0.9"/>
<line x1="427" y1="681.4" x2="429.7" y2="681.4" stroke="#231f20" stroke-width="0.9"/>
<line x1="427" y1="689.4" x2="429.7" y2="689.4" stroke="#231f20" stroke-width="0.9"/>
<line x1="435.2" y1="689.4" x2="435.2" y2="692" stroke="#231f20" stroke-width="0.9"/>
<line x1="444.9" y1="689.4" x2="444.9" y2="692" stroke="#231f20" stroke-width="0.9"/>
<line x1="454.6" y1="689.4" x2="454.6" y2="692" stroke="#231f20" stroke-width="0.9"/>
<line x1="464.3" y1="689.4" x2="464.3" y2="692" stroke="#231f20" stroke-width="0.9"/>
<line x1="474" y1="689.4" x2="474" y2="692" stroke="#231f20" stroke-width="0.9"/>
<line x1="483.7" y1="689.4" x2="483.7" y2="692" stroke="#231f20" stroke-width="0.9"/>
<line x1="493.4" y1="689.4" x2="493.4" y2="692" stroke="#231f20" stroke-width="0.9"/>
<line x1="503.1" y1="689.4" x2="503.1" y2="692" stroke="#231f20" stroke-width="0.9"/>
<line x1="512.8" y1="689.4" x2="512.8" y2="692" stroke="#231f20" stroke-width="0.9"/>
<text x="423.4" y="679.7" font-size="8.6" text-anchor="start" fill="#333" font-style="italic" stroke="#333" stroke-width="0.12" transform="rotate(-90 423.4 679.7)" textLength="20" lengthAdjust="spacingAndGlyphs">CD83</text>
<circle cx="435.2" cy="699.2" r="2.3" fill="#d08858" fill-opacity="0.8"/>
<text x="437.6" y="708.8" font-size="7.6" text-anchor="end" fill="#231f20" stroke="#231f20" stroke-width="0.12" transform="rotate(-45 437.6 708.8)">hB1</text>
<circle cx="444.9" cy="699.2" r="2.3" fill="#6ccdc4" fill-opacity="0.8"/>
<text x="447.3" y="708.8" font-size="7.6" text-anchor="end" fill="#231f20" stroke="#231f20" stroke-width="0.12" transform="rotate(-45 447.3 708.8)">hB2</text>
<circle cx="454.6" cy="699.2" r="2.3" fill="#c4c2dc" fill-opacity="0.8"/>
<text x="457" y="708.8" font-size="7.6" text-anchor="end" fill="#231f20" stroke="#231f20" stroke-width="0.12" transform="rotate(-45 457 708.8)">hB3</text>
<circle cx="464.3" cy="699.2" r="2.3" fill="#c8cfa9" fill-opacity="0.8"/>
<text x="466.7" y="708.8" font-size="7.6" text-anchor="end" fill="#231f20" stroke="#231f20" stroke-width="0.12" transform="rotate(-45 466.7 708.8)">hB4</text>
<circle cx="474" cy="699.2" r="2.3" fill="#80c066" fill-opacity="0.8"/>
<text x="476.4" y="708.8" font-size="7.6" text-anchor="end" fill="#231f20" stroke="#231f20" stroke-width="0.12" transform="rotate(-45 476.4 708.8)">hB5</text>
<circle cx="483.7" cy="699.2" r="2.3" fill="#7e7ed0" fill-opacity="0.8"/>
<text x="486.1" y="708.8" font-size="7.6" text-anchor="end" fill="#231f20" stroke="#231f20" stroke-width="0.12" transform="rotate(-45 486.1 708.8)">hB6</text>
<circle cx="493.4" cy="699.2" r="2.3" fill="#853f95" fill-opacity="0.8"/>
<text x="495.8" y="708.8" font-size="7.6" text-anchor="end" fill="#231f20" stroke="#231f20" stroke-width="0.12" transform="rotate(-45 495.8 708.8)">hB7</text>
<circle cx="503.1" cy="699.2" r="2.3" fill="#d2cf3a" fill-opacity="0.8"/>
<text x="505.5" y="708.8" font-size="7.6" text-anchor="end" fill="#231f20" stroke="#231f20" stroke-width="0.12" transform="rotate(-45 505.5 708.8)">hB8</text>
<circle cx="512.8" cy="699.2" r="2.3" fill="#dc62a2" fill-opacity="0.8"/>
<text x="515.2" y="708.8" font-size="7.6" text-anchor="end" fill="#231f20" stroke="#231f20" stroke-width="0.12" transform="rotate(-45 515.2 708.8)">hB9</text>
</svg></body></html>
